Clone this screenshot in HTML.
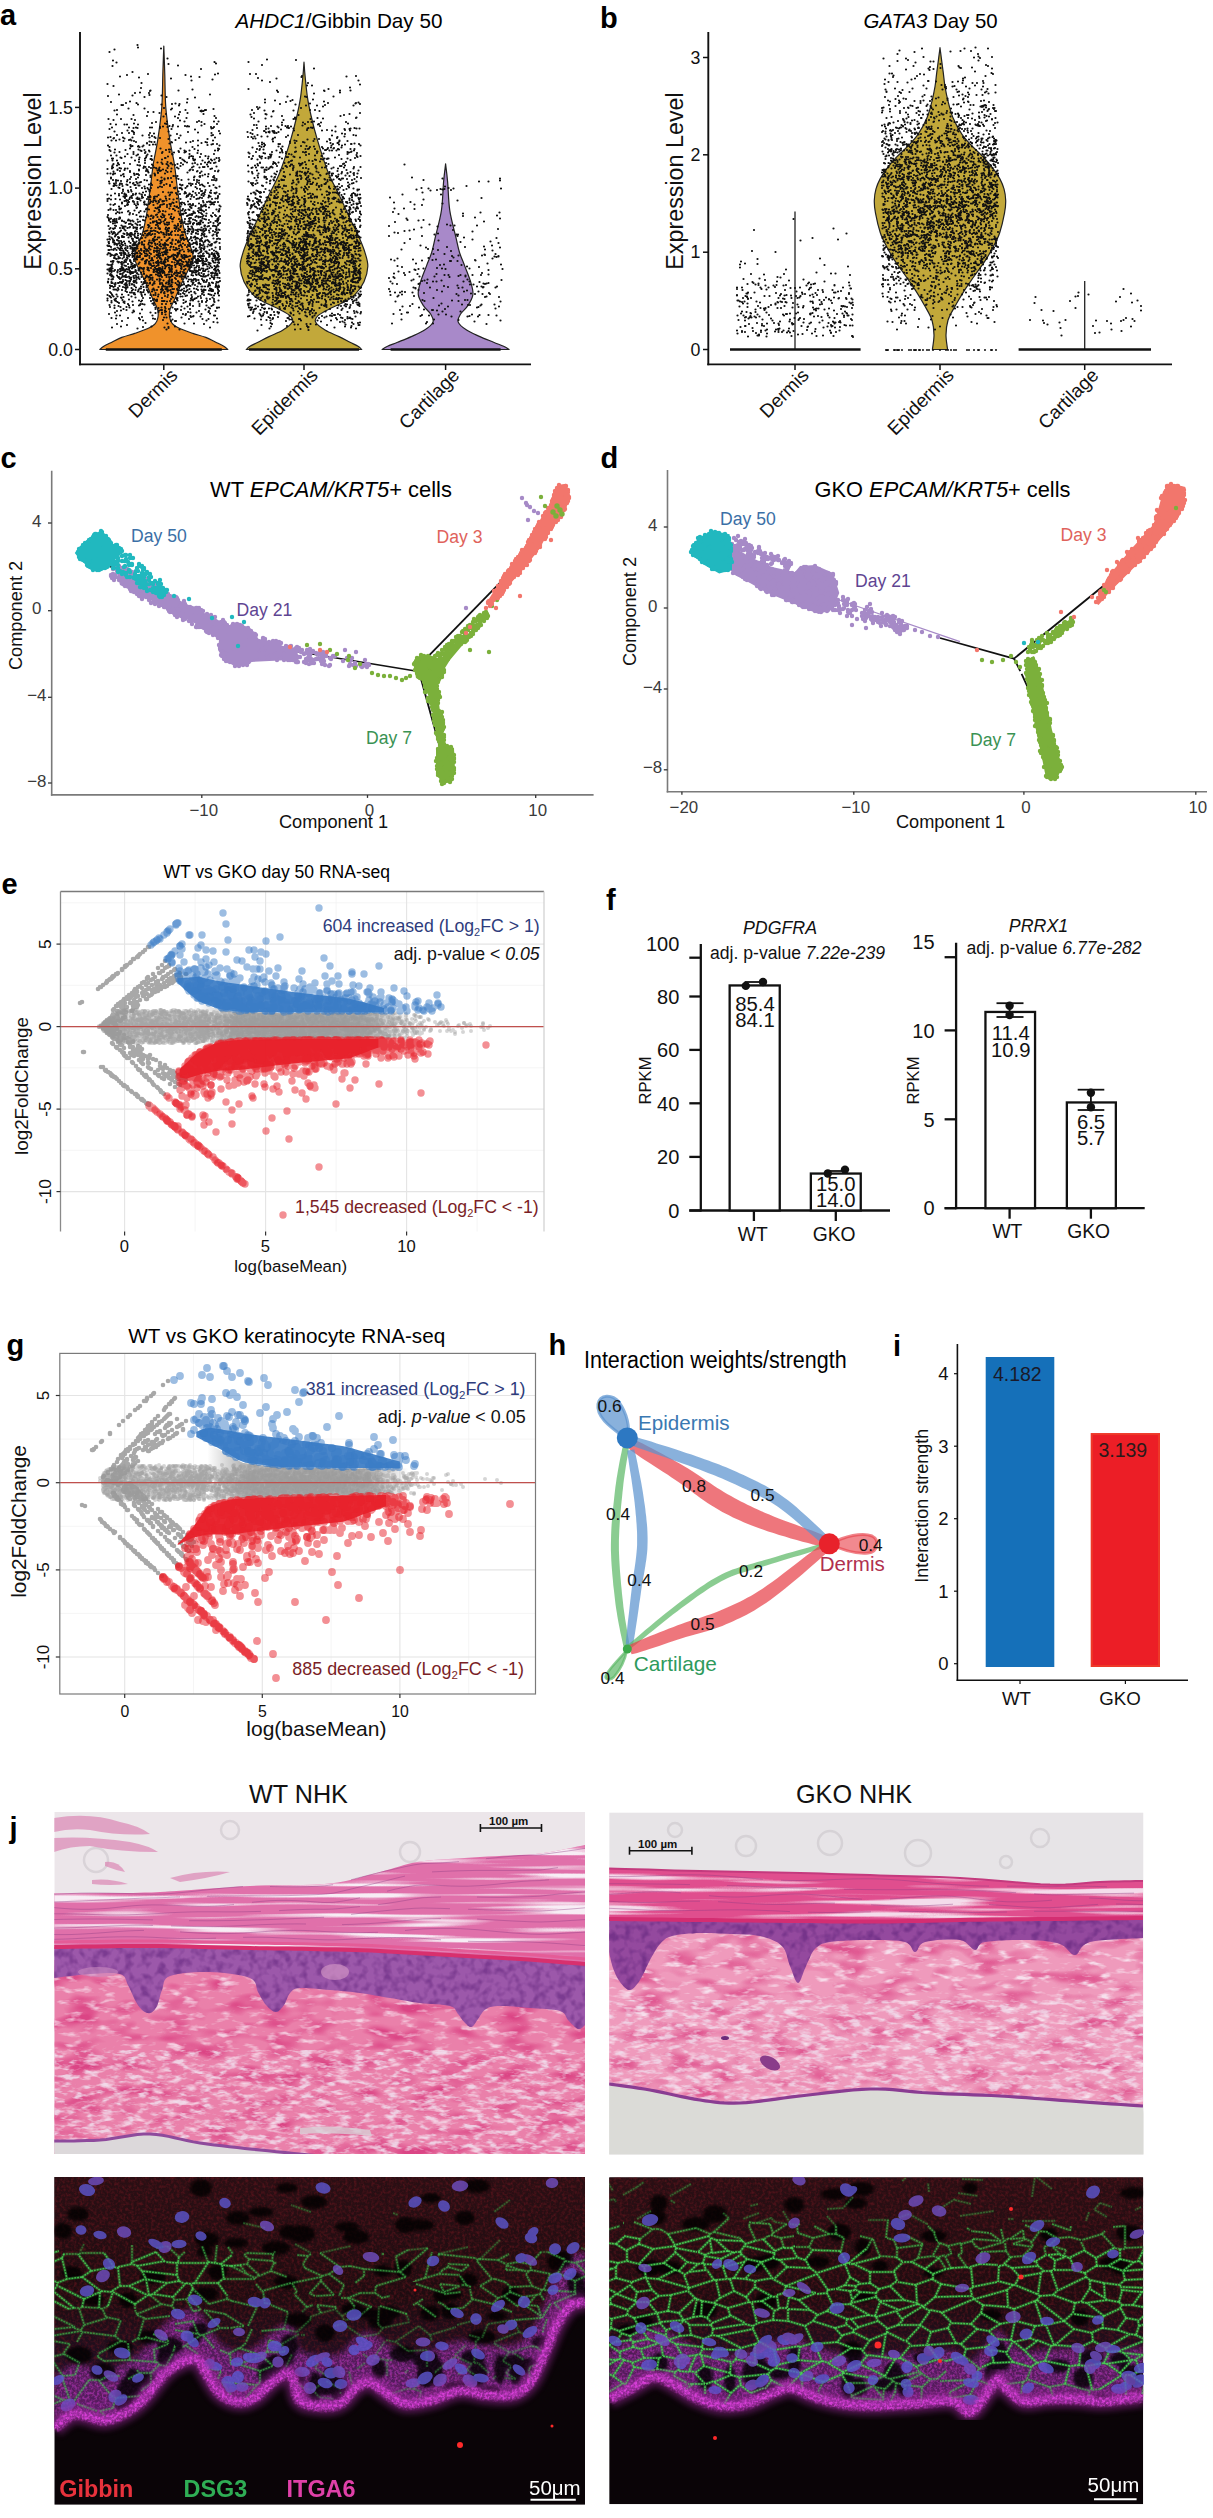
<!DOCTYPE html><html><head><meta charset="utf-8"><style>html,body{margin:0;padding:0;background:#fff;}svg{display:block;} text{font-family:"Liberation Sans", sans-serif;}</style></head><body><svg width="1213" height="2518" viewBox="0 0 1213 2518"><rect width="1213" height="2518" fill="#fff"/><g id="pa">
<text x="0.0" y="25.2" font-size="29" font-weight="bold">a</text>
<text x="235.5" y="28" font-size="20.7"><tspan font-style="italic">AHDC1</tspan>/Gibbin Day 50</text>
<line x1="80.0" y1="32.0" x2="80.0" y2="365.3" stroke="#111" stroke-width="1.9" />
<line x1="79.0" y1="364.4" x2="531.0" y2="364.4" stroke="#111" stroke-width="1.9" />
<line x1="75.0" y1="349.5" x2="80.0" y2="349.5" stroke="#111" stroke-width="1.5" />
<text x="73.0" y="355.8" font-size="17.8" text-anchor="end" fill="#111">0.0</text>
<line x1="75.0" y1="268.8" x2="80.0" y2="268.8" stroke="#111" stroke-width="1.5" />
<text x="73.0" y="275.1" font-size="17.8" text-anchor="end" fill="#111">0.5</text>
<line x1="75.0" y1="188.1" x2="80.0" y2="188.1" stroke="#111" stroke-width="1.5" />
<text x="73.0" y="194.4" font-size="17.8" text-anchor="end" fill="#111">1.0</text>
<line x1="75.0" y1="107.4" x2="80.0" y2="107.4" stroke="#111" stroke-width="1.5" />
<text x="73.0" y="113.7" font-size="17.8" text-anchor="end" fill="#111">1.5</text>
<line x1="163.8" y1="364.4" x2="163.8" y2="370.0" stroke="#111" stroke-width="1.5" />
<line x1="304.0" y1="364.4" x2="304.0" y2="370.0" stroke="#111" stroke-width="1.5" />
<line x1="445.6" y1="364.4" x2="445.6" y2="370.0" stroke="#111" stroke-width="1.5" />
<text x="41.0" y="181.0" font-size="23.3" text-anchor="middle" fill="#111" transform="rotate(-90 41.0 181.0)">Expression Level</text>
<text x="178.8" y="376.5" font-size="19" text-anchor="end" fill="#111" transform="rotate(-45 178.8 376.5)">Dermis</text>
<text x="319.0" y="376.5" font-size="19" text-anchor="end" fill="#111" transform="rotate(-45 319.0 376.5)">Epidermis</text>
<text x="460.6" y="376.5" font-size="19" text-anchor="end" fill="#111" transform="rotate(-45 460.6 376.5)">Cartilage</text>
<path d="M227.8 349.5C227.1 349.0 225.8 347.5 223.8 346.3C221.8 345.1 218.8 343.7 215.8 342.2C212.8 340.8 209.6 338.9 205.8 337.4C202.0 335.9 197.1 334.8 192.8 333.4C188.5 331.9 183.2 330.1 179.8 328.5C176.4 326.9 174.0 325.6 172.3 323.7C170.6 321.8 170.0 319.6 169.6 317.2C169.2 314.8 169.2 312.4 170.1 309.1C171.1 305.9 173.2 302.6 175.3 297.9C177.4 293.1 180.6 285.5 182.8 280.7C185.0 276.0 186.9 273.1 188.6 269.3C190.3 265.4 192.9 261.5 193.2 257.7C193.5 253.8 191.6 250.0 190.3 246.2C189.1 242.4 187.0 238.7 185.7 234.9C184.5 231.1 183.7 227.5 182.8 223.6C181.9 219.7 181.1 215.4 180.5 211.5C179.9 207.6 179.5 203.9 179.0 200.0C178.5 196.1 178.1 194.1 177.3 188.1C176.5 182.1 175.6 172.0 174.3 163.9C173.1 155.8 171.2 149.1 169.8 139.7C168.4 130.3 166.6 118.2 165.8 107.4C165.0 96.6 165.1 85.3 164.8 75.1C164.5 64.9 164.0 50.9 163.8 46.1L163.8 46.1C163.6 50.9 163.1 64.9 162.8 75.1C162.5 85.3 162.6 96.6 161.8 107.4C161.0 118.2 159.2 130.3 157.8 139.7C156.4 149.1 154.6 155.8 153.3 163.9C152.1 172.0 151.1 182.1 150.3 188.1C149.5 194.1 149.1 196.1 148.6 200.0C148.1 203.9 147.7 207.6 147.1 211.5C146.5 215.4 145.7 219.7 144.8 223.6C143.9 227.5 143.2 231.1 141.9 234.9C140.7 238.7 138.6 242.4 137.3 246.2C136.1 250.0 134.1 253.8 134.4 257.7C134.7 261.5 137.3 265.4 139.0 269.3C140.7 273.1 142.6 276.0 144.8 280.7C147.0 285.5 150.2 293.1 152.3 297.9C154.4 302.6 156.6 305.9 157.5 309.1C158.4 312.4 158.4 314.8 158.0 317.2C157.6 319.6 157.0 321.8 155.3 323.7C153.6 325.6 151.2 326.9 147.8 328.5C144.4 330.1 139.1 331.9 134.8 333.4C130.5 334.8 125.6 335.9 121.8 337.4C118.0 338.9 114.8 340.8 111.8 342.2C108.8 343.7 105.8 345.1 103.8 346.3C101.8 347.5 100.5 349.0 99.8 349.5Z" fill="#F0922B" stroke="#222" stroke-width="1.2" stroke-linejoin="round"/>
<path d="M361.7 349.5C361.1 349.0 359.9 347.5 358.0 346.3C356.1 345.1 353.2 343.9 350.0 342.2C346.8 340.6 343.2 338.6 339.0 336.6C334.8 334.6 328.9 332.6 325.0 330.1C321.1 327.7 316.8 324.5 315.6 322.1C314.4 319.6 315.5 317.9 318.0 315.6C320.5 313.3 325.9 310.8 330.6 308.3C335.3 305.9 341.9 303.4 346.0 301.1C350.1 298.8 352.0 297.9 355.0 294.6C358.0 291.4 361.9 286.4 364.0 281.7C366.1 277.0 367.6 271.2 367.8 266.4C368.0 261.5 366.4 257.4 365.0 252.7C363.6 248.0 361.7 243.5 359.4 238.1C357.1 232.8 354.3 227.4 351.0 220.4C347.7 213.4 343.5 204.2 339.7 196.2C335.9 188.1 331.7 181.4 328.0 172.0C324.3 162.5 320.1 149.1 317.3 139.7C314.5 130.3 312.6 122.5 311.0 115.5C309.4 108.5 308.5 104.4 307.5 97.7C306.5 91.0 305.6 81.0 305.0 75.1C304.4 69.2 304.2 64.4 304.0 62.2L304.0 62.2C303.8 64.4 303.6 69.2 303.0 75.1C302.4 81.0 301.5 91.0 300.5 97.7C299.5 104.4 298.6 108.5 297.0 115.5C295.4 122.5 293.5 130.3 290.7 139.7C287.9 149.1 283.7 162.5 280.0 172.0C276.3 181.4 272.1 188.1 268.3 196.2C264.5 204.2 260.3 213.4 257.0 220.4C253.7 227.4 250.9 232.8 248.6 238.1C246.3 243.5 244.4 248.0 243.0 252.7C241.6 257.4 240.0 261.5 240.2 266.4C240.4 271.2 241.9 277.0 244.0 281.7C246.1 286.4 250.0 291.4 253.0 294.6C256.0 297.9 257.9 298.8 262.0 301.1C266.1 303.4 272.7 305.9 277.4 308.3C282.1 310.8 287.5 313.3 290.0 315.6C292.5 317.9 293.6 319.6 292.4 322.1C291.2 324.5 286.9 327.7 283.0 330.1C279.1 332.6 273.2 334.6 269.0 336.6C264.8 338.6 261.2 340.6 258.0 342.2C254.8 343.9 251.9 345.1 250.0 346.3C248.1 347.5 246.9 349.0 246.3 349.5Z" fill="#C2A83A" stroke="#222" stroke-width="1.2" stroke-linejoin="round"/>
<path d="M509.1 349.5C508.2 349.0 506.2 347.5 503.6 346.3C501.0 345.1 497.6 343.9 493.6 342.2C489.7 340.6 484.4 338.6 479.9 336.6C475.4 334.6 470.2 332.6 466.6 330.1C463.0 327.7 459.2 324.8 458.2 322.1C457.2 319.4 459.0 316.7 460.6 314.0C462.2 311.3 465.6 309.2 467.6 305.9C469.7 302.7 472.4 298.7 472.9 294.6C473.4 290.6 472.0 286.6 470.6 281.7C469.2 276.9 466.4 270.4 464.6 265.6C462.8 260.7 461.0 257.2 459.6 252.7C458.2 248.1 457.7 245.1 456.1 238.1C454.5 231.1 451.2 220.1 449.8 210.7C448.4 201.3 448.3 189.4 447.6 181.6C446.9 173.8 445.9 166.8 445.6 163.9L445.6 163.9C445.3 166.8 444.3 173.8 443.6 181.6C442.9 189.4 442.8 201.3 441.4 210.7C440.0 220.1 436.7 231.1 435.1 238.1C433.5 245.1 433.0 248.1 431.6 252.7C430.2 257.2 428.4 260.7 426.6 265.6C424.8 270.4 422.0 276.9 420.6 281.7C419.2 286.6 417.8 290.6 418.3 294.6C418.8 298.7 421.6 302.7 423.6 305.9C425.7 309.2 429.0 311.3 430.6 314.0C432.2 316.7 434.0 319.4 433.0 322.1C432.0 324.8 428.2 327.7 424.6 330.1C421.0 332.6 415.8 334.6 411.3 336.6C406.8 338.6 401.6 340.6 397.6 342.2C393.7 343.9 390.2 345.1 387.6 346.3C385.0 347.5 383.0 349.0 382.1 349.5Z" fill="#A889C9" stroke="#222" stroke-width="1.2" stroke-linejoin="round"/>
<path transform="scale(0.5)" d="M275 90h0m1 5h0m-57 9h0m10-5h0m93-2h0m13 20h0m199 2h0m-308 2h0m7 4h0m104 3h0m19 3h0m73-7h0m3 3h0m65-3h0m27 6h0m68-10h0m-367 12h0m177 6h0m226-1h0m-388 16h0m14-3h0m11-6h0m13 11h0m18-7h0m75 2h0m11 3h0m17 1h0m31-5h0m6-2h0m64 1h0m12 0h0m91 6h0m1-2h0m89 1h0m19-1h0m-429 14h0m59-9h0m41 4h0m42-2h0m91-3h0m8 5h0m16 3h0m13-7h0m63 9h0m101-5h0m-502 7h0m12 4h0m55 4h0m103 3h0m112-1h0m117-7h0m10 0h0m33 7h0m43-3h0m20-6h0m-482 20h0m27 2h0m5-5h0m10-1h0m18 1h0m1 4h0m1-8h0m1-1h0m22 10h0m34-10h0m63 8h0m134-8h0m2 3h0m72 3h0m20-6h0m1 1h0m31 3h0m0-4h0m21 0h0m-485 11h0m44 11h0m29-9h0m44 0h0m42 4h0m15-3h0m140 4h0m20 2h0m25-8h0m6 9h0m4-2h0m25-7h0m3 1h0m13 5h0m22 4h0m19-10h0m-445 11h0m21 6h0m3 0h0m6-4h0m21 0h0m3 3h0m47 0h0m21-1h0m7-1h0m7 4h0m1-3h0m15-3h0m24 10h0m116-1h0m5 1h0m11-10h0m30 3h0m12-4h0m19 5h0m21 2h0m8-4h0m14 4h0m12 2h0m4-3h0m6-4h0m51 5h0m4-4h0m1-1h0m5-1h0m3 3h0m-491 13h0m5-1h0m23-3h0m32 0h0m7 7h0m11 0h0m12 2h0m9-10h0m14 3h0m2-2h0m16 7h0m11-4h0m4 6h0m26-4h0m2-1h0m0 2h0m1-1h0m3 0h0m3-2h0m2 0h0m15-2h0m77 2h0m4 6h0m8-8h0m13 3h0m17 2h0m1-1h0m40-1h0m15-5h0m18 4h0m10 0h0m9 2h0m81 4h0m-503 12h0m17-9h0m8 9h0m21 0h0m4-8h0m27 2h0m33 1h0m5-5h0m18 5h0m6 3h0m2-7h0m15 7h0m34-8h0m22 4h0m3 4h0m69-7h0m2 5h0m5 3h0m23 0h0m0-9h0m2 1h0m10 4h0m21-1h0m23 6h0m3-3h0m1 3h0m6-8h0m24 8h0m14-2h0m11 1h0m35-5h0m7-2h0m11-2h0m13 8h0m1-1h0m-492 13h0m6-8h0m5 9h0m17 0h0m5 0h0m14-2h0m2-7h0m6 9h0m28-3h0m8-2h0m18 3h0m3 1h0m1-5h0m12 7h0m14-9h0m9 2h0m25 1h0m4-2h0m5 9h0m0-7h0m6 4h0m19-5h0m6 5h0m3-5h0m71 7h0m5 0h0m4-7h0m47 7h0m0-5h0m3-5h0m38 11h0m1-6h0m4 3h0m6-4h0m7 0h0m5-1h0m8 6h0m2-1h0m4-3h0m50-1h0m4 3h0m-477 11h0m5-3h0m5 8h0m26-2h0m3-6h0m6 7h0m2 1h0m1-7h0m5-1h0m3 1h0m25-1h0m4 0h0m16-1h0m0 2h0m6-3h0m9 1h0m2 9h0m2-11h0m4 6h0m2-5h0m11 0h0m14-1h0m4 1h0m1-1h0m3 1h0m12 6h0m32-5h0m1 3h0m3-1h0m2-2h0m10 8h0m67-2h0m9-4h0m14 6h0m1 0h0m3-4h0m0-5h0m5 4h0m2 6h0m3-11h0m3 10h0m3 0h0m7-9h0m2 2h0m5 4h0m9-7h0m3 3h0m2-3h0m1 4h0m1 0h0m4-3h0m5 4h0m1 4h0m26-1h0m1-3h0m2-1h0m5-1h0m3 1h0m1-1h0m14-3h0m4 9h0m10-1h0m10 1h0m7-8h0m0 10h0m18-5h0m1 2h0m9-2h0m1 3h0m1-4h0m8-1h0m4 1h0m6 0h0m-503 18h0m5-1h0m13-4h0m10-4h0m2 9h0m12-9h0m7 9h0m3-7h0m0-3h0m17 6h0m13-1h0m1 5h0m1-9h0m4 6h0m4-5h0m1 7h0m32-3h0m13-3h0m7 3h0m15-7h0m20 1h0m27 6h0m0-5h0m3 4h0m4 5h0m10-8h0m55-3h0m1 10h0m5-8h0m2 8h0m2-6h0m4 5h0m6-3h0m8 3h0m9-8h0m3 8h0m2-9h0m2 1h0m8 0h0m2-1h0m0 2h0m1 9h0m3-9h0m4-2h0m15 10h0m4-3h0m20-1h0m68 1h0m11 3h0m9-7h0m5 6h0m1-5h0m17 2h0m5 1h0m-489 10h0m4-4h0m1-1h0m4 5h0m7-2h0m8 3h0m2-5h0m9 3h0m3-1h0m2 2h0m5 1h0m4 2h0m22 3h0m0-1h0m5-3h0m4 1h0m6 0h0m2-8h0m9 0h0m17 2h0m2 9h0m4-3h0m1 1h0m7-5h0m7-4h0m14 9h0m9-1h0m5-2h0m10-1h0m7 5h0m8-2h0m3 1h0m1-7h0m11 3h0m80-4h0m5 0h0m6 9h0m7-1h0m4 2h0m17-8h0m1 4h0m0-6h0m34 9h0m0-3h0m9-2h0m1 5h0m3-4h0m13 2h0m3 1h0m6-6h0m12 3h0m2-4h0m9 0h0m16 5h0m5-5h0m1 2h0m1 6h0m13-10h0m1 10h0m2-1h0m2-3h0m0-1h0m16 1h0m14 5h0m-493 4h0m3 3h0m11 5h0m30-2h0m1-6h0m0-1h0m1 3h0m3-1h0m11 1h0m1 6h0m0-7h0m2 2h0m6-1h0m2-2h0m12-1h0m7-1h0m5 0h0m10 8h0m17 2h0m2 0h0m21-2h0m24-3h0m4 4h0m7-7h0m19-1h0m8-1h0m3-1h0m8 0h0m2 9h0m1 1h0m1 0h0m1-7h0m66 4h0m9 3h0m5-6h0m1 6h0m3-4h0m1-5h0m3 10h0m1-6h0m2-3h0m27 3h0m0-5h0m3 0h0m2 9h0m3-4h0m26 2h0m11-3h0m9 6h0m2-6h0m3 6h0m2-1h0m2-3h0m8-1h0m2 5h0m14-4h0m2 3h0m9 1h0m1-2h0m6-1h0m1-4h0m3-3h0m1 9h0m1-1h0m8 2h0m2-9h0m0 10h0m5-4h0m1-4h0m6-2h0m11 9h0m1-10h0m1 0h0m6 10h0m9-10h0m3 3h0m-502 9h0m2 2h0m1 9h0m7-6h0m4 6h0m6-7h0m12-4h0m4 8h0m12 0h0m0-4h0m6 7h0m3-2h0m5-8h0m2 1h0m6-2h0m1 6h0m1-2h0m4 5h0m3-8h0m1 2h0m25 3h0m1-2h0m7-4h0m7 4h0m5 4h0m1 1h0m3-4h0m9-3h0m1 2h0m11-3h0m0 4h0m2-1h0m1-1h0m7 5h0m0-7h0m16 5h0m1-5h0m6 7h0m26 0h0m2-7h0m6 0h0m61 4h0m2 2h0m13-3h0m7-4h0m8 6h0m3 1h0m10 2h0m3 0h0m1-5h0m9-3h0m7 4h0m4-5h0m0 2h0m1 3h0m7-1h0m0 3h0m6 1h0m5 1h0m7-5h0m2-1h0m14 1h0m4 1h0m2-1h0m0 6h0m6-2h0m12 3h0m4-5h0m0-3h0m1 0h0m12 4h0m3-7h0m2 0h0m7 1h0m5 0h0m9 0h0m5 9h0m17-6h0m0 4h0m3-3h0m4-1h0m1-1h0m5-2h0m5 9h0m1-4h0m-499 15h0m9-4h0m1 4h0m1-4h0m8 4h0m7-6h0m2 1h0m7-3h0m13 2h0m7 6h0m8-2h0m1-4h0m11 2h0m0 4h0m2-6h0m1-3h0m8 6h0m1 0h0m1-6h0m1 8h0m0-1h0m20 0h0m6-3h0m1 0h0m5-3h0m24 3h0m1 0h0m4 3h0m3 2h0m2 2h0m8-7h0m1-3h0m4-1h0m3 1h0m0 4h0m1 3h0m2 1h0m1-2h0m10-5h0m5 7h0m6-9h0m5 5h0m1-4h0m1 10h0m4-4h0m2 2h0m5-2h0m4-3h0m5 6h0m0-6h0m1 4h0m59-6h0m5 4h0m1-1h0m2-5h0m9 7h0m4-7h0m1 2h0m3 3h0m1-4h0m7 3h0m6-2h0m0 3h0m4-4h0m0 2h0m1-3h0m17 2h0m5 3h0m9-3h0m3 0h0m6 8h0m2-1h0m3-8h0m2 1h0m11 1h0m18 6h0m7 1h0m5-3h0m2 1h0m8 3h0m2-5h0m1-6h0m3 7h0m3-2h0m5 1h0m1-1h0m2 0h0m13-2h0m13 3h0m12-1h0m6 3h0m9-4h0m4-3h0m1 1h0m6-2h0m-497 22h0m1-3h0m1 4h0m1-7h0m7 3h0m2-5h0m0 1h0m2 2h0m10-3h0m12 2h0m15 2h0m3-6h0m1 7h0m1 0h0m8 2h0m2-7h0m1 8h0m7 0h0m6-5h0m2 2h0m2 4h0m7-10h0m4 10h0m4-10h0m2 3h0m8 0h0m2 1h0m0-5h0m2 8h0m4-5h0m1-1h0m3 3h0m5 1h0m4 5h0m1-7h0m6 4h0m1-6h0m4 3h0m8-4h0m10 10h0m1-8h0m2 6h0m3-7h0m5 3h0m4 6h0m3-7h0m4 6h0m3 0h0m1-9h0m4 4h0m2-4h0m0 8h0m5-7h0m7 0h0m3-1h0m2 8h0m63-2h0m9 4h0m5-4h0m2 4h0m3-7h0m1 3h0m4-5h0m0-1h0m3 10h0m3 0h0m7 0h0m8-1h0m2-1h0m2 2h0m1-7h0m1-4h0m2 2h0m1 0h0m2 2h0m2 4h0m3-7h0m12 1h0m2 6h0m1 0h0m2 2h0m3-9h0m1-1h0m2 8h0m2-3h0m2 0h0m3 6h0m0-3h0m11-5h0m2 4h0m1-3h0m2 1h0m2-3h0m5-2h0m2 5h0m14-1h0m5 6h0m1-2h0m12 3h0m6 0h0m2-9h0m1 6h0m4-4h0m10 7h0m13-3h0m3 0h0m3-4h0m2-1h0m0 8h0m2-4h0m2-7h0m16 10h0m13 0h0m88-5h0m-594 18h0m0-9h0m6 9h0m3-10h0m3 6h0m0 4h0m3 0h0m5-7h0m0-1h0m4-3h0m1 6h0m2-5h0m7 3h0m1-3h0m5 0h0m5 5h0m0 2h0m8 3h0m10-8h0m0 2h0m9-5h0m5 6h0m1-4h0m2 2h0m1 3h0m1 2h0m5-9h0m7 11h0m3-11h0m1 1h0m2 4h0m1 5h0m0-1h0m2-7h0m0 2h0m2 2h0m2-1h0m4-2h0m4 8h0m2-6h0m3-5h0m0 8h0m7-1h0m1-6h0m14 0h0m18 8h0m4-4h0m1-1h0m1-1h0m5 1h0m8 3h0m1-1h0m5 4h0m3-3h0m18-5h0m3-1h0m6 5h0m6 1h0m1-2h0m60 2h0m6-7h0m1 8h0m1 3h0m9-6h0m3 6h0m12-3h0m0-4h0m1-1h0m3 1h0m4-2h0m2-2h0m10 11h0m5-4h0m7-2h0m5-4h0m2 7h0m18-7h0m0 3h0m7 5h0m0 2h0m1-1h0m1-3h0m5 0h0m4 1h0m2-8h0m3 11h0m1-2h0m2 2h0m0-11h0m3 9h0m1-2h0m1-5h0m3 9h0m1 0h0m12-10h0m0 6h0m4 2h0m17 2h0m5-3h0m0 2h0m4-9h0m1 10h0m2 0h0m9-5h0m1-5h0m7 10h0m1-3h0m9-4h0m2 7h0m0-1h0m6-2h0m6 3h0m0-10h0m1 9h0m7 1h0m2-6h0m-495 14h0m0 2h0m4-8h0m16 2h0m4-2h0m1-1h0m1 5h0m12 5h0m2-4h0m7-4h0m3 8h0m1-10h0m3 7h0m0-7h0m2 2h0m14 0h0m9 4h0m0-3h0m9-2h0m0 2h0m13 4h0m6 3h0m0-1h0m0 2h0m7-3h0m0 1h0m6-1h0m5-4h0m4 0h0m2 4h0m2-4h0m2 6h0m20 1h0m11-4h0m1-2h0m10 0h0m1-1h0m0 2h0m5-3h0m5-2h0m6 4h0m1-5h0m9 6h0m2-2h0m1 4h0m4 2h0m76-2h0m6-5h0m1 4h0m13-2h0m0 2h0m3-1h0m1 4h0m1 0h0m9-5h0m4 6h0m2-4h0m1-1h0m2-5h0m11 10h0m4-7h0m3 2h0m0-1h0m10-4h0m12 2h0m2 8h0m0-11h0m1 4h0m1 6h0m4-7h0m2 1h0m0 6h0m1-2h0m8-6h0m1 8h0m2-3h0m2 0h0m1-3h0m2 7h0m6-10h0m2 7h0m4 2h0m6-2h0m3-6h0m1 1h0m8 7h0m1 1h0m3-11h0m6 7h0m4-4h0m1 0h0m0-3h0m3 11h0m5-7h0m2 3h0m2-2h0m1-4h0m1 9h0m1 0h0m5-1h0m2 0h0m5-6h0m3 7h0m5-6h0m9-2h0m1 8h0m5-4h0m8 2h0m102-1h0m61 2h0m115 0h0m-782 6h0m1 4h0m7-7h0m2 7h0m0 4h0m2-1h0m2-4h0m0-6h0m0 2h0m1 9h0m3-10h0m3 9h0m1-3h0m2 0h0m0-5h0m2 6h0m9 1h0m1-6h0m1 7h0m0-10h0m5 5h0m6 2h0m1-1h0m2 4h0m2 0h0m2-6h0m2 3h0m2 4h0m2 0h0m0-6h0m3-1h0m7-4h0m5 1h0m4 8h0m4-2h0m2 3h0m11-10h0m6 3h0m0 4h0m0-5h0m2 3h0m1-4h0m4 9h0m5-2h0m7 2h0m4-6h0m16 5h0m3 2h0m0-11h0m2 10h0m13-3h0m3 0h0m1 4h0m3-3h0m3-8h0m4 8h0m2-8h0m0 4h0m4 2h0m0-5h0m2 9h0m4-1h0m2 2h0m10-5h0m8-6h0m3 10h0m1-10h0m4 1h0m1-1h0m64 3h0m5 3h0m2 3h0m2-3h0m0 5h0m5-3h0m2-7h0m2 5h0m9 5h0m9-6h0m7 2h0m0-5h0m1-1h0m7 0h0m10 8h0m0-7h0m5-2h0m2 0h0m3 11h0m0-11h0m16 7h0m2-6h0m1 4h0m6 4h0m4-6h0m0 2h0m17 4h0m1-3h0m0-5h0m1 2h0m4 0h0m1 5h0m3 0h0m2-3h0m7 5h0m1-3h0m9 4h0m0-1h0m6-2h0m2 0h0m1-2h0m3-3h0m0-3h0m5 0h0m3 1h0m15 7h0m3-8h0m15 5h0m3 4h0m5-2h0m0-7h0m3 6h0m6-3h0m134-3h0m111 3h0m19 0h0m23-2h0m-777 17h0m4-6h0m1 0h0m9 3h0m2 1h0m6-4h0m1 10h0m0-3h0m10 2h0m5-7h0m1 6h0m1 3h0m9-7h0m12 0h0m5-3h0m1 4h0m2 6h0m3-7h0m2 3h0m2 4h0m0-3h0m1 1h0m2-5h0m14-1h0m4-2h0m4 1h0m16-2h0m8 4h0m2 1h0m1-2h0m6 8h0m2-7h0m2 0h0m2 1h0m1 2h0m7-3h0m3-3h0m1-1h0m11 11h0m5-9h0m3 3h0m6 1h0m2 4h0m2 0h0m5-9h0m2 7h0m8-8h0m3 9h0m9-6h0m2 1h0m6-3h0m74 8h0m2 1h0m11-10h0m5 6h0m8 3h0m10 1h0m2-8h0m0 2h0m2 4h0m2-6h0m1-1h0m1 2h0m3-1h0m5 3h0m3 6h0m0-11h0m4 0h0m4 10h0m7-1h0m1-7h0m1 3h0m2 1h0m5-1h0m1 3h0m0-3h0m0 4h0m0 2h0m10-8h0m5 5h0m0-2h0m2-5h0m0 10h0m2-7h0m3 3h0m3-5h0m16 5h0m4-7h0m0 2h0m0-1h0m3 6h0m2-7h0m10 11h0m1 0h0m4-10h0m0 2h0m2 2h0m8 1h0m1-5h0m2 1h0m4 5h0m0-6h0m1 5h0m1 1h0m3-4h0m4-3h0m3 8h0m6-2h0m3-6h0m2 3h0m0-1h0m9 3h0m8 2h0m0 2h0m3-2h0m115 0h0m10-3h0m14 1h0m4 4h0m13-1h0m7-2h0m4 1h0m1 0h0m3-1h0m1-5h0m7 3h0m5 4h0m5-3h0m26-5h0m69 5h0m-787 12h0m7 2h0m8-4h0m8 1h0m0 3h0m6-5h0m3 7h0m2-6h0m0 2h0m1 4h0m0 2h0m1-3h0m1-3h0m1 3h0m4-8h0m3 11h0m3-3h0m0 1h0m3-5h0m0 2h0m5-1h0m1-2h0m3 8h0m4-8h0m4 2h0m1 4h0m0-3h0m2-5h0m0 10h0m4-5h0m6 4h0m3 0h0m1-2h0m1 2h0m7 0h0m2-1h0m4 0h0m3-3h0m9-6h0m5 9h0m6-8h0m2 6h0m1-2h0m2-4h0m2 0h0m8 1h0m2 3h0m6-1h0m9-1h0m1-3h0m2 2h0m1 8h0m1-3h0m2 1h0m1-2h0m2-3h0m1 1h0m3 5h0m1-3h0m4 4h0m3-8h0m2 4h0m5-4h0m2 9h0m3-5h0m2-3h0m2 5h0m1-6h0m1 3h0m1-5h0m7 11h0m1-3h0m0-1h0m2-6h0m1 8h0m1-7h0m7 0h0m2 1h0m2-2h0m3 7h0m0 2h0m3-6h0m57 5h0m6-6h0m5-2h0m2 0h0m2 2h0m0 2h0m7-5h0m2 9h0m0-7h0m1-2h0m1 1h0m0 9h0m6-10h0m5 11h0m3-1h0m6-4h0m1-5h0m6-1h0m0 8h0m2 3h0m2-6h0m3 5h0m0-9h0m10 7h0m5-7h0m0-1h0m0 8h0m3-1h0m1-2h0m1 5h0m4 1h0m5-1h0m2-2h0m0-5h0m2 7h0m3-8h0m2 7h0m10 2h0m5-3h0m1-8h0m6 4h0m4-1h0m1 8h0m1-3h0m3-4h0m1 1h0m3 6h0m1-2h0m4 0h0m0 2h0m10-6h0m5 6h0m5-5h0m4-1h0m0-4h0m2 1h0m6-1h0m2 10h0m2-10h0m4 0h0m0 1h0m3 2h0m0 1h0m1-2h0m1-2h0m4 5h0m2 4h0m1 0h0m3-6h0m13 3h0m2 4h0m0-7h0m0 4h0m3-6h0m3 2h0m1 3h0m3 0h0m1-2h0m5 0h0m60 6h0m25-6h0m40-4h0m37 4h0m-667 13h0m0-4h0m3-1h0m4 2h0m9-1h0m9 1h0m4 6h0m0 2h0m5-5h0m1-6h0m2 5h0m1 1h0m0-2h0m2 6h0m1-5h0m2 3h0m1-6h0m5-2h0m2 6h0m0 1h0m1 0h0m1 1h0m5-7h0m2 1h0m0 6h0m0 3h0m3-9h0m1-1h0m2 4h0m3-5h0m4 9h0m1 1h0m0-3h0m5-5h0m6 8h0m0-7h0m1 4h0m1 0h0m4 1h0m1-3h0m1-4h0m1 0h0m2 4h0m1 2h0m3 4h0m2-5h0m1 2h0m2-5h0m1 0h0m4 4h0m0-1h0m1 1h0m2-1h0m4-5h0m1 4h0m6-3h0m6 7h0m2 1h0m0-7h0m6 5h0m1-7h0m7 1h0m0 8h0m3-1h0m4 1h0m8-3h0m5-5h0m12 0h0m3-1h0m2 0h0m0 10h0m6-11h0m2 6h0m1 3h0m7-1h0m4-1h0m2 1h0m1-1h0m2 2h0m1-7h0m0 8h0m3-1h0m3-1h0m1-7h0m4 0h0m1 7h0m58 2h0m1-8h0m2 1h0m1 0h0m1 2h0m7 1h0m3 5h0m2-11h0m3 8h0m0-6h0m2 9h0m0-8h0m2 2h0m0 2h0m2-1h0m0-2h0m3 5h0m8-2h0m4-2h0m4-4h0m1 3h0m6 4h0m2-8h0m2 9h0m1 2h0m0-11h0m3 10h0m0-10h0m6 10h0m2-7h0m2 1h0m1-4h0m2 7h0m4-3h0m1 0h0m2 3h0m0-3h0m2 5h0m0-7h0m2 5h0m0-5h0m5 4h0m2 1h0m0 4h0m1-8h0m1 8h0m1-1h0m7-3h0m0 4h0m1-11h0m1 9h0m1-5h0m1 0h0m9-2h0m1 8h0m0-3h0m0-3h0m1 5h0m0-7h0m1 4h0m6-6h0m5 7h0m2-7h0m5 8h0m7 2h0m6 1h0m4-5h0m4 3h0m1-1h0m5-8h0m1 3h0m0 4h0m1-6h0m5 9h0m2-9h0m2 1h0m1 0h0m3-2h0m3 7h0m3-4h0m1 4h0m0 1h0m1-1h0m1 0h0m0 2h0m4-6h0m0 6h0m1-2h0m2-6h0m1 0h0m4 7h0m1 1h0m1-1h0m1 2h0m4-6h0m0-3h0m1 8h0m4-5h0m3 3h0m6 4h0m3 0h0m1-11h0m1 3h0m1 4h0m1 3h0m0-9h0m1-1h0m67 9h0m33-1h0m26-5h0m38 8h0m30-6h0m48-5h0m-742 21h0m0 2h0m0-10h0m6 1h0m3-2h0m8 5h0m1 4h0m0 2h0m2-1h0m1-1h0m8-5h0m4-2h0m1 0h0m1-1h0m13-1h0m3 3h0m1 5h0m1-1h0m2-6h0m13 0h0m3 10h0m1-2h0m0-8h0m1 9h0m0-8h0m1 8h0m3 1h0m0-11h0m9 2h0m4 6h0m3 1h0m2-2h0m2 4h0m1-5h0m1-2h0m0 2h0m1-4h0m4-1h0m3-1h0m6 2h0m0 4h0m5 3h0m0-9h0m2 4h0m1-4h0m4 10h0m1 0h0m2-6h0m4 2h0m1-1h0m3 3h0m4-3h0m2-4h0m3 9h0m4-9h0m7 0h0m0 10h0m3-6h0m0-5h0m1 7h0m2 1h0m0-5h0m1 0h0m2-3h0m0 2h0m5 2h0m6 5h0m1-1h0m4-6h0m0 4h0m0 4h0m3-5h0m2-2h0m1 0h0m3-2h0m0 3h0m1 1h0m6 2h0m3-6h0m3-1h0m4 1h0m5 10h0m6-1h0m0-7h0m2 2h0m54-5h0m0 2h0m6 7h0m1-5h0m1-2h0m0 4h0m2-3h0m3-2h0m2 4h0m2 1h0m3 3h0m3-7h0m2 7h0m0 1h0m4-3h0m2 4h0m1-8h0m1 1h0m3 5h0m3-6h0m6 0h0m0 2h0m1-4h0m10 9h0m1-7h0m6 5h0m0-2h0m1 1h0m3 0h0m5-3h0m7 3h0m4-6h0m3 10h0m1-10h0m1 2h0m2 7h0m1-8h0m3 4h0m2 5h0m0-5h0m6-6h0m3 6h0m3-3h0m5-2h0m1 4h0m1 0h0m0 6h0m5 0h0m2-3h0m1 0h0m8 1h0m0-9h0m3 2h0m2 8h0m2-1h0m5 1h0m3-3h0m2-7h0m1 0h0m0 1h0m1 5h0m1 4h0m1-5h0m1 2h0m2 2h0m2-5h0m0 6h0m4-5h0m3-5h0m13 7h0m10 4h0m6-1h0m1-4h0m3-2h0m1 0h0m6 7h0m0-5h0m1 1h0m1 3h0m2-8h0m4 5h0m0-7h0m4 10h0m2-2h0m1-2h0m0-5h0m1-1h0m0 7h0m1 2h0m6-5h0m67 5h0m19 0h0m21 1h0m0-9h0m15 1h0m-628 20h0m1-10h0m10 0h0m5 7h0m0-7h0m3 4h0m4 1h0m0 1h0m5-1h0m12-2h0m1-1h0m2 7h0m1-3h0m6 2h0m3-7h0m4 9h0m5-5h0m3-3h0m8 1h0m6 7h0m8 1h0m6-9h0m3 8h0m2-1h0m3-4h0m1-5h0m2 3h0m5 5h0m1 2h0m0-8h0m3 9h0m2-8h0m7 6h0m5-1h0m7-7h0m7 2h0m2 4h0m1 3h0m0-1h0m1 1h0m3-2h0m0-7h0m2 8h0m1-2h0m2-5h0m2-2h0m0 6h0m1 0h0m4 5h0m3-2h0m0-9h0m1 10h0m3-2h0m1 2h0m2-3h0m1-4h0m2 2h0m1 1h0m6-4h0m2 3h0m2-5h0m2 6h0m1-5h0m1 7h0m1-7h0m2 10h0m1-8h0m4-3h0m1 7h0m9 4h0m4-5h0m4 4h0m7-7h0m1-2h0m0 2h0m58 3h0m1 3h0m1-5h0m7 1h0m2-1h0m7 6h0m3 0h0m6-7h0m2 1h0m2 5h0m2-2h0m0 2h0m1-4h0m3 4h0m2-9h0m1 1h0m1 6h0m7 2h0m0-3h0m2-5h0m1 4h0m0 2h0m0-5h0m2 1h0m7 7h0m3-5h0m9 4h0m2-8h0m4 9h0m8-3h0m2 2h0m2-6h0m4-1h0m6-1h0m1 7h0m1 2h0m0-9h0m1-1h0m0 4h0m4 2h0m0-1h0m1-5h0m2 8h0m0-7h0m2 9h0m1-10h0m2 11h0m0-8h0m1 2h0m3 4h0m4-9h0m0 11h0m1-3h0m3-3h0m1-5h0m2 8h0m7-6h0m0 2h0m1 4h0m3 0h0m2-8h0m2 2h0m1 1h0m4 5h0m1-3h0m1 3h0m2-7h0m0 2h0m1 0h0m2 5h0m2-5h0m0 8h0m3-8h0m1 8h0m1-4h0m5-2h0m1-4h0m1-1h0m0 7h0m2 2h0m12-1h0m2-5h0m0-3h0m1 4h0m8 0h0m5 4h0m0-7h0m1 6h0m1-1h0m0-4h0m1 6h0m4-3h0m2-1h0m6-2h0m8 4h0m0-3h0m2 6h0m64-5h0m11 4h0m129-1h0m35-2h0m33 6h0m5-6h0m-784 9h0m2 2h0m1 3h0m0 2h0m1-2h0m3-2h0m4 3h0m0 3h0m1-3h0m2-2h0m0 2h0m1 3h0m3-1h0m0-4h0m5 0h0m1-3h0m1 2h0m0-2h0m4 7h0m0-1h0m4 2h0m8-2h0m1-2h0m3 2h0m1 1h0m4-1h0m2 2h0m8-4h0m5-6h0m0 10h0m2-10h0m4 7h0m1-7h0m2 8h0m3-6h0m5-2h0m4 5h0m1-6h0m4 11h0m0-7h0m1-3h0m0 1h0m2 9h0m4-1h0m2-8h0m3 5h0m3 1h0m1-7h0m2 2h0m3 8h0m1-9h0m2 6h0m1-2h0m10-2h0m1-3h0m2 5h0m1 5h0m1-5h0m2-3h0m10 3h0m2 5h0m3-3h0m6 3h0m1-5h0m4-6h0m3 11h0m1-6h0m1 1h0m0 4h0m1-6h0m2 0h0m4 3h0m4 1h0m1-6h0m2 8h0m0-10h0m4 1h0m0 2h0m4 6h0m0-7h0m1 9h0m1-2h0m2-8h0m0 4h0m4 1h0m3 1h0m0-7h0m6 8h0m6-7h0m7 9h0m1-10h0m2 9h0m1-3h0m1 3h0m1-3h0m0-3h0m3-3h0m58 3h0m1 1h0m1 5h0m5-2h0m3 1h0m3 1h0m5-8h0m1 6h0m1 1h0m1-7h0m1 9h0m3-5h0m3 0h0m2 6h0m1-1h0m0-7h0m0 2h0m0 2h0m0-5h0m2 8h0m3-3h0m2-5h0m1 1h0m1 3h0m6 5h0m3-2h0m2-2h0m0-3h0m2-4h0m1 0h0m5 7h0m0-5h0m2 6h0m2 3h0m6-7h0m4-3h0m2 8h0m4-8h0m1 10h0m0-1h0m3-8h0m0 1h0m1 8h0m1-5h0m3-5h0m2 1h0m2 7h0m1 2h0m1-5h0m1 1h0m0 4h0m0-9h0m4 5h0m3 3h0m1-5h0m2-5h0m2 6h0m2-1h0m1-2h0m1 8h0m6-1h0m1-9h0m1 2h0m2 1h0m2 2h0m3 5h0m2-1h0m2-5h0m0 5h0m2-5h0m0-3h0m1 0h0m0 6h0m6 3h0m0-7h0m1 3h0m9 2h0m1-6h0m0 2h0m3 4h0m1-9h0m1 4h0m7-2h0m1 0h0m1 8h0m5 1h0m3-6h0m3 4h0m1-2h0m3 3h0m3-7h0m4 0h0m0-3h0m1 5h0m1-4h0m1 3h0m1 1h0m3-2h0m3 7h0m4-1h0m0-4h0m0-5h0m2 6h0m0 5h0m2 0h0m0-4h0m9 0h0m1 3h0m5-4h0m2-4h0m1 6h0m0 2h0m93-5h0m2 3h0m22 1h0m10-1h0m79-8h0m24 3h0m18 8h0m32-6h0m-783 15h0m4-8h0m5 3h0m4 4h0m0-5h0m2 6h0m2-7h0m9 6h0m3 2h0m3 0h0m2 0h0m0-7h0m1-1h0m6 3h0m1 7h0m1-1h0m1-7h0m2 2h0m1 1h0m1 0h0m2 4h0m4 1h0m0-8h0m3 2h0m0 6h0m1-5h0m1-6h0m4 6h0m2 5h0m3-1h0m11-4h0m1 5h0m0-5h0m1 2h0m1 0h0m2-6h0m5-1h0m6 5h0m2-5h0m1 3h0m1 4h0m2-6h0m2 1h0m2-3h0m7 3h0m1 2h0m2 6h0m2-10h0m0 4h0m1 1h0m3-5h0m0 3h0m11 3h0m1 0h0m3 2h0m0 2h0m3-7h0m0 3h0m5 3h0m1-2h0m0-5h0m1-3h0m5 2h0m1-2h0m3 4h0m4 5h0m0-5h0m4-1h0m1-3h0m2 9h0m1 1h0m2-7h0m0 2h0m2-3h0m6 1h0m0 2h0m2-1h0m1-2h0m2-1h0m0 4h0m1-4h0m1 3h0m0-4h0m2 11h0m3-10h0m3 6h0m0 2h0m1-2h0m5 2h0m2-7h0m1 6h0m3-8h0m5 8h0m1-1h0m0-5h0m3 6h0m3 1h0m2-9h0m1 6h0m1-2h0m3-2h0m55-2h0m1 2h0m1 0h0m2 9h0m0-5h0m1 3h0m1-6h0m1 7h0m3-5h0m2 6h0m4-2h0m5 1h0m11-4h0m1 3h0m2-8h0m0 9h0m1-1h0m3-5h0m1 2h0m5 5h0m1-4h0m0-4h0m1 3h0m5-4h0m3-2h0m4 0h0m0 2h0m0 6h0m5-2h0m5 1h0m2 1h0m3-4h0m6 0h0m1 6h0m6-1h0m0 2h0m1-1h0m7-1h0m3-5h0m3 1h0m0 4h0m1-3h0m3-4h0m0-2h0m2 9h0m1-1h0m4-8h0m2 5h0m3 1h0m0 4h0m0-3h0m1-2h0m3 2h0m1-4h0m1-2h0m1 6h0m1 4h0m1 0h0m0-7h0m0-3h0m0 4h0m0-5h0m1 0h0m1 0h0m0 9h0m2-9h0m0 2h0m0 2h0m3-1h0m2 5h0m2-5h0m4 8h0m1-1h0m1-10h0m1 8h0m1 1h0m3 1h0m4 1h0m2-5h0m0 2h0m0-7h0m1 9h0m6 0h0m2-5h0m1-3h0m5 0h0m3 9h0m3-5h0m1 1h0m3-7h0m2 9h0m1-5h0m1 3h0m1-1h0m5 2h0m3-7h0m3 6h0m1 4h0m1-11h0m7 7h0m1-1h0m5-1h0m4 0h0m1 4h0m0 2h0m0-1h0m10 0h0m1-3h0m57 1h0m12-8h0m53 11h0m16-6h0m16 4h0m19-4h0m7 2h0m8 0h0m45 0h0m-736 14h0m1 2h0m0-9h0m2-2h0m2 7h0m0 1h0m3-7h0m0 10h0m1-9h0m1 6h0m2 2h0m0-10h0m7 9h0m3-2h0m0-7h0m2 5h0m3-5h0m2 11h0m0-11h0m2 3h0m2 2h0m3 5h0m1-10h0m6 10h0m2 0h0m4-10h0m3 7h0m0 4h0m1-5h0m2-4h0m1 5h0m0-5h0m2 9h0m5-10h0m7 6h0m2 4h0m2-5h0m3-1h0m3 6h0m0-1h0m2 0h0m1-4h0m1-5h0m1-1h0m1 6h0m4-1h0m3 1h0m0-6h0m4 8h0m2-8h0m1 10h0m1-8h0m0-1h0m1 1h0m0-1h0m2 7h0m1 1h0m4 1h0m4-8h0m2 2h0m0 4h0m0 2h0m2-5h0m1-4h0m1 5h0m1-6h0m0 1h0m4 8h0m2-2h0m5-7h0m1 6h0m2-5h0m0 1h0m4 4h0m1-4h0m0-1h0m3 3h0m4 4h0m4 0h0m2-5h0m0 5h0m5 3h0m0-5h0m2 0h0m0-5h0m0 2h0m1 4h0m1-5h0m2 1h0m2 8h0m1-4h0m1-6h0m1 7h0m0-6h0m1 1h0m0 2h0m5 5h0m0-6h0m0 7h0m3-5h0m1-3h0m0 4h0m4-4h0m1 1h0m1 0h0m1 1h0m1 6h0m1-7h0m0 1h0m2 3h0m0-6h0m2 4h0m2-5h0m1 1h0m0 2h0m6 1h0m1 4h0m2-8h0m5 5h0m4 2h0m2-5h0m1 2h0m0-5h0m1 10h0m1 0h0m1-1h0m1-6h0m2 1h0m56 7h0m1-5h0m0 2h0m4 3h0m0-11h0m1 7h0m2-6h0m2 4h0m0 2h0m1 1h0m1 0h0m1 2h0m0-9h0m3 4h0m2 4h0m5-9h0m2 8h0m2-6h0m3 2h0m0-3h0m5 9h0m0-4h0m3 0h0m5 0h0m0-5h0m1 0h0m0 2h0m1 7h0m1-8h0m2 7h0m1-5h0m4 4h0m4-6h0m0 8h0m5 1h0m2-9h0m0 8h0m2 0h0m2-7h0m1 2h0m0 2h0m0-5h0m3 5h0m2-3h0m2 6h0m3 1h0m5-11h0m1 3h0m3-2h0m4 7h0m1 3h0m1-8h0m6 7h0m1-9h0m1 6h0m0-5h0m1 6h0m2-5h0m7-3h0m0 2h0m3 0h0m1-2h0m1 8h0m3 2h0m2-9h0m1 3h0m8 1h0m2-4h0m7 4h0m4 2h0m0-2h0m1 4h0m6 0h0m1-5h0m3 2h0m0-5h0m1 5h0m0 2h0m1-4h0m0 4h0m1-6h0m0-1h0m4 1h0m0 4h0m0-5h0m2 3h0m0-3h0m4 10h0m2-4h0m2 3h0m1 0h0m0-7h0m2 3h0m2-2h0m1-4h0m3 3h0m1 5h0m7 3h0m1-11h0m1 8h0m0-7h0m3 1h0m0 3h0m4-2h0m1 4h0m2-3h0m2 6h0m1-6h0m4-3h0m1 4h0m6 1h0m2-5h0m2 4h0m0 4h0m1 0h0m2-2h0m1 0h0m71 2h0m7 1h0m13-4h0m10-1h0m9-2h0m48 8h0m30-7h0m39 3h0m51-5h0m-781 21h0m4-1h0m0-5h0m1 6h0m3-4h0m2 2h0m0-9h0m5 5h0m1-2h0m0-1h0m1 0h0m3-2h0m1 6h0m1 2h0m1-1h0m0 1h0m6-4h0m0 2h0m1 0h0m1-1h0m2 1h0m1-6h0m5 2h0m2-2h0m1 7h0m2-7h0m0 3h0m3 2h0m0-3h0m2 7h0m1 2h0m0-10h0m1 9h0m3-8h0m0 1h0m1 3h0m3 2h0m1-1h0m2 1h0m0-5h0m5 6h0m0-9h0m3 8h0m2-6h0m1 1h0m4 4h0m2-4h0m2-3h0m0 3h0m3-2h0m4 1h0m3-2h0m1 10h0m3-3h0m1-2h0m0-5h0m4 11h0m2-4h0m2 0h0m1 0h0m8-6h0m2 5h0m0-5h0m4 1h0m3 9h0m1-11h0m1 2h0m1 6h0m2-8h0m2 2h0m2 9h0m6-9h0m5 0h0m5 4h0m0 2h0m0-5h0m3-1h0m0 8h0m1-9h0m1 6h0m0-5h0m2 8h0m4 0h0m2-2h0m5 3h0m3-5h0m0 2h0m1-8h0m4 7h0m3-2h0m1 2h0m0 4h0m3-3h0m2 1h0m0-9h0m4 11h0m2-1h0m1-7h0m1 5h0m1-8h0m3 2h0m1-2h0m0 5h0m4 0h0m12-2h0m2 6h0m0-8h0m6 0h0m1 3h0m0 6h0m3-1h0m3 1h0m55-3h0m0 1h0m1-4h0m1 6h0m2-10h0m3 10h0m0-10h0m1 0h0m0 1h0m3 2h0m2 0h0m1 1h0m3 6h0m1-5h0m1 0h0m1-1h0m1 5h0m3-4h0m1 3h0m5-5h0m1-2h0m4 5h0m1-2h0m1 3h0m0 2h0m1-6h0m3 0h0m4 4h0m4-5h0m1 4h0m0 2h0m4-7h0m1-1h0m2 5h0m5 1h0m0-3h0m3 1h0m1 7h0m1-3h0m1 0h0m1-3h0m0-4h0m3 8h0m0-8h0m0-1h0m1 2h0m1 1h0m1-2h0m5 8h0m2-5h0m1-1h0m6 3h0m6 4h0m1 0h0m1-9h0m6 8h0m2 0h0m2 2h0m3-6h0m2 4h0m1 1h0m0-9h0m1 3h0m2 7h0m1-8h0m0-3h0m1 5h0m1 5h0m1-8h0m0 3h0m1 0h0m0-3h0m1 2h0m0 2h0m1-4h0m0 3h0m3 1h0m1-4h0m3 3h0m0 2h0m2 0h0m0-6h0m2 2h0m1 7h0m1 1h0m1-3h0m9-7h0m2 0h0m5 5h0m5 1h0m1-2h0m2 3h0m2 3h0m2-7h0m0 5h0m1-1h0m1-3h0m1-2h0m0 1h0m2 4h0m6 2h0m0-1h0m1-1h0m1-7h0m2 7h0m10-7h0m1 7h0m5-7h0m1 3h0m4 2h0m0 2h0m3-4h0m1 3h0m2-1h0m0-4h0m2 7h0m2-6h0m0 6h0m1-6h0m1 5h0m0-2h0m4-3h0m1 4h0m1-4h0m0-3h0m3 6h0m1-1h0m3 2h0m57-3h0m42 6h0m24-6h0m25-3h0m44 0h0m2 3h0m1-3h0m12 6h0m17 4h0m48-3h0m-778 15h0m2-7h0m1 3h0m0-3h0m8-4h0m0 4h0m1 1h0m1-4h0m1 4h0m0 4h0m1-2h0m3 1h0m1-8h0m0 10h0m2-9h0m1 6h0m1 0h0m0-5h0m1 4h0m1 5h0m2-9h0m1 6h0m1-3h0m2 5h0m2-7h0m2 4h0m1 4h0m7-8h0m3 3h0m4 4h0m1-8h0m1 6h0m0 2h0m1 1h0m0-7h0m1 1h0m1 3h0m1-2h0m1 4h0m1 0h0m0-7h0m4 5h0m1-8h0m1 6h0m5 3h0m0-5h0m0 2h0m4 4h0m0-1h0m1-7h0m8 7h0m0-1h0m1-3h0m1-4h0m3 4h0m1 2h0m1-1h0m1-5h0m3 0h0m0 2h0m2-3h0m0 7h0m1 3h0m4-2h0m4 3h0m0-7h0m1 5h0m1-1h0m2-8h0m3 9h0m1 2h0m1-2h0m1 2h0m1-2h0m0-3h0m2 3h0m1 0h0m0-7h0m0-1h0m1 0h0m2 9h0m5-4h0m2-1h0m1 3h0m1-7h0m6 7h0m1-8h0m4 3h0m0 2h0m1-4h0m3 3h0m1 5h0m1-9h0m0 11h0m4-4h0m2-7h0m2 10h0m6-8h0m0 8h0m3-4h0m2 3h0m3-8h0m1 7h0m2-2h0m1 0h0m4-1h0m0 2h0m1-4h0m1 6h0m0-3h0m6 1h0m0 2h0m0-7h0m2 8h0m1-9h0m1 1h0m1 9h0m2-6h0m0 4h0m3-6h0m1-2h0m4-1h0m1 1h0m1 8h0m0-7h0m2 2h0m1 7h0m2-2h0m1 2h0m1-3h0m5-3h0m2 0h0m1-1h0m1-1h0m6 3h0m55-6h0m2 10h0m0-4h0m1-4h0m2 9h0m2-2h0m1-1h0m1 0h0m1 1h0m3 2h0m0-1h0m6-4h0m1-4h0m0 4h0m3-3h0m2 8h0m0-7h0m0 2h0m2-2h0m1-3h0m0 2h0m2 6h0m4 2h0m1 0h0m1 0h0m1-6h0m1 3h0m1 1h0m1-5h0m0 2h0m5-1h0m0-5h0m1 1h0m0 2h0m0 2h0m4-3h0m1 9h0m3-4h0m1 1h0m1-1h0m1-7h0m3 10h0m0-3h0m0-7h0m2 5h0m1-5h0m2 2h0m2 9h0m5-2h0m1-1h0m1-2h0m2 3h0m3-8h0m2 1h0m2 0h0m1 1h0m2 2h0m3 2h0m1 1h0m1 3h0m1-9h0m1 7h0m0-1h0m0-3h0m1 0h0m3 5h0m1-1h0m1-3h0m5 3h0m0 2h0m1-6h0m1 1h0m2-3h0m2 1h0m1-1h0m0 2h0m2-4h0m2 4h0m0 4h0m1-6h0m2 6h0m0-5h0m0 2h0m0-3h0m0 2h0m2 2h0m3 1h0m2-1h0m0 2h0m0 2h0m1-8h0m5 7h0m2 0h0m1-3h0m1-5h0m0 3h0m1-4h0m1 0h0m1 5h0m0-3h0m5 0h0m2 6h0m0-5h0m1 3h0m0-7h0m2 9h0m4-2h0m1 2h0m3-4h0m0-3h0m2 8h0m2-6h0m3 0h0m2-1h0m0-3h0m1 7h0m1 4h0m0-1h0m1-5h0m0-5h0m3 7h0m0-7h0m2 6h0m1 1h0m2 0h0m0-7h0m2 4h0m2 0h0m1 2h0m0 4h0m1 0h0m3-3h0m0-7h0m3 8h0m0-3h0m0 4h0m1-5h0m1 1h0m2 5h0m1-7h0m1 3h0m0-1h0m1 1h0m2 2h0m0 2h0m1 0h0m1-4h0m1-6h0m1 6h0m4 4h0m3 0h0m2-1h0m5-6h0m3 1h0m0 2h0m0 1h0m2-4h0m0-3h0m1 2h0m2 4h0m1 4h0m0-5h0m0 2h0m2 0h0m89-1h0m32 5h0m36-10h0m44 3h0m60-1h0m3 8h0m13-5h0m-781 6h0m1 8h0m2-8h0m0 8h0m3-6h0m1 5h0m4 1h0m1-2h0m2-1h0m3 3h0m2-5h0m3 2h0m2 3h0m0-1h0m2 2h0m0-5h0m0-1h0m1-2h0m1 4h0m2 4h0m1 2h0m0-1h0m3-5h0m1-1h0m1 4h0m3-4h0m0 6h0m0-9h0m5-1h0m1 1h0m0 4h0m3-2h0m1 0h0m0 4h0m0 4h0m1-1h0m1-4h0m0 4h0m1-4h0m0 4h0m1-6h0m1 0h0m0 4h0m3-3h0m0-3h0m2 3h0m0-5h0m3 10h0m4-4h0m0 2h0m1 1h0m5 1h0m1-6h0m0 6h0m0-8h0m2 4h0m2 4h0m1-3h0m3 3h0m1-6h0m0 1h0m1-4h0m1-1h0m1 7h0m3-6h0m4 8h0m1-5h0m3 6h0m1-5h0m1-3h0m1 7h0m1 0h0m0-5h0m3 6h0m1-4h0m2-5h0m3 4h0m2 0h0m1-1h0m2-4h0m1 10h0m1-6h0m0 7h0m0-3h0m0 2h0m1 0h0m2-2h0m5 0h0m1-5h0m1-2h0m5 6h0m0-5h0m3 6h0m2-4h0m1 1h0m1 2h0m4-2h0m0-5h0m1 10h0m2-1h0m3-7h0m1 5h0m3 4h0m6-9h0m2 5h0m1 4h0m1-11h0m1 9h0m1-9h0m3 8h0m0 3h0m4-9h0m0 9h0m1-2h0m3-2h0m1-2h0m0 4h0m0 2h0m3-2h0m4-6h0m1-3h0m1 7h0m1 1h0m1 2h0m0-6h0m4 1h0m1 2h0m1-6h0m0 3h0m2 7h0m2 0h0m2-10h0m4 7h0m5-2h0m4 3h0m3-6h0m1 8h0m8-9h0m0 4h0m58 1h0m0-7h0m1 6h0m1-2h0m0-1h0m3 1h0m1-4h0m0 1h0m3 6h0m0 3h0m5-9h0m3-1h0m1 0h0m1 9h0m0-3h0m1-4h0m1 9h0m0-3h0m0-7h0m0 4h0m7 5h0m1-1h0m1 1h0m4-9h0m2 10h0m0-7h0m0 1h0m1 3h0m0-5h0m1-2h0m2-1h0m0 3h0m7 8h0m7-8h0m0 2h0m0 5h0m3-5h0m2-2h0m4 4h0m3 0h0m3-6h0m0 8h0m0-3h0m1-1h0m3 5h0m0-9h0m1 10h0m1 0h0m2-6h0m2-2h0m1 4h0m0 2h0m7-6h0m3 5h0m1-5h0m0-3h0m1 2h0m1-2h0m1 10h0m1 1h0m1-7h0m0 2h0m1-1h0m1 0h0m1-2h0m1 8h0m2-11h0m1 7h0m1-3h0m1 4h0m2-3h0m1 3h0m0-5h0m1 6h0m0-9h0m0 10h0m1-4h0m1 0h0m0 2h0m2-2h0m1-6h0m1 4h0m0 2h0m1-4h0m2 5h0m7-2h0m2-5h0m1 6h0m0 3h0m3-2h0m2-4h0m2 4h0m0-5h0m1 6h0m0 2h0m0-3h0m1-6h0m2 1h0m0-1h0m4 5h0m1-1h0m1 0h0m0 6h0m2-4h0m4 3h0m0-3h0m1 0h0m0-3h0m1 1h0m1 0h0m2 0h0m1 5h0m1-2h0m1-1h0m0 4h0m2 0h0m2-3h0m1 2h0m1 0h0m3-3h0m0-5h0m2 6h0m1 2h0m3-7h0m1-3h0m2 2h0m2 3h0m2 5h0m2 0h0m5-7h0m0-1h0m0 2h0m1 1h0m1 2h0m0-6h0m1 8h0m1-5h0m2 4h0m0-5h0m3 3h0m2-1h0m0-5h0m0 2h0m1 7h0m0-5h0m2 4h0m2 0h0m6-4h0m0-3h0m1 0h0m1 2h0m0 8h0m1-6h0m1 0h0m1-5h0m3 0h0m1 10h0m0-5h0m2-1h0m1 0h0m1 5h0m82-2h0m49-4h0m4 3h0m10 0h0m10 2h0m18-6h0m8 8h0m28-8h0m38-1h0m2 6h0m15 2h0m15-6h0m-785 14h0m2-3h0m3 1h0m1 1h0m0 4h0m2-2h0m1 0h0m4 1h0m1 4h0m1-4h0m1-2h0m1 0h0m1-1h0m0 1h0m1 0h0m3 4h0m3-7h0m2 4h0m1-4h0m0 4h0m4-4h0m1 4h0m0 4h0m0-9h0m2 1h0m1 2h0m3 7h0m0-4h0m1 0h0m2-5h0m1 7h0m0-3h0m2 0h0m4-3h0m1 7h0m0-7h0m0 4h0m3 1h0m1-2h0m0-3h0m2 0h0m2 7h0m0-1h0m1-8h0m1 7h0m0-5h0m1 7h0m1 0h0m2 0h0m1-8h0m0 8h0m0-3h0m3-3h0m5-4h0m2 8h0m0-5h0m1 5h0m2 0h0m0-5h0m2 3h0m4-4h0m0 6h0m3-4h0m6-4h0m1 9h0m4-3h0m1-6h0m0 5h0m2 3h0m1-4h0m0 4h0m1 0h0m0 2h0m0-8h0m2 1h0m1 4h0m3-6h0m2 4h0m0 2h0m2-7h0m2 1h0m0 3h0m1-2h0m2 3h0m0-5h0m2 1h0m1 8h0m3 1h0m1 0h0m2-1h0m2-2h0m3 3h0m0-5h0m1 1h0m2 0h0m2 1h0m2 3h0m1-1h0m0-7h0m1 3h0m0 1h0m2-4h0m1-2h0m0 3h0m4 6h0m0-3h0m1 2h0m3 3h0m1-5h0m1 0h0m0 4h0m2 0h0m1-3h0m2 3h0m2-1h0m4-1h0m3-8h0m3 0h0m0 2h0m1 8h0m3-2h0m0 1h0m6-1h0m1-5h0m2 6h0m1 1h0m0-9h0m0 7h0m1-1h0m1 1h0m0-8h0m2 8h0m1 0h0m1-4h0m1-1h0m1 5h0m6-6h0m3 1h0m1 7h0m1-3h0m0 2h0m0-3h0m4-2h0m1-2h0m3 3h0m0 1h0m0 2h0m1-4h0m1-1h0m1 4h0m0 2h0m1 1h0m3-7h0m1-2h0m1 10h0m0-5h0m1-2h0m1 5h0m0-1h0m57 0h0m1 3h0m1-1h0m0-7h0m1 4h0m4 4h0m3-11h0m1 8h0m1-6h0m3 3h0m2-3h0m0 2h0m0-3h0m1 3h0m0 4h0m2-7h0m1 4h0m1 1h0m1 3h0m1-1h0m1-8h0m1 7h0m1-5h0m1 4h0m3 1h0m4 4h0m1-2h0m4-7h0m0 8h0m1 1h0m0-8h0m1 7h0m5-10h0m1 1h0m2 3h0m2 3h0m0-5h0m1 0h0m1 3h0m0-3h0m0 4h0m3 2h0m1 2h0m0-9h0m0 10h0m1-2h0m2-9h0m2 1h0m2-1h0m2 6h0m2-3h0m0 2h0m0 1h0m3 0h0m4-2h0m1-1h0m1 6h0m0-7h0m1 5h0m1 3h0m1-10h0m1 1h0m2 0h0m1 5h0m0 1h0m5-4h0m0 1h0m1 7h0m1 0h0m0-2h0m2 1h0m1-1h0m1-9h0m1 0h0m5 0h0m1 2h0m2 4h0m2-5h0m1 7h0m2 0h0m0 2h0m1-2h0m1-3h0m0 4h0m1 2h0m1-3h0m0-7h0m0 4h0m0 4h0m1-7h0m0 4h0m2 1h0m2-5h0m1 4h0m0-6h0m4 11h0m2 0h0m3-6h0m1-1h0m0 4h0m1 0h0m2 1h0m4-3h0m1 3h0m1-8h0m0 8h0m1-5h0m1-3h0m3 6h0m1-6h0m3 10h0m3-5h0m2-6h0m1 2h0m1 6h0m0-7h0m1 8h0m9-4h0m2 2h0m0-5h0m4 9h0m0-11h0m1 3h0m2 5h0m3 2h0m0-8h0m1 1h0m0 2h0m1-1h0m1 0h0m1 3h0m2-5h0m1 9h0m1-6h0m6 3h0m2-6h0m0 4h0m5-4h0m1 4h0m2 1h0m0-5h0m1 5h0m0 4h0m0-9h0m0 6h0m1-8h0m1 1h0m4 4h0m1 4h0m1-3h0m1 3h0m1 2h0m0-3h0m4-4h0m2 1h0m5 0h0m2 3h0m1-1h0m146-3h0m22 0h0m15 4h0m3 3h0m10-4h0m47 0h0m5-2h0m1 1h0m19 3h0m2-5h0m2 6h0m4-2h0m0 1h0m-775 10h0m2 0h0m2-1h0m0 2h0m1-2h0m1-6h0m1 0h0m2 1h0m2 1h0m2 5h0m2 2h0m0-8h0m0-1h0m1 8h0m2-8h0m2 9h0m2-1h0m1-7h0m3 8h0m1-3h0m2-3h0m1 5h0m1-4h0m2-3h0m5 3h0m0 2h0m1 0h0m1 3h0m3 2h0m3-5h0m0-3h0m1-2h0m1 0h0m2 2h0m1-3h0m1 3h0m5 6h0m4-6h0m2 0h0m1-2h0m4 6h0m0 4h0m1-5h0m0 5h0m1-3h0m0-3h0m1 0h0m1-1h0m4 6h0m0-3h0m1-7h0m2 11h0m1-6h0m2-5h0m0 2h0m2 3h0m1 5h0m5-1h0m1-1h0m0 2h0m1-2h0m0-8h0m2 5h0m0 4h0m1-1h0m1 1h0m2-8h0m1-1h0m1 10h0m0-3h0m1-4h0m1 8h0m3-4h0m0 2h0m2 0h0m1-5h0m0 4h0m0-5h0m1 5h0m0-5h0m0-3h0m4 3h0m1 3h0m1-6h0m7 8h0m3-6h0m1-1h0m0-1h0m1 9h0m1-7h0m1 0h0m0 2h0m3 7h0m0-5h0m1 3h0m1-2h0m0 2h0m0 2h0m0-5h0m3-3h0m0 2h0m1 6h0m2-7h0m2 3h0m1-7h0m2 8h0m2-6h0m3 5h0m2 2h0m3-2h0m0 1h0m1-5h0m1 2h0m2 5h0m1-2h0m1-6h0m1-1h0m1 5h0m0-1h0m0 2h0m1 3h0m0-9h0m4 7h0m0-8h0m2 4h0m0 4h0m1 2h0m1-5h0m0 6h0m1-8h0m0 4h0m1 3h0m0-9h0m1 5h0m1-2h0m0 2h0m3 0h0m1-6h0m2 4h0m1 4h0m0-5h0m0 8h0m1-6h0m0 4h0m0-1h0m0-7h0m4 6h0m2-6h0m0 1h0m1 4h0m1-2h0m3 5h0m2 1h0m2 1h0m4-10h0m0 4h0m1 2h0m0-1h0m2 3h0m1-9h0m2 9h0m0-5h0m2-3h0m1 2h0m2 6h0m0-6h0m1 2h0m1 5h0m0-1h0m2-7h0m54 5h0m0-6h0m1 6h0m0 4h0m1-5h0m2 1h0m0-7h0m0 1h0m4 8h0m1 1h0m3-8h0m3 8h0m2-1h0m2-5h0m5-1h0m0-1h0m1 7h0m2 2h0m1-2h0m0-1h0m1-6h0m0 2h0m0 7h0m1-3h0m0 2h0m1 1h0m2-3h0m0-7h0m1 8h0m0-7h0m5 3h0m2-5h0m0 1h0m1 10h0m0-1h0m0-3h0m1 0h0m0 2h0m2-2h0m0-1h0m4-3h0m4 0h0m1 3h0m0-2h0m1-3h0m0 6h0m4-1h0m0 1h0m2-5h0m1-2h0m3 7h0m3-2h0m1 1h0m0-5h0m4 6h0m2 1h0m0-1h0m1-4h0m0 4h0m1-1h0m2 4h0m0-3h0m3-1h0m2 4h0m0-9h0m0-1h0m1 3h0m3 4h0m1-3h0m0-3h0m4 0h0m2 6h0m1-4h0m0 6h0m3-7h0m1 5h0m1-1h0m3 5h0m4-10h0m3 7h0m1-7h0m1 10h0m1-5h0m0-3h0m1 4h0m3-1h0m1-4h0m1 1h0m1-2h0m0 3h0m1-3h0m1 0h0m1 0h0m2 0h0m2 4h0m3 3h0m0 1h0m2-5h0m3 4h0m0 1h0m1-7h0m2 8h0m0-8h0m6 2h0m1-1h0m3 0h0m3 4h0m1-1h0m1 0h0m2 3h0m1-6h0m1 3h0m4 0h0m3-2h0m1 1h0m1-4h0m1 6h0m1 2h0m0-5h0m1 0h0m2-4h0m1 8h0m1 0h0m1 3h0m1-6h0m0 6h0m0-5h0m1-3h0m0-2h0m2 7h0m0 2h0m1-10h0m1 3h0m1 5h0m2 1h0m0 2h0m2-11h0m5 0h0m5 9h0m1 1h0m3-4h0m3 1h0m2-1h0m2 3h0m1-4h0m1 5h0m1-1h0m0-7h0m1 1h0m2 4h0m0 3h0m1-4h0m1 4h0m1 1h0m1-5h0m0-5h0m2 6h0m3-6h0m1 0h0m2 4h0m2 0h0m61-2h0m7 2h0m6-4h0m31 2h0m6 8h0m12-6h0m13-5h0m8 4h0m7-1h0m28 3h0m2 0h0m13 0h0m35-2h0m1 1h0m24 6h0m10-10h0m-770 12h0m0 10h0m3-9h0m1 7h0m3 2h0m0-9h0m0 6h0m1-2h0m1-2h0m1 5h0m0-9h0m15 10h0m1 1h0m2-5h0m0-6h0m0 9h0m1-5h0m1 5h0m0-9h0m1 8h0m1 1h0m2-6h0m3 1h0m1 6h0m2 1h0m1-11h0m1 6h0m1 4h0m2-3h0m2-2h0m1-4h0m1 8h0m2-5h0m0 2h0m1-2h0m1 3h0m1-5h0m1 0h0m0 4h0m1-3h0m6 7h0m0-10h0m2 10h0m1-3h0m3 1h0m1 1h0m3 2h0m1-3h0m7 3h0m0-4h0m2 1h0m2-7h0m3 7h0m0-6h0m2 2h0m2 0h0m1 7h0m1-8h0m0 8h0m2-4h0m2 3h0m1 1h0m0-7h0m1 6h0m1 0h0m1-8h0m1 1h0m0-3h0m0 2h0m1 6h0m2 0h0m1 2h0m1 0h0m3-1h0m0-3h0m3-6h0m1 0h0m1 3h0m0 6h0m1-5h0m0 2h0m2-2h0m2-2h0m3 5h0m0-5h0m1 8h0m1-7h0m2 7h0m1 0h0m0-3h0m0-3h0m1 0h0m0 6h0m6-8h0m1 0h0m0 4h0m3-6h0m5 2h0m1 0h0m2 7h0m0-5h0m1 4h0m0 2h0m0-4h0m1-6h0m1 1h0m3 4h0m1-1h0m2 6h0m1-7h0m1-1h0m1-2h0m1 3h0m1 2h0m0-5h0m2 2h0m1 3h0m0 6h0m1-9h0m0 6h0m3-7h0m0 5h0m1-4h0m4 1h0m1 5h0m3-1h0m2-3h0m4 3h0m0 4h0m0-7h0m5 5h0m3 0h0m0-6h0m1-1h0m0 8h0m0-10h0m2 0h0m2 0h0m1 11h0m1-10h0m2 4h0m0 5h0m3-9h0m1 7h0m2-4h0m3 3h0m4 4h0m1-7h0m1 5h0m1 0h0m1-3h0m1 0h0m1-2h0m1-2h0m1 9h0m1-6h0m61-3h0m2 2h0m1-3h0m1 5h0m2 0h0m4 0h0m1 3h0m1-3h0m1 3h0m1-3h0m1 4h0m3-2h0m0-1h0m1 4h0m3-3h0m0-5h0m1 7h0m0-3h0m2-2h0m0 4h0m1-8h0m1 10h0m1-11h0m2 9h0m0-6h0m0-1h0m1 0h0m2 3h0m1 3h0m1-5h0m1 3h0m1 0h0m1-5h0m0-1h0m2 2h0m0 4h0m1 4h0m1 1h0m5-10h0m5 4h0m1 4h0m1-3h0m0-3h0m2 5h0m0 1h0m1-3h0m1-6h0m1 1h0m6 7h0m3-2h0m1 0h0m0-1h0m1 3h0m1 0h0m0-1h0m1 1h0m2-8h0m4 1h0m0 1h0m1 8h0m6-5h0m1 3h0m0-8h0m1 6h0m0 2h0m0-3h0m1 5h0m1-7h0m0 7h0m1-7h0m0 6h0m1-8h0m1 9h0m2-9h0m0-1h0m2 6h0m0-1h0m1-4h0m3 1h0m2 9h0m1-9h0m0 6h0m0 1h0m1 1h0m1 0h0m1-9h0m1 0h0m0 4h0m1 3h0m0-7h0m2 8h0m0 1h0m1-5h0m1 4h0m1 1h0m0-1h0m3-5h0m2-3h0m2 0h0m1 1h0m1 5h0m1 4h0m1-11h0m1 10h0m3-2h0m3 1h0m6-3h0m0-1h0m4 0h0m2 2h0m2 1h0m0-3h0m1 1h0m1 0h0m1-6h0m1 9h0m1-1h0m2-7h0m2 4h0m7 2h0m0 2h0m0-8h0m2 5h0m2 0h0m2-1h0m3-2h0m1 8h0m1-2h0m4 0h0m1-2h0m1-2h0m0 2h0m1-5h0m3 6h0m1 1h0m3-4h0m4-1h0m2 3h0m3 1h0m0-7h0m5 9h0m1-8h0m7 3h0m1-5h0m1 9h0m1-4h0m2 6h0m0-8h0m1 5h0m1 1h0m5-5h0m2-3h0m1 8h0m74-5h0m9 2h0m25 5h0m8-1h0m10-1h0m27-1h0m6-6h0m4 7h0m4-8h0m3 9h0m32-8h0m11 3h0m5 4h0m19-3h0m44-5h0m3 9h0m-790 9h0m3-7h0m1 3h0m1 7h0m0-9h0m1 7h0m2-4h0m0 5h0m1-7h0m4 0h0m2-2h0m4 11h0m1-8h0m0 2h0m1-5h0m4 8h0m0-5h0m1 5h0m2-7h0m2 9h0m0-3h0m1-7h0m1 5h0m2-2h0m1-3h0m1 2h0m1 8h0m3-6h0m4-3h0m0 4h0m1 1h0m0-4h0m1 6h0m0-1h0m2-3h0m1 2h0m2 0h0m0-2h0m4 0h0m1 7h0m0-11h0m0 2h0m1 0h0m2 4h0m0 1h0m3-6h0m0 8h0m5-4h0m1 4h0m4-6h0m1 4h0m0 1h0m5 3h0m3-11h0m2 1h0m3 9h0m2 0h0m4-6h0m1-3h0m0 3h0m4-1h0m0 6h0m2-6h0m0 1h0m1-4h0m1 8h0m0 3h0m0-11h0m1 5h0m0 2h0m1-7h0m2 2h0m0 4h0m1 3h0m1-6h0m0 8h0m2-11h0m0 4h0m1 2h0m1-5h0m2 2h0m1 3h0m1 4h0m3 0h0m3-1h0m2 0h0m0-5h0m1-1h0m1-3h0m1 3h0m1-3h0m1 9h0m0-8h0m1 3h0m4 4h0m2-3h0m2 6h0m0-5h0m1-5h0m0 4h0m1 0h0m1 5h0m1-4h0m1 0h0m3 0h0m1-3h0m2 7h0m3-6h0m1 3h0m1-7h0m1 5h0m2 3h0m9-6h0m1 0h0m2 8h0m1-8h0m0 4h0m2-1h0m0 6h0m1-8h0m2-3h0m1 5h0m1 0h0m1-4h0m0 8h0m1 1h0m0-8h0m0 2h0m3-2h0m1 6h0m1-2h0m1 4h0m1-10h0m3 6h0m3-4h0m1 7h0m0 2h0m0-9h0m1 6h0m2-6h0m6 9h0m1-2h0m0-6h0m5 3h0m1 5h0m1-4h0m1-2h0m1 1h0m3 5h0m1-4h0m0-7h0m1 4h0m0 2h0m2-4h0m0 8h0m0-9h0m1 6h0m1 3h0m3-8h0m1 4h0m60 0h0m1 1h0m1-5h0m2 5h0m2-6h0m0 8h0m1-5h0m3 4h0m0-3h0m3-1h0m0-3h0m1 1h0m3 0h0m2 1h0m4 3h0m0-5h0m1 0h0m1 2h0m1 7h0m2-10h0m1 1h0m1 1h0m4 0h0m0 2h0m1-2h0m9 0h0m1-2h0m1 10h0m1-10h0m1 0h0m1 10h0m1-10h0m2 3h0m1-1h0m3 1h0m1 6h0m1 1h0m0-3h0m1-3h0m1-2h0m1 0h0m0 6h0m2-1h0m1 4h0m4-2h0m0-9h0m1 3h0m4-1h0m1 7h0m1-1h0m0 1h0m1-8h0m1-1h0m4 3h0m1 2h0m0 2h0m0-6h0m1 10h0m4-4h0m1-3h0m0-3h0m1 0h0m0 7h0m1 0h0m1-5h0m2-2h0m1 7h0m2 0h0m8 1h0m2-8h0m0-1h0m3 11h0m1-5h0m1-6h0m1 6h0m3-3h0m0 6h0m6-5h0m1 7h0m0-9h0m0-1h0m5 9h0m0-10h0m1 8h0m0 1h0m1-3h0m1 3h0m0-7h0m2 1h0m1 8h0m4-9h0m1 8h0m0-6h0m4-2h0m1 3h0m0 2h0m1-5h0m0 8h0m1-8h0m4 9h0m1-6h0m3 3h0m0 2h0m1-7h0m2-1h0m3-1h0m1 10h0m1-11h0m0 2h0m3 3h0m0 2h0m0 2h0m2 1h0m0-10h0m2 5h0m4 4h0m4-4h0m0 2h0m1-4h0m1 8h0m2-9h0m1 6h0m1 0h0m3 3h0m0-11h0m2 1h0m1 4h0m0 1h0m5 3h0m1-4h0m5-3h0m0 2h0m1 2h0m0 4h0m0-7h0m5 1h0m3 5h0m1-4h0m0-3h0m0 2h0m1 3h0m1 0h0m0-7h0m0 6h0m1-4h0m1 8h0m1-1h0m0 1h0m0-9h0m2 4h0m2-2h0m1-2h0m0 6h0m0-7h0m2 10h0m0-7h0m1 3h0m67 1h0m9-4h0m11 3h0m2 4h0m9-6h0m12-4h0m4 8h0m38 0h0m16 2h0m8 0h0m24 0h0m10 1h0m14-1h0m17 0h0m2-4h0m13 3h0m0-9h0m-761 23h0m1-5h0m6-5h0m0 6h0m1 0h0m1-7h0m1 6h0m0-5h0m1 1h0m9 0h0m2 2h0m0-2h0m2 4h0m1-1h0m2-2h0m2-2h0m1 10h0m0-3h0m2-7h0m1 0h0m1-1h0m1 8h0m0-6h0m3 8h0m0-8h0m4 8h0m0-9h0m1 3h0m1 7h0m1-3h0m1-2h0m0-3h0m0 4h0m5-7h0m0 2h0m0 9h0m1-2h0m0-5h0m1 7h0m0-7h0m1 7h0m1-1h0m1-10h0m1 3h0m0 4h0m4-5h0m0 2h0m2 2h0m4-4h0m5 4h0m2-1h0m1 5h0m1-8h0m2-2h0m3 3h0m0-1h0m2 6h0m0-7h0m2 3h0m0 2h0m4 2h0m0-5h0m0 1h0m4 7h0m5-4h0m4-7h0m1 10h0m0-9h0m0 5h0m2 1h0m3-5h0m3 7h0m6-7h0m4 8h0m1 1h0m0-9h0m1 4h0m0 2h0m2-6h0m2 8h0m1-3h0m0-7h0m0 8h0m1-8h0m5 4h0m2 2h0m2-6h0m2 11h0m0-1h0m3-9h0m1 0h0m3 1h0m1 4h0m2-5h0m3 0h0m2-1h0m0 2h0m2 3h0m3 6h0m0-10h0m2 6h0m4 0h0m1 1h0m0 3h0m1-3h0m2 0h0m1 0h0m1-2h0m3 0h0m1 4h0m1-2h0m4 0h0m5-8h0m2 6h0m1-5h0m1 8h0m2-8h0m0 8h0m3-8h0m1-1h0m1 11h0m1-3h0m6-3h0m4-3h0m3 1h0m1 3h0m1-3h0m6 0h0m4 1h0m1 6h0m56-10h0m1 3h0m1 1h0m0 7h0m4-7h0m3-4h0m1 8h0m3-2h0m1-6h0m2 8h0m1 3h0m1-11h0m1 7h0m1-6h0m2 2h0m1-1h0m1 4h0m1-5h0m2 5h0m0-2h0m1-4h0m2 7h0m3-3h0m3 0h0m2 1h0m2 1h0m1 2h0m3-5h0m0 2h0m0-3h0m7-1h0m0 8h0m4 1h0m2-1h0m0-7h0m3 8h0m0-3h0m3-4h0m1 8h0m2-10h0m4 3h0m5 0h0m4 4h0m1-5h0m3-1h0m0 2h0m1 3h0m0 2h0m2-9h0m0 4h0m2 0h0m0 3h0m1-6h0m1 10h0m1-8h0m1 8h0m3 0h0m4-10h0m2 0h0m1 7h0m1-3h0m0 2h0m1 2h0m3 0h0m1-9h0m2 5h0m1-3h0m2-1h0m0 10h0m1-4h0m1-4h0m0-1h0m1 6h0m2 3h0m1-9h0m1 5h0m0 2h0m2 2h0m0-11h0m0 6h0m0 1h0m3-4h0m1-2h0m3 5h0m0 4h0m2-5h0m1-3h0m0 3h0m0-5h0m3 8h0m0 2h0m2-1h0m1-3h0m1 2h0m4-3h0m1-2h0m4 6h0m1 0h0m1 0h0m1-4h0m1 5h0m2-5h0m1-4h0m0 4h0m0-1h0m1 6h0m3-2h0m1-3h0m0 4h0m2-8h0m2 9h0m0-6h0m1-2h0m5-1h0m1 6h0m1-5h0m1-1h0m2 8h0m0-3h0m0-5h0m2 3h0m0-3h0m0 2h0m3-1h0m0 2h0m2-4h0m1 8h0m0-7h0m2-1h0m2 6h0m0 1h0m1-7h0m2 11h0m0-9h0m5 3h0m1-3h0m3 0h0m1 8h0m3-9h0m3 9h0m1-1h0m0-1h0m1 0h0m1-2h0m0 4h0m1-10h0m1 4h0m0 2h0m0-3h0m3 2h0m3-1h0m3 6h0m0-7h0m1 1h0m1 5h0m0-1h0m2-1h0m0-5h0m1 3h0m57-1h0m3 7h0m6-9h0m2 2h0m34 5h0m4-2h0m12-6h0m5 9h0m5-1h0m6-2h0m11 4h0m3-10h0m4 10h0m10-2h0m16-7h0m18-2h0m10 11h0m4-10h0m4 6h0m4 4h0m64-3h0m-787 5h0m0-1h0m4 7h0m1 1h0m2-8h0m0 2h0m1 6h0m1-6h0m2 8h0m2-6h0m1 4h0m1-6h0m0 2h0m5-2h0m1 0h0m2 6h0m1-8h0m1 1h0m2-1h0m1 2h0m2 8h0m3-5h0m1 6h0m1 0h0m0-8h0m1 2h0m0 2h0m1-5h0m1 4h0m1 5h0m0-1h0m4-10h0m0 6h0m0-3h0m5 2h0m0-1h0m4 2h0m0-5h0m1 7h0m3 3h0m1-9h0m0-1h0m9 8h0m1-9h0m2 5h0m2 5h0m0-7h0m1-3h0m2 2h0m3 6h0m0 3h0m1-9h0m2 5h0m3-4h0m1-2h0m0 2h0m5 3h0m2-3h0m1-1h0m1 1h0m8 7h0m3-8h0m0 2h0m4 6h0m0-8h0m1 3h0m1 2h0m1 1h0m1 1h0m3 0h0m1-6h0m1-2h0m2 9h0m2-5h0m0-3h0m2 1h0m0 6h0m2-2h0m1 1h0m0-1h0m1-2h0m0 4h0m0-9h0m1 9h0m1-8h0m6 1h0m3 3h0m2 1h0m1 5h0m0-1h0m1-4h0m1-5h0m0 2h0m0 4h0m2 1h0m3-2h0m3-6h0m1 5h0m0-1h0m4 4h0m1 1h0m0 2h0m2-4h0m1 0h0m1-1h0m1 1h0m3 1h0m4-3h0m1-3h0m0-1h0m0 2h0m1-2h0m3 5h0m5 3h0m2-6h0m0-1h0m1-1h0m3 3h0m2 5h0m2 0h0m3-9h0m2 9h0m2-9h0m4 9h0m1-3h0m1-4h0m1 2h0m1 3h0m4-6h0m2 1h0m5 8h0m1-6h0m0 3h0m1-7h0m2 9h0m1-8h0m1 6h0m0-7h0m1 9h0m0 1h0m56-10h0m1 3h0m5 3h0m2 3h0m1-6h0m1 2h0m6 3h0m4 3h0m0-7h0m6 7h0m6-5h0m1 4h0m2 0h0m0-3h0m2-2h0m1 6h0m2-5h0m3 1h0m1-1h0m7-5h0m0 1h0m1 0h0m2 6h0m1-5h0m1 1h0m2 7h0m1-9h0m2 3h0m2-3h0m2-1h0m0 10h0m1-5h0m6-3h0m2 6h0m2-5h0m1 6h0m2-4h0m3-3h0m1 0h0m0 4h0m2-2h0m1 5h0m1-1h0m3-6h0m0 6h0m7-2h0m0 1h0m1 0h0m0 2h0m1-7h0m1 2h0m0-5h0m0 8h0m0-7h0m1 9h0m2-9h0m1 8h0m1-6h0m0 4h0m0 1h0m4-5h0m5 4h0m0-7h0m1 2h0m0-1h0m1 7h0m3-5h0m0-1h0m0 8h0m3-7h0m1-3h0m2 1h0m1 3h0m1 1h0m0 2h0m1-4h0m1 1h0m0 6h0m0-7h0m1 2h0m2-4h0m1 8h0m4 1h0m1-7h0m2 1h0m1-1h0m0-3h0m1 1h0m2 6h0m0 3h0m2-1h0m1-2h0m3-3h0m0-3h0m1 4h0m1 2h0m1 2h0m1-6h0m3 0h0m1-1h0m2 8h0m1-5h0m3 3h0m5 3h0m1-10h0m0 2h0m2-3h0m2 3h0m2 4h0m0-5h0m0-1h0m0 2h0m1 5h0m0-7h0m2 4h0m1 2h0m3-4h0m1 4h0m1-6h0m1 3h0m0 4h0m0 3h0m1 0h0m1-7h0m4-4h0m1 11h0m0-7h0m6-2h0m2 4h0m0 4h0m1 0h0m6 1h0m0-5h0m0 4h0m2-2h0m1-8h0m3 8h0m0-8h0m3 1h0m0-1h0m0 9h0m3-8h0m2 0h0m1 8h0m2 2h0m3 0h0m63-8h0m9 1h0m33 7h0m10-7h0m2-1h0m15-1h0m6 9h0m28-3h0m8 2h0m19-3h0m10 4h0m15-6h0m7 0h0m7 4h0m5-9h0m4 9h0m3 2h0m1-1h0m0-7h0m3 1h0m3-1h0m4-1h0m14 9h0m3-2h0m-774 3h0m0 8h0m2 2h0m5-7h0m2 0h0m3 0h0m3 2h0m1-5h0m1 3h0m7 1h0m7 2h0m1-4h0m2 6h0m6 1h0m3 0h0m0-9h0m1 5h0m2-2h0m1 7h0m2 0h0m2-6h0m5 3h0m1-3h0m2-3h0m2 7h0m0 1h0m1-8h0m1 8h0m4-1h0m1-4h0m6 0h0m2 3h0m1 2h0m7-2h0m1-4h0m2-1h0m0-1h0m2 3h0m0 1h0m2 5h0m3-6h0m8-1h0m0 6h0m1-2h0m1-6h0m2 3h0m2 6h0m1 1h0m0-3h0m2-6h0m2-2h0m0 3h0m1-1h0m1 5h0m0-5h0m0 4h0m2-1h0m4-1h0m1 4h0m1 3h0m2-9h0m1 7h0m2-7h0m6 0h0m1 2h0m1 7h0m1-2h0m1-4h0m4 0h0m1-1h0m1-1h0m2 7h0m2-4h0m0-5h0m4 6h0m2-2h0m1-1h0m3 5h0m1-7h0m3 5h0m6-6h0m1 8h0m0-1h0m2 3h0m2-9h0m3 2h0m7-1h0m1 4h0m1-2h0m2 4h0m1-6h0m0 2h0m3-1h0m7 1h0m2-4h0m1 4h0m2-3h0m0 4h0m3-2h0m0 2h0m4 5h0m5-11h0m1 9h0m0 2h0m0-8h0m1 3h0m1 0h0m60 2h0m0-3h0m9 5h0m3-4h0m1-1h0m4-4h0m2-1h0m2 1h0m0 6h0m0-3h0m1 6h0m3-6h0m2 2h0m1 1h0m4 2h0m1 1h0m1-2h0m2 2h0m0 1h0m1-9h0m1 7h0m1 0h0m1-6h0m7 7h0m4-8h0m3 0h0m1 1h0m0 2h0m0 4h0m0-9h0m4 10h0m3-3h0m0-5h0m0 4h0m2-2h0m1 2h0m0 5h0m2-1h0m3 0h0m1-1h0m1-9h0m1 8h0m4-7h0m1 1h0m3-2h0m4 8h0m0-6h0m1 2h0m1 0h0m1 5h0m1-5h0m2 1h0m2-4h0m1-1h0m0 10h0m1-1h0m0-8h0m4 0h0m2 4h0m0-1h0m2 2h0m0 4h0m1 0h0m0-8h0m6 4h0m2 3h0m5-2h0m2-1h0m1 2h0m2-5h0m1-2h0m4 4h0m2 1h0m1-4h0m1-2h0m3 3h0m1 2h0m1 1h0m4 5h0m2-1h0m6 0h0m1-7h0m1-2h0m1 9h0m3-7h0m5 8h0m0-7h0m2-3h0m0 8h0m1-1h0m1 1h0m1-2h0m1-2h0m4-2h0m1 5h0m1 0h0m3-3h0m1-4h0m1 3h0m3 1h0m1-4h0m0 5h0m2-4h0m4 7h0m2 1h0m1-3h0m1-3h0m0 6h0m1-9h0m4 9h0m2-6h0m0 6h0m1-6h0m0-4h0m4 6h0m0-1h0m0 4h0m1-7h0m1 8h0m0 1h0m1 0h0m2-4h0m1-3h0m1 2h0m3-4h0m0-1h0m7 10h0m4-4h0m0-7h0m57 2h0m2 5h0m10 2h0m10 0h0m4-2h0m6 1h0m15 1h0m6-8h0m0-1h0m6 4h0m11 6h0m26-6h0m10 3h0m33-7h0m11 7h0m6-2h0m8 6h0m15-4h0m21 3h0m-763 11h0m0-7h0m4 2h0m1 1h0m2 2h0m2-6h0m1 2h0m2 2h0m2 6h0m2-1h0m1-1h0m1-8h0m2 4h0m7 2h0m1 1h0m1-7h0m3 5h0m10-4h0m1 9h0m5-6h0m5-5h0m2 1h0m1 6h0m12-6h0m1 3h0m2 4h0m4-7h0m10 7h0m1-6h0m6 0h0m1 8h0m3-8h0m3 9h0m2-6h0m1-4h0m7 7h0m6-4h0m5 2h0m1-4h0m6 8h0m2-5h0m2 2h0m6 1h0m2 3h0m1-3h0m2-8h0m4 0h0m0 5h0m4 0h0m4-5h0m2 4h0m3-1h0m8 6h0m1 2h0m0-9h0m0 8h0m1-4h0m2 5h0m3-1h0m1-1h0m3-1h0m3-3h0m5-1h0m1 4h0m2-8h0m4 2h0m5 7h0m4-9h0m3 10h0m0-9h0m3 1h0m2 5h0m3-4h0m0 7h0m10-7h0m57 0h0m1 8h0m1-10h0m1 10h0m7-11h0m6 6h0m2-4h0m1 1h0m3-2h0m0 6h0m5 1h0m3-3h0m9 1h0m1-1h0m0 4h0m2 0h0m2-2h0m7-4h0m0 8h0m0-5h0m5 1h0m1-7h0m2 8h0m0 2h0m1-7h0m1 5h0m1-7h0m1 2h0m0-1h0m2 1h0m2 3h0m1-3h0m2 1h0m1 2h0m1-2h0m3-3h0m2 4h0m0 2h0m0 1h0m3-3h0m0-1h0m2-1h0m1 4h0m2 3h0m1 0h0m1-9h0m1 9h0m0-9h0m5 0h0m3 9h0m0-9h0m1 4h0m5 0h0m0-4h0m5 8h0m1-7h0m4 1h0m2 0h0m5 1h0m8 2h0m3-4h0m3 9h0m6-11h0m0 3h0m1 5h0m0-3h0m0-3h0m1 3h0m2-5h0m1 8h0m5 1h0m0-4h0m1-2h0m5 8h0m1-11h0m0 4h0m0-3h0m4 0h0m1-1h0m1 6h0m3 5h0m1 0h0m1-10h0m1 6h0m4-2h0m0 5h0m4 0h0m2-2h0m1 2h0m0-9h0m2 10h0m1-9h0m1 6h0m2 1h0m3-9h0m1 9h0m1-8h0m5 0h0m1 10h0m6-2h0m4-9h0m1 5h0m2 6h0m3-5h0m0-1h0m0 2h0m4-4h0m2 7h0m4-3h0m2-3h0m0-2h0m1 2h0m2-3h0m59 1h0m14 3h0m2-2h0m7-2h0m24 3h0m39 4h0m46-8h0m4 3h0m33-3h0m15 0h0m5 6h0m3-1h0m7-5h0m18 6h0m-783 7h0m4 9h0m4-5h0m0-3h0m6 9h0m1-10h0m2 1h0m3 2h0m3 2h0m7-6h0m2 4h0m2 2h0m0-3h0m7 5h0m2 3h0m7-8h0m1 7h0m12 1h0m0-10h0m2 9h0m1-2h0m1-5h0m2-2h0m1 7h0m4 1h0m13-7h0m3 5h0m1-7h0m2 10h0m0-4h0m3-5h0m1-1h0m1 2h0m1-2h0m0 2h0m10 0h0m0 6h0m3-6h0m2 0h0m3 6h0m2-5h0m6-1h0m2 5h0m7-3h0m2 0h0m1 3h0m3-6h0m12-1h0m0 6h0m4-2h0m1-1h0m8 7h0m0-3h0m0 1h0m1-7h0m5 0h0m11 2h0m2 5h0m5-6h0m0 2h0m8 0h0m1 7h0m1-10h0m12 9h0m1-1h0m1-7h0m1 2h0m8-3h0m58 0h0m1 7h0m1 3h0m1-10h0m1 6h0m1-7h0m1 0h0m10 11h0m2-10h0m8-1h0m1 8h0m2 2h0m2 0h0m3-1h0m1-9h0m1 2h0m13 9h0m1-6h0m2 4h0m3-7h0m2 6h0m1-7h0m1 6h0m1-2h0m1 0h0m2-3h0m2 2h0m1-2h0m4 6h0m1 3h0m7-8h0m1 3h0m6-3h0m0 5h0m1 0h0m2-8h0m2 3h0m0 8h0m7-5h0m3 0h0m2-4h0m2 2h0m2 5h0m3-2h0m1 0h0m0 4h0m9-11h0m3 5h0m1 4h0m1-2h0m1-3h0m2-4h0m2 1h0m1 7h0m1-4h0m7 0h0m4 0h0m6 5h0m0 1h0m5 1h0m3-3h0m1 3h0m0-9h0m0 2h0m1 6h0m9-1h0m4-4h0m2 1h0m8-2h0m1 7h0m5-9h0m1 1h0m5-1h0m0 1h0m1 8h0m1-9h0m1 0h0m0 6h0m3-6h0m0 7h0m7 1h0m5-7h0m0 3h0m3-5h0m4 4h0m0-5h0m2 9h0m1 1h0m1-5h0m2 3h0m72-5h0m34 5h0m20-8h0m4 2h0m29 9h0m5-4h0m21-6h0m13 1h0m7 7h0m6-9h0m5 0h0m1 10h0m4 0h0m21 1h0m2-2h0m26 0h0m12-6h0m-781 11h0m9 2h0m5 6h0m3-10h0m4 2h0m1 7h0m5-3h0m6-4h0m0 6h0m6-5h0m8 6h0m1 2h0m16-4h0m27-1h0m0-3h0m6 1h0m1 5h0m4-1h0m1-5h0m1 5h0m6 1h0m0-7h0m1 3h0m1 6h0m6-5h0m7-3h0m5 3h0m2 3h0m1-2h0m2-1h0m7 2h0m1-7h0m6 4h0m6-4h0m5 5h0m6-6h0m12 10h0m1-10h0m12 7h0m6-4h0m1 7h0m2-5h0m3-5h0m8 10h0m3-6h0m0-1h0m4 0h0m60 0h0m3 5h0m0-5h0m2 4h0m1-4h0m3 8h0m1-4h0m2-1h0m2-1h0m4-4h0m5 7h0m3-5h0m4 2h0m1 1h0m1-1h0m8 0h0m5 0h0m1 2h0m15-5h0m1 4h0m8-1h0m2-1h0m0 2h0m2-6h0m6 0h0m5 3h0m3 2h0m1 4h0m4-8h0m4-1h0m1 11h0m2-7h0m2 2h0m1 0h0m3 3h0m2-7h0m1 4h0m5 1h0m4-3h0m0 3h0m4 3h0m2 0h0m2-4h0m0 1h0m1-7h0m3 9h0m11-5h0m10-4h0m2 11h0m2-9h0m7 4h0m15-2h0m7-4h0m1 8h0m2-3h0m7-4h0m7 3h0m1-2h0m8 8h0m5 1h0m6-11h0m81 8h0m5-7h0m15-1h0m18 3h0m10 4h0m16 1h0m2 0h0m8 1h0m11 2h0m5-5h0m6-5h0m25 10h0m33-8h0m3-1h0m34 3h0m7-4h0m-780 15h0m12-3h0m3 6h0m7 0h0m25-6h0m15 2h0m4 7h0m17-9h0m4 6h0m6-5h0m6-2h0m7 4h0m0-3h0m4 10h0m2-11h0m1 5h0m2 6h0m8-2h0m1-7h0m21 9h0m3-7h0m5 2h0m1-2h0m4-4h0m5 8h0m0-7h0m1 9h0m4-1h0m1-1h0m6-7h0m8 8h0m2-5h0m14-4h0m3 3h0m8 4h0m2 0h0m66 2h0m3-1h0m7-6h0m13 1h0m2 3h0m2 3h0m3-2h0m1-3h0m2-4h0m5 0h0m0 2h0m3 8h0m4-4h0m1 0h0m6-6h0m1 6h0m6-6h0m1 10h0m1-7h0m1-2h0m21 7h0m2-7h0m1 2h0m5 3h0m12-3h0m11-3h0m1 1h0m0 6h0m3 2h0m5-8h0m1 4h0m5 4h0m0 2h0m0-9h0m4 5h0m2-4h0m1-1h0m12 6h0m5 3h0m4-2h0m7-2h0m1 0h0m3 1h0m0-5h0m4 3h0m2 0h0m6-2h0m4 2h0m2 5h0m13-1h0m0-10h0m5 11h0m9-9h0m2 7h0m4-8h0m6 2h0m1-3h0m65 4h0m16 0h0m11-3h0m2 0h0m25 7h0m3-2h0m14 1h0m19-2h0m15 0h0m11 4h0m32 0h0m4-1h0m5-3h0m12 4h0m3-3h0m18 0h0m16 1h0m-770 5h0m9 1h0m12 5h0m12-6h0m22 0h0m2 3h0m6 2h0m5 5h0m15-9h0m4 1h0m16 2h0m9 7h0m7-5h0m3-3h0m5 3h0m2 0h0m17 5h0m9-9h0m10 9h0m17-9h0m8 3h0m4-3h0m10 6h0m7-7h0m1 8h0m74-8h0m13 2h0m11 1h0m7-4h0m1 10h0m0-5h0m4-3h0m1-2h0m0 1h0m26 5h0m3-6h0m2 0h0m2 3h0m4 0h0m4 5h0m11-6h0m2 0h0m2 3h0m33 0h0m3-5h0m4 7h0m20-2h0m10-5h0m2 3h0m6 5h0m5-1h0m0-7h0m4 9h0m1-5h0m5-3h0m4-1h0m3 1h0m2 8h0m1-7h0m11 8h0m4-1h0m64 2h0m19-8h0m49 8h0m2-3h0m12 3h0m2-8h0m49 1h0m32 3h0m52-2h0m-777 14h0m10-7h0m8 5h0m12-3h0m21 7h0m11-3h0m17-1h0m26 2h0m4 4h0m4-5h0m0 2h0m13-3h0m9 6h0m49-11h0m12 7h0m103-5h0m16 7h0m3-4h0m2-5h0m30 4h0m15-3h0m1 10h0m6-10h0m5 9h0m12-10h0m1 4h0m2 3h0m1-1h0m4-6h0m11 1h0m22 1h0m15 5h0m21-2h0m1-4h0m11 6h0m1-3h0m4-4h0m5 9h0m5-7h0m2 0h0m254-2h0m-458 13h0m102-1h0" stroke="#111" stroke-width="4.4" stroke-linecap="round"/>
<line x1="105.8" y1="349.5" x2="221.8" y2="349.5" stroke="#111" stroke-width="2.4" />
<line x1="249.0" y1="349.5" x2="359.0" y2="349.5" stroke="#111" stroke-width="2.4" />
<line x1="390.6" y1="349.5" x2="500.6" y2="349.5" stroke="#111" stroke-width="2.4" />
</g>
<g id="pb">
<text x="600.0" y="27.8" font-size="29" font-weight="bold">b</text>
<text x="863.5" y="27.6" font-size="20.4"><tspan font-style="italic">GATA3</tspan> Day 50</text>
<line x1="708.3" y1="32.0" x2="708.3" y2="365.3" stroke="#111" stroke-width="1.9" />
<line x1="707.3" y1="364.4" x2="1172.0" y2="364.4" stroke="#111" stroke-width="1.9" />
<line x1="703.0" y1="349.5" x2="708.3" y2="349.5" stroke="#111" stroke-width="1.5" />
<text x="700.5" y="355.8" font-size="17.8" text-anchor="end" fill="#111">0</text>
<line x1="703.0" y1="252.2" x2="708.3" y2="252.2" stroke="#111" stroke-width="1.5" />
<text x="700.5" y="258.4" font-size="17.8" text-anchor="end" fill="#111">1</text>
<line x1="703.0" y1="154.8" x2="708.3" y2="154.8" stroke="#111" stroke-width="1.5" />
<text x="700.5" y="161.1" font-size="17.8" text-anchor="end" fill="#111">2</text>
<line x1="703.0" y1="57.5" x2="708.3" y2="57.5" stroke="#111" stroke-width="1.5" />
<text x="700.5" y="63.8" font-size="17.8" text-anchor="end" fill="#111">3</text>
<line x1="795.0" y1="364.4" x2="795.0" y2="370.0" stroke="#111" stroke-width="1.5" />
<line x1="940.0" y1="364.4" x2="940.0" y2="370.0" stroke="#111" stroke-width="1.5" />
<line x1="1084.7" y1="364.4" x2="1084.7" y2="370.0" stroke="#111" stroke-width="1.5" />
<text x="683.0" y="181.0" font-size="23.3" text-anchor="middle" fill="#111" transform="rotate(-90 683.0 181.0)">Expression Level</text>
<text x="810.0" y="376.5" font-size="19" text-anchor="end" fill="#111" transform="rotate(-45 810.0 376.5)">Dermis</text>
<text x="955.0" y="376.5" font-size="19" text-anchor="end" fill="#111" transform="rotate(-45 955.0 376.5)">Epidermis</text>
<text x="1099.7" y="376.5" font-size="19" text-anchor="end" fill="#111" transform="rotate(-45 1099.7 376.5)">Cartilage</text>
<path d="M947.6 349.5C947.3 347.1 945.9 339.8 946.0 334.9C946.1 330.0 946.5 325.2 948.0 320.3C949.5 315.4 952.6 310.6 955.3 305.7C958.0 300.8 960.9 296.0 964.0 291.1C967.1 286.2 970.6 281.4 974.0 276.5C977.4 271.6 981.2 266.8 984.4 261.9C987.6 257.0 990.5 252.2 993.0 247.3C995.5 242.4 997.8 238.4 999.7 232.7C1001.6 227.0 1003.5 218.6 1004.5 213.2C1005.5 207.9 1005.8 204.6 1005.7 200.6C1005.6 196.5 1005.0 192.4 1004.0 188.9C1003.0 185.3 1001.8 182.5 1000.0 179.1C998.2 175.7 995.7 172.0 993.0 168.4C990.3 164.9 987.5 161.5 984.0 157.7C980.5 154.0 975.7 149.9 972.0 146.0C968.3 142.1 965.2 139.1 962.0 134.4C958.8 129.7 955.4 123.5 953.0 117.8C950.6 112.1 949.1 105.5 947.8 100.3C946.5 95.1 945.8 91.4 945.0 86.7C944.2 81.9 943.8 76.6 943.2 72.1C942.6 67.5 942.0 63.5 941.5 59.4C941.0 55.3 940.2 49.7 940.0 47.7L940.0 47.7C939.8 49.7 939.0 55.3 938.5 59.4C938.0 63.5 937.4 67.5 936.8 72.1C936.2 76.6 935.8 81.9 935.0 86.7C934.2 91.4 933.5 95.1 932.2 100.3C930.9 105.5 929.4 112.1 927.0 117.8C924.6 123.5 921.2 129.7 918.0 134.4C914.8 139.1 911.7 142.1 908.0 146.0C904.3 149.9 899.5 154.0 896.0 157.7C892.5 161.5 889.7 164.9 887.0 168.4C884.3 172.0 881.8 175.7 880.0 179.1C878.2 182.5 877.0 185.3 876.0 188.9C875.0 192.4 874.4 196.5 874.3 200.6C874.2 204.6 874.5 207.9 875.5 213.2C876.5 218.6 878.4 227.0 880.3 232.7C882.2 238.4 884.5 242.4 887.0 247.3C889.5 252.2 892.4 257.0 895.6 261.9C898.8 266.8 902.6 271.6 906.0 276.5C909.4 281.4 912.9 286.2 916.0 291.1C919.1 296.0 922.0 300.8 924.7 305.7C927.4 310.6 930.5 315.4 932.0 320.3C933.5 325.2 933.9 330.0 934.0 334.9C934.1 339.8 932.7 347.1 932.4 349.5Z" fill="#C2A83A" stroke="#222" stroke-width="1.2" stroke-linejoin="round"/>
<line x1="795.0" y1="211.5" x2="795.0" y2="349.5" stroke="#222" stroke-width="1.3" />
<line x1="1084.7" y1="281.0" x2="1084.7" y2="349.5" stroke="#222" stroke-width="1.3" />
<path transform="scale(0.5)" d="M1951 95h0m-152 6h0m30 3h0m15-7h0m57 6h0m20-1h0m8-5h0m13 5h0m34-5h0m-209 20h0m28-9h0m17 9h0m35-3h0m101 1h0m8-7h0m1 5h0m3 3h0m24-2h0m-189 8h0m21-2h0m15 5h0m30-2h0m6 0h0m14 5h0m76-7h0m15 9h0m-193 2h0m33 7h0m15-7h0m30 5h0m2 3h0m1-6h0m7 4h0m14-2h0m36-4h0m2 3h0m3 1h0m22-1h0m6 8h0m26-11h0m8 5h0m-205 10h0m5 0h0m2 7h0m1-3h0m47 1h0m6-4h0m8 1h0m82 6h0m41-3h0m12-6h0m3 2h0m-216 11h0m7 5h0m18 0h0m20 1h0m8-6h0m7-2h0m26 5h0m1 0h0m15 1h0m33 1h0m11-1h0m9 3h0m1-9h0m0 4h0m19 5h0m9 0h0m12-4h0m1 4h0m-198 2h0m2 11h0m19-2h0m35 0h0m22-6h0m6 6h0m30-7h0m2 9h0m5-5h0m0-4h0m2 7h0m0-3h0m13-1h0m4-1h0m4 7h0m19-6h0m7 4h0m11-6h0m13 8h0m3-6h0m9 5h0m16-8h0m-218 14h0m0-1h0m26 1h0m3 2h0m3-6h0m14 4h0m30 6h0m66-6h0m3 7h0m0-8h0m7 6h0m11-4h0m2 4h0m15 1h0m12 0h0m5-5h0m3-2h0m4 4h0m14-2h0m-221 9h0m6 7h0m4 2h0m11-5h0m5-6h0m2 9h0m9-4h0m5 1h0m17 4h0m12 0h0m4-9h0m2 8h0m13 1h0m3-9h0m1 6h0m8-2h0m5-2h0m18 5h0m0-3h0m12-3h0m19 5h0m1-2h0m4-5h0m5 2h0m0 9h0m26-1h0m6-1h0m-201 14h0m11-5h0m13 2h0m7-6h0m2-2h0m16 11h0m5-4h0m4 1h0m11 3h0m5-9h0m12 6h0m2-3h0m6 3h0m1 2h0m10-3h0m12-2h0m2-5h0m4 3h0m17 2h0m7 0h0m3-1h0m5 5h0m6-8h0m9-1h0m4 6h0m6 0h0m14 3h0m3-1h0m0 2h0m3-1h0m0-1h0m0-1h0m3-1h0m2 1h0m0 4h0m6-11h0m9 6h0m-223 15h0m0-9h0m1 5h0m15-3h0m0 5h0m20 3h0m0-4h0m8-6h0m4 9h0m5-9h0m16 10h0m0-10h0m4 6h0m3 1h0m15-2h0m7 6h0m1-2h0m0-9h0m3 3h0m11 5h0m6 3h0m10-1h0m1-4h0m7 3h0m1-8h0m2 8h0m0 1h0m12 1h0m23-8h0m6 8h0m13-2h0m6-1h0m4-5h0m7 3h0m2-3h0m1-1h0m8-2h0m2 2h0m1-2h0m1 6h0m2 0h0m-219 14h0m10-2h0m23 4h0m1 1h0m6-2h0m3-8h0m1 5h0m21-4h0m4 6h0m1 0h0m3-7h0m9 0h0m7 5h0m2-6h0m4 7h0m1 2h0m4-4h0m6-3h0m6-1h0m2 0h0m1 9h0m13-5h0m10-5h0m6 6h0m0-5h0m1 2h0m4 5h0m7-4h0m5-2h0m2 6h0m1-6h0m7 7h0m14-4h0m1 3h0m10-1h0m0-5h0m4 2h0m5 1h0m3-5h0m3 11h0m0-1h0m7-2h0m-227 15h0m5-2h0m7 1h0m1-3h0m2-1h0m1 1h0m7-2h0m9-3h0m7 8h0m4-10h0m2 3h0m0 1h0m1 5h0m5-4h0m6 1h0m0 2h0m3-7h0m5-1h0m6 9h0m0-6h0m3 4h0m9 3h0m5-4h0m0-4h0m0-1h0m6-1h0m9 4h0m1-1h0m10-2h0m17 7h0m5-8h0m2 11h0m1-9h0m6 2h0m5 0h0m5 5h0m0 2h0m3-1h0m2-2h0m1-8h0m2 6h0m1-3h0m0 6h0m4-4h0m8 3h0m10-8h0m1 9h0m1 1h0m3 1h0m1-3h0m2-4h0m0 7h0m5-6h0m3 4h0m6-7h0m2-1h0m13 9h0m3-4h0m5-1h0m-229 17h0m4-9h0m1 10h0m1-6h0m8 4h0m1-1h0m2 2h0m3-2h0m6-5h0m2 1h0m2 6h0m2-5h0m1-1h0m2-1h0m1 0h0m4-3h0m0 1h0m5 3h0m2 2h0m5 3h0m1-2h0m0 2h0m3 1h0m7-5h0m1 2h0m6-3h0m1-1h0m1 1h0m13 7h0m2-9h0m2 4h0m1-2h0m2-2h0m2 4h0m3 0h0m0-5h0m0 4h0m3 5h0m10-6h0m16 6h0m1-6h0m1-4h0m2 0h0m0 11h0m1-6h0m4 6h0m1-5h0m1 0h0m6 2h0m6 1h0m1-8h0m1 5h0m0 5h0m3-7h0m4 2h0m4 4h0m2-4h0m5-1h0m0 4h0m7 1h0m3-5h0m13-5h0m2 0h0m8 0h0m5 9h0m7 1h0m10-6h0m-226 8h0m7 3h0m2 6h0m8-6h0m1 4h0m0 2h0m3-3h0m5-4h0m9 1h0m5 8h0m9-11h0m10 9h0m1-7h0m0 9h0m5-9h0m1 2h0m3-3h0m2 2h0m2 2h0m4 6h0m1-7h0m8 7h0m3-11h0m3 8h0m2-1h0m1 0h0m2-2h0m0-1h0m3 7h0m1-7h0m4-4h0m10 9h0m5-2h0m5-4h0m4 0h0m1 4h0m2-7h0m1 0h0m9 4h0m1-3h0m3 10h0m0-6h0m2 0h0m14 5h0m2 1h0m4-3h0m4-7h0m8 3h0m3 4h0m7 2h0m3-1h0m0-7h0m10 3h0m11-1h0m1 7h0m6-1h0m1-1h0m-222 11h0m2-2h0m2 4h0m1-9h0m2 2h0m6 2h0m0-1h0m6-4h0m0 3h0m1 1h0m10 2h0m0-4h0m3-1h0m4 7h0m4 2h0m2-1h0m2-1h0m14-2h0m4 3h0m2-1h0m3 3h0m1-3h0m1 1h0m1-1h0m1-2h0m1-5h0m5 5h0m8 2h0m2-3h0m5 3h0m2-1h0m3-5h0m8 3h0m1 4h0m2-1h0m1-1h0m2-7h0m2 0h0m0 4h0m3 6h0m0-4h0m0 1h0m1-1h0m2 1h0m9-6h0m1-1h0m3 5h0m0-4h0m2 3h0m0 5h0m2-6h0m2 6h0m4-3h0m3 0h0m1 1h0m3 4h0m1-9h0m2 4h0m0 1h0m11-6h0m2 10h0m1-6h0m7-2h0m3 5h0m2-8h0m1 11h0m0-1h0m8-1h0m0-8h0m2 5h0m1 0h0m2-3h0m5 5h0m1-4h0m0 5h0m0-8h0m2 0h0m2 8h0m6-5h0m2 2h0m1-5h0m12 5h0m0 5h0m0-10h0m3 3h0m0 4h0m1-4h0m1 1h0m-229 11h0m1-2h0m6 5h0m2-7h0m2 1h0m1 9h0m2-7h0m1-1h0m4 8h0m0 1h0m8-10h0m1 10h0m2-1h0m1-7h0m3 8h0m4-2h0m4-7h0m3-1h0m4-1h0m1 1h0m0 3h0m1-1h0m2-2h0m1 3h0m2 2h0m2 2h0m1-3h0m2-3h0m5 8h0m5-7h0m0 3h0m11-3h0m7-1h0m2 8h0m2 1h0m1 0h0m1-8h0m1 6h0m2 2h0m11-2h0m1-2h0m5 1h0m4-4h0m2-4h0m2 1h0m1 2h0m1 2h0m7-4h0m4 3h0m5-2h0m2 1h0m3 7h0m0-9h0m4 4h0m1 2h0m2 3h0m0-7h0m2 4h0m5 0h0m0-6h0m0 2h0m1 2h0m3-3h0m2 6h0m3-3h0m3-3h0m1 5h0m0-7h0m1 5h0m6 0h0m11-2h0m4 6h0m2-7h0m5 6h0m2-3h0m2 1h0m1 0h0m1 0h0m4-3h0m2 5h0m1-8h0m3 8h0m0 2h0m4-9h0m1 0h0m1 8h0m1-9h0m1 8h0m2-8h0m3 10h0m-230 5h0m2 5h0m6 3h0m3-6h0m2-3h0m0 9h0m2-11h0m2 2h0m0 1h0m3 5h0m2-6h0m0 3h0m0 6h0m1-6h0m3-1h0m1-4h0m3 5h0m4-2h0m3-3h0m1 8h0m5-7h0m6-1h0m3 4h0m2-3h0m2 4h0m1-4h0m1 0h0m1 4h0m1 3h0m6 0h0m2-7h0m0 2h0m1 0h0m1-1h0m5 2h0m2-1h0m3 6h0m8-2h0m4 4h0m1-5h0m3-4h0m2 0h0m0 4h0m7 2h0m5-1h0m1-1h0m1 5h0m4-9h0m1 3h0m7 0h0m2-1h0m4 0h0m8-2h0m2 1h0m2 3h0m0 4h0m1 0h0m2-8h0m1 9h0m5 0h0m2-8h0m1 8h0m4-2h0m5 0h0m1-4h0m10 5h0m1-9h0m1 6h0m3 2h0m3-5h0m2 2h0m3-6h0m4 8h0m0 2h0m0-1h0m9-6h0m0 5h0m3 2h0m3-2h0m2-1h0m0-6h0m2 10h0m0-10h0m1 10h0m4-2h0m1-1h0m0-4h0m2-3h0m1 9h0m0 1h0m3-3h0m1 2h0m2-2h0m2 1h0m0-3h0m2-2h0m-223 14h0m0-5h0m2-1h0m9 9h0m0-5h0m1 6h0m3-5h0m1 3h0m1 0h0m2 1h0m3-2h0m2 3h0m4-3h0m3-6h0m1 2h0m2-1h0m4 9h0m1-4h0m1 2h0m1-7h0m1 4h0m3-4h0m1 5h0m2 4h0m1 0h0m1-6h0m4 0h0m2-2h0m4 7h0m2-7h0m1 5h0m2-5h0m1 5h0m0-4h0m4 5h0m1 0h0m4 1h0m3-3h0m0 3h0m6-5h0m0 3h0m0-7h0m5 6h0m2-5h0m6 6h0m5-4h0m2 6h0m1-6h0m3 5h0m0-6h0m7 8h0m3-9h0m4 6h0m1 2h0m2 0h0m1-10h0m0 3h0m1 3h0m1 2h0m1 2h0m1-6h0m1 5h0m3-1h0m4-1h0m3 0h0m3-4h0m0-1h0m2-2h0m1 2h0m2-2h0m1 9h0m1-4h0m1-2h0m2 4h0m0-5h0m1 2h0m2 7h0m1-1h0m4-5h0m4 3h0m0-7h0m4 10h0m2-7h0m0 7h0m2-10h0m3 4h0m9 0h0m0 6h0m1-2h0m4-5h0m3 4h0m2 2h0m0-3h0m1-5h0m1 2h0m2-1h0m1 7h0m9-1h0m2-2h0m1 2h0m1 1h0m1-3h0m1-3h0m0-1h0m1 8h0m1-8h0m4 4h0m1 2h0m-226 5h0m2 1h0m6 8h0m1-3h0m0 2h0m0-8h0m3 1h0m6-3h0m1 7h0m3 4h0m0-9h0m2 6h0m1-3h0m2-5h0m0 5h0m1 4h0m3-4h0m1 4h0m1-3h0m2 3h0m0-1h0m1-2h0m6-6h0m1 3h0m1-2h0m1 4h0m2 6h0m2-3h0m1 2h0m0-10h0m1 3h0m1 6h0m2-8h0m2 2h0m4 1h0m1-1h0m2 1h0m1 4h0m1-5h0m9 4h0m1-5h0m3 8h0m1-3h0m1 0h0m1-6h0m1 6h0m2 2h0m1-8h0m0 9h0m0-10h0m1 6h0m2-4h0m2 8h0m2 1h0m2-4h0m0-3h0m1 5h0m1 2h0m0-7h0m1 3h0m4-5h0m0 5h0m4-1h0m8 3h0m5-9h0m1 10h0m3-5h0m3-5h0m2 6h0m1 4h0m2-7h0m2 3h0m2 5h0m8-2h0m5-2h0m2 1h0m0-1h0m1-2h0m2 6h0m0-10h0m5 0h0m1 9h0m0-1h0m2 2h0m3-10h0m1 2h0m2-1h0m2 6h0m8 3h0m2-5h0m0 1h0m1-7h0m1 4h0m2 7h0m1-6h0m3 4h0m1 1h0m0 1h0m3-3h0m3-8h0m6 1h0m0 6h0m2-7h0m0 3h0m2 7h0m1-5h0m3 4h0m0 2h0m0-9h0m1 2h0m0 7h0m1-3h0m2 2h0m2-4h0m1 1h0m5-3h0m1 2h0m2 0h0m1 4h0m1-10h0m4 2h0m-232 19h0m1-5h0m3 1h0m0 2h0m0-4h0m3 5h0m1-5h0m3 8h0m8-1h0m0-9h0m7-1h0m3 7h0m1 3h0m3-7h0m2 7h0m0-2h0m1-8h0m1 7h0m1-1h0m2-3h0m4 1h0m1-4h0m7 11h0m1-9h0m2 7h0m3 1h0m3-4h0m1-1h0m7-1h0m1-3h0m0 5h0m1-5h0m1 7h0m1-6h0m2 9h0m4-7h0m1 7h0m5-7h0m0 5h0m2-8h0m1 4h0m2-2h0m0 6h0m3-2h0m3-2h0m4 6h0m2-6h0m3-2h0m0 7h0m3-10h0m2 1h0m1 2h0m6 4h0m1-3h0m3 4h0m1-6h0m1 0h0m2-2h0m0 4h0m3 3h0m0 2h0m4-5h0m3 7h0m0-5h0m1-1h0m1-4h0m0-1h0m5 2h0m1 7h0m0-8h0m3 9h0m0 1h0m4-10h0m1 2h0m2 5h0m3-3h0m2 3h0m1-3h0m2-1h0m1-4h0m3 10h0m0-7h0m0-1h0m1 5h0m2-7h0m0 7h0m5-6h0m2 7h0m2-8h0m3 8h0m1-2h0m0-1h0m1 5h0m4-4h0m1 5h0m1-1h0m0 1h0m2-7h0m9 7h0m2 0h0m2-1h0m1-8h0m1 3h0m9 1h0m0 3h0m0 1h0m0-8h0m1 4h0m4 4h0m2-10h0m1 5h0m7 2h0m2-2h0m1 6h0m-231 6h0m2 0h0m1-5h0m2 2h0m1 3h0m4 3h0m2-3h0m0 3h0m1-4h0m3-3h0m2 6h0m3-2h0m6 2h0m0-1h0m0-3h0m3 7h0m3-1h0m0-6h0m1 1h0m1 0h0m1 7h0m1-1h0m1-1h0m2 0h0m0 1h0m0-10h0m0 7h0m2 4h0m1-9h0m0 4h0m6-1h0m1 4h0m1-4h0m2-5h0m0 5h0m0 3h0m4-3h0m4 3h0m2-6h0m4 2h0m3 5h0m0-6h0m0 5h0m1 3h0m4-10h0m1 9h0m3-2h0m2-1h0m2 2h0m1 2h0m0-1h0m3-6h0m1 2h0m1-5h0m2 7h0m3 3h0m1-2h0m2 0h0m3-5h0m0 6h0m3-1h0m0 2h0m0-3h0m3 2h0m2 1h0m1-7h0m1 7h0m1-2h0m3-4h0m0-1h0m2 1h0m1-4h0m0 5h0m1-3h0m1-3h0m4 5h0m2-2h0m0 7h0m6 0h0m1-5h0m0-1h0m4-4h0m0 2h0m0 4h0m1-5h0m0 1h0m1 1h0m3 4h0m2 2h0m0-6h0m8-1h0m2 3h0m10-1h0m1 6h0m1-1h0m6 2h0m1-3h0m1 0h0m2-5h0m4 7h0m0-8h0m5 1h0m1 8h0m0-10h0m4 1h0m9 5h0m1-4h0m1 8h0m3-11h0m1 3h0m1 5h0m2-3h0m5-1h0m0-3h0m2 1h0m2 5h0m0-6h0m1 0h0m1 0h0m6 4h0m1-3h0m3-2h0m1 1h0m2 2h0m-232 14h0m0 6h0m2-7h0m1 7h0m0-10h0m5 4h0m1 2h0m1 2h0m2-9h0m1 7h0m4-4h0m1 2h0m0 5h0m2-1h0m1-4h0m2-4h0m2 1h0m2 2h0m4-3h0m5 10h0m4-5h0m0 3h0m2 1h0m1-7h0m1 2h0m3 3h0m6-8h0m6 0h0m2 5h0m1 2h0m1-6h0m2 5h0m0-5h0m1 7h0m0 3h0m1-9h0m1 3h0m9-4h0m4 9h0m2-3h0m1 3h0m2-2h0m2-3h0m5 2h0m1 2h0m2 2h0m0-3h0m0 2h0m2-5h0m1 5h0m1-10h0m1 10h0m0-1h0m5 1h0m1-6h0m1-3h0m0 3h0m4-2h0m3 9h0m3-1h0m0-1h0m2 1h0m0-1h0m4 1h0m1-1h0m0-6h0m6 7h0m1-5h0m1-2h0m4 1h0m4-1h0m2 8h0m2-9h0m6 2h0m1-2h0m1-2h0m2 8h0m1-7h0m3 10h0m0-10h0m1 3h0m0 6h0m1-1h0m3-7h0m3 3h0m0-1h0m2 6h0m3-1h0m2-7h0m1-1h0m0 6h0m0-1h0m2-3h0m2-1h0m2 8h0m2-6h0m1-2h0m1 5h0m4-4h0m1-1h0m9 4h0m1-3h0m0 7h0m3 1h0m3-2h0m4-9h0m1 0h0m4 5h0m1 3h0m2 0h0m1-2h0m2 4h0m1 0h0m0-9h0m1 9h0m1-8h0m3 2h0m0 5h0m3-8h0m1 8h0m-231 7h0m5 5h0m2 2h0m3-10h0m1 3h0m1 1h0m0 6h0m2-1h0m0-9h0m3 7h0m7-8h0m2 9h0m1-8h0m1 2h0m2 7h0m2-8h0m2 8h0m1-9h0m2 5h0m1-3h0m2 8h0m1-7h0m2 3h0m1 4h0m0-11h0m1 0h0m2 5h0m2-1h0m0 1h0m1-3h0m1 1h0m7 7h0m0-6h0m5 5h0m0-9h0m0 10h0m1 1h0m2-5h0m1-2h0m4 7h0m3-9h0m1 7h0m2 0h0m1-4h0m2 2h0m1 1h0m1-1h0m1-2h0m0-3h0m1 3h0m1-3h0m1-1h0m1 4h0m4-2h0m1 2h0m1 0h0m3-5h0m2 8h0m1-1h0m3 4h0m1-4h0m8-6h0m2 4h0m2-5h0m4 10h0m0-7h0m9 0h0m2 7h0m3-2h0m6-3h0m2-2h0m1 3h0m2-3h0m2 5h0m4-7h0m3 7h0m1 2h0m0-8h0m1 6h0m0-6h0m1 9h0m5-6h0m0-5h0m9 1h0m1 8h0m3-8h0m2 6h0m1-5h0m0 6h0m1-3h0m2 4h0m0 2h0m2-1h0m2-7h0m2 1h0m2 3h0m0 1h0m5-7h0m0 6h0m5 3h0m2 1h0m1-6h0m1-5h0m1 0h0m0 4h0m1 6h0m1-4h0m2 1h0m6-6h0m2 2h0m0 5h0m3-8h0m1 2h0m1 9h0m0-10h0m1 3h0m2 2h0m4-6h0m2 1h0m1 2h0m0 5h0m0 3h0m-229 10h0m0-6h0m3 7h0m2-10h0m2 3h0m5-3h0m5 3h0m1 1h0m4 3h0m0 3h0m1 0h0m5-8h0m0 2h0m1 2h0m2-4h0m5 8h0m2-2h0m1-2h0m1 5h0m0-7h0m1 6h0m3-4h0m1-4h0m5 1h0m1-3h0m1 2h0m2 6h0m1-2h0m6-5h0m0 7h0m4-6h0m1 1h0m2 8h0m1-7h0m7 1h0m6 1h0m7 3h0m1-2h0m1 4h0m0-11h0m1 10h0m0-10h0m1 3h0m2 1h0m1-3h0m2 9h0m2-7h0m4 6h0m0-6h0m6 3h0m3-3h0m4 5h0m2-6h0m1 4h0m1 2h0m2-3h0m3-3h0m2 6h0m1-2h0m1 2h0m1 0h0m5 1h0m1-9h0m0 11h0m5-10h0m2 3h0m0 5h0m1-7h0m0-1h0m0 8h0m4-7h0m4-2h0m1 10h0m2-5h0m3 5h0m2-9h0m4 1h0m2 0h0m0-1h0m2 9h0m0-9h0m3 8h0m9 1h0m0-9h0m1 6h0m3-2h0m3 1h0m3 2h0m0 3h0m0-7h0m1 1h0m0 2h0m3 2h0m1-8h0m3-1h0m4 9h0m0 1h0m1-6h0m1 6h0m2 1h0m1-1h0m2-6h0m1 1h0m1 1h0m1 5h0m3-8h0m7 3h0m1 0h0m1-2h0m1-1h0m1 3h0m0 4h0m2-3h0m1 4h0m1-6h0m-226 14h0m0-5h0m5 4h0m2-6h0m6 0h0m2 9h0m0-8h0m5 10h0m1-5h0m1-5h0m4 5h0m3 2h0m3-3h0m2-3h0m2-1h0m2 10h0m3-5h0m1-6h0m0 4h0m2 3h0m0 2h0m2-7h0m1 1h0m2 7h0m1 0h0m3-7h0m1 1h0m3 0h0m2 2h0m0 3h0m3-8h0m3 2h0m1 1h0m0-1h0m0-1h0m1 5h0m0 2h0m1-3h0m2 3h0m1-6h0m2 6h0m0-3h0m3-3h0m0 5h0m1-6h0m4 7h0m1-2h0m1 2h0m4-8h0m1 7h0m1-6h0m0 2h0m4-3h0m1-1h0m5 10h0m0-7h0m1 4h0m0 2h0m3 1h0m0-4h0m2 2h0m2-6h0m2 6h0m1 0h0m0 2h0m1-7h0m1 2h0m5 1h0m6-2h0m0 2h0m0 3h0m1 2h0m0-10h0m0 6h0m0 2h0m1-3h0m1-3h0m5 0h0m2 5h0m0-6h0m3 7h0m1 1h0m2-4h0m2 3h0m1-7h0m1 8h0m6-2h0m2 2h0m1-8h0m1 8h0m0-9h0m1 8h0m0-5h0m0 3h0m1-5h0m1 0h0m2 4h0m3 2h0m2-1h0m3-7h0m1 8h0m2-6h0m3 9h0m0-10h0m2-1h0m1 11h0m2-3h0m0-8h0m1 9h0m2-4h0m1 0h0m1 2h0m0 2h0m0 2h0m0-11h0m1 0h0m0 5h0m6 4h0m2-9h0m2 3h0m7 4h0m2 0h0m1 2h0m1-5h0m1-4h0m1 11h0m0-5h0m0 2h0m3-6h0m1 6h0m0 3h0m0-10h0m1 9h0m0-3h0m1-1h0m0 3h0m1-1h0m3-5h0m2 0h0m1 8h0m1-10h0m3 8h0m1 0h0m-229 14h0m2-11h0m0 2h0m2-1h0m1 9h0m3 0h0m5 1h0m6-4h0m3-2h0m1 6h0m3-8h0m2 4h0m0 2h0m4-4h0m1-4h0m0 2h0m0 1h0m4 6h0m4-4h0m1 4h0m1 0h0m2-6h0m2-2h0m0 4h0m1-3h0m1-2h0m1 4h0m12-2h0m1 4h0m2-5h0m2 5h0m5-2h0m2 5h0m2-2h0m4 0h0m1 1h0m3-4h0m0 6h0m0-10h0m3 3h0m2 1h0m0-1h0m1 2h0m1-2h0m1 5h0m3-3h0m0 5h0m0-8h0m1 4h0m2-1h0m4-2h0m1 7h0m2-3h0m1-5h0m0 4h0m3 0h0m2-3h0m2 0h0m1 1h0m4-2h0m0 3h0m0-4h0m3 6h0m1-3h0m2-2h0m3 3h0m5 5h0m1-11h0m1 2h0m1-2h0m1 5h0m0 6h0m1-9h0m1 9h0m1-4h0m1-7h0m2 0h0m1 7h0m4-2h0m0 1h0m3 1h0m1 4h0m1-4h0m1-6h0m0 2h0m2 6h0m1-6h0m3 3h0m1-5h0m2 10h0m0-7h0m0 3h0m3-5h0m0 2h0m0 1h0m3-3h0m4 2h0m8 7h0m5-9h0m4 3h0m1-4h0m1 9h0m3 0h0m7-9h0m0 3h0m1-4h0m1 4h0m3 6h0m0-9h0m1 2h0m1 5h0m0-4h0m3 7h0m0-6h0m2 3h0m0-2h0m2-2h0m3 5h0m1-2h0m0-2h0m3 1h0m1-3h0m2 8h0m1-9h0m0 2h0m3 0h0m1 1h0m1-1h0m-230 8h0m1 6h0m4-6h0m0 4h0m2 2h0m2-1h0m1 3h0m1-4h0m4 0h0m0 3h0m1 1h0m3-7h0m1 1h0m1 5h0m1-1h0m0-3h0m3 0h0m1 0h0m2 0h0m1 0h0m2 3h0m2-1h0m1-5h0m5 8h0m0-5h0m3 3h0m0 4h0m0-5h0m3-1h0m2-2h0m1 4h0m3-2h0m0 6h0m1-3h0m6-5h0m1 6h0m5 2h0m6-10h0m1 4h0m2-4h0m0 1h0m1 5h0m0-1h0m1-4h0m1 10h0m0-8h0m1 2h0m1 4h0m2-5h0m1-3h0m1 3h0m0 5h0m1-2h0m2-3h0m1 6h0m2-8h0m6 5h0m0 2h0m3-7h0m1 4h0m2-2h0m3 7h0m8-8h0m1 4h0m1-2h0m2 6h0m4-4h0m0 4h0m2-4h0m0 4h0m0-6h0m1-5h0m3 8h0m6 1h0m3-8h0m3 9h0m2-3h0m6 3h0m1 1h0m2-9h0m3 5h0m0 1h0m2-3h0m0 5h0m1 1h0m1-3h0m0 3h0m1-9h0m0 3h0m5-2h0m2 1h0m1 0h0m2-4h0m2 2h0m0 5h0m3 1h0m1 2h0m3-5h0m0-1h0m3 5h0m1-6h0m1 0h0m0 6h0m5-9h0m3 3h0m4-3h0m1 5h0m2-4h0m1 3h0m1 0h0m0 5h0m1 1h0m0-1h0m1-6h0m2 5h0m0-7h0m3 4h0m3 3h0m2-2h0m4-5h0m1 3h0m1 5h0m0-6h0m2 0h0m0 7h0m1 1h0m1-3h0m3-2h0m4-3h0m1 3h0m-406 12h0m180-4h0m1 0h0m4 7h0m2-2h0m1-3h0m1 5h0m1 1h0m0-7h0m1-3h0m0 4h0m0 2h0m4 4h0m2-2h0m3-3h0m2-1h0m0-2h0m1-1h0m3 5h0m1 1h0m0 4h0m1-6h0m1-2h0m6-3h0m1 2h0m2 1h0m0 3h0m0-6h0m5 7h0m3-3h0m1 3h0m1-7h0m0 11h0m3-10h0m1 2h0m1-1h0m1 8h0m2-1h0m0-4h0m3 0h0m0-1h0m3 5h0m0-5h0m1-3h0m1 0h0m1 2h0m2-2h0m5 0h0m0 6h0m1-3h0m3-4h0m2 4h0m10 1h0m0 5h0m2-4h0m5 4h0m1-7h0m2 1h0m0 2h0m2-5h0m3 0h0m3 9h0m2 1h0m3-3h0m0 2h0m1-3h0m5 1h0m7-1h0m0 3h0m0-10h0m1 3h0m1 6h0m0-7h0m2 9h0m1-10h0m1 6h0m1-3h0m3-1h0m0 8h0m0-11h0m1 3h0m0 4h0m1 3h0m2 0h0m1-8h0m6-2h0m1 1h0m0 3h0m1 7h0m2-3h0m0-8h0m2 3h0m1 1h0m1 4h0m1-2h0m1-2h0m2 3h0m7 2h0m2-1h0m1-6h0m0 4h0m1-1h0m0-4h0m0-1h0m2 10h0m0-9h0m1 7h0m3 2h0m3 0h0m2-10h0m6 10h0m2-9h0m2 6h0m1-4h0m1 2h0m4 4h0m0-3h0m1 1h0m0 1h0m0 2h0m2-3h0m3-1h0m0 5h0m1-11h0m0 1h0m1 3h0m4 1h0m0 3h0m2-4h0m4-3h0m4 9h0m1-10h0m1 4h0m1 1h0m4-5h0m3 6h0m-229 8h0m1 5h0m3-5h0m0 9h0m3-1h0m6-9h0m1 9h0m0-7h0m0 3h0m8 2h0m7-4h0m0-2h0m1 6h0m0-8h0m0 9h0m0-8h0m0 6h0m1-7h0m0 2h0m5 5h0m3-3h0m1 7h0m0-3h0m2-1h0m5-5h0m1 0h0m1 0h0m2-1h0m0-1h0m1 5h0m3 3h0m2 1h0m1-1h0m1-2h0m5-4h0m0 3h0m4 2h0m3-5h0m2 0h0m1 2h0m2 7h0m3-8h0m3 2h0m2 6h0m2 0h0m3-5h0m0-4h0m1 2h0m1 7h0m1-11h0m1 5h0m0 6h0m2-11h0m0 2h0m1 0h0m0 5h0m0 2h0m1-2h0m1 1h0m2-7h0m0 6h0m1 4h0m0-10h0m1 0h0m1 2h0m0 6h0m5-3h0m4 5h0m0-10h0m1 6h0m2 2h0m1-9h0m1 5h0m2-1h0m2-1h0m0 8h0m2-5h0m4 4h0m1-9h0m0 3h0m2-2h0m1 4h0m3-2h0m1 7h0m3-7h0m3-3h0m0 2h0m4 4h0m4 1h0m3-6h0m3 5h0m2 3h0m2-2h0m1 0h0m2-3h0m3 2h0m1 4h0m5-10h0m2 1h0m4 7h0m2 2h0m1-5h0m0 2h0m1-8h0m0 4h0m4 1h0m0 2h0m1-5h0m1-1h0m5 8h0m4-7h0m1 3h0m10 0h0m0 2h0m0 2h0m5-7h0m1-2h0m1 7h0m13 3h0m0-4h0m3-5h0m-487 15h0m159-3h0m26 10h0m72-10h0m8 3h0m0 3h0m2 0h0m0 4h0m2-9h0m3 7h0m5-2h0m2-2h0m6 0h0m0-3h0m4-2h0m3 3h0m1-3h0m2 3h0m0 4h0m1 0h0m0-6h0m1 1h0m4 5h0m0-1h0m4 0h0m4 4h0m0-10h0m1 6h0m3 0h0m4 1h0m1 2h0m1-6h0m0-3h0m6 5h0m4 1h0m7 0h0m0 2h0m4 0h0m1-7h0m7 1h0m3 6h0m2-7h0m1 9h0m1-4h0m1 1h0m3-7h0m0 3h0m2 5h0m3-3h0m0 3h0m2-2h0m0 5h0m4-11h0m2 11h0m5-9h0m2 9h0m2-8h0m4 6h0m2-7h0m1 1h0m3-1h0m3 6h0m3-7h0m0 4h0m0 4h0m2 0h0m1 2h0m5-5h0m7 4h0m2-10h0m1 8h0m0-1h0m0-5h0m7 4h0m1 3h0m2-2h0m6-1h0m0 2h0m1-4h0m0 6h0m7 0h0m1-1h0m0-5h0m5 5h0m0-9h0m1 11h0m0-11h0m3 5h0m1 0h0m0 2h0m4-6h0m1 9h0m0-10h0m5 6h0m1-5h0m0-1h0m1 4h0m1 7h0m7-11h0m3 10h0m1-9h0m1 5h0m1-6h0m1 1h0m11 7h0m-371 12h0m51 3h0m89-3h0m1-2h0m3-4h0m1 4h0m2 5h0m4-9h0m3 6h0m0-5h0m1 8h0m2-10h0m1 9h0m2-5h0m5-5h0m2 3h0m1 2h0m0 4h0m2 1h0m1-6h0m3-3h0m4 6h0m0 1h0m1 0h0m0 2h0m1-3h0m2-4h0m4 1h0m1-4h0m2 6h0m1-4h0m1 1h0m2 1h0m0 1h0m3-4h0m1 3h0m2-2h0m1-1h0m1-1h0m2 1h0m1 10h0m0-10h0m1 0h0m1 1h0m1 0h0m2 0h0m0 2h0m3 1h0m3 4h0m3-6h0m0 4h0m1-4h0m4 4h0m0-5h0m1 2h0m1-2h0m0 1h0m1 6h0m0 2h0m0-8h0m1 5h0m1-6h0m1-1h0m0 5h0m1-6h0m2 1h0m0 9h0m1-8h0m2 6h0m0 1h0m1-6h0m1 8h0m10-7h0m0 1h0m2-1h0m0 1h0m0-5h0m5 3h0m3-2h0m3 5h0m5 0h0m2-1h0m1-3h0m0 5h0m0 2h0m0-8h0m0 2h0m1 4h0m1-2h0m1 1h0m4-4h0m1 4h0m1-4h0m2 8h0m2-4h0m1 0h0m0 4h0m1-5h0m3 3h0m6 1h0m0-9h0m2 4h0m1 2h0m0 2h0m1 3h0m2-4h0m2-7h0m4 4h0m3-3h0m6 8h0m2 0h0m1 2h0m3-11h0m2 6h0m5-6h0m3 6h0m1-1h0m2 5h0m1-4h0m3 1h0m1-1h0m0 2h0m0-1h0m0-5h0m1-1h0m0 2h0m2 4h0m1-2h0m2 5h0m3 0h0m5-9h0m3 10h0m0-8h0m4-3h0m1 11h0m4-1h0m1-5h0m1 3h0m1 3h0m3-2h0m-393 4h0m166 10h0m0-8h0m2 0h0m6 2h0m1 1h0m6 5h0m3-6h0m1 4h0m2-7h0m2 2h0m1 3h0m1-7h0m1 5h0m0 2h0m0-1h0m3-1h0m2 6h0m1-7h0m1 7h0m3-10h0m0 4h0m5 6h0m1-1h0m2 1h0m3-3h0m2 1h0m1-7h0m2 2h0m1-2h0m3 3h0m0-3h0m3 3h0m2 4h0m4-3h0m1-1h0m6 2h0m4-3h0m2 3h0m1-5h0m1 0h0m1 4h0m1 2h0m1 2h0m2-5h0m4 0h0m0-5h0m2 10h0m0-9h0m3 8h0m6 2h0m5-11h0m2 1h0m3 7h0m8 1h0m0-4h0m2 6h0m1-6h0m8 3h0m1-5h0m2 7h0m2 1h0m0-7h0m1 2h0m6-2h0m3-3h0m0 1h0m6-1h0m4 0h0m3 7h0m3-8h0m3 6h0m0-3h0m1 4h0m1-5h0m0 3h0m2 2h0m1 3h0m2-7h0m0 1h0m1 7h0m2-10h0m1-1h0m0 9h0m1-6h0m1 2h0m7 3h0m0 1h0m1-2h0m3-7h0m1 8h0m3-5h0m2 0h0m0 4h0m1 1h0m3 1h0m5-3h0m1-3h0m5 1h0m0-1h0m2 7h0m0-5h0m2 3h0m1-1h0m0 2h0m4 2h0m0-4h0m8-2h0m0 2h0m0 3h0m0-8h0m1-1h0m-489 21h0m263-4h0m0 2h0m2-3h0m0-1h0m3-2h0m5 5h0m4 0h0m4 1h0m2 1h0m2-1h0m0-5h0m3 8h0m5-4h0m0-6h0m1 5h0m3-1h0m1-5h0m0 3h0m1 4h0m1-2h0m1 6h0m6-4h0m0 2h0m0-5h0m2 1h0m2 1h0m2-6h0m1 10h0m1-6h0m2 6h0m2-9h0m4 9h0m3-2h0m0 2h0m1-7h0m7 2h0m0 1h0m1-3h0m1 4h0m2 2h0m1-8h0m2 4h0m0 5h0m1-2h0m1-7h0m2 9h0m1-9h0m0 4h0m2-3h0m6 8h0m5 0h0m0-7h0m1 6h0m1-6h0m2 2h0m3-5h0m0 3h0m1-2h0m0 2h0m7-3h0m9 10h0m1-8h0m3 1h0m4 7h0m2 1h0m0-9h0m2 1h0m1 2h0m0-1h0m1 7h0m7-9h0m2 2h0m1 5h0m0 2h0m0-10h0m1 4h0m0 3h0m0 1h0m4 1h0m1-4h0m3-6h0m4 3h0m0 2h0m2 5h0m3-1h0m1-4h0m3-5h0m0 3h0m1 8h0m1-10h0m0 3h0m2 7h0m5-11h0m2 10h0m2-8h0m1 9h0m9-8h0m4 7h0m7 1h0m4 0h0m1-1h0m6-6h0m4 5h0m1 0h0m1-5h0m1 1h0m2 1h0m1-3h0m4 7h0m0-10h0m2 1h0m2 1h0m-445 10h0m213 8h0m1 1h0m0-1h0m1 1h0m3-8h0m3 4h0m3 5h0m1-3h0m0 4h0m1-3h0m3 1h0m2-3h0m1 5h0m2-8h0m1 4h0m10-6h0m1 8h0m2-9h0m4 10h0m0-8h0m0 1h0m1 5h0m2-6h0m0 4h0m5-4h0m4 0h0m1 6h0m0-6h0m0 1h0m6-1h0m2 0h0m1 3h0m3 6h0m5-10h0m0 5h0m2-1h0m15 1h0m3-2h0m4 2h0m1-1h0m1 3h0m1-3h0m0 3h0m2 2h0m3-8h0m1 7h0m0-7h0m4 1h0m1-3h0m11 10h0m8-7h0m0 5h0m2-5h0m0 5h0m1-8h0m0 10h0m5-6h0m0 7h0m0-8h0m1-3h0m6 8h0m4 0h0m4 3h0m1-1h0m5-1h0m1-1h0m0-1h0m4-6h0m5 4h0m4 4h0m2-1h0m0 1h0m4 2h0m0-9h0m1 0h0m1-2h0m0 1h0m0 3h0m1-2h0m2 3h0m3-1h0m0-1h0m1 3h0m2 2h0m3-6h0m3 4h0m1 1h0m2-2h0m2-1h0m2 5h0m0-6h0m4 0h0m1 8h0m3-5h0m0 2h0m11-7h0m2 8h0m0 2h0m1 0h0m3-3h0m1-5h0m5 6h0m-512 10h0m8 4h0m25-9h0m125-1h0m137 1h0m1 2h0m0-4h0m1 0h0m6 3h0m6 8h0m2-10h0m3 9h0m7-6h0m3 3h0m0-4h0m3 7h0m6-10h0m6 6h0m4 3h0m1-9h0m0 7h0m5 3h0m2-10h0m5 8h0m2 0h0m0-1h0m3-3h0m2 2h0m3 3h0m2-9h0m1 4h0m0-3h0m0-1h0m1 4h0m7 0h0m1 7h0m2-6h0m2 0h0m1 4h0m2 2h0m2 0h0m8-1h0m7-7h0m3 4h0m3-6h0m0 5h0m3 0h0m2-3h0m3 1h0m3-2h0m2 2h0m0 7h0m13-2h0m1 2h0m2 0h0m0-8h0m5 2h0m2-5h0m0 11h0m0-6h0m1 5h0m0 1h0m1-7h0m2 6h0m7-4h0m2-3h0m3 8h0m6-1h0m3 0h0m0-3h0m2 4h0m2-9h0m6 3h0m1 3h0m0 2h0m1-3h0m0-6h0m0 4h0m2 3h0m0-6h0m8 0h0m1-2h0m7 9h0m3 0h0m3-2h0m9-7h0m-516 13h0m0 6h0m35-7h0m57 11h0m77-9h0m47 3h0m70-1h0m1 2h0m2 1h0m0 2h0m4-3h0m2 4h0m0-5h0m3-5h0m1 1h0m5 4h0m2 1h0m6 0h0m1 3h0m1-9h0m3 8h0m5 0h0m0-5h0m2 7h0m2-5h0m2 0h0m1-1h0m1 1h0m4-3h0m10 3h0m2-1h0m3 6h0m0 1h0m1-6h0m9-5h0m7 8h0m2-5h0m3-1h0m0 7h0m3-9h0m0 5h0m4 4h0m2-9h0m8 7h0m1-2h0m6-1h0m6 3h0m6-7h0m6 8h0m2-8h0m0 10h0m1-9h0m6-1h0m4 9h0m3-3h0m7-4h0m0 3h0m5 6h0m3-6h0m5 1h0m2-4h0m3 7h0m2-6h0m1-1h0m0 4h0m6 2h0m4-1h0m2-1h0m1 3h0m1 2h0m4-9h0m2 0h0m1-1h0m2 8h0m6-8h0m4 7h0m9-5h0m2-1h0m3 8h0m0-3h0m2 3h0m3-9h0m3 5h0m-490 14h0m26 1h0m40-1h0m65-3h0m29 2h0m9 0h0m29 3h0m66 0h0m11-10h0m7 9h0m5-5h0m7 2h0m3-2h0m9 1h0m5-5h0m0 6h0m1 0h0m6-6h0m4 8h0m5 3h0m3-10h0m3 0h0m2 2h0m10 8h0m13-10h0m13-1h0m0 5h0m3 0h0m5-4h0m0 6h0m3-2h0m5-1h0m1-2h0m6 0h0m2 2h0m5 3h0m8 4h0m7-6h0m0-1h0m0-4h0m4 0h0m3 5h0m10 0h0m1-4h0m6 10h0m2-8h0m1 6h0m0 1h0m3-8h0m2 6h0m7 3h0m1-4h0m3-6h0m0 9h0m7-9h0m1-1h0m2 9h0m10-8h0m0 10h0m1 0h0m3-2h0m1 1h0m8-9h0m-507 17h0m32-1h0m11 3h0m24 3h0m1-9h0m6 1h0m17 6h0m29-2h0m42 4h0m117-6h0m1 3h0m4 0h0m5 0h0m6-6h0m4 0h0m1 4h0m1 2h0m4-3h0m3-4h0m2 1h0m1 7h0m3-4h0m10 2h0m1 1h0m3-3h0m6 2h0m4 3h0m0-6h0m3 7h0m8-11h0m2 6h0m3 2h0m1 2h0m6 0h0m2-1h0m1-1h0m5-3h0m5-5h0m6 4h0m5 0h0m0-4h0m1 6h0m2-5h0m3 7h0m13-3h0m1 0h0m4-3h0m3 4h0m15 4h0m6-2h0m3 1h0m0-9h0m5 1h0m10 3h0m18 7h0m1-7h0m5 1h0m17 4h0m5 2h0m2-2h0m9-8h0m-521 22h0m10 0h0m11-7h0m10-4h0m2 2h0m4 3h0m6-2h0m0 3h0m4 5h0m10-4h0m6 4h0m10-4h0m3 3h0m3-4h0m14 1h0m5-1h0m28 5h0m13-4h0m3-4h0m2-2h0m4 4h0m0 6h0m5-7h0m3-1h0m39 4h0m0-1h0m17 5h0m12-10h0m1 6h0m65-2h0m2-1h0m0 5h0m10-4h0m1 0h0m11 1h0m5-3h0m8 1h0m6-3h0m4 7h0m4-4h0m2-1h0m5 2h0m1 2h0m0-3h0m1 1h0m4 3h0m3-7h0m4 3h0m0 2h0m1-3h0m1-1h0m1 4h0m24 1h0m1 1h0m1-8h0m0 9h0m4-9h0m3 8h0m0 1h0m6-4h0m1 0h0m9-5h0m7 9h0m20-2h0m1-4h0m4 5h0m4-4h0m0 4h0m9-5h0m4 1h0m1 0h0m2 3h0m5 0h0m2-1h0m1 2h0m2 2h0m2-5h0m1 4h0m3-1h0m2-2h0m5-6h0m7 2h0m1-1h0m10 10h0m0-1h0m4 1h0m-510 3h0m11 2h0m8 7h0m2 0h0m1-2h0m13 0h0m14-7h0m10 1h0m19 7h0m18-6h0m11-4h0m9 0h0m3 7h0m11 2h0m14-6h0m2-3h0m11 10h0m5-6h0m9 0h0m1 4h0m19-4h0m3 5h0m3 0h0m5-2h0m6-1h0m16 4h0m3-9h0m1 0h0m63 10h0m12-3h0m3-8h0m0 3h0m12 6h0m17-4h0m15-3h0m2-1h0m11 0h0m12 3h0m10 3h0m3-2h0m6 4h0m2-9h0m10 2h0m9 7h0m3 1h0m1-5h0m2-3h0m7 6h0m1-8h0m1 2h0m0-2h0m11 2h0m13 2h0m4 5h0m9-7h0m6 4h0m3-1h0m3-5h0m1 2h0m1 0h0m4 1h0m1 4h0m20-4h0m177 6h0m90-7h0m15 9h0m-788 4h0m0-1h0m12 6h0m5-4h0m3 2h0m0-1h0m2 5h0m0-1h0m6-1h0m27-4h0m10 0h0m18 4h0m3-5h0m2-3h0m4 9h0m3 1h0m0-7h0m4-1h0m9 1h0m1 5h0m9-4h0m3 4h0m4-1h0m2-3h0m4-4h0m5 0h0m10 3h0m5-2h0m2 5h0m7-4h0m18 5h0m6 4h0m0-1h0m10-3h0m9 2h0m1-1h0m14 0h0m1 2h0m5-10h0m5 9h0m2 2h0m61-6h0m9 1h0m6 3h0m2 1h0m9-3h0m3 0h0m15 3h0m1-6h0m5 4h0m5-6h0m21 3h0m0 1h0m1-4h0m2 5h0m10 2h0m0-9h0m5 8h0m2-4h0m5 0h0m2 1h0m7-4h0m6 6h0m1 1h0m0 2h0m1-10h0m0 11h0m0-2h0m1 2h0m13-10h0m4 3h0m8 4h0m5-7h0m9 0h0m3 10h0m11-6h0m4 5h0m17-4h0m10 1h0m3 0h0m2 4h0m4-5h0m93 0h0m80-1h0m5-1h0m21-3h0m63 5h0m-765 7h0m2 0h0m3 2h0m4 1h0m2 3h0m3-4h0m6 4h0m18-4h0m7 2h0m22 5h0m9-2h0m0 1h0m0-2h0m4-3h0m1 1h0m5-2h0m3 1h0m7 0h0m2 1h0m13 1h0m9 3h0m26-6h0m4 0h0m1 3h0m13-6h0m1 9h0m3-5h0m1 4h0m4-8h0m14 1h0m2 5h0m35-1h0m3 2h0m3-2h0m1 5h0m72-7h0m3 2h0m9-2h0m10-2h0m7 7h0m2 3h0m11-3h0m4 2h0m5-10h0m22 0h0m1 10h0m1-1h0m1-9h0m12 7h0m1-7h0m2 4h0m8 0h0m2-2h0m19 5h0m7-3h0m2 7h0m2-11h0m37 10h0m2-4h0m1-1h0m12-5h0m27 2h0m5 8h0m76-4h0m71-4h0m92 1h0m32 2h0m11-4h0m-796 12h0m5 10h0m11-9h0m16 5h0m5-7h0m5 4h0m7 1h0m1 3h0m2-3h0m0-1h0m6-2h0m18 2h0m7 0h0m7-4h0m16 3h0m12-1h0m9 1h0m1-3h0m19 3h0m2 4h0m3-1h0m1 3h0m1-4h0m4 0h0m12 2h0m9-2h0m10 4h0m14-3h0m1-6h0m2 1h0m2-1h0m3 11h0m0-10h0m4 1h0m10 2h0m78 3h0m1 3h0m10-3h0m22 0h0m14 1h0m1-5h0m37 1h0m17 4h0m10-1h0m11-6h0m5 4h0m5-3h0m10 0h0m15-2h0m1 2h0m2 1h0m21 3h0m22 2h0m1-6h0m7-1h0m89 7h0m24 2h0m44-6h0m131 5h0m0-9h0m-807 19h0m7-4h0m5 4h0m3 4h0m2-1h0m1-10h0m6 11h0m2-3h0m0-6h0m1 1h0m1 8h0m6-2h0m2-9h0m1 11h0m3-6h0m4 4h0m14-8h0m5 5h0m28-1h0m2 2h0m4-3h0m2 0h0m6-1h0m12 0h0m4-2h0m24 3h0m1 1h0m0-2h0m4-1h0m3 7h0m8-1h0m7 2h0m12-7h0m1 4h0m3 4h0m15-7h0m11-1h0m3 4h0m0 3h0m5-8h0m1 1h0m1 4h0m2 0h0m8-2h0m93 6h0m5-4h0m1-4h0m6 4h0m55 1h0m36-3h0m5 6h0m27-9h0m2 7h0m16-5h0m7-4h0m4 3h0m11 4h0m-496 9h0m13 1h0m7-4h0m17 9h0m11-7h0m9 8h0m8-10h0m3 4h0m3 5h0m9 1h0m3-4h0m19 0h0m1-4h0m4 8h0m0-1h0m5-10h0m8 4h0m1-2h0m2-2h0m7 9h0m1-7h0m11 9h0m3-2h0m17 0h0m6-4h0m12 5h0m9-3h0m1 1h0m2 3h0m0-11h0m2 9h0m7-1h0m2-2h0m1 3h0m21-7h0m2 2h0m71 3h0m10 1h0m17 2h0m1-4h0m6 0h0m3 5h0m26-9h0m24 1h0m23-3h0m58 8h0m11 3h0m21-11h0m2 0h0m12 8h0m71-4h0m26 1h0m2 5h0m31-1h0m12-5h0m61 1h0m22 1h0m8 5h0m20-5h0m5-2h0m5-4h0m13 2h0m4 4h0m-788 12h0m9-2h0m1 0h0m7-4h0m7 8h0m19-8h0m0 3h0m4 1h0m6 7h0m18 0h0m4-1h0m2-8h0m1 7h0m19 0h0m7-8h0m2-1h0m16 4h0m12 2h0m1-1h0m15 5h0m16-3h0m8-2h0m7-3h0m1 3h0m2-1h0m5 3h0m10-1h0m9-4h0m3 1h0m8 0h0m5 0h0m89 8h0m42-5h0m21 1h0m13 4h0m10-6h0m32-2h0m183-2h0m26 7h0m65-4h0m37 7h0m39-6h0m-788 8h0m1 6h0m9-3h0m0-2h0m6 2h0m16-2h0m6 4h0m3 5h0m3-2h0m0 2h0m4-10h0m0 3h0m9-3h0m3 6h0m16-4h0m7-3h0m0 4h0m7 0h0m3-3h0m7 4h0m3-3h0m3 3h0m7-3h0m9 7h0m9-1h0m9-8h0m10 7h0m6-4h0m16 8h0m14-10h0m2 5h0m0-1h0m10-1h0m7-3h0m444 10h0m67-5h0m9-1h0m44-3h0m-747 11h0m37 0h0m50-1h0m50 0h0m34 0h0m37 0h0m1 0h0m1 2h0" stroke="#111" stroke-width="4.4" stroke-linecap="round"/>
<line x1="730.0" y1="349.5" x2="860.6" y2="349.5" stroke="#111" stroke-width="2.6" />
<line x1="1018.6" y1="349.5" x2="1151.0" y2="349.5" stroke="#111" stroke-width="2.6" />
<path d="M886 350h0m1 0h0m1 0h0m6 0h0m1 0h0m2 0h0m1 0h0m1 0h0m3 0h0m7 0h0m2 0h0m3 0h0m1 0h0m1 0h0m3 0h0m1 0h0m3 0h0m4 0h0m2 0h0m4 0h0m7 0h0m6 0h0m2 0h0m3 0h0m3 0h0m2 0h0m11 0h0m2 0h0m5 0h0m4 0h0m1 0h0m6 0h0m6 0h0m1 0h0m4 0h0" stroke="#111" stroke-width="2" stroke-linecap="round"/>
</g>
<g id="pc">
<text x="0.4" y="467.6" font-size="29" font-weight="bold">c</text>
<line x1="51.7" y1="470.7" x2="51.7" y2="795.7" stroke="#7a7a7a" stroke-width="1.6" />
<line x1="50.9" y1="794.9" x2="593.6" y2="794.9" stroke="#7a7a7a" stroke-width="1.6" />
<line x1="48.0" y1="523.0" x2="51.7" y2="523.0" stroke="#333" stroke-width="1.3" />
<text x="36.8" y="526.5" font-size="16.9" text-anchor="middle" fill="#3a3a3a">4</text>
<line x1="48.0" y1="610.7" x2="51.7" y2="610.7" stroke="#333" stroke-width="1.3" />
<text x="36.8" y="614.2" font-size="16.9" text-anchor="middle" fill="#3a3a3a">0</text>
<line x1="48.0" y1="697.3" x2="51.7" y2="697.3" stroke="#333" stroke-width="1.3" />
<text x="36.8" y="700.8" font-size="16.9" text-anchor="middle" fill="#3a3a3a">−4</text>
<line x1="48.0" y1="783.0" x2="51.7" y2="783.0" stroke="#333" stroke-width="1.3" />
<text x="36.8" y="786.5" font-size="16.9" text-anchor="middle" fill="#3a3a3a">−8</text>
<line x1="201.8" y1="794.9" x2="201.8" y2="797.9" stroke="#333" stroke-width="1.3" />
<text x="203.8" y="815.9" font-size="16.9" text-anchor="middle" fill="#3a3a3a">−10</text>
<line x1="367.5" y1="794.9" x2="367.5" y2="797.9" stroke="#333" stroke-width="1.3" />
<text x="369.5" y="815.9" font-size="16.9" text-anchor="middle" fill="#3a3a3a">0</text>
<line x1="535.7" y1="794.9" x2="535.7" y2="797.9" stroke="#333" stroke-width="1.3" />
<text x="537.7" y="815.9" font-size="16.9" text-anchor="middle" fill="#3a3a3a">10</text>
<text x="333.5" y="828.0" font-size="18.2" text-anchor="middle" fill="#111">Component 1</text>
<text x="22.0" y="615.5" font-size="18.2" text-anchor="middle" fill="#111" transform="rotate(-90 22.0 615.5)">Component 2</text>
<text x="210" y="497" font-size="21.9">WT <tspan font-style="italic">EPCAM/KRT5</tspan>+ cells</text>
<path d="M100.0 560.0L149.0 590.8L225.0 632.8L258.0 645.0L300.0 652.0L414.0 670.8" fill="none" stroke="#111" stroke-width="1.6" />
<path d="M414.0 670.8L505.7 576.8" fill="none" stroke="#111" stroke-width="1.8" />
<path d="M421.0 679.0L443.0 758.5" fill="none" stroke="#111" stroke-width="1.8" />
<path d="M115.0 566.0L175.0 598.0L222.0 622.0L256.0 638.0L290.0 648.0L300.0 656.0L290.0 660.0L250.0 662.0L200.0 626.0L150.0 600.0L120.0 585.0Z" fill="#A68AC7"/>
<path d="M219.0 640.0L224.0 628.0L236.0 623.0L248.0 627.0L256.0 636.0L258.0 652.0L250.0 664.0L236.0 667.0L224.0 660.0L218.0 650.0Z" fill="#A68AC7"/>
<path d="M113 569h0m1-1h0m0-1h0m1 1h0m0-1h0m2-1h0m1 1h0m1-1h0m3 2h0m2 1h0m3 0h0m-16 6h0m2-1h0m0 1h0m2 0h0m2-4h0m1-1h0m2 2h0m1-2h0m1 3h0m1 0h0m1 0h0m2 0h0m0 2h0m0-5h0m2 2h0m2-1h0m1 2h0m1-1h0m2 1h0m1 2h0m-24 1h0m1 2h0m1 0h0m1 2h0m2-3h0m3 3h0m1-2h0m1 0h0m0-1h0m2 4h0m1 0h0m0-1h0m3-2h0m1 3h0m0-5h0m4 3h0m2-2h0m2 0h0m1 1h0m3 0h0m2 3h0m1-3h0m0 2h0m1-2h0m2 2h0m0-1h0m1 2h0m-22 1h0m0 4h0m1-2h0m1-2h0m3 3h0m0-1h0m1-1h0m1 0h0m0 2h0m3-1h0m1 2h0m3-3h0m1 4h0m1 0h0m0-5h0m1 3h0m5 0h0m0 1h0m4-1h0m1 0h0m1 2h0m1-3h0m0 1h0m1 0h0m0 1h0m1-1h0m2 1h0m0 1h0m-28 2h0m1 2h0m1 0h0m0-3h0m1 2h0m0-2h0m1 4h0m0-3h0m2 1h0m2 0h0m1-2h0m4 2h0m2 3h0m1-1h0m2 1h0m1-5h0m1 3h0m0-2h0m0 4h0m1-5h0m1 4h0m6-3h0m3-1h0m2 5h0m-26 1h0m2 2h0m2-1h0m1 0h0m0 4h0m0-1h0m1-2h0m3 1h0m1-1h0m1 0h0m0 1h0m1 0h0m1 1h0m2-2h0m1-2h0m1 4h0m2 1h0m1-3h0m1 0h0m1 0h0m2-1h0m1-1h0m1 1h0m1 0h0m0 3h0m1-4h0m2 2h0m0 2h0m1-4h0m0 3h0m2-1h0m0 3h0m1-1h0m3 0h0m0 1h0m2-1h0m0-1h0m1 1h0m-28 2h0m2 3h0m3-1h0m1 2h0m1-1h0m0-1h0m4 0h0m0 3h0m1-1h0m0-2h0m1 2h0m1 0h0m0 1h0m2-3h0m0 3h0m2 0h0m1-3h0m2 3h0m0-5h0m1 3h0m1-1h0m1-2h0m1 2h0m0 3h0m1-1h0m1 1h0m1-2h0m1-3h0m5 5h0m1-4h0m0 3h0m1 0h0m-26 2h0m5 0h0m0 1h0m1 0h0m2-1h0m1 3h0m1-2h0m0 4h0m1-1h0m3-1h0m1 2h0m5-1h0m4 1h0m1-5h0m1 4h0m3 1h0m2-4h0m0 3h0m2 1h0m0-3h0m2 1h0m0 2h0m2-3h0m0 1h0m1-1h0m2 1h0m0-1h0m0 3h0m2 0h0m0-1h0m2 1h0m-33 1h0m3 0h0m1 1h0m0-1h0m1 3h0m0-2h0m2 4h0m2-3h0m2 0h0m0 2h0m1 0h0m0-2h0m4 1h0m1 2h0m0-5h0m1 2h0m1-1h0m2 0h0m0-1h0m0 3h0m1 2h0m1 0h0m3-4h0m0 3h0m1 0h0m1 1h0m2-2h0m0-3h0m1 1h0m0-1h0m0 2h0m6 0h0m1 3h0m3-2h0m1 2h0m3 0h0m-32 3h0m0-1h0m0-1h0m2 1h0m4 2h0m2-2h0m0 1h0m1-1h0m1 1h0m2-2h0m2 1h0m0-1h0m0 3h0m3-2h0m1-1h0m1 4h0m2-1h0m1 2h0m1-1h0m1-4h0m1 0h0m1 2h0m1 2h0m1-4h0m1 4h0m0-3h0m0-1h0m1 5h0m1-5h0m1 3h0m1 1h0m1 1h0m4-1h0m2 0h0m0-2h0m1 2h0m1 1h0m-33 1h0m4 3h0m1 0h0m0-2h0m2 2h0m1-1h0m2 1h0m1-2h0m1 3h0m1-3h0m0 3h0m1 1h0m1-1h0m1 0h0m1-2h0m0-1h0m0 4h0m1-4h0m0 4h0m4-1h0m2 1h0m0-5h0m1 4h0m3-4h0m1 4h0m0-1h0m2 2h0m2-1h0m1 0h0m1 0h0m0-3h0m1 3h0m1-1h0m1 1h0m1 1h0m0-1h0m0-1h0m1 1h0m0-2h0m1 3h0m0-5h0m1 3h0m1 0h0m0-2h0m2 1h0m0 3h0m0-5h0m1 4h0m0-1h0m1-2h0m0 4h0m0-1h0m1 0h0m0-3h0m1 4h0m0-2h0m1-1h0m6 2h0m-42 3h0m1 1h0m2 1h0m1-2h0m1 0h0m2 4h0m2-4h0m0 2h0m1-1h0m0-1h0m1 0h0m0 3h0m2-1h0m1-1h0m1 0h0m0-1h0m1 3h0m0-4h0m1 2h0m1 1h0m0-2h0m2-1h0m2 2h0m1 0h0m0 3h0m0-1h0m2 0h0m3-2h0m0-1h0m0 2h0m1-2h0m0 4h0m0-5h0m1 1h0m1 0h0m0 4h0m2-4h0m2 3h0m1-3h0m0 4h0m0-1h0m1 1h0m1-5h0m0 3h0m0-1h0m2 1h0m0 2h0m0-5h0m1 1h0m0 4h0m0-2h0m1-2h0m0-1h0m1 4h0m0-3h0m0-1h0m1 2h0m0-1h0m0 4h0m1-4h0m0 4h0m1-2h0m2 1h0m1 0h0m1 1h0m-38 3h0m1-1h0m0-1h0m1 0h0m0 2h0m0-1h0m1-1h0m1 1h0m0-1h0m2 2h0m0-1h0m0-1h0m0 4h0m0-1h0m1 0h0m0-3h0m1 4h0m0-1h0m0-1h0m1-2h0m1 5h0m0-5h0m0 4h0m0-2h0m1-1h0m2 3h0m0-2h0m0-1h0m0 4h0m1-3h0m0-1h0m0 3h0m1 0h0m1-1h0m0-2h0m1 1h0m0-1h0m1 1h0m0 2h0m1-1h0m0-2h0m1-1h0m0 3h0m1-3h0m0 4h0m0-1h0m0-1h0m1-2h0m1 4h0m1-4h0m0 3h0m1 2h0m1-2h0m0 1h0m1 1h0m0-5h0m0 4h0m1-4h0m0 4h0m3-4h0m0 4h0m1-4h0m0 3h0m2-1h0m0-2h0m0 4h0m1 1h0m0-3h0m0-1h0m1 4h0m0-1h0m1-1h0m1 1h0m0-1h0m7 0h0m0-1h0m2 3h0m0-2h0m8 2h0m3 0h0m-57 4h0m2 2h0m0-2h0m0-2h0m1-1h0m1 3h0m0 2h0m0-5h0m1 3h0m1-3h0m0 4h0m1 0h0m1-1h0m2-3h0m1 1h0m0 2h0m1 0h0m0-3h0m1 5h0m4-1h0m1 0h0m1-3h0m0 4h0m0-5h0m0 2h0m1-1h0m0 4h0m0-1h0m1 0h0m0-2h0m1-2h0m2 4h0m1 1h0m1-2h0m0 2h0m3-3h0m1 3h0m1-5h0m1 5h0m0-5h0m0 4h0m1-2h0m2-1h0m0 4h0m0-5h0m0 3h0m2 1h0m1 0h0m1-2h0m0 3h0m0-1h0m2-4h0m0 3h0m2 0h0m1-1h0m4 0h0m1 3h0m1-5h0m1 1h0m1 3h0m1 1h0m1-1h0m0-1h0m1 0h0m1 1h0m2-3h0m0 3h0m1-1h0m1 2h0m0-5h0m1 2h0m1-1h0m5 3h0m1 1h0m1 0h0m1 0h0m2-1h0m6 1h0m-77 1h0m6 1h0m1-1h0m1 2h0m0-1h0m1 0h0m2 3h0m3 1h0m0-5h0m2 5h0m0-5h0m1 3h0m1 2h0m0-2h0m0-2h0m1 1h0m3 2h0m0-1h0m1 2h0m1-5h0m0 2h0m1 0h0m0 3h0m1-4h0m1 1h0m2-1h0m1 4h0m0-1h0m1 0h0m0-1h0m0-1h0m0 3h0m0-5h0m1 2h0m1 0h0m0-1h0m0 3h0m1-4h0m0 1h0m1 2h0m0-1h0m1-2h0m1 1h0m5 1h0m1-2h0m4 5h0m1-5h0m1 2h0m0 1h0m2 1h0m1-1h0m2-1h0m1-2h0m3 2h0m0-1h0m0 4h0m0-5h0m2 5h0m1-5h0m1 1h0m3-1h0m1 2h0m0-1h0m2 3h0m1 1h0m2-3h0m0-1h0m1 2h0m1 0h0m0-1h0m2-1h0m0 4h0m1-4h0m0-1h0m0 4h0m0-1h0m1 0h0m2-2h0m0-1h0m2 4h0m1-2h0m4 3h0m1-3h0m0 3h0m0-2h0m3-2h0m0 2h0m1 0h0m1 1h0m0-1h0m1 1h0m0-1h0m3 2h0m4 0h0m3 0h0m0-1h0m1 1h0m1 0h0m-104 2h0m1 1h0m1-1h0m0 1h0m1 0h0m0 3h0m0-5h0m1 5h0m4-4h0m0 2h0m1 2h0m1 0h0m0-3h0m1 0h0m0-1h0m0-1h0m0 3h0m1 2h0m1-1h0m0-2h0m1 2h0m1-4h0m2 1h0m0 3h0m1 0h0m2-1h0m0-1h0m1-2h0m0 4h0m0-1h0m2-2h0m0 4h0m0-1h0m2 0h0m0-1h0m1-3h0m0 3h0m0-1h0m1 2h0m1-3h0m1 2h0m1-2h0m1 1h0m0 2h0m1-3h0m0-1h0m1 0h0m1 1h0m1 2h0m1-3h0m1 1h0m3 0h0m0 3h0m1-4h0m1 0h0m0 4h0m1 0h0m8-2h0m1 2h0m3-1h0m0-1h0m4-2h0m4 0h0m1 3h0m0 2h0m1-4h0m1 4h0m1 0h0m1-3h0m1-1h0m0 4h0m0-1h0m1 0h0m0-1h0m1-2h0m3 2h0m2 0h0m3 0h0m4-3h0m2 5h0m1 0h0m1-1h0m1-1h0m0-1h0m0 2h0m1 0h0m0-3h0m1 4h0m5 0h0m1 0h0m1-5h0m0 4h0m1 1h0m1-5h0m0 4h0m1-4h0m1 1h0m1 3h0m0-1h0m0-1h0m3-2h0m0 2h0m4 2h0m1 1h0m2-3h0m2 0h0m12 2h0m5 0h0m-126 2h0m0 1h0m2 0h0m0-1h0m2 2h0m0-1h0m3 0h0m1-1h0m1 1h0m2 3h0m1 0h0m1-1h0m1-1h0m1 0h0m2 3h0m0-2h0m1 1h0m1-2h0m1-1h0m1 4h0m0-5h0m0 4h0m3-4h0m1 0h0m26 0h0m7 0h0m4 0h0m2 0h0m3 0h0m3 2h0m0-1h0m1 1h0m0-1h0m1 1h0m6 0h0m1 0h0m1 1h0m3-3h0m0 4h0m2-1h0m1 0h0m1-3h0m1 3h0m7-2h0m1-1h0m0 4h0m1-1h0m1 1h0m0-3h0m1 4h0m5 0h0m13-4h0m6-1h0m1 4h0m1-4h0m2 5h0m2-2h0m7 2h0m3-5h0m1 4h0m2 0h0m1 1h0m-134 1h0m4 0h0m90 0h0m20 0h0m7 0h0m5 0h0m1 1h0m1-1h0m4 1h0" stroke="#A68AC7" stroke-width="4.4" stroke-linecap="round"/>
<path d="M74.8 552.9L79.8 546.3L93.0 534.7L101.2 530.6L107.8 538.0L114.4 546.3L122.7 549.6L109.5 567.7L93.0 571.0L79.8 559.5Z" fill="#21B8BF"/>
<path d="M101 531h0m0 1h0m1 0h0m-11 7h0m2-2h0m1 0h0m0-2h0m1-1h0m0 1h0m1 4h0m0-5h0m0 4h0m2-3h0m0 2h0m1-1h0m1 0h0m0-1h0m0 4h0m0-5h0m1 1h0m0 2h0m1 2h0m0-1h0m1-3h0m1 3h0m1-1h0m1-1h0m1 3h0m1 0h0m-25 6h0m2-1h0m0-1h0m1 2h0m0-2h0m1 0h0m1-1h0m1 3h0m0-5h0m0 4h0m3-4h0m0 4h0m1 1h0m0-5h0m0 3h0m0-1h0m1 3h0m0-5h0m0 3h0m1 0h0m0 1h0m1-4h0m0 2h0m1 0h0m0 2h0m1-4h0m0 1h0m1 3h0m0-1h0m0-2h0m1 0h0m0 4h0m0-1h0m3-2h0m1 2h0m0-2h0m1-1h0m0-1h0m1 0h0m1 0h0m1 1h0m0 3h0m1-4h0m1 3h0m0-1h0m1 3h0m0-2h0m5 2h0m1 0h0m-38 4h0m0 2h0m1-2h0m0 2h0m1 0h0m1-1h0m0-1h0m1-1h0m2 1h0m0-1h0m0 3h0m0-5h0m2 2h0m0-2h0m0 3h0m1-1h0m0-1h0m2 3h0m1-4h0m0 2h0m1 0h0m1 1h0m0 2h0m1-5h0m1 1h0m0 4h0m0-3h0m1 1h0m0-2h0m0-1h0m1 1h0m0 4h0m1-3h0m1 1h0m0-2h0m0 4h0m1-3h0m1 0h0m2 3h0m1-1h0m0-2h0m0-1h0m1 1h0m1 2h0m1-1h0m0-3h0m1 1h0m0 2h0m1 0h0m0-2h0m0-1h0m1 2h0m1-2h0m0 4h0m1-1h0m0 2h0m2 0h0m0-5h0m0 3h0m0-1h0m1 1h0m0-1h0m0-1h0m2 2h0m0-1h0m0 3h0m0-1h0m1-1h0m0-1h0m0 2h0m1 1h0m0-3h0m2 1h0m1 2h0m-44 1h0m1 2h0m0 3h0m1-3h0m0 2h0m1 1h0m0-5h0m0 2h0m1-1h0m2 3h0m1-3h0m0-1h0m1 3h0m1-3h0m1 1h0m0 4h0m1-5h0m0 2h0m1 3h0m0-5h0m1 3h0m0-3h0m1 3h0m1-2h0m0-1h0m1 5h0m0-1h0m1-4h0m0 2h0m1-2h0m0 3h0m3-1h0m0 2h0m1 1h0m0-5h0m1 4h0m1-2h0m0-2h0m2 5h0m1-3h0m1 0h0m1 0h0m0 3h0m0-2h0m1 2h0m0-1h0m0-2h0m1 0h0m0-2h0m1 5h0m0-5h0m1 3h0m1-1h0m0-1h0m0 4h0m1-1h0m0-1h0m0 2h0m0-5h0m1 0h0m0 3h0m0-1h0m1-1h0m0-1h0m0 4h0m0-1h0m1-3h0m0 3h0m0-1h0m1 0h0m1 0h0m0-2h0m2 0h0m1 0h0m1 4h0m3-1h0m1 0h0m4 0h0m-50 4h0m1 0h0m0-1h0m2 2h0m0-1h0m0-1h0m2 3h0m1 0h0m1 1h0m0-2h0m1 0h0m2-2h0m4 2h0m0 3h0m0-5h0m0 3h0m1-2h0m1 3h0m0-1h0m0-1h0m1 0h0m0 2h0m1-1h0m0 2h0m1-5h0m0 2h0m2 3h0m0-2h0m1-2h0m0-1h0m0 3h0m1-3h0m0 4h0m1 1h0m0-5h0m0 4h0m1-1h0m0 2h0m1-5h0m1 5h0m1 0h0m1-4h0m0 3h0m1-3h0m0 2h0m1-1h0m0 3h0m0-5h0m0 4h0m1-3h0m0 4h0m0-2h0m1-2h0m0-1h0m2 4h0m1 1h0m0-1h0m2-3h0m0-1h0m0 3h0m4 0h0m3 0h0m1-2h0m2 3h0m2-4h0m3 0h0m-46 7h0m1 1h0m2 1h0m2 0h0m0-2h0m0 3h0m1 0h0m0-3h0m0 4h0m1-5h0m0 3h0m1-1h0m0-1h0m0-1h0m0 4h0m1 0h0m1 0h0m1-3h0m0 4h0m1-1h0m0-3h0m1 0h0m0 4h0m1-4h0m0 4h0m1-1h0m0-3h0m1 3h0m1-2h0m1 0h0m0-2h0m0 4h0m0-1h0m1-1h0m0 1h0m1-3h0m0 3h0m6-2h0m0 3h0m1 0h0m2-4h0m2 4h0m0-3h0m6 2h0m1-1h0m4-1h0m2-1h0m1 0h0m0 1h0m5 3h0m2-2h0m0-2h0m1 2h0m2 1h0m0-1h0m2 3h0m0-1h0m-51 2h0m4 0h0m2 0h0m19 2h0m0-2h0m2 1h0m2 3h0m1-2h0m3 1h0m0 2h0m3-5h0m1 2h0m5 2h0m1-3h0m2 0h0m4 2h0m1 2h0m0-5h0m2 5h0m0-1h0m2-1h0m0-1h0m3 2h0m-23 3h0m3 0h0m4 1h0m0-1h0m2 2h0m1-3h0m1 3h0m1 2h0m0-5h0m0 2h0m1-2h0m2 0h0m0 3h0m2-2h0m1 4h0m4-1h0m0-3h0m2 0h0m4 4h0m5-1h0m-23 3h0m1-1h0m2 5h0m0-4h0m1 4h0m1-4h0m0 3h0m0-2h0m3 0h0m1 0h0m3 0h0m2-1h0m2 0h0m0 1h0m5 0h0m0-1h0m1 3h0m1-2h0m0 2h0m1-2h0m-17 4h0m2 0h0m1 3h0m3-1h0m3 2h0m0-3h0m0-1h0m2 1h0m0-1h0m0 3h0m1 1h0m0-3h0m0 4h0m1-4h0m0 4h0m0-5h0m0 4h0m1 0h0m1 0h0m1-4h0m0 4h0m1-1h0m0-2h0m1 2h0m1-3h0m2 2h0m1 2h0m0-2h0m1 0h0m-8 6h0m1 1h0m1-2h0m1 2h0m0-1h0m1-2h0m1 1h0m10 1h0m15 3h0m43 18h0m-20 1h0m32 4h0m-6 24h0" stroke="#21B8BF" stroke-width="4.4" stroke-linecap="round"/>
<path d="M413.0 662.0L420.0 655.0L432.0 656.0L442.0 662.0L445.0 672.0L440.0 682.0L428.0 684.0L416.0 678.0Z" fill="#7BB03B"/>
<path d="M436.0 748.0L446.0 744.0L454.0 748.0L455.0 770.0L452.0 782.0L442.0 784.0L436.0 772.0Z" fill="#7BB03B"/>
<path d="M424.0 672.0L438.0 662.0L470.0 632.0L487.0 614.0L482.0 622.0L450.0 660.0L440.0 676.0Z" fill="#7BB03B"/>
<path d="M424.0 676.0L436.0 676.0L440.0 712.0L443.0 740.0L438.0 740.0L430.0 700.0Z" fill="#7BB03B"/>
<path d="M505 585h0m-8 15h0m-5 6h0m-14 11h0m1-1h0m1 1h0m0-2h0m3 1h0m1-3h0m1 3h0m0-1h0m0-1h0m1 3h0m0-5h0m1 3h0m0-1h0m1 2h0m-15 6h0m1-2h0m0-1h0m2 2h0m2-1h0m0-2h0m1 2h0m0-2h0m1 5h0m0-1h0m0-2h0m2 0h0m2 1h0m0-3h0m3 0h0m-22 11h0m1 0h0m2-3h0m0 3h0m2-1h0m0-3h0m2 3h0m0-1h0m1-2h0m0 4h0m0-1h0m1 1h0m1-3h0m2-1h0m1 3h0m0-2h0m1 0h0m2-1h0m-19 7h0m1 0h0m0-1h0m2 3h0m0-1h0m0 2h0m2-5h0m1 0h0m3 3h0m1 1h0m1 0h0m0-2h0m1-2h0m2 0h0m-24 11h0m2 0h0m2-4h0m1 1h0m0 3h0m0-1h0m1-4h0m0 1h0m2-1h0m0 3h0m2 1h0m1-3h0m2 0h0m0-1h0m1 5h0m0-2h0m1 0h0m0-3h0m0 4h0m2-4h0m0 1h0m2-1h0m-26 11h0m2 0h0m0-2h0m2-1h0m1 1h0m0-1h0m2 0h0m0 3h0m0-1h0m1 0h0m0-1h0m0 2h0m1 0h0m1-1h0m2-3h0m0-1h0m1 3h0m0-1h0m3 0h0m0-2h0m2 0h0m2 0h0m-27 11h0m4-3h0m0 3h0m1 0h0m3 0h0m0-3h0m1 1h0m0-1h0m1 3h0m1-5h0m1 1h0m2 2h0m1-2h0m1-1h0m-117 6h0m80 4h0m4-1h0m0-2h0m1 4h0m2-3h0m1 2h0m1 0h0m2-2h0m0 3h0m0-2h0m1 0h0m2 2h0m0-1h0m4-2h0m2-1h0m3 3h0m0-1h0m1-2h0m1 4h0m0-5h0m1 0h0m0 5h0m2-4h0m0 2h0m1 1h0m1-1h0m1 2h0m1-3h0m0-1h0m1 1h0m0-2h0m-102 6h0m12 4h0m54 0h0m1 0h0m0-1h0m1-2h0m1 4h0m2 0h0m3-1h0m1-2h0m1 0h0m0 2h0m2 1h0m1-2h0m0-1h0m0-1h0m1 0h0m0 2h0m0-1h0m1 3h0m0-2h0m1 0h0m0-2h0m1 4h0m2-2h0m2-1h0m0-1h0m0 4h0m0-5h0m1 5h0m0-5h0m0 4h0m1-3h0m0-1h0m0 3h0m1 0h0m0 2h0m0-5h0m1 3h0m1-1h0m0 3h0m1-4h0m0 3h0m1 1h0m0-3h0m2-2h0m-89 8h0m60 2h0m1-2h0m0-2h0m0 3h0m1 0h0m0-3h0m1 3h0m0-1h0m1 2h0m1 0h0m1-2h0m2 2h0m1-2h0m0-2h0m1 2h0m0-1h0m1 3h0m3-4h0m1 0h0m1 0h0m1 1h0m0 1h0m1 1h0m1 1h0m0-2h0m1 0h0m0-2h0m0 4h0m1-1h0m1-3h0m0 4h0m0-2h0m1 0h0m0 3h0m0-1h0m1-3h0m1 1h0m1-1h0m0 3h0m0-1h0m2-3h0m0 3h0m1 1h0m-72 3h0m6 2h0m6 1h0m6 0h0m20 0h0m7-3h0m1-1h0m1 5h0m0-2h0m0-1h0m0-1h0m1 0h0m0 4h0m0-5h0m0 4h0m1-4h0m0 4h0m0-1h0m0 2h0m1-2h0m1 2h0m0-5h0m1 4h0m0-1h0m1-1h0m0 2h0m1-3h0m1 4h0m1-1h0m1-4h0m2 3h0m1-3h0m1 1h0m0 4h0m0-1h0m1 0h0m1 1h0m0-5h0m0 3h0m1-2h0m0 2h0m1 0h0m0-2h0m1-1h0m2 1h0m1 3h0m0-1h0m1 0h0m0-2h0m0 4h0m0-5h0m2 0h0m-48 6h0m6 2h0m4-2h0m14 0h0m4 4h0m0-1h0m1-2h0m0 1h0m3 2h0m0-1h0m1-1h0m0 2h0m0-1h0m1-3h0m0 4h0m0-1h0m1-2h0m0 3h0m0-1h0m1 2h0m2-5h0m0 4h0m0-1h0m1 1h0m0-3h0m0 4h0m1-4h0m0 3h0m0-1h0m1 1h0m1 0h0m-13 5h0m0-2h0m0-1h0m1 4h0m1-4h0m1 5h0m1-4h0m1 2h0m1 1h0m0-2h0m2 3h0m0-5h0m1 0h0m0 4h0m0-1h0m3 2h0m0-3h0m-12 6h0m1 0h0m4 0h0m0 2h0m1-2h0m0 2h0m2-1h0m0-1h0m1 0h0m1-1h0m1 4h0m1-2h0m0 2h0m2-3h0m0 3h0m-11 6h0m0-1h0m0-2h0m1 3h0m0-1h0m1 1h0m1-5h0m1 3h0m1-3h0m1 5h0m0-5h0m1 0h0m2 2h0m0 2h0m1 0h0m0-3h0m2 0h0m-9 6h0m1 1h0m0 3h0m2 0h0m1-4h0m1 3h0m0-4h0m2 1h0m-5 7h0m2 1h0m1-1h0m0 2h0m0-1h0m2 2h0m0-2h0m1 0h0m3 1h0m-9 3h0m1 3h0m1-4h0m1 1h0m1 0h0m0 3h0m1 0h0m1 1h0m2-4h0m0 2h0m1 0h0m-8 4h0m1 0h0m0 4h0m0-1h0m1-4h0m0 5h0m1-3h0m0 3h0m0-1h0m1-3h0m2 1h0m1 2h0m0 1h0m1-4h0m0 4h0m0-2h0m1 0h0m0-1h0m0-2h0m0 4h0m-6 5h0m1 0h0m0-1h0m1-1h0m0 4h0m1-3h0m1 0h0m0 2h0m1 1h0m0-5h0m0 4h0m0-1h0m1-3h0m0 3h0m1-2h0m-8 6h0m1 1h0m1 3h0m0-2h0m1-2h0m0-1h0m1 1h0m2 3h0m1-1h0m1 2h0m0-2h0m-6 4h0m1 2h0m1 2h0m1-5h0m0 2h0m1-1h0m0 2h0m2-1h0m-6 9h0m2-4h0m0 4h0m0-1h0m3 1h0m0-5h0m1 0h0m2 5h0m1-3h0m1 1h0m1 2h0m0-1h0m1 0h0m0 1h0m1-2h0m-12 4h0m1 4h0m1-4h0m2 2h0m1-3h0m1 4h0m1-1h0m1 0h0m1-2h0m2 2h0m1-3h0m3 5h0m-18 6h0m1-1h0m0-2h0m1 1h0m0-1h0m1 1h0m2-1h0m2 0h0m0-2h0m2 3h0m0-3h0m1 4h0m3-2h0m1-1h0m1 3h0m0-4h0m1 0h0m0 3h0m2 0h0m0-1h0m-17 8h0m1-1h0m1-2h0m1 4h0m1-3h0m4 0h0m0 3h0m0-5h0m0 4h0m1-3h0m1 0h0m0-1h0m0 3h0m1 1h0m0-1h0m1 1h0m1 1h0m1-3h0m1 0h0m0 3h0m2-5h0m-17 7h0m1 4h0m2 0h0m0-3h0m1 0h0m0 2h0m1 1h0m1 0h0m2-5h0m0 1h0m1 4h0m1-4h0m0 4h0m1-5h0m1 0h0m3 1h0m0 4h0m2-3h0m0 3h0m0-5h0m-16 7h0m2 1h0m2 0h0m0-1h0m1 3h0m0-2h0m1 0h0m0-2h0m0 3h0m3-2h0m0 3h0m3-4h0m0 4h0m1 1h0m0-5h0m0 1h0m1 1h0m0 3h0m-11 2h0m1 1h0m0 2h0m2-1h0m6-3h0m0 2h0" stroke="#7BB03B" stroke-width="4.4" stroke-linecap="round"/>
<path d="M486.0 603.5L504.7 573.9L519.6 554.0L532.4 534.3L541.3 517.5L551.2 502.6L553.2 491.8L559.0 484.8L566.0 483.8L570.0 494.7L566.0 509.6L557.0 521.4L549.2 531.3L539.3 549.1L527.5 564.0L514.6 578.8L499.8 596.6L491.9 604.5Z" fill="#F2766C"/>
<path d="M559 485h0m-4 6h0m2-3h0m2 3h0m1 0h0m1-1h0m1-1h0m1-1h0m1-1h0m1 1h0m1-2h0m2 4h0m-14 6h0m0-1h0m2 2h0m0-3h0m1 3h0m1-1h0m0-1h0m0-2h0m1 0h0m2 3h0m2-3h0m0-1h0m1 0h0m1 2h0m0-2h0m1 4h0m0-1h0m1-2h0m1-1h0m1 5h0m-17 5h0m0-1h0m1-2h0m1 2h0m1-1h0m2 1h0m2-1h0m2 0h0m0-2h0m1 2h0m2 0h0m0-1h0m0 3h0m1-2h0m1 0h0m0 3h0m1 0h0m0-5h0m1 3h0m1-3h0m-21 10h0m1 0h0m0 1h0m2-4h0m3 4h0m2-3h0m0 3h0m3-4h0m2 0h0m0-1h0m1 3h0m0-1h0m1 3h0m0-3h0m1 0h0m0-1h0m0 2h0m1 2h0m-20 4h0m1-1h0m1 1h0m1 1h0m1-4h0m1 0h0m0 3h0m0-2h0m1-1h0m2 4h0m1-1h0m1-3h0m1 0h0m2 0h0m2 1h0m2 0h0m0 3h0m2-4h0m-21 6h0m3 4h0m2-2h0m0 3h0m1-4h0m1 0h0m2 4h0m0-1h0m1-3h0m2 1h0m2-1h0m1 1h0m0-2h0m0 4h0m1-4h0m0 1h0m2 0h0m-24 10h0m1-2h0m1-2h0m0-1h0m3 3h0m0-1h0m1-2h0m0 3h0m0-2h0m1 0h0m1 0h0m2 1h0m0 1h0m1-2h0m0-1h0m0 4h0m1 1h0m0-5h0m0 1h0m1 4h0m0-1h0m0-1h0m2 2h0m1-2h0m1-3h0m1 0h0m1 0h0m-22 10h0m1-3h0m1 4h0m1-2h0m1 1h0m0 1h0m0-5h0m1 1h0m0-1h0m0 3h0m1 2h0m1-1h0m1-1h0m2-3h0m1 4h0m2-4h0m0 4h0m0-1h0m1 2h0m0-1h0m1-3h0m2 0h0m-20 9h0m1-3h0m1 2h0m1-1h0m0-1h0m1-1h0m2 5h0m0-1h0m0-2h0m2 2h0m1 0h0m0-3h0m1 1h0m0-1h0m1 2h0m0-1h0m1 0h0m0 2h0m1 0h0m1 1h0m0-1h0m1-3h0m0-1h0m0 3h0m-18 5h0m1-2h0m1 1h0m0 4h0m3-5h0m3 0h0m0 3h0m1 1h0m1 0h0m2 1h0m0-1h0m1-4h0m10 0h0m-29 10h0m2 1h0m0-1h0m2-2h0m1-2h0m0 1h0m0 4h0m1-2h0m1-2h0m1 4h0m0-1h0m2-2h0m0-1h0m0-1h0m1 0h0m0 4h0m2-3h0m1 4h0m1-3h0m3-1h0m-22 10h0m2-2h0m1-2h0m0 4h0m1-1h0m0-4h0m1 4h0m0-3h0m1 4h0m1-1h0m0-2h0m0 3h0m0-5h0m1 1h0m0 3h0m0-2h0m2 2h0m1-3h0m0-1h0m1 5h0m0-5h0m1 0h0m0 3h0m1-3h0m1 0h0m2 1h0m-20 8h0m1-2h0m1 1h0m0 3h0m0-1h0m1 1h0m1 0h0m1-2h0m0-2h0m0 3h0m3-2h0m0-2h0m2 1h0m0-1h0m1 4h0m0-3h0m1 0h0m0-1h0m0 3h0m1-1h0m0-1h0m0 2h0m1-3h0m0 3h0m1-1h0m-19 8h0m1-2h0m0-2h0m1 5h0m1-4h0m0 4h0m0-2h0m1 2h0m1-3h0m0-1h0m2 2h0m0-1h0m1 3h0m0-2h0m1 1h0m0-1h0m1 0h0m1 0h0m1 1h0m2-3h0m0-1h0m2 1h0m-22 9h0m1 0h0m1 0h0m1-3h0m0 3h0m1-4h0m0 4h0m1-2h0m2 2h0m0-2h0m1 0h0m0-1h0m0-1h0m1 1h0m4 1h0m0 3h0m0-5h0m0 4h0m2-4h0m0 3h0m0-2h0m-19 10h0m2-3h0m0 3h0m1-1h0m0-3h0m0 4h0m0-5h0m1 0h0m1 0h0m1 0h0m0 4h0m2 0h0m0-3h0m0-1h0m1 2h0m2 0h0m2-1h0m-16 9h0m2 0h0m1-4h0m2 5h0m0-1h0m1-3h0m0 4h0m2-5h0m1 2h0m0 3h0m0-5h0m1 2h0m1 0h0m1-1h0m-16 8h0m1 0h0m2-1h0m1 2h0m0-2h0m1 0h0m1 0h0m1 3h0m0-3h0m1 3h0m0-1h0m1 0h0m0-2h0m1 0h0m-11 9h0m0-1h0m4-2h0m0-2h0m1 4h0m1-3h0m1 1h0m2-2h0m18 2h0m-32 7h0m0-1h0m1-1h0m0 2h0m0-1h0m2 1h0m1-3h0m0 4h0m1-4h0m-7 8h0m4-2h0m6 2h0" stroke="#F2766C" stroke-width="4.4" stroke-linecap="round"/>
<path d="M557 506h0m-4 6h0m7-2h0m2 4h0m-6 2h0" stroke="#7BB03B" stroke-width="5.4" stroke-linecap="round"/>
<path d="M522 498h0m4 5h0m1 2h0m3 2h0m4 4h0m4 2h0m-10 7h0" stroke="#A68AC7" stroke-width="4.4" stroke-linecap="round"/>
<path d="M541 497h0m4 9h0m-238 139h0m13-1h0m10 6h0m140 0h0m19 2h0m-140 4h0" stroke="#7BB03B" stroke-width="4.4" stroke-linecap="round"/>
<path d="M466 608h0m-121 42h0m11 2h0" stroke="#A68AC7" stroke-width="4.4" stroke-linecap="round"/>
<path d="M470 627h0m-4 6h0m-176 14h0m30 3h0m7 2h0" stroke="#F2766C" stroke-width="4.4" stroke-linecap="round"/>
<text x="131.0" y="541.5" font-size="17.6" fill="#3B6FA6">Day 50</text>
<text x="236.6" y="615.7" font-size="17.6" fill="#5F4592">Day 21</text>
<text x="436.6" y="542.5" font-size="17.6" fill="#E0625B">Day 3</text>
<text x="366.0" y="744.0" font-size="17.6" fill="#3A9253">Day 7</text>
</g>
<g id="pd">
<text x="600.5" y="467.8" font-size="29" font-weight="bold">d</text>
<line x1="667.5" y1="470.0" x2="667.5" y2="792.6" stroke="#7a7a7a" stroke-width="1.6" />
<line x1="666.7" y1="791.8" x2="1207.0" y2="791.8" stroke="#7a7a7a" stroke-width="1.6" />
<line x1="663.8" y1="527.0" x2="667.5" y2="527.0" stroke="#333" stroke-width="1.3" />
<text x="652.6" y="530.5" font-size="16.9" text-anchor="middle" fill="#3a3a3a">4</text>
<line x1="663.8" y1="608.0" x2="667.5" y2="608.0" stroke="#333" stroke-width="1.3" />
<text x="652.6" y="611.5" font-size="16.9" text-anchor="middle" fill="#3a3a3a">0</text>
<line x1="663.8" y1="689.0" x2="667.5" y2="689.0" stroke="#333" stroke-width="1.3" />
<text x="652.6" y="692.5" font-size="16.9" text-anchor="middle" fill="#3a3a3a">−4</text>
<line x1="663.8" y1="769.8" x2="667.5" y2="769.8" stroke="#333" stroke-width="1.3" />
<text x="652.6" y="773.3" font-size="16.9" text-anchor="middle" fill="#3a3a3a">−8</text>
<line x1="681.9" y1="791.8" x2="681.9" y2="794.8" stroke="#333" stroke-width="1.3" />
<text x="683.9" y="812.8" font-size="16.9" text-anchor="middle" fill="#3a3a3a">−20</text>
<line x1="853.8" y1="791.8" x2="853.8" y2="794.8" stroke="#333" stroke-width="1.3" />
<text x="855.8" y="812.8" font-size="16.9" text-anchor="middle" fill="#3a3a3a">−10</text>
<line x1="1023.9" y1="791.8" x2="1023.9" y2="794.8" stroke="#333" stroke-width="1.3" />
<text x="1025.9" y="812.8" font-size="16.9" text-anchor="middle" fill="#3a3a3a">0</text>
<line x1="1195.8" y1="791.8" x2="1195.8" y2="794.8" stroke="#333" stroke-width="1.3" />
<text x="1197.8" y="812.8" font-size="16.9" text-anchor="middle" fill="#3a3a3a">10</text>
<text x="950.5" y="828.0" font-size="18.2" text-anchor="middle" fill="#111">Component 1</text>
<text x="636.0" y="611.5" font-size="18.2" text-anchor="middle" fill="#111" transform="rotate(-90 636.0 611.5)">Component 2</text>
<text x="814.6" y="496.6" font-size="21.8">GKO <tspan font-style="italic">EPCAM/KRT5</tspan>+ cells</text>
<path d="M940.0 638.0L1014.0 658.6" fill="none" stroke="#111" stroke-width="1.8" />
<path d="M1014.0 658.6L1111.5 579.3L1123.3 567.5" fill="none" stroke="#111" stroke-width="1.8" />
<path d="M1014.0 658.6L1021.5 673.6L1034.3 701.5L1045.0 738.0L1047.2 748.7" fill="none" stroke="#111" stroke-width="1.8" stroke-dasharray="14 3"/>
<path d="M732.0 546.0L750.0 557.0L772.0 567.0L795.0 572.0L800.0 566.0L815.0 565.0L833.0 573.0L839.3 593.0L832.0 610.0L818.5 613.9L800.0 606.0L780.0 598.0L767.7 593.1L750.0 583.0L732.0 573.5Z" fill="#A68AC7"/>
<path d="M734 538h0m4-2h0m7 3h0m-14 5h0m1 0h0m4-4h0m2 5h0m1-1h0m0-2h0m0 3h0m2-4h0m1 1h0m1 0h0m0 2h0m3 1h0m0-2h0m3 2h0m-15 3h0m0-2h0m1 3h0m1-3h0m0 3h0m1-3h0m1 2h0m1 1h0m0-2h0m0-1h0m1 1h0m2 3h0m1 0h0m1 0h0m1-1h0m1 0h0m1-1h0m1 3h0m1-4h0m1 2h0m1-3h0m0 4h0m0-1h0m1-1h0m6 3h0m1-3h0m0-1h0m1 4h0m-28 6h0m4-5h0m0 3h0m2 0h0m7 2h0m3-3h0m0 3h0m1-4h0m1 1h0m0-1h0m0-1h0m1 4h0m0-2h0m3 1h0m0 2h0m1-5h0m3 1h0m3 0h0m0 1h0m3 0h0m0 1h0m1-2h0m2 4h0m4-3h0m1 2h0m3 1h0m2 0h0m1-1h0m-45 7h0m0-1h0m4 1h0m0-4h0m1 3h0m1 0h0m1-3h0m0 4h0m0-5h0m1 3h0m0-3h0m1 5h0m3-2h0m1-1h0m1 2h0m5-2h0m7 3h0m3-5h0m0 3h0m2 1h0m1-3h0m3 0h0m2-1h0m2 5h0m0-4h0m2 1h0m1-2h0m2 0h0m1 2h0m1 0h0m3 3h0m1-1h0m1-2h0m1 2h0m0-3h0m4 4h0m0-2h0m2 2h0m-59 6h0m1 0h0m2-4h0m1 1h0m3 1h0m1-3h0m0 2h0m0 3h0m7-3h0m1 2h0m0-1h0m0 2h0m1 0h0m1-4h0m1-1h0m5 0h0m1 1h0m3 2h0m3-1h0m0 3h0m4-4h0m4-1h0m1 5h0m13-3h0m0-2h0m1 2h0m2 2h0m1-2h0m2-2h0m13 3h0m2 1h0m0-1h0m4 2h0m5-3h0m1 3h0m3 0h0m-86 4h0m1-2h0m2-1h0m2 4h0m0-2h0m2-2h0m1 0h0m2 4h0m3-2h0m1-1h0m0 3h0m2-3h0m1 1h0m1-2h0m2 3h0m2 1h0m1-1h0m2 1h0m3-2h0m3-1h0m3 3h0m2-3h0m4 1h0m1 0h0m3 0h0m1 3h0m1-3h0m4 3h0m1-2h0m1 2h0m0-5h0m0 4h0m1 1h0m0-2h0m1-2h0m0 4h0m4 0h0m1-1h0m0-1h0m5 0h0m3-1h0m1 1h0m6 2h0m1-2h0m1-3h0m1 5h0m6 0h0m3-1h0m0-3h0m3 2h0m5 0h0m1 0h0m1 1h0m3 1h0m1-1h0m0 1h0m-90 2h0m2 2h0m2 1h0m0-2h0m2 1h0m1 1h0m1-4h0m0 3h0m2-3h0m0 4h0m2-2h0m4-1h0m0 4h0m0-5h0m1 5h0m2 0h0m1-1h0m0-3h0m1-1h0m1 1h0m0 4h0m2-5h0m3 2h0m4 3h0m4-5h0m2 3h0m1 0h0m3-1h0m1 1h0m1 2h0m1-5h0m2 3h0m3 0h0m1 1h0m0-1h0m4 0h0m1 0h0m1-3h0m0 3h0m0-1h0m1-2h0m2 1h0m0 4h0m0-2h0m1 2h0m2 0h0m2-5h0m2 2h0m1-2h0m6 0h0m1 0h0m2 0h0m1 0h0m1 1h0m1 1h0m0 2h0m2-1h0m5-2h0m0 4h0m0-5h0m0 4h0m1-1h0m0-2h0m0-1h0m1 1h0m0-1h0m3 4h0m-77 6h0m1-2h0m2-2h0m2 1h0m1 2h0m1 0h0m4-2h0m1 1h0m2-1h0m1 0h0m2 0h0m0 2h0m5-1h0m6-1h0m1 3h0m0-2h0m0-1h0m1-1h0m1 5h0m1-4h0m4-1h0m1 0h0m0 3h0m1 0h0m6-1h0m1 0h0m1 3h0m0-5h0m2 5h0m0-5h0m0 4h0m3 0h0m1-2h0m0 3h0m0-1h0m1-1h0m3-3h0m1 2h0m4-2h0m2 2h0m0 3h0m2-3h0m0 2h0m4-1h0m0-1h0m0-1h0m1 1h0m1-1h0m4-1h0m1 2h0m1 1h0m1-1h0m1 0h0m0-1h0m0-1h0m-76 6h0m1 1h0m4 0h0m1 2h0m1 1h0m2-2h0m2-2h0m4 1h0m0 4h0m0-1h0m1 1h0m7-5h0m3 0h0m1 1h0m1 0h0m0 3h0m1 1h0m4-2h0m1 0h0m1-3h0m1 4h0m2-2h0m2-2h0m1 4h0m1 0h0m1 1h0m0-4h0m4-1h0m2 4h0m1 1h0m4-5h0m0 4h0m0-1h0m1 0h0m1-1h0m0-1h0m6 2h0m1-3h0m4 1h0m2 0h0m2 4h0m1-4h0m2 2h0m1 1h0m1 0h0m-64 3h0m2 0h0m14 4h0m3-3h0m2-2h0m0 1h0m2-1h0m2 2h0m0-2h0m0 4h0m1-2h0m2 1h0m3-1h0m0 3h0m1-1h0m0-3h0m1 3h0m0-1h0m1-1h0m1 1h0m2-1h0m3 3h0m1-1h0m1-2h0m1-1h0m2-1h0m4 3h0m2 0h0m1 1h0m2 1h0m1-3h0m0-1h0m1 3h0m1-4h0m2 5h0m2-2h0m0 2h0m1 0h0m0-5h0m0 3h0m1-2h0m0 1h0m8 1h0m5 2h0m-62 1h0m1 0h0m2 0h0m3 2h0m1 0h0m1-1h0m1 1h0m1-2h0m2 3h0m1 2h0m2-5h0m3 5h0m4 0h0m0-1h0m1-4h0m0 4h0m1-3h0m0-1h0m4 0h0m2 2h0m3 0h0m2-1h0m3-1h0m1 5h0m1-4h0m1 2h0m3 1h0m1-1h0m1 1h0m1-4h0m1 3h0m1 2h0m2-5h0m1 0h0m0 3h0m5-3h0m1 0h0m0 4h0m2-3h0m1 1h0m0 3h0m5 0h0m0-1h0m1 0h0m1-1h0m1 1h0m15 0h0m-68 2h0m1 0h0m0 1h0m2 0h0m0-1h0m4 1h0m0 2h0m3 0h0m1-1h0m0-2h0m2 5h0m0-2h0m2-1h0m0 2h0m3-2h0m3 0h0m3 2h0m1 1h0m1-1h0m1-2h0m2-1h0m1 0h0m1 3h0m2 0h0m3 0h0m1-3h0m0-1h0m1 3h0m3 0h0m1-1h0m4 2h0m4 0h0m2-1h0m1-2h0m1 3h0m9 0h0m2-3h0m2 4h0m2-2h0m-50 3h0m19 1h0m7 3h0m1-4h0m2 1h0m2 3h0m10-3h0m0 3h0m2-3h0m1 2h0m2-1h0m2 2h0m1-4h0m2 0h0m0 4h0m3 1h0m3 0h0m4-4h0m0 4h0m4-1h0m1-1h0m1 2h0m0-1h0m2 1h0m1 0h0m2-1h0m2 1h0m-38 2h0m6 0h0m2 2h0m1-3h0m5 1h0m0-1h0m1 2h0m0-2h0m1 5h0m2-4h0m1 1h0m2 2h0m1-2h0m1 3h0m3-3h0m0 2h0m2-2h0m0 3h0m1-4h0m2 1h0m1-1h0m1 3h0m1-1h0m1 0h0m1-1h0m1 2h0m5-2h0m0 2h0m3-1h0m-50 4h0m14 3h0m15-2h0m5-1h0m0-1h0m4 2h0m3-2h0m0 3h0m1 1h0m1 0h0m1-3h0m1 4h0m1-1h0m0-1h0m2 1h0m0-2h0m1-2h0m1 2h0m3 0h0m1 1h0m1-1h0m0 2h0m-12 2h0m2 2h0m2 0h0m1 0h0m0-1h0m0 3h0m3-4h0m1 0h0m11 0h0m7 2h0m8 4h0m8 1h0" stroke="#A68AC7" stroke-width="4.4" stroke-linecap="round"/>
<path d="M832.4 597.7L960.0 641.6" fill="none" stroke="#A68AC7" stroke-width="1.2" />
<path d="M690.4 549.2L698.5 537.7L712.3 530.8L729.6 534.2L732.0 552.0L732.0 570.0L719.2 573.5L703.0 564.2L691.5 553.9Z" fill="#21B8BF"/>
<path d="M711 531h0m4 1h0m2 1h0m2 0h0m-21 5h0m1 0h0m1-1h0m1 2h0m4-4h0m2 2h0m0-1h0m1 1h0m1 0h0m0-3h0m0 2h0m1 2h0m1-3h0m0 1h0m1 2h0m0-1h0m1-1h0m1 0h0m1 0h0m1-2h0m0 4h0m0-1h0m2-3h0m1 3h0m1-2h0m0 4h0m1-4h0m1 1h0m1-1h0m0 2h0m1-1h0m1-2h0m0 1h0m1 3h0m1 0h0m1 0h0m1 0h0m0 1h0m-35 6h0m2-2h0m2 2h0m1 0h0m0-5h0m0 2h0m1-2h0m0 2h0m0-1h0m1 4h0m3-1h0m0 1h0m1-5h0m0 1h0m1 0h0m0 2h0m1 0h0m1-2h0m0 2h0m0-3h0m1 0h0m1 2h0m1 0h0m0-2h0m1 3h0m1-3h0m1 3h0m0-3h0m1 1h0m0-1h0m2 4h0m0-3h0m3 3h0m3 0h0m2-1h0m0-1h0m2 1h0m1-1h0m0 3h0m1-5h0m0 4h0m1 0h0m1 1h0m-39 5h0m1-4h0m2 3h0m3-2h0m1 0h0m0-1h0m1 5h0m0-5h0m1 2h0m2 0h0m1-2h0m0 1h0m2 3h0m1 1h0m0-1h0m1 0h0m1-2h0m3-1h0m0 4h0m2-3h0m0 2h0m1 1h0m0-5h0m0 2h0m0-1h0m1 4h0m2 0h0m0-3h0m1 0h0m0 1h0m1 0h0m0-3h0m0 2h0m1-2h0m0 1h0m1 3h0m2-2h0m1 3h0m2-5h0m0 2h0m3 3h0m1-3h0m0 2h0m0 1h0m-40 1h0m2 3h0m1-1h0m1 0h0m1 2h0m0-3h0m1 3h0m0-3h0m1 0h0m0 4h0m1-3h0m1 2h0m0-4h0m1 0h0m1 1h0m1 2h0m1 0h0m0-1h0m1-2h0m0 1h0m0 4h0m1-2h0m1 0h0m1-1h0m1 3h0m1-3h0m1-2h0m1 1h0m0 2h0m2 2h0m0-5h0m1 3h0m0 2h0m0-3h0m1-1h0m1 1h0m1 0h0m0 3h0m1-3h0m1 1h0m1 2h0m0-1h0m1 1h0m0-4h0m1 0h0m2 2h0m1 0h0m0 2h0m1-5h0m1 0h0m1 1h0m1-1h0m-30 7h0m2 3h0m1-2h0m1-2h0m1 0h0m3 4h0m1-4h0m1 4h0m1-3h0m1 0h0m0 1h0m1-2h0m0 4h0m0-3h0m2 1h0m0 2h0m0-1h0m1 2h0m0-1h0m1-2h0m0 3h0m1-1h0m1-2h0m0 2h0m1 0h0m2-4h0m2 5h0m3-4h0m0 2h0m2 0h0m2-2h0m0 1h0m0 2h0m1 0h0m-23 3h0m3 4h0m1-2h0m0-3h0m0 2h0m1 3h0m2-2h0m2 0h0m1-3h0m2 3h0m0-2h0m1 0h0m1 4h0m0-5h0m1 5h0m1-3h0m2 0h0m1 3h0m1-3h0m-4 4h0m3 0h0" stroke="#21B8BF" stroke-width="4.4" stroke-linecap="round"/>
<path d="M1026.0 660.0L1034.0 656.0L1040.0 672.0L1046.0 700.0L1052.0 730.0L1058.0 752.0L1062.0 768.0L1056.0 780.0L1046.0 778.0L1042.0 758.0L1036.0 730.0L1030.0 700.0L1026.0 680.0Z" fill="#7BB03B"/>
<path d="M1064 623h0m1 0h0m0-1h0m1 1h0m2 0h0m2-1h0m1-1h0m0-2h0m0-1h0m1 2h0m1 2h0m-16 6h0m1 1h0m1 0h0m0-1h0m1-2h0m0 3h0m2-1h0m0-2h0m3-1h0m0 3h0m1-2h0m0 2h0m1 1h0m0-1h0m3-2h0m1-2h0m1 1h0m-25 8h0m3 2h0m3-2h0m0-1h0m1 1h0m1 0h0m1-3h0m0 2h0m1-1h0m0 1h0m1-1h0m0 3h0m1-3h0m1 4h0m0-5h0m0 4h0m0-1h0m0-1h0m1 1h0m1 0h0m0-1h0m1-2h0m-31 10h0m5 0h0m2-2h0m1 0h0m0 3h0m2-5h0m1 4h0m2 1h0m3-2h0m0-2h0m0-1h0m1 5h0m1-5h0m1 3h0m2-1h0m1 1h0m1-2h0m3-1h0m-29 11h0m2-2h0m1-3h0m0 4h0m1 1h0m1-2h0m1 0h0m1 1h0m1-1h0m2 0h0m0-2h0m4 3h0m2-4h0m1 1h0m2 0h0m3-1h0m-23 10h0m2-3h0m2 3h0m2 0h0m1-1h0m1 0h0m2-3h0m3 0h0m-30 8h0m17 3h0m5 0h0m-51 1h0m10 2h0m11-2h0m13 2h0m10-1h0m0 4h0m1-2h0m0 2h0m0-1h0m2 0h0m0-1h0m1 0h0m2 2h0m0-1h0m1-1h0m1 0h0m1-1h0m1 3h0m-16 2h0m7 2h0m1 0h0m0-1h0m3 2h0m0 1h0m0-5h0m1 0h0m1 5h0m2-1h0m1-3h0m2 3h0m0-1h0m1 0h0m-13 4h0m1 2h0m1-2h0m1 2h0m0-3h0m1 4h0m0-2h0m1 2h0m1 1h0m0-2h0m1 2h0m0-2h0m1-1h0m0-2h0m1 2h0m1 3h0m1-3h0m0-1h0m0-1h0m1 3h0m2-1h0m-13 5h0m2 0h0m1 4h0m0-5h0m2 4h0m0-1h0m1 1h0m0-2h0m1-1h0m1 2h0m1-2h0m2 1h0m0 3h0m2-3h0m0 3h0m2-3h0m-14 8h0m1 1h0m0-5h0m1 2h0m0-1h0m0 2h0m1 0h0m1-3h0m1 3h0m0 1h0m1-3h0m1 0h0m0 4h0m2 0h0m2 0h0m0-5h0m0 4h0m0-2h0m1-1h0m1 0h0m0 2h0m1-1h0m0-1h0m-13 6h0m0 4h0m1-1h0m1 0h0m1-3h0m1 4h0m1-2h0m0-2h0m1 4h0m0-5h0m2 3h0m0-1h0m1 3h0m1-2h0m2-1h0m2 1h0m-12 4h0m1 3h0m0-1h0m0 2h0m1-1h0m2-4h0m1 4h0m0-1h0m4-1h0m0 3h0m1-2h0m3-2h0m0 4h0m1-1h0m-14 2h0m1 2h0m0-1h0m1 1h0m0 2h0m1-3h0m0 3h0m1-1h0m0-3h0m1 0h0m0 3h0m1-3h0m2 1h0m4 0h0m0 4h0m2-1h0m2-3h0m-14 8h0m1 0h0m1-2h0m0-1h0m1 5h0m1-2h0m1-1h0m1-1h0m2 0h0m1-1h0m0 3h0m0-1h0m1 2h0m2-2h0m0-2h0m1 5h0m0-5h0m1 5h0m-12 4h0m2 2h0m1-5h0m0 3h0m2-2h0m3 2h0m0-2h0m1 1h0m1 0h0m1 2h0m0-2h0m1 2h0m3 1h0m-15 1h0m1 5h0m1 0h0m1-4h0m0 4h0m1-2h0m2 0h0m1 2h0m0-1h0m1-3h0m1 2h0m1 2h0m0-1h0m0-2h0m1-1h0m4-1h0m0 3h0m-15 3h0m1 0h0m2 0h0m1 4h0m0-1h0m1-2h0m0 4h0m0-3h0m1 0h0m0 1h0m1-3h0m1 5h0m1-2h0m3-3h0m-9 6h0m1 0h0m0 3h0m3-1h0m2 2h0m0-1h0m2-1h0m1 2h0m1-2h0m0-1h0m0 4h0m1-2h0m3 2h0m1-1h0m0-1h0m-14 5h0m1-1h0m0-1h0m0 4h0m2-2h0m2 3h0m0-2h0m0-1h0m1-1h0m0 2h0m1 1h0m0-4h0m1 5h0m1-1h0m1-1h0m1 2h0m1-4h0m3 2h0m0-1h0m-13 5h0m1-1h0m0 3h0m2 1h0m1-4h0m0 4h0m0-1h0m5 2h0m0-4h0m1 1h0m0 2h0m1-3h0m0-1h0m2 5h0m0-5h0m1 3h0m0 2h0m1-2h0m1 1h0m-17 3h0m1 2h0m2 0h0m2 0h0m1-3h0m0 3h0m2-3h0m0 3h0m1-1h0m0 1h0m2 1h0m1-1h0m0 1h0m1-3h0m1 1h0m4 0h0m0 3h0m-15 2h0m1 1h0m1 2h0m1-2h0m0 3h0m1-5h0m2 3h0m2-2h0m1 1h0m2 1h0m0-3h0m1 2h0m1 0h0m0-2h0m1 1h0m0-1h0m0 4h0m0-1h0m1 2h0m0-1h0m2 1h0m-16 6h0m2-4h0m0-1h0m1 5h0m0-4h0m1 3h0m1 1h0m2-5h0m1 3h0m1-2h0m0-1h0m1 5h0m0-2h0m1-3h0m0 2h0m1 1h0m1 1h0m0-3h0m2 3h0m2-1h0m1 2h0m-15 4h0m1 0h0m1-1h0m0-1h0m1 1h0m0 3h0m1-1h0m1-2h0m0 3h0m1-4h0m1 4h0m1-1h0m1-1h0m1-1h0m0-1h0m0 4h0m0-5h0m1 0h0m1 0h0m1 3h0m0-3h0m1 1h0m-15 7h0m1 1h0m2 0h0m1-3h0m0 4h0m1 1h0m0-5h0m0 1h0m1-1h0m2 2h0m1 3h0m0-2h0m1-3h0m1 3h0" stroke="#7BB03B" stroke-width="4.4" stroke-linecap="round"/>
<path d="M1024 643h0m14-1h0" stroke="#21B8BF" stroke-width="4.4" stroke-linecap="round"/>
<path d="M1092 597h0m4 5h0m-35 10h0m13 5h0m-97 33h0" stroke="#F2766C" stroke-width="4.4" stroke-linecap="round"/>
<path d="M1095.4 602.9L1107.2 577.2L1133.0 547.0L1154.4 523.6L1163.0 491.4L1169.4 482.9L1185.4 487.1L1184.4 506.4L1171.5 525.7L1152.2 549.3L1128.6 572.9L1109.3 592.2L1098.6 605.0Z" fill="#F2766C"/>
<path d="M1171 484h0m-5 7h0m1-4h0m0-1h0m1 2h0m0-2h0m2 3h0m1 0h0m0-1h0m0 3h0m1-3h0m2-2h0m0 4h0m1 0h0m1 1h0m1-5h0m1 0h0m1 2h0m1 0h0m1 2h0m1-1h0m2 1h0m-22 6h0m1 0h0m1 0h0m0 1h0m2-2h0m0-3h0m1 4h0m1 1h0m2-1h0m0-1h0m1-1h0m0-2h0m1 0h0m1 1h0m0 3h0m1-4h0m1 3h0m1-2h0m2-1h0m0 3h0m0-1h0m1-1h0m0-1h0m1 3h0m2-1h0m1 0h0m0 3h0m1-4h0m0 2h0m-23 3h0m1 0h0m1 2h0m0-1h0m1 4h0m0-5h0m1 1h0m1 4h0m1 0h0m2-3h0m2 3h0m1 0h0m0-5h0m1 0h0m2 2h0m1 2h0m1-2h0m0-2h0m0 4h0m1-4h0m0 1h0m1 4h0m0-4h0m1 3h0m1-4h0m0 3h0m2-3h0m1 5h0m1-3h0m-23 9h0m3 0h0m0-5h0m1 5h0m1-3h0m0-1h0m2 1h0m1 1h0m0-3h0m1 3h0m0-2h0m1-1h0m0 2h0m1 1h0m0-2h0m2 0h0m0 4h0m3-2h0m1-1h0m1 0h0m2-1h0m0 4h0m0-3h0m1 0h0m-26 4h0m1 1h0m2 1h0m1 2h0m2 1h0m0-1h0m1-1h0m0-1h0m1 3h0m2-1h0m2-1h0m1-1h0m2 3h0m0-2h0m1 2h0m0-2h0m1 0h0m4 1h0m1-1h0m-23 6h0m0-2h0m1-1h0m1 2h0m4 2h0m0-2h0m1 3h0m1-5h0m2 2h0m0-1h0m0 4h0m3-2h0m0-1h0m1 3h0m1-4h0m0 4h0m3 0h0m1-4h0m1 1h0m1-2h0m-23 9h0m2-1h0m0-1h0m0 4h0m0-2h0m2-1h0m1 1h0m0-2h0m3-1h0m1 3h0m1-1h0m0 3h0m0-2h0m2 0h0m2 0h0m2 0h0m1-2h0m-25 10h0m1 0h0m1-2h0m2-1h0m3-1h0m1 1h0m1 3h0m3-2h0m1-3h0m1 4h0m1-4h0m3 1h0m0 2h0m1-1h0m1-2h0m1 1h0m-29 9h0m5 0h0m3-2h0m1-1h0m2 1h0m0-1h0m0 3h0m3 0h0m1 1h0m0-2h0m1 0h0m1 2h0m2 0h0m1-2h0m2-1h0m1-1h0m3-1h0m-25 7h0m0 3h0m1-4h0m1 1h0m0-1h0m2 0h0m0 5h0m1-2h0m1-2h0m0-1h0m1 1h0m2 2h0m0-2h0m0-1h0m1 3h0m0-1h0m2 0h0m0-1h0m2 1h0m2-1h0m1 1h0m-24 7h0m5-2h0m0 3h0m2-1h0m2-1h0m0-1h0m1 4h0m3-5h0m1 3h0m1 0h0m0-1h0m1 3h0m2-3h0m1 0h0m0 1h0m1-2h0m2-1h0m-27 6h0m1 2h0m1 0h0m1 0h0m0-2h0m2 0h0m0 4h0m0-2h0m1-2h0m4 0h0m0 4h0m1-1h0m0-3h0m0 4h0m3-1h0m0 1h0m1-3h0m2 4h0m3-4h0m-30 9h0m4 1h0m1-1h0m0-1h0m1-1h0m3 0h0m2-1h0m0 4h0m1-1h0m0-1h0m3 2h0m0-2h0m1-1h0m0 3h0m0-1h0m2-1h0m2-1h0m1-1h0m0 3h0m0-1h0m2 0h0m0-2h0m1-1h0m-22 7h0m2 1h0m0 2h0m1-3h0m1 4h0m1-1h0m0-3h0m1 4h0m0-1h0m1 0h0m4-3h0m1 1h0m1 0h0m1-1h0m2 0h0m-28 5h0m4 5h0m1-3h0m1-1h0m2 3h0m1 1h0m1-2h0m1-2h0m2 0h0m1 1h0m0-2h0m0 3h0m1 1h0m0-2h0m0 3h0m3-2h0m1-1h0m2 0h0m1-2h0m-21 11h0m3-2h0m0 2h0m1-2h0m0-3h0m1 5h0m1-3h0m0-1h0m2-1h0m2 4h0m2 0h0m1-1h0m-17 6h0m2 2h0m2-2h0m1-3h0m1 1h0m1 1h0m2 2h0m0-4h0m3 0h0m-16 10h0m1-1h0m3 1h0m0-2h0m2-1h0m2 2h0m1 1h0m0-3h0m4-1h0m-15 10h0m2-4h0m1 1h0m1 4h0m2-5h0m0 3h0m-5 3h0" stroke="#F2766C" stroke-width="4.4" stroke-linecap="round"/>
<path d="M1176 508h0m-72 82h0m2 2h0" stroke="#7BB03B" stroke-width="4.4" stroke-linecap="round"/>
<text x="720.0" y="525.0" font-size="17.6" fill="#3B6FA6">Day 50</text>
<text x="855.0" y="586.5" font-size="17.6" fill="#5F4592">Day 21</text>
<text x="1060.6" y="541.0" font-size="17.6" fill="#E0625B">Day 3</text>
<text x="970.0" y="745.6" font-size="17.6" fill="#3A9253">Day 7</text>
</g>
<g id="pe">
<text x="1.5" y="894.2" font-size="29" font-weight="bold">e</text>
<text x="163.4" y="878.4" font-size="17.55">WT vs GKO day 50 RNA-seq</text>
<clipPath id="clipe"><rect x="60.5" y="891.5" width="483.5" height="340.0"/></clipPath>
<line x1="195.1" y1="891.5" x2="195.1" y2="1231.5" stroke="#f3f3f3" stroke-width="0.8" />
<line x1="336.1" y1="891.5" x2="336.1" y2="1231.5" stroke="#f3f3f3" stroke-width="0.8" />
<line x1="477.1" y1="891.5" x2="477.1" y2="1231.5" stroke="#f3f3f3" stroke-width="0.8" />
<line x1="60.5" y1="902.8" x2="544.0" y2="902.8" stroke="#f3f3f3" stroke-width="0.8" />
<line x1="60.5" y1="985.3" x2="544.0" y2="985.3" stroke="#f3f3f3" stroke-width="0.8" />
<line x1="60.5" y1="1067.8" x2="544.0" y2="1067.8" stroke="#f3f3f3" stroke-width="0.8" />
<line x1="60.5" y1="1150.3" x2="544.0" y2="1150.3" stroke="#f3f3f3" stroke-width="0.8" />
<line x1="124.6" y1="891.5" x2="124.6" y2="1231.5" stroke="#e4e4e4" stroke-width="1.1" />
<line x1="265.6" y1="891.5" x2="265.6" y2="1231.5" stroke="#e4e4e4" stroke-width="1.1" />
<line x1="406.6" y1="891.5" x2="406.6" y2="1231.5" stroke="#e4e4e4" stroke-width="1.1" />
<line x1="60.5" y1="944.1" x2="544.0" y2="944.1" stroke="#e4e4e4" stroke-width="1.1" />
<line x1="60.5" y1="1026.6" x2="544.0" y2="1026.6" stroke="#e4e4e4" stroke-width="1.1" />
<line x1="60.5" y1="1109.1" x2="544.0" y2="1109.1" stroke="#e4e4e4" stroke-width="1.1" />
<line x1="60.5" y1="1191.6" x2="544.0" y2="1191.6" stroke="#e4e4e4" stroke-width="1.1" />
<g clip-path="url(#clipe)">
<linearGradient id="gge" gradientUnits="userSpaceOnUse" x1="197.9" y1="0" x2="412.2" y2="0"><stop offset="0" stop-color="#acacac" stop-opacity="0"/><stop offset="0.18" stop-color="#acacac" stop-opacity="0.9"/><stop offset="0.8" stop-color="#acacac" stop-opacity="1"/><stop offset="1" stop-color="#acacac" stop-opacity="0"/></linearGradient>
<path d="M197.9 1001.8L203.4 1004.0L208.9 1006.1L214.4 1008.2L219.9 1009.7L225.4 1010.5L230.9 1011.3L236.4 1012.0L241.9 1012.3L247.4 1012.3L252.9 1012.4L258.4 1012.5L263.9 1012.6L269.4 1012.6L274.9 1012.7L280.4 1012.8L285.8 1012.9L291.3 1013.0L296.8 1013.0L302.3 1013.0L307.8 1013.0L313.3 1013.0L318.8 1013.0L324.3 1013.0L329.8 1013.0L335.3 1013.0L340.8 1013.0L346.3 1013.0L351.8 1013.0L357.3 1013.0L362.8 1013.0L368.3 1013.0L373.8 1013.0L379.3 1013.0L384.8 1012.9L390.3 1012.8L395.8 1012.7L401.2 1012.7L406.7 1012.6L412.2 1012.5L412.2 1039.1L406.7 1039.0L401.2 1038.9L395.8 1038.8L390.3 1038.8L384.8 1038.7L379.3 1038.6L373.8 1038.6L368.3 1038.6L362.8 1038.6L357.3 1038.6L351.8 1038.6L346.3 1038.6L340.8 1038.6L335.3 1038.6L329.8 1038.6L324.3 1038.6L318.8 1038.6L313.3 1038.6L307.8 1038.6L302.3 1038.6L296.8 1038.6L291.3 1038.6L285.8 1038.7L280.4 1038.8L274.9 1038.9L269.4 1039.0L263.9 1039.0L258.4 1039.1L252.9 1039.2L247.4 1039.3L241.9 1039.3L236.4 1039.5L230.9 1040.2L225.4 1040.9L219.9 1041.6L214.4 1043.3L208.9 1045.9L203.4 1048.4L197.9 1051.0Z" fill="url(#gge)" fill-opacity="1.0"/>
<path d="M116 1013h0m3-2h0m2 0h0m1 2h0m0-1h0m2-1h0m4 0h0m2 0h0m2-1h0m2 1h0m4 0h0m4 1h0m0-1h0m1 2h0m7-1h0m1 0h0m3-1h0m0 2h0m2 0h0m4-1h0m1 0h0m0-2h0m1 2h0m2-1h0m2 1h0m1 0h0m5-1h0m2 1h0m5 0h0m0-1h0m1 1h0m1 1h0m2 0h0m5-1h0m4 1h0m2-2h0m2 1h0m4-1h0m3 0h0m0 1h0m1 1h0m3-2h0m22 0h0m6 2h0m3 0h0m1 0h0m1 0h0m9 0h0m12 0h0m40 0h0m34 0h0m8 0h0m23 0h0m-256 6h0m4-1h0m4-4h0m5 4h0m2 0h0m2-2h0m2 1h0m2 2h0m3-4h0m0 3h0m3 1h0m1-5h0m3 5h0m1-2h0m0-2h0m2-1h0m1 1h0m0 2h0m3-2h0m3 1h0m2-2h0m1 0h0m2 2h0m1 3h0m1 0h0m1-3h0m0 3h0m1-5h0m1 2h0m2 2h0m0-3h0m0 4h0m1-1h0m3-3h0m0 3h0m1 1h0m2-3h0m1 3h0m2-3h0m1 2h0m1 1h0m1-4h0m2-1h0m1 3h0m1 1h0m1-4h0m3 5h0m0-5h0m0 3h0m1 1h0m5 1h0m1-3h0m2 1h0m0-1h0m1 2h0m1-2h0m0 2h0m2-3h0m0 2h0m1-2h0m1 3h0m1-2h0m1 3h0m2-3h0m0 2h0m2-2h0m0-2h0m0 3h0m1-2h0m3 4h0m2-5h0m1 2h0m2 2h0m1 0h0m2-3h0m0 3h0m2-1h0m1-2h0m5 3h0m1 1h0m2 0h0m4-2h0m4 2h0m2-2h0m1-2h0m2 4h0m0-5h0m2 2h0m1 0h0m0-1h0m1 1h0m1 2h0m3-2h0m1 2h0m0-1h0m3 0h0m1-2h0m0 2h0m4-3h0m0 4h0m1-2h0m1-1h0m0 1h0m2 3h0m0-1h0m1-1h0m4-3h0m4 1h0m3 1h0m0 3h0m0-2h0m2 2h0m2-3h0m1 0h0m1 3h0m0-1h0m2-2h0m0-1h0m0-1h0m8 4h0m0-2h0m1-1h0m6 2h0m1-3h0m1 1h0m3-1h0m1 4h0m0-2h0m1 1h0m1-1h0m2 3h0m1-1h0m1-3h0m1 2h0m0 2h0m4-1h0m0-2h0m1 3h0m1 0h0m4-4h0m1 2h0m1 2h0m1-1h0m1 1h0m1 0h0m2-1h0m4 0h0m2-4h0m1 3h0m0-1h0m0 2h0m1-4h0m3 1h0m2 1h0m3 3h0m1 0h0m1-1h0m5-2h0m3 1h0m3 2h0m2 0h0m3-3h0m6 3h0m2 0h0m3 0h0m5-3h0m16-2h0m3 4h0m3 1h0m13 0h0m7-2h0m-316 8h0m1-2h0m2-2h0m1 3h0m0-1h0m0-2h0m1 2h0m1 1h0m0-3h0m1 1h0m1-2h0m2 1h0m0-1h0m1 3h0m0 2h0m1 0h0m1-4h0m1 0h0m1 4h0m1-4h0m1 4h0m2-2h0m1-3h0m1 2h0m2-2h0m0 4h0m3 0h0m1-3h0m3 3h0m2-4h0m0 3h0m1 1h0m1 0h0m1 1h0m0-5h0m2 5h0m0-5h0m1 4h0m1-3h0m1-1h0m0 4h0m2 1h0m1-1h0m1 1h0m0-5h0m1 4h0m0-3h0m1 3h0m1 1h0m1 0h0m0-4h0m2 2h0m1 2h0m0-5h0m3 2h0m1 2h0m1-1h0m1-2h0m1 3h0m1 0h0m4 0h0m3 1h0m4-1h0m1 0h0m1-4h0m1 2h0m1 0h0m0 3h0m1 0h0m0-1h0m1-2h0m1 1h0m1 2h0m0-1h0m1 0h0m2 0h0m0-1h0m0-1h0m2 3h0m0-5h0m0 4h0m0-1h0m2 0h0m0-1h0m1 3h0m0-3h0m1 2h0m1-3h0m0-1h0m0 4h0m1-4h0m0 3h0m1-1h0m1 0h0m1 3h0m0-2h0m1-3h0m1 4h0m1 1h0m0-1h0m0-2h0m1-2h0m0 4h0m1 1h0m0-5h0m1 2h0m1-2h0m1 5h0m0-3h0m1-2h0m1 3h0m2-1h0m1 3h0m0-2h0m0-1h0m1-2h0m3 3h0m1-2h0m1 1h0m1-1h0m0-1h0m0 3h0m3 1h0m1 1h0m6-4h0m0-1h0m0 4h0m2 1h0m2-3h0m3-2h0m1 1h0m0 4h0m1-1h0m1 1h0m1-5h0m0 2h0m3-1h0m1 2h0m1 1h0m4-2h0m1-1h0m1 4h0m3-3h0m0 3h0m0-1h0m1 1h0m1-3h0m0-1h0m1 4h0m2-2h0m1-1h0m0-2h0m1 1h0m0 4h0m1-3h0m0-1h0m0 3h0m1 1h0m1-5h0m0 3h0m1 2h0m1-3h0m2 1h0m1-2h0m1 4h0m2-1h0m1-3h0m0-1h0m0 4h0m1-1h0m1 2h0m0-3h0m1 3h0m1-1h0m0 1h0m1-4h0m0 3h0m0-2h0m1 0h0m0 1h0m1 2h0m2-2h0m0-2h0m4 3h0m2 0h0m0-1h0m3 1h0m0-1h0m0-1h0m0-1h0m1 3h0m1-4h0m1 1h0m0 4h0m1 0h0m1-3h0m0-2h0m1 0h0m0 1h0m1 0h0m0 3h0m1 1h0m2-1h0m2 1h0m4-4h0m1 3h0m3 1h0m1 0h0m1-2h0m1 2h0m3-4h0m0 3h0m0-1h0m6-1h0m3 0h0m3 3h0m1 0h0m1-4h0m3-1h0m1 2h0m1 3h0m0-2h0m2-1h0m2 0h0m1 2h0m1-1h0m1 0h0m0 2h0m2 0h0m2-5h0m1 3h0m1 1h0m0-1h0m1-3h0m2 1h0m0-1h0m4 2h0m0-1h0m1 2h0m3 1h0m2 0h0m2-2h0m3 0h0m0-2h0m5 4h0m0-2h0m6-1h0m2 3h0m0-2h0m1 3h0m1-5h0m0 4h0m1-1h0m3 0h0m0 1h0m6 1h0m0-1h0m1-4h0m12 3h0m1-1h0m3 3h0m8-2h0m3-2h0m6 2h0m19-1h0m5-2h0m2 4h0m22 0h0m-371 3h0m3-1h0m0 2h0m1-1h0m0-1h0m0 4h0m0-1h0m1-2h0m0 4h0m0-5h0m0 3h0m1 1h0m0-3h0m1 0h0m0 2h0m1 0h0m0-1h0m0-1h0m0 4h0m0-1h0m1 1h0m0-5h0m1 3h0m1 0h0m1 2h0m0-4h0m1 1h0m0-2h0m1 0h0m0 4h0m0-1h0m0-2h0m1 0h0m1 1h0m0-2h0m0 4h0m1-1h0m0-2h0m2 0h0m0-1h0m1 0h0m0 2h0m0-1h0m1 0h0m0-1h0m2 1h0m0 4h0m0-5h0m1 5h0m1-1h0m0-3h0m1 1h0m0 2h0m1-1h0m1-2h0m0 4h0m1-5h0m0 4h0m1-3h0m3 1h0m1 0h0m3-2h0m0 4h0m0-1h0m2-3h0m1 3h0m1-2h0m1 2h0m1-1h0m0-1h0m1 0h0m1 4h0m1-3h0m0-2h0m1 0h0m0 1h0m1 0h0m1 3h0m0-3h0m0 4h0m1-4h0m1-1h0m2 1h0m0 1h0m3-2h0m1 1h0m1 2h0m0-2h0m1 0h0m1 4h0m1-4h0m1 1h0m0 2h0m3-3h0m1 0h0m0 4h0m0-5h0m1 5h0m2-1h0m0 1h0m1-1h0m0-2h0m1-1h0m1-1h0m0 3h0m2 0h0m0-1h0m0 3h0m1 0h0m0-3h0m1-1h0m1 3h0m0 1h0m1-4h0m0-1h0m0 4h0m1-1h0m1-3h0m0 4h0m0-2h0m2 1h0m0 2h0m2-4h0m0 4h0m0-5h0m0 4h0m1-1h0m1-2h0m0 3h0m1-1h0m1 0h0m0-1h0m1-1h0m0 4h0m0-2h0m2 2h0m0-1h0m1-1h0m1-3h0m1 1h0m0 2h0m0-1h0m1 1h0m2 2h0m1-2h0m0-1h0m1 3h0m1-2h0m0-1h0m1 3h0m1-3h0m0 3h0m0-5h0m1 5h0m0-2h0m1 2h0m2-4h0m0-1h0m1 5h0m1-1h0m1-3h0m1 0h0m0 1h0m1-1h0m1-1h0m1 1h0m0 2h0m1-1h0m0-2h0m1 2h0m1-2h0m4 2h0m0-2h0m1 2h0m1 0h0m3 3h0m1-5h0m1 4h0m1 0h0m3-2h0m2 1h0m2 2h0m1-2h0m1-3h0m0 4h0m0-1h0m0-1h0m1 0h0m1 2h0m3 0h0m1-1h0m1 0h0m0 1h0m1-1h0m1-3h0m3 5h0m0-1h0m1-1h0m2-1h0m0-1h0m0 4h0m5-2h0m2-3h0m0 4h0m1-2h0m0 3h0m0-2h0m2-2h0m1 1h0m1-1h0m1-1h0m0 2h0m1 1h0m0-1h0m0-2h0m1 3h0m1 2h0m0-2h0m1 0h0m0-1h0m0-2h0m2 0h0m0 4h0m1-4h0m1 1h0m1 2h0m0-1h0m0-1h0m0-1h0m1 4h0m1-3h0m0-1h0m1 3h0m0-3h0m2 1h0m2 1h0m1 0h0m1 1h0m0-3h0m1 4h0m0-1h0m1-3h0m1 5h0m1-1h0m0-1h0m1-1h0m0-1h0m0 4h0m1-5h0m1 0h0m1 1h0m1 0h0m0-1h0m1 2h0m1-1h0m1 3h0m2-3h0m0-1h0m0 2h0m4 3h0m1-1h0m0-3h0m1 4h0m0-1h0m2-3h0m2 4h0m1-5h0m1 0h0m1 0h0m1 0h0m0 1h0m1 1h0m0 3h0m1-2h0m0 2h0m2-3h0m1 3h0m1-2h0m1-1h0m0-2h0m1 4h0m0-1h0m1-2h0m0 4h0m1-3h0m1 3h0m0-3h0m1 1h0m0 2h0m0-5h0m1 1h0m1 3h0m1-2h0m0-2h0m0 4h0m1 1h0m1-5h0m1 3h0m2-3h0m1 1h0m0 3h0m1-4h0m0 2h0m0-1h0m3-1h0m0 2h0m1 3h0m4-4h0m1 1h0m1 1h0m0-1h0m2-1h0m0-1h0m0 3h0m2 1h0m2 1h0m0-2h0m3 1h0m0-1h0m1-2h0m0-1h0m0 4h0m2 1h0m2-5h0m1 2h0m1 3h0m1-2h0m3-2h0m1 3h0m2 0h0m0-1h0m3-1h0m1-1h0m2 0h0m0 3h0m2 0h0m1-3h0m1 2h0m0-2h0m2 2h0m3-3h0m0 5h0m1-5h0m4 2h0m1-2h0m2 0h0m2 1h0m4-1h0m4 5h0m22-3h0m2-2h0m2 4h0m42-4h0m22 2h0m-379 5h0m0 1h0m4 0h0m1-1h0m1 1h0m2 3h0m0-1h0m0-2h0m3 0h0m3-2h0m1 2h0m0 3h0m2-3h0m2-2h0m0 4h0m3 1h0m1-4h0m1 4h0m0-2h0m1 2h0m1-5h0m1 0h0m0 4h0m1 1h0m1-3h0m2 0h0m2 3h0m1-3h0m1-1h0m1 4h0m2 0h0m0-4h0m2 1h0m2-1h0m2 1h0m1 1h0m0 2h0m2-5h0m3 5h0m1-4h0m0-1h0m2 1h0m0 3h0m1-2h0m3 2h0m3-4h0m1 2h0m1 3h0m1-3h0m1 0h0m5-2h0m1 5h0m0-1h0m2 1h0m3-5h0m1 0h0m2 2h0m1-2h0m2 3h0m0-1h0m0-1h0m1 4h0m0-1h0m1-1h0m0-2h0m0 3h0m2-4h0m3 0h0m1 2h0m0 2h0m1 1h0m0-5h0m1 0h0m0 4h0m0-1h0m1-1h0m2 0h0m0 3h0m0-5h0m1 0h0m0 2h0m0-1h0m1 4h0m0-5h0m0 3h0m1-3h0m2 0h0m1 3h0m2 0h0m2-1h0m3 2h0m3-3h0m3 1h0m2-1h0m1-1h0m1 2h0m1-2h0m1 4h0m1-2h0m2 1h0m0-2h0m3-1h0m1 1h0m0 3h0m2-1h0m2-1h0m1 0h0m1 0h0m1-1h0m1 2h0m2 0h0m1 0h0m3-2h0m0-1h0m1 0h0m1 0h0m3 0h0m1 0h0m1 1h0m1 1h0m0 3h0m0-1h0m4 0h0m0-1h0m1-2h0m0-1h0m1 4h0m1-1h0m1-3h0m1 0h0m1 0h0m0 1h0m5 3h0m0-2h0m1-2h0m0 4h0m1-2h0m0 3h0m1-4h0m1 0h0m2 2h0m2 1h0m0-3h0m0-1h0m2 0h0m1 0h0m1 2h0m1-1h0m0-1h0m1 2h0m0 3h0m2-4h0m1-1h0m2 2h0m0-2h0m1 0h0m1 0h0m0 3h0m1-2h0m2 1h0m0-1h0m0-1h0m1 2h0m1 0h0m2 3h0m2-3h0m1 2h0m1-2h0m1 1h0m4-3h0m1 4h0m0-3h0m0-1h0m1 5h0m4 0h0m1 0h0m5-4h0m0-1h0m1 4h0m1 0h0m1-1h0m1 0h0m1-1h0m0 3h0m1-1h0m2-3h0m3 3h0m1-1h0m1-1h0m3 1h0m0 1h0m2-3h0m1 1h0m7 0h0m0-1h0m1 2h0m3-1h0m0-1h0m1-1h0m1 1h0m3 4h0m2-1h0m1 0h0m1-3h0m2-1h0m2 0h0m0 4h0m6-3h0m0-1h0m12 0h0m2 2h0m2 0h0m3 2h0m10-1h0m64-3h0m-350 6h0m4 2h0m2 1h0m3-1h0m1 1h0m2-1h0m3-2h0m3 0h0m1 1h0m2 1h0m0-1h0m1-1h0m2 1h0m1 0h0m1 2h0m0 2h0m0-5h0m3 2h0m1 0h0m1 2h0m2-4h0m4 4h0m1-3h0m0 2h0m4 2h0m1-2h0m1 0h0m2-2h0m0 4h0m1-5h0m1 4h0m0-1h0m0-1h0m2-2h0m5 1h0m0-1h0m0 3h0m1-1h0m1-2h0m8 1h0m2 0h0m0-1h0m2 2h0m1 0h0m1 3h0m1-4h0m1-1h0m2 3h0m3 0h0m1 0h0m3-2h0m2 4h0m3-5h0m0 4h0m0-1h0m4 0h0m1-1h0m13-2h0m3 1h0m1 2h0m10-2h0m17 0h0m2-1h0m16 1h0m3 0h0m6 0h0m3 0h0m10-1h0m1 1h0m5 0h0m4-1h0m2 1h0m24-1h0m13 1h0m12-1h0" stroke="#9a9a9a" stroke-width="4" stroke-linecap="round" stroke-opacity="0.42"/>
<path d="M124 1010h0m2 3h0m5-2h0m1 0h0m1 0h0m3-1h0m9 1h0m4 2h0m3-1h0m3 1h0m1 0h0m1-1h0m3 1h0m0-3h0m3 3h0m0-2h0m1 1h0m0-1h0m3 1h0m3 1h0m3-3h0m2 0h0m2 2h0m1-1h0m2 1h0m6-1h0m5-1h0m3 2h0m7 0h0m2 1h0m1-1h0m2 0h0m0 1h0m28 0h0m19 0h0m32 0h0m52 0h0m2 0h0m-230 6h0m1 0h0m0-1h0m1 0h0m1 0h0m1 1h0m4-5h0m1 5h0m1 0h0m1 0h0m0-3h0m0-1h0m3 0h0m0 4h0m1-3h0m7 0h0m1 1h0m1 1h0m0-1h0m0-1h0m1-2h0m1 4h0m1 1h0m1-5h0m0 3h0m1 2h0m1-3h0m1-1h0m0 3h0m0-1h0m1 1h0m0 1h0m2-5h0m2 5h0m0-2h0m0-1h0m1 0h0m1 2h0m1-3h0m1 4h0m0-5h0m2 1h0m0 4h0m1-3h0m2 2h0m5 0h0m1 1h0m1-5h0m1 0h0m3 2h0m0 1h0m3-3h0m2 2h0m10 3h0m0-3h0m1 0h0m1-1h0m1 4h0m0-5h0m2 4h0m1-3h0m0 4h0m0-1h0m0-1h0m1 2h0m1-3h0m1 2h0m1 0h0m2-3h0m1-1h0m3 2h0m0 3h0m1-1h0m1 1h0m1 0h0m2-3h0m0-2h0m3 0h0m2 1h0m0 3h0m1-1h0m0 2h0m0-1h0m2-1h0m0 2h0m7-2h0m0-1h0m1 1h0m3 1h0m2-1h0m2-1h0m1 3h0m3-1h0m1-3h0m1 1h0m3 3h0m1-1h0m0 1h0m3-1h0m1 0h0m2-1h0m5-2h0m2-1h0m4 4h0m5-1h0m0 1h0m1 1h0m1-3h0m5 1h0m2 1h0m0-1h0m1 2h0m2-1h0m2-2h0m1 3h0m2-4h0m2 0h0m2 2h0m0 2h0m1 0h0m1 0h0m2-3h0m1 2h0m4-4h0m3 5h0m0-4h0m4 2h0m1 0h0m0-2h0m1 3h0m1 0h0m4-1h0m1 1h0m0-1h0m1 2h0m5-3h0m0-1h0m1 0h0m3 3h0m1-4h0m2 5h0m0-1h0m1-2h0m2-2h0m0 4h0m2-3h0m3 2h0m1 1h0m1 1h0m4-3h0m4 3h0m0-5h0m2 5h0m2 0h0m4 0h0m1-3h0m1-1h0m3 4h0m1-3h0m3 2h0m3 0h0m3 0h0m0-3h0m1 3h0m5 0h0m14-4h0m1 5h0m12-2h0m5 1h0m6 0h0m17-2h0m5 1h0m-318 8h0m0-1h0m1 0h0m3-3h0m1 2h0m2 0h0m2 0h0m0-1h0m0 2h0m2-1h0m0 2h0m2-1h0m0-1h0m1 0h0m1 1h0m0-3h0m1 0h0m0 1h0m3 3h0m0-2h0m1 1h0m3-4h0m0 4h0m1 1h0m2 0h0m1-4h0m1 2h0m0-1h0m0-1h0m0 3h0m2-4h0m1 0h0m3 3h0m1-2h0m1-1h0m0 4h0m2-2h0m1 3h0m1 0h0m0-5h0m0 4h0m0-3h0m1-1h0m2 4h0m0-1h0m2 1h0m1-1h0m3 0h0m0-3h0m2 0h0m0 4h0m1-1h0m1-3h0m0 2h0m0 3h0m1 0h0m1-2h0m1-2h0m0 3h0m2-4h0m1 5h0m0-5h0m1 2h0m3 0h0m0-1h0m1-1h0m0 3h0m1-3h0m1 1h0m1 1h0m4 3h0m1-2h0m1-2h0m1 1h0m1 3h0m1-2h0m2 2h0m0-1h0m0-3h0m2 1h0m1 3h0m3-2h0m1 2h0m0-5h0m2 2h0m0 3h0m0-1h0m2 0h0m0-1h0m1-1h0m1 2h0m0 1h0m2 0h0m1-2h0m1 1h0m1-1h0m0-3h0m1 0h0m2 2h0m1 3h0m1-3h0m0 3h0m1-2h0m1 2h0m0-1h0m0-1h0m1-1h0m0 2h0m1 0h0m1-1h0m5 2h0m1-3h0m0 3h0m0-5h0m1 4h0m4-1h0m1 0h0m2-3h0m1 5h0m3-1h0m0-3h0m4-1h0m0 4h0m0-1h0m1-1h0m2 3h0m1-5h0m1 3h0m2-1h0m1 0h0m0 3h0m1-1h0m1 0h0m0-1h0m1 2h0m0-1h0m2-3h0m1 0h0m0-1h0m2 5h0m1-4h0m2-1h0m1 3h0m0-2h0m1 3h0m1 1h0m0-5h0m2 2h0m0 1h0m1 0h0m4 2h0m2-3h0m1 2h0m2-2h0m0 3h0m1-2h0m4-1h0m0 3h0m1-2h0m1 1h0m3 1h0m2-3h0m0 3h0m1-5h0m1 3h0m0-2h0m0 4h0m1-5h0m1 2h0m1 3h0m0-1h0m2 0h0m1-3h0m2 3h0m0-3h0m0-1h0m1 2h0m3 3h0m1 0h0m1 0h0m0-3h0m1 0h0m0 2h0m1-3h0m2 3h0m0-3h0m0 4h0m1-1h0m1-1h0m1 0h0m0-2h0m1 0h0m0 2h0m1-1h0m1 2h0m1 1h0m4-5h0m3 0h0m1 1h0m0-1h0m1 5h0m2-2h0m2-3h0m1 2h0m3 3h0m0-5h0m3 1h0m0-1h0m1 2h0m3-2h0m2 4h0m0 1h0m1 0h0m0-1h0m2-2h0m3 1h0m2-3h0m2 1h0m2 3h0m1-4h0m0 4h0m1-1h0m0 1h0m4-3h0m0 4h0m0-3h0m4 2h0m3 1h0m4-2h0m1 2h0m6-5h0m0 5h0m4-5h0m1 2h0m1 3h0m1-1h0m1 1h0m2-4h0m0 4h0m1-1h0m4-4h0m2 3h0m1-2h0m5 1h0m4 2h0m2-4h0m1 3h0m2-2h0m2 0h0m1 2h0m6-3h0m3 3h0m2 2h0m6 0h0m11-5h0m8 5h0m6 0h0m0-2h0m16 2h0m5-2h0m-365 4h0m3-1h0m0 1h0m1 0h0m0 2h0m1-1h0m0-2h0m1 0h0m0 3h0m0-2h0m0 4h0m1-3h0m0 3h0m0-5h0m1 3h0m0-3h0m1 0h0m0 3h0m1-1h0m0-1h0m0 3h0m1 0h0m0-3h0m2 4h0m0-2h0m2 2h0m0-5h0m1 2h0m0-2h0m0 4h0m2-3h0m0 3h0m1-1h0m0-2h0m3 2h0m0-2h0m2-1h0m0 3h0m1 1h0m0-3h0m0 4h0m0-5h0m1 4h0m3-3h0m2 3h0m0-2h0m1-1h0m1-1h0m0 2h0m1 0h0m0-1h0m1 0h0m1 3h0m1-3h0m0-1h0m0 4h0m1-3h0m1 4h0m1-3h0m2-1h0m1 0h0m0-1h0m1 1h0m0 4h0m1-3h0m0-1h0m0 4h0m1-3h0m1-1h0m2-1h0m1 4h0m0-3h0m1 2h0m2-3h0m1 2h0m0-1h0m0 3h0m1-2h0m0-2h0m1 4h0m4 1h0m0-5h0m1 0h0m0 2h0m1 2h0m1 0h0m0-2h0m0-1h0m0-1h0m1 1h0m0-1h0m0 3h0m1-3h0m2 2h0m0 1h0m1-2h0m0-1h0m1 0h0m0 3h0m1-3h0m0 3h0m1-2h0m0 4h0m0-5h0m1 1h0m0-1h0m1 2h0m1 1h0m1-2h0m0-1h0m0 2h0m1-1h0m1 2h0m1 2h0m0-5h0m0 4h0m1-2h0m0-2h0m1 0h0m0 3h0m1 0h0m1-2h0m1-1h0m1 1h0m0-1h0m1 1h0m0 4h0m1 0h0m0-5h0m1 5h0m1-4h0m1 0h0m0 2h0m0-1h0m1 0h0m0-1h0m0-1h0m1 1h0m0 3h0m0-2h0m1 0h0m0-2h0m1 2h0m0-1h0m5 1h0m1 1h0m2 0h0m0-2h0m1 1h0m0 3h0m0-5h0m2 4h0m0-1h0m1-2h0m0 3h0m0-1h0m1 1h0m0-2h0m0-1h0m0 4h0m0-5h0m1 4h0m0-2h0m0-1h0m1 0h0m0 2h0m1 2h0m0-5h0m2 4h0m1-3h0m2 3h0m3-2h0m2 2h0m0-2h0m4-2h0m4 5h0m1 0h0m0-5h0m1 1h0m1 1h0m1-1h0m2 1h0m0-1h0m1 2h0m0-2h0m0 4h0m0-5h0m3 5h0m1-5h0m1 2h0m0-1h0m0-1h0m1 2h0m1-1h0m4 0h0m1-1h0m1 1h0m0 4h0m0-5h0m1 5h0m0-2h0m1 1h0m1-2h0m0-2h0m2 2h0m1 0h0m2 0h0m2 3h0m2 0h0m0-3h0m1-1h0m1 2h0m2 0h0m1 1h0m1 0h0m0-2h0m2 1h0m1-3h0m0 3h0m2 2h0m4-3h0m1-2h0m0 4h0m1-3h0m0-1h0m0 4h0m0-2h0m1 0h0m2 1h0m1-2h0m0 3h0m1 0h0m2 1h0m1 0h0m0-5h0m0 1h0m1 0h0m1 3h0m1 1h0m2-4h0m1 1h0m0-1h0m0 2h0m1-1h0m1-1h0m0 2h0m2 1h0m1 1h0m0-2h0m1-1h0m0-1h0m0 4h0m1-2h0m1 2h0m1-2h0m0-2h0m0 4h0m0-5h0m1 5h0m0-1h0m0-3h0m1 0h0m0 3h0m1-2h0m0-1h0m0-1h0m1 4h0m0-2h0m1-1h0m1 4h0m0-3h0m1 3h0m0-5h0m2 5h0m1-3h0m1-1h0m1 2h0m1-1h0m0 3h0m0-1h0m1-3h0m1 4h0m1-4h0m2 0h0m0 4h0m0-1h0m1-3h0m1 3h0m1 0h0m1-4h0m1 5h0m2-5h0m1 5h0m0-5h0m0 3h0m3 2h0m1-3h0m1 1h0m1-3h0m2 0h0m0 1h0m1 4h0m1 0h0m0-4h0m3-1h0m0 4h0m0-2h0m2-1h0m0-1h0m1 2h0m1 0h0m1-2h0m0 2h0m1 1h0m0-1h0m2 3h0m1-4h0m1 0h0m0 3h0m1 1h0m0-1h0m1 0h0m2 0h0m1-2h0m1 0h0m0-1h0m1 3h0m0-1h0m1-2h0m3 2h0m0-1h0m2-2h0m2 1h0m2-1h0m0 4h0m3-1h0m0-2h0m1 4h0m6-3h0m0 3h0m1-2h0m4-2h0m14 4h0m1 0h0m1-4h0m0 3h0m2-1h0m8 1h0m1-1h0m0-1h0m6 0h0m1-1h0m1 3h0m1-2h0m2 3h0m13 0h0m1-2h0m9 2h0m7 0h0m4 0h0m2-1h0m18 1h0m12-4h0m-376 5h0m3 0h0m2 0h0m0 4h0m1-2h0m1 1h0m1 1h0m1-3h0m2 0h0m0 2h0m1 0h0m0-1h0m0 3h0m2-4h0m3 1h0m0-2h0m1 2h0m2-2h0m1 2h0m2 2h0m0-1h0m1 1h0m1-3h0m1 4h0m0-4h0m1-1h0m1 4h0m1-4h0m0 4h0m2-1h0m0-2h0m0-1h0m1 4h0m3 0h0m0-1h0m2 2h0m0-2h0m1 1h0m0-1h0m0-1h0m2-2h0m0 2h0m1 0h0m0-1h0m1 1h0m0-1h0m3 1h0m1 0h0m1-1h0m0-1h0m2 1h0m0-1h0m0 4h0m2 1h0m0-3h0m1 0h0m2-2h0m0 3h0m3 2h0m3-2h0m0-2h0m2 0h0m1 4h0m1-1h0m0-2h0m1 3h0m0-5h0m0 1h0m2-1h0m2 1h0m0-1h0m0 4h0m1 1h0m1-1h0m1-3h0m1 4h0m2-2h0m1 1h0m1-1h0m1-1h0m5 0h0m0 3h0m1 0h0m0-1h0m0-2h0m2 3h0m2-3h0m0 3h0m1-4h0m1 2h0m2 2h0m1-5h0m1 0h0m0 3h0m1-2h0m0 3h0m0-2h0m2-2h0m0 3h0m1 0h0m2-3h0m0 2h0m3 1h0m2-3h0m2 4h0m4-3h0m1 0h0m1-1h0m0 3h0m1-3h0m2 4h0m1 1h0m1-2h0m1-2h0m4 4h0m1-2h0m0-1h0m3 0h0m4 2h0m0-1h0m1-2h0m3-1h0m1 3h0m3 0h0m2-2h0m1 2h0m1-2h0m2 4h0m0-5h0m2 0h0m2 0h0m1 0h0m2 3h0m1-3h0m3 1h0m1 3h0m0-2h0m1 3h0m1-5h0m4 5h0m0-5h0m1 0h0m2 5h0m2-4h0m0-1h0m3 0h0m0 4h0m1-2h0m1 0h0m1-2h0m1 1h0m1 4h0m1-5h0m1 0h0m2 4h0m1-4h0m1 5h0m1-5h0m0 3h0m1 2h0m1-5h0m1 4h0m2-3h0m0 3h0m1-3h0m1 3h0m1-3h0m0 1h0m2-2h0m0 3h0m1-1h0m1 1h0m2 1h0m0-4h0m1 3h0m1-3h0m3 3h0m1-3h0m3 0h0m1 4h0m5-2h0m1-2h0m3 3h0m2 1h0m0-1h0m1-1h0m3-1h0m2 0h0m0-1h0m5 0h0m7 3h0m2 0h0m3 0h0m0 2h0m0-1h0m3 0h0m0-2h0m4 3h0m1-4h0m0-1h0m1 2h0m0-1h0m1-1h0m1 5h0m4-1h0m3 0h0m1-2h0m0 2h0m3-4h0m17 5h0m3-5h0m0 3h0m4 0h0m13 1h0m8-3h0m40-1h0m-337 9h0m1-1h0m0-2h0m0 3h0m1-3h0m1 4h0m1-4h0m3 4h0m0-2h0m0-1h0m1 3h0m2 0h0m4 0h0m2-1h0m1-1h0m5 1h0m2 2h0m3-3h0m2-2h0m1 4h0m0-2h0m2 1h0m0-1h0m4 3h0m2-1h0m0-2h0m2-2h0m2 2h0m5 1h0m4 0h0m0-1h0m1 3h0m0-2h0m3-2h0m0 4h0m0-3h0m2-2h0m1 2h0m4 1h0m3 2h0m3-3h0m2 0h0m0-2h0m1 2h0m2 1h0m2 0h0m2 2h0m1 0h0m1-4h0m0-1h0m0 4h0m0-2h0m1-2h0m0 4h0m3-1h0m2 0h0m1-3h0m4 0h0m4 2h0m1-2h0m1 3h0m3 0h0m5 0h0m2-3h0m3 2h0m3 0h0m2 0h0m19-2h0m11 1h0m1 0h0m5-1h0m2 1h0m37-1h0m11 0h0m1 0h0m23 1h0m3-1h0m22 0h0" stroke="#9a9a9a" stroke-width="4" stroke-linecap="round" stroke-opacity="0.42"/>
<path d="M121 1013h0m5-3h0m3 3h0m2-2h0m3 2h0m1-3h0m2 3h0m2 0h0m6-2h0m0 2h0m2 0h0m6-2h0m3 0h0m5-1h0m1 3h0m2-2h0m8 2h0m4-2h0m3 0h0m1 2h0m1 0h0m3-2h0m0 2h0m2-1h0m0-1h0m2 2h0m1-2h0m1 2h0m2 0h0m3 0h0m1-1h0m7 0h0m3 1h0m16-2h0m18 1h0m7 1h0m19 0h0m21 0h0m31 0h0m7 0h0m48 0h0m22 0h0m-281 4h0m3-3h0m1 1h0m5 2h0m0 2h0m2-4h0m8 3h0m0 1h0m1-5h0m6 1h0m0 4h0m0-5h0m0 3h0m2 2h0m2-5h0m1 1h0m0 4h0m1 0h0m1-3h0m1 3h0m1-1h0m3-4h0m1 0h0m3 4h0m1 1h0m2-1h0m1-1h0m0-1h0m0-1h0m2 2h0m3 2h0m1-5h0m1 5h0m2-5h0m1 1h0m1 0h0m0-1h0m1 0h0m0 5h0m1-5h0m1 0h0m1 4h0m0-1h0m1 0h0m1 1h0m0-1h0m1 0h0m2 1h0m1-1h0m0-1h0m1 2h0m1 0h0m1 1h0m2-2h0m3 2h0m1-5h0m2 1h0m0 2h0m3 0h0m2 1h0m2 0h0m0-1h0m0 2h0m2-2h0m2-1h0m0-2h0m2 4h0m1-3h0m0 4h0m0-5h0m1 2h0m0 3h0m0-1h0m1-2h0m0 3h0m1-1h0m3-4h0m5 4h0m4 1h0m0-2h0m4 0h0m1-1h0m1 2h0m4-2h0m3 2h0m2-1h0m0-2h0m0 4h0m4 0h0m3 0h0m0-1h0m0-2h0m8 3h0m0-3h0m2-2h0m1 0h0m0 4h0m5 1h0m4-3h0m1 1h0m0-1h0m3 2h0m6-1h0m1-2h0m0 3h0m7 0h0m2-1h0m0 1h0m2-2h0m0 2h0m3-2h0m1 0h0m1 0h0m1 1h0m0 1h0m3-1h0m1 2h0m2 0h0m0-1h0m8-4h0m1 3h0m3 2h0m3-3h0m4-2h0m1 1h0m0 2h0m2-1h0m3 2h0m0-2h0m6 2h0m1-1h0m2-1h0m3-2h0m0 4h0m3-3h0m0 2h0m5 2h0m0-2h0m2 0h0m7 2h0m2-2h0m2 1h0m1 0h0m2 1h0m4-1h0m1-3h0m1 3h0m13 0h0m21 0h0m8-2h0m0 3h0m0-5h0m9 1h0m0 4h0m-314 6h0m2-2h0m1 2h0m0-1h0m1 0h0m0-2h0m1 0h0m0-1h0m1 3h0m1 0h0m0-1h0m0-1h0m1 1h0m1 0h0m0-2h0m3 2h0m1 2h0m0-1h0m1-1h0m1-1h0m1 1h0m0-2h0m2 3h0m1-1h0m0-2h0m0 3h0m1-3h0m0 1h0m2 3h0m1-1h0m1-1h0m1-3h0m0 5h0m1 0h0m1-4h0m0 4h0m3-3h0m0-1h0m0-1h0m1 0h0m0 3h0m1-1h0m0-2h0m1 3h0m0 2h0m3-5h0m1 4h0m1-2h0m2-1h0m0-1h0m0 4h0m1 1h0m1-1h0m1-2h0m0 2h0m1 0h0m0-2h0m2 3h0m4-1h0m0-2h0m1 1h0m0-2h0m0 4h0m0-1h0m1-1h0m1 1h0m1-4h0m1 5h0m1-4h0m1 4h0m0-5h0m4 5h0m0-1h0m2-3h0m2 2h0m1 2h0m0-3h0m1 2h0m1-2h0m0 3h0m1 0h0m0-5h0m0 3h0m0-1h0m1 3h0m1-3h0m1 0h0m2 2h0m1 1h0m0-1h0m0-1h0m0-1h0m1 3h0m2 0h0m0-5h0m1 1h0m0 4h0m2-2h0m0 2h0m1-1h0m2-2h0m0 3h0m1-1h0m2-2h0m3 0h0m0-1h0m0 3h0m1-4h0m0 3h0m2 1h0m0-1h0m0-1h0m1 3h0m0-2h0m1 0h0m0-3h0m2 5h0m0-1h0m0-1h0m1 2h0m1 0h0m0-3h0m1 0h0m1 1h0m0-1h0m1-2h0m0 4h0m0-3h0m1-1h0m1 4h0m0-2h0m1 2h0m0-3h0m0 1h0m1 3h0m1-5h0m0 3h0m1-1h0m3-2h0m2 1h0m2-1h0m1 4h0m1-4h0m1 4h0m1-3h0m0 3h0m1 0h0m1 0h0m2 1h0m1-4h0m0 4h0m1-1h0m0-1h0m1 1h0m2-3h0m3 3h0m1-2h0m1 0h0m0-1h0m1-1h0m1 5h0m0-3h0m1 3h0m0-2h0m1 0h0m1 1h0m1-3h0m0-1h0m1 4h0m1 0h0m2 1h0m0-5h0m1 5h0m0-5h0m1 5h0m0-4h0m1 3h0m1 1h0m1-5h0m2 4h0m1-3h0m1 1h0m1 0h0m0 3h0m1-5h0m0 4h0m1 1h0m1-5h0m2 4h0m2-4h0m1 0h0m1 4h0m0-2h0m1 2h0m1-3h0m2 1h0m0 3h0m1-1h0m0-2h0m0 3h0m3 0h0m2-1h0m0-2h0m1-1h0m0 3h0m0-2h0m1-1h0m0 4h0m2 0h0m3-3h0m3 2h0m0-1h0m1-3h0m2 4h0m0-1h0m1 1h0m0 1h0m1-4h0m0 4h0m1-1h0m1-2h0m1 1h0m2 2h0m0-1h0m0-1h0m1-1h0m1 1h0m0-1h0m1-2h0m0 4h0m2-2h0m1 1h0m1 1h0m0-2h0m2 0h0m1-1h0m1 4h0m0-5h0m1 3h0m2-1h0m0-2h0m2 0h0m0 3h0m2 0h0m2 0h0m3-3h0m1 4h0m0-1h0m0-1h0m4-1h0m1 1h0m2-1h0m0 3h0m1-3h0m2 3h0m1 0h0m0-1h0m1-1h0m1 2h0m0-1h0m0-3h0m1 1h0m1 1h0m1-2h0m1 5h0m0-5h0m0 3h0m1-1h0m0 2h0m1-2h0m0-1h0m1 3h0m0-2h0m1 3h0m1-5h0m0 2h0m3-1h0m0 4h0m1-4h0m0 2h0m2 1h0m1-2h0m3 2h0m6-4h0m3 5h0m0-3h0m9-1h0m2 2h0m3 2h0m2-5h0m4 5h0m4-1h0m1 0h0m8 1h0m1-3h0m1-2h0m2 4h0m14-1h0m11 0h0m15-1h0m4 2h0m44 0h0m-380 3h0m0-1h0m0 3h0m0-1h0m1 1h0m1-3h0m0 3h0m1 0h0m1-1h0m0-2h0m0 4h0m1-4h0m0 1h0m1 0h0m0-1h0m1 4h0m0-3h0m0-1h0m1 2h0m1 0h0m0-1h0m0 4h0m0-1h0m1 0h0m1-3h0m1 0h0m0 4h0m0-2h0m1-3h0m0 4h0m0-2h0m1 2h0m1-4h0m0 4h0m1-1h0m0-2h0m2 3h0m1 1h0m0-5h0m1 1h0m0-1h0m2 4h0m1-3h0m0 4h0m1-1h0m0-3h0m0 4h0m1 0h0m1-4h0m0-1h0m1 2h0m1 2h0m1-2h0m1-1h0m0-1h0m1 1h0m0-1h0m0 4h0m2 0h0m1-1h0m0 1h0m1-4h0m0 1h0m1 1h0m1-2h0m1 1h0m0 4h0m0-1h0m1-4h0m4 4h0m1-1h0m1-3h0m1 3h0m0-2h0m1-1h0m1 2h0m1-1h0m0 1h0m2-1h0m1 0h0m0-1h0m0 3h0m1-1h0m0-1h0m0 4h0m1-1h0m0-1h0m0 2h0m1-5h0m2 2h0m2 0h0m0 3h0m0-5h0m1 1h0m0 3h0m1-3h0m0 2h0m1-3h0m1 0h0m0 4h0m1-4h0m1 0h0m1 5h0m1-2h0m1 2h0m0-2h0m1-2h0m0-1h0m0 3h0m2 0h0m2-1h0m0-1h0m1 0h0m1 0h0m0-1h0m1 5h0m0-5h0m1 5h0m0-5h0m3 1h0m1 2h0m2 0h0m0 2h0m0-5h0m0 4h0m3 0h0m2-4h0m1 3h0m0-1h0m1 0h0m1 1h0m1 1h0m0-2h0m0 3h0m1 0h0m1-4h0m0 4h0m2-5h0m0 3h0m0-1h0m3-1h0m1 3h0m1-3h0m0 3h0m1 0h0m0-1h0m1-1h0m2 2h0m0 1h0m1-4h0m1 1h0m1 1h0m2 0h0m1-3h0m3 4h0m0-2h0m1-1h0m2 4h0m5-1h0m2-2h0m0-1h0m0 3h0m4-3h0m1 2h0m1-3h0m1 1h0m0-1h0m1 2h0m0 3h0m2 0h0m0-1h0m0-1h0m0-1h0m2-2h0m3 2h0m1-1h0m0 4h0m2-3h0m1 1h0m0 1h0m1-3h0m0 1h0m1-2h0m3 1h0m0-1h0m1 2h0m0-1h0m1-1h0m1 2h0m2 3h0m3-5h0m2 4h0m0-2h0m2 1h0m1-3h0m0 2h0m2-1h0m2 0h0m3 4h0m0-5h0m1 5h0m0-5h0m0 3h0m1-1h0m0-2h0m1 5h0m1-5h0m2 5h0m0-1h0m1-2h0m0-1h0m0 4h0m0-2h0m3-1h0m0 3h0m1-4h0m1 3h0m0-1h0m1-1h0m0 2h0m1-1h0m2-2h0m1 3h0m1-3h0m1 2h0m0-1h0m0-2h0m3 0h0m4 0h0m1 0h0m3 2h0m1 2h0m1-1h0m1 2h0m2-4h0m2 1h0m0-1h0m2 4h0m0-1h0m1-4h0m1 4h0m0-1h0m0-1h0m1 2h0m0-1h0m0-1h0m1 2h0m1-2h0m1 1h0m1-2h0m1 2h0m2 2h0m2-2h0m1-1h0m0-1h0m1 2h0m0-2h0m2 0h0m0-1h0m1 2h0m1 1h0m0-2h0m0 4h0m0-1h0m1-4h0m0 3h0m1 2h0m1-3h0m1 2h0m1-1h0m3-2h0m2-1h0m3 5h0m4-1h0m1-3h0m2 3h0m0-3h0m1 1h0m0-1h0m1 3h0m0-4h0m1 4h0m1-1h0m4-1h0m1 0h0m0-1h0m0 4h0m2-1h0m3-1h0m1-1h0m1 0h0m1-2h0m2 2h0m1 0h0m1-1h0m1 2h0m2-2h0m2 3h0m3-2h0m2 0h0m0-2h0m0 4h0m15 0h0m1-1h0m8 2h0m1-4h0m1 4h0m2-1h0m2-4h0m3 2h0m2 3h0m3-4h0m7 2h0m7 1h0m18-1h0m0-1h0m22-2h0m10 1h0m-375 5h0m1 1h0m1 0h0m1 0h0m0 2h0m1 0h0m0-1h0m0-2h0m2 1h0m1 4h0m1 0h0m1-1h0m0-1h0m2 2h0m2-4h0m1 0h0m1 0h0m2 0h0m0 4h0m0-2h0m3-3h0m0 3h0m2 0h0m0-1h0m1 0h0m1 0h0m2 3h0m1 0h0m2 0h0m0-5h0m1 0h0m1 2h0m0 2h0m0-1h0m1-2h0m0-1h0m2 1h0m4 1h0m1 3h0m0-5h0m1 1h0m0-1h0m2 1h0m0-1h0m1 2h0m0 3h0m1-1h0m1-2h0m1 0h0m1 2h0m1-2h0m1 3h0m1-2h0m1 1h0m1-4h0m2 5h0m0-5h0m0 4h0m1-1h0m1 0h0m0-1h0m0 3h0m1 0h0m2 0h0m3-3h0m0-2h0m1 0h0m0 1h0m1 4h0m1-2h0m0-1h0m1 2h0m0-3h0m5-1h0m1 0h0m1 2h0m0-1h0m1 3h0m0-1h0m0-2h0m1 0h0m0 3h0m1-4h0m2 2h0m3 0h0m1 2h0m0-3h0m2 1h0m3 1h0m0-2h0m1 2h0m1-1h0m0-2h0m1 0h0m1 2h0m1-1h0m0-1h0m0 4h0m2 0h0m1-4h0m0 3h0m0-1h0m1 0h0m1 0h0m0 1h0m2 2h0m1-4h0m0 3h0m0-1h0m1 0h0m0-1h0m1-2h0m0 4h0m1 0h0m0-3h0m0 4h0m4-4h0m5 3h0m0-3h0m1-1h0m0 3h0m2-2h0m1 3h0m4-4h0m3 5h0m2-3h0m0-2h0m1 0h0m1 5h0m0-1h0m1-2h0m2-2h0m1 4h0m0-1h0m2-1h0m0-1h0m1-1h0m0 4h0m1-2h0m0 2h0m0-1h0m1-1h0m1 3h0m0-1h0m4-4h0m2 2h0m0-2h0m1 2h0m1-1h0m1 1h0m2 3h0m1-3h0m3 2h0m1-3h0m0-1h0m3 3h0m0-1h0m1 0h0m1 2h0m0-3h0m1 0h0m0-1h0m2 0h0m1 5h0m0-1h0m1-1h0m1-2h0m0-1h0m0 3h0m1 0h0m1 0h0m2-2h0m2 0h0m3 3h0m2 0h0m2 0h0m3-2h0m0 3h0m2-1h0m1-3h0m2 3h0m1-3h0m1-1h0m1 4h0m0-2h0m1 0h0m2-2h0m0 3h0m2 1h0m1 1h0m0-5h0m0 4h0m1-4h0m1 3h0m0-2h0m1 0h0m2 2h0m1-1h0m2-1h0m2 3h0m1-3h0m2 3h0m1 1h0m0-5h0m0 3h0m0-1h0m3-1h0m2 0h0m2 2h0m0 2h0m1-4h0m0 2h0m1-2h0m0 3h0m1-1h0m0-2h0m0-1h0m1 2h0m1-1h0m0-1h0m1 5h0m2-4h0m2-1h0m2 2h0m2 1h0m2 0h0m1-1h0m7 2h0m3 0h0m1-2h0m4-2h0m3 4h0m1 1h0m0-5h0m5 1h0m4-1h0m1 1h0m4 0h0m9-1h0m3 4h0m3-2h0m9-1h0m5 2h0m2-2h0m5 0h0m9 0h0m4-1h0m0 2h0m2-1h0m33 1h0m-339 4h0m1 2h0m1 1h0m0-1h0m2 3h0m4-4h0m0-1h0m0 3h0m2-2h0m1 3h0m2 1h0m4-1h0m1-1h0m1 2h0m3-3h0m4 2h0m0-2h0m1 2h0m0-1h0m1-1h0m0-2h0m2 2h0m3-1h0m1 3h0m1-3h0m1 4h0m0-1h0m1 0h0m0-2h0m3 0h0m1 2h0m2-3h0m4 4h0m2-5h0m4 1h0m2 0h0m1 3h0m1-4h0m1 2h0m1 1h0m0-2h0m3 2h0m1-3h0m3 3h0m1 0h0m0-1h0m1 1h0m1-2h0m2-1h0m0 2h0m2-1h0m3-1h0m0 2h0m3-1h0m3-1h0m0 4h0m1-4h0m3 1h0m1 2h0m1-2h0m3 1h0m4-2h0m1 4h0m9-2h0m1 1h0m7-2h0m2-1h0m13 0h0m16 1h0m10-1h0m41 0h0m2 0h0m7 0h0m18 0h0m1 1h0m6-1h0m4 0h0m7 0h0m4 1h0m28-1h0m16 0h0" stroke="#9a9a9a" stroke-width="4" stroke-linecap="round" stroke-opacity="0.42"/>
<path d="M118 1013h0m1 0h0m3 0h0m2-2h0m0 2h0m3-3h0m3 1h0m1 2h0m1-2h0m0 2h0m5-1h0m1 1h0m2-1h0m3-1h0m1 1h0m1 0h0m3-1h0m6 2h0m1 0h0m0-1h0m1-1h0m0 1h0m4 1h0m3 0h0m0-1h0m3 1h0m5-2h0m2 1h0m1 0h0m2-1h0m1 2h0m1-1h0m1 1h0m0-1h0m1 1h0m3 0h0m6-1h0m7 1h0m2-3h0m3 3h0m13-1h0m3 1h0m5-2h0m1 1h0m2-1h0m30 1h0m18 1h0m51 0h0m4 0h0m38 0h0m-255 5h0m3 1h0m2-2h0m1 1h0m0 1h0m1-3h0m0 2h0m1-1h0m1-1h0m0-1h0m1 0h0m0 2h0m1 1h0m2-3h0m1 4h0m0-4h0m1 0h0m0 3h0m5-1h0m2-2h0m1-1h0m0 2h0m5-1h0m0 4h0m0-5h0m3 5h0m1-1h0m2 0h0m3-1h0m1-1h0m0-1h0m0 4h0m0-1h0m3-3h0m1-1h0m1 1h0m1 0h0m1-1h0m0 2h0m2 1h0m3 2h0m1-3h0m0-2h0m0 3h0m1-1h0m2-1h0m1 3h0m0-4h0m2 2h0m1 0h0m1 3h0m4-3h0m1 2h0m1 1h0m1-5h0m1 0h0m0 4h0m1-2h0m1 0h0m3-1h0m0 4h0m1-3h0m0 3h0m0-5h0m0 3h0m1-2h0m2 1h0m0 2h0m1 0h0m0-1h0m1-2h0m0 4h0m1-2h0m6 1h0m0 1h0m1-4h0m0-1h0m0 4h0m1 1h0m1-5h0m0 5h0m1-1h0m2-4h0m1 2h0m2-1h0m0 4h0m1-4h0m0 4h0m1-2h0m0 2h0m1-3h0m0 3h0m0-1h0m1 0h0m0 1h0m1-5h0m2 1h0m1 2h0m2 0h0m4-1h0m6 0h0m0-2h0m7 3h0m3 1h0m1-3h0m0 3h0m4-3h0m2 4h0m1-2h0m2 2h0m1-2h0m2 1h0m1-4h0m5 4h0m5-3h0m2 0h0m0 4h0m1 0h0m2 0h0m1-1h0m4-2h0m1-2h0m1 4h0m1-3h0m1 4h0m2 0h0m1-5h0m2 1h0m1 4h0m0-1h0m1-1h0m1 1h0m1-3h0m6 2h0m1 1h0m3 1h0m0-1h0m3 1h0m1-3h0m1-2h0m1 2h0m1 1h0m3-1h0m0 3h0m0-1h0m2-4h0m3 2h0m0 3h0m3 0h0m3-1h0m2-2h0m1 2h0m2 0h0m1 0h0m1-2h0m1 0h0m4 1h0m1 2h0m2 0h0m3-3h0m8-2h0m4 0h0m2 5h0m1-3h0m6 0h0m1-2h0m0 4h0m1-4h0m0 2h0m2 2h0m3-1h0m2-2h0m0 4h0m2 0h0m1-2h0m3 2h0m3-5h0m2 5h0m5-5h0m5 0h0m0 2h0m3-2h0m5 3h0m2 2h0m8-2h0m14-2h0m6 2h0m8 2h0m-325 5h0m1-1h0m0 2h0m1-1h0m1-1h0m0 2h0m0-1h0m2 0h0m1 0h0m0-1h0m0-1h0m0-2h0m1 1h0m1 3h0m1-1h0m2-2h0m0 4h0m2-4h0m0 4h0m1 0h0m1 0h0m2-5h0m1 5h0m1-4h0m0 2h0m4 0h0m1 2h0m0-2h0m1-2h0m0 3h0m4-1h0m1 0h0m0-1h0m0-2h0m0 4h0m1 0h0m1-1h0m1-2h0m0 3h0m1-4h0m3 1h0m1 1h0m1 3h0m0-1h0m1-1h0m1 0h0m0 1h0m1 1h0m1-4h0m1 4h0m1 0h0m1-2h0m1 0h0m0 2h0m1-5h0m0 4h0m1-1h0m0 1h0m1 0h0m1-2h0m1 3h0m1 0h0m1-5h0m0 3h0m1 1h0m3-2h0m1 2h0m1-1h0m1-1h0m1-1h0m1 3h0m1-1h0m2 2h0m1 0h0m2-2h0m0-1h0m1 0h0m3-2h0m0 4h0m1 0h0m1 1h0m0-5h0m0 1h0m1 0h0m0 4h0m2 0h0m2-5h0m1 5h0m0-2h0m2 1h0m1-3h0m0-1h0m0 2h0m1 2h0m3-4h0m2 2h0m1 1h0m0-2h0m0 4h0m2-1h0m2-4h0m0 4h0m0-2h0m2 3h0m1-3h0m0-1h0m2 3h0m1-2h0m0-2h0m3 5h0m0-5h0m1 0h0m3 2h0m1 0h0m4 0h0m0-1h0m1-1h0m1 5h0m2-4h0m1 1h0m5-1h0m1 0h0m1 0h0m2 1h0m0-1h0m2 4h0m1-2h0m2 2h0m0-5h0m3 0h0m0 2h0m0-1h0m1 1h0m1 1h0m1 0h0m1-2h0m1 3h0m0-3h0m1 3h0m1-1h0m1 1h0m1 0h0m2 1h0m1-3h0m0 3h0m1-1h0m0-2h0m1 2h0m0-1h0m1 1h0m2-4h0m1 4h0m0-1h0m1 2h0m1-5h0m0 3h0m1 2h0m1-3h0m0 3h0m1 0h0m0-1h0m2 1h0m0-5h0m0 3h0m1 1h0m0-1h0m1-1h0m1 0h0m1 0h0m2-1h0m0 4h0m0-5h0m2 0h0m0 4h0m0-1h0m2 2h0m1-3h0m2 0h0m1 3h0m0-5h0m0 3h0m1-1h0m0-2h0m2 2h0m0 3h0m0-1h0m1-3h0m1 4h0m0-5h0m0 4h0m0-2h0m1 2h0m1 1h0m1 0h0m2-3h0m1 1h0m1 2h0m1-2h0m2 0h0m2-1h0m0 1h0m1 1h0m0-3h0m1 2h0m1 1h0m3-1h0m1-1h0m2 3h0m1-2h0m1 2h0m0-1h0m3-2h0m3 2h0m1 1h0m0-3h0m1-1h0m1 2h0m2 2h0m1-4h0m3 4h0m0-2h0m2-1h0m1 0h0m5 1h0m2 2h0m1-2h0m2 0h0m1-2h0m0 4h0m2 0h0m1-5h0m2 5h0m1 0h0m1-2h0m2 0h0m1 0h0m0-2h0m0 4h0m0-1h0m4-4h0m0 4h0m4 0h0m1 1h0m2-4h0m1 4h0m1-2h0m1-3h0m0 3h0m3-3h0m1 5h0m5-4h0m3-1h0m11 0h0m11 3h0m0-1h0m0 3h0m10-4h0m0 3h0m0-2h0m2 2h0m1-2h0m5 2h0m11 1h0m3-4h0m16 2h0m7-1h0m17 1h0m3 2h0m16-2h0m-384 4h0m0-1h0m3 1h0m1 0h0m0 2h0m0-1h0m1 0h0m0 3h0m0-1h0m1-4h0m0 1h0m1 0h0m0 4h0m0-5h0m0 4h0m1 1h0m1-3h0m0-1h0m1 1h0m1-1h0m0 4h0m1 0h0m0-5h0m0 4h0m1-2h0m1 2h0m0-1h0m1 2h0m1-4h0m1-1h0m0 1h0m1 1h0m0-2h0m1 1h0m0 4h0m1-2h0m1-3h0m0 3h0m2-2h0m0-1h0m1 1h0m0 2h0m1-2h0m1 0h0m1 2h0m2-2h0m0-1h0m1 0h0m1 1h0m0 2h0m2 0h0m0-2h0m2 3h0m1-3h0m1 0h0m1 0h0m1 1h0m2-2h0m1 1h0m0-1h0m1 1h0m1 1h0m1 2h0m1 1h0m0-5h0m2 1h0m0 3h0m1 1h0m1-5h0m2 1h0m2 4h0m0-1h0m1-3h0m2 0h0m3 1h0m0-2h0m1 1h0m2 0h0m1 4h0m1-5h0m1 0h0m2 2h0m1 1h0m0 2h0m1-5h0m0 3h0m2-2h0m0 4h0m0-5h0m2 4h0m1-3h0m1 4h0m0-1h0m1-4h0m0 3h0m0-2h0m1 0h0m0 1h0m2 0h0m0-1h0m1 0h0m0-1h0m1 5h0m0-1h0m1-4h0m0 2h0m1-1h0m1 2h0m0-1h0m1 1h0m1 1h0m1-4h0m0 1h0m1 0h0m1 3h0m0-1h0m2 2h0m1-2h0m0 2h0m0-5h0m1 4h0m1-3h0m1 3h0m0-4h0m1 5h0m0-2h0m1-2h0m2 0h0m0 1h0m1 0h0m0 3h0m0-5h0m1 2h0m0-1h0m0 4h0m1-1h0m1-2h0m0-2h0m1 1h0m1 2h0m0-1h0m0-1h0m0-1h0m1 4h0m0-1h0m0 2h0m1-2h0m0-1h0m1 1h0m1 2h0m2-1h0m2-4h0m1 0h0m2 3h0m1 2h0m2-2h0m2 0h0m3-2h0m2 3h0m1-2h0m0-1h0m0 4h0m0-1h0m3-3h0m2 3h0m2-2h0m2-2h0m3 5h0m1-3h0m1 1h0m0-1h0m0-2h0m6 5h0m0-1h0m1-3h0m0 4h0m1-3h0m0-2h0m1 2h0m1 3h0m1 0h0m2-2h0m1 1h0m0-3h0m1 0h0m0 1h0m1 1h0m0 2h0m0-1h0m1-4h0m5 1h0m2 4h0m2-4h0m0-1h0m0 4h0m1-2h0m0 2h0m2-4h0m0 4h0m3-4h0m1 1h0m0 4h0m1-4h0m1 1h0m0 2h0m2-2h0m0 3h0m1 0h0m2 0h0m0-5h0m1 3h0m1 1h0m2 0h0m2-4h0m1 0h0m0 4h0m0-2h0m1 3h0m1-3h0m0 3h0m0-5h0m1 0h0m0 2h0m1 0h0m0 3h0m0-1h0m1 1h0m2-4h0m1 4h0m0-2h0m1-3h0m1 3h0m0-1h0m3 1h0m1 1h0m0-2h0m1 1h0m0 2h0m0-5h0m1 1h0m4 2h0m1 0h0m1 1h0m0-2h0m1 3h0m1-4h0m0 4h0m2 0h0m0-1h0m1-3h0m1 1h0m0-2h0m3 2h0m0 2h0m1 1h0m2-3h0m0-1h0m0 4h0m1-2h0m0-2h0m0 4h0m1-5h0m0 3h0m1 0h0m0-3h0m1 4h0m1-2h0m1 1h0m0 2h0m2-2h0m1-2h0m1 3h0m1-4h0m2 5h0m1-1h0m3-4h0m1 5h0m0-1h0m2 1h0m1-1h0m1-2h0m1-2h0m0 2h0m0-1h0m1 4h0m0-1h0m1-1h0m0-1h0m0 3h0m1 0h0m0-3h0m4 2h0m2 1h0m1-4h0m0 3h0m1 1h0m4 0h0m1-5h0m1 4h0m3-1h0m0-1h0m3-1h0m7 3h0m0 1h0m3-2h0m7 2h0m2-4h0m0 3h0m9 1h0m7 0h0m1-4h0m4 4h0m5-3h0m13-1h0m18-1h0m14 0h0m4 2h0m22 2h0m6-4h0m-382 6h0m2 1h0m0-1h0m1 2h0m0-1h0m2 4h0m1-2h0m4 2h0m0-5h0m0 4h0m0-1h0m1-2h0m10 0h0m0 4h0m1-1h0m0-1h0m0-2h0m1-1h0m0 3h0m1-2h0m4 2h0m0-1h0m3-1h0m2 1h0m1 0h0m3-1h0m0-1h0m2 5h0m1-3h0m0-2h0m1 2h0m1 2h0m3 1h0m0-3h0m1 0h0m0-2h0m0 4h0m1-4h0m3 4h0m1-1h0m1 0h0m1-1h0m1 0h0m0 3h0m1-1h0m1 0h0m2-4h0m0 1h0m1 1h0m0-2h0m1 5h0m1-1h0m0-3h0m1 4h0m1-3h0m0-1h0m1-1h0m1 0h0m1 0h0m0 2h0m0-1h0m1 2h0m1-2h0m3 3h0m1 0h0m1-3h0m1 2h0m4-2h0m0 2h0m1 0h0m0 2h0m1-5h0m0 4h0m1-2h0m0 2h0m0-1h0m1 1h0m1 0h0m0-1h0m1-3h0m1 2h0m0-1h0m0-1h0m2 1h0m0 4h0m0-2h0m3 2h0m0-1h0m1-3h0m2 1h0m1-1h0m1 1h0m0-1h0m1 4h0m1-4h0m1 0h0m2 0h0m0 4h0m0-5h0m2 0h0m3 4h0m1-4h0m2 1h0m6 1h0m0-2h0m0 3h0m2 0h0m1-3h0m2 0h0m4 5h0m1-4h0m1 0h0m2 0h0m1-1h0m1 0h0m1 1h0m0 2h0m3-1h0m0 2h0m3-4h0m3 0h0m0 5h0m3-2h0m5-3h0m1 4h0m0-1h0m0-2h0m3 0h0m3-1h0m1 3h0m0 2h0m0-1h0m2 1h0m1-2h0m3 1h0m0-1h0m0 2h0m1-2h0m1 0h0m1-1h0m0-1h0m1 4h0m1-4h0m1 1h0m1 1h0m4 0h0m1-3h0m2 4h0m0-4h0m1 0h0m1 4h0m1-1h0m3 2h0m0-1h0m0-3h0m4 4h0m0-1h0m1-4h0m1 1h0m2 4h0m1 0h0m1-2h0m2-3h0m2 2h0m1 2h0m0-1h0m1-1h0m5 1h0m4 0h0m2 0h0m0-2h0m2 3h0m0-2h0m1-2h0m0 2h0m1-1h0m1-1h0m2 5h0m1-2h0m0-2h0m0-1h0m1 1h0m0-1h0m0 4h0m3 0h0m1-3h0m2-1h0m2 5h0m1-3h0m0-1h0m3 1h0m0-1h0m4 1h0m3-2h0m0 3h0m0-1h0m1 1h0m1 0h0m4 0h0m1-1h0m2 1h0m2-2h0m1 3h0m3 1h0m2-1h0m1-4h0m2 0h0m4 2h0m3-2h0m5 4h0m2-1h0m2-2h0m0-1h0m2 1h0m6 3h0m1 0h0m6 0h0m10-4h0m7 0h0m1 3h0m4-2h0m0-1h0m-294 9h0m1-2h0m4 3h0m2 0h0m8 1h0m8-3h0m2-1h0m0 2h0m1 2h0m1-2h0m0 2h0m0-5h0m2 3h0m2-2h0m0-1h0m1 4h0m2-3h0m1 3h0m2 1h0m1-4h0m1 3h0m2 0h0m0-3h0m1 4h0m1-3h0m2 2h0m4 1h0m1-3h0m1-2h0m1 0h0m0 4h0m1-2h0m1 1h0m0-3h0m1 3h0m1-3h0m2 1h0m1 2h0m0-3h0m1 1h0m1-1h0m0 4h0m1-1h0m2 0h0m2 2h0m1-5h0m3 2h0m0-1h0m1-1h0m1 0h0m1 4h0m0-1h0m0-1h0m0 3h0m4-5h0m3 3h0m1 0h0m1-2h0m15 1h0m1-1h0m4 1h0m1-2h0m13 1h0m1-1h0m9 0h0m2 0h0m3 1h0m1-1h0m8 0h0m3 1h0m15 0h0m1-1h0m3 0h0m1 1h0m8 0h0m5-1h0m27 0h0m6 0h0" stroke="#9a9a9a" stroke-width="4" stroke-linecap="round" stroke-opacity="0.42"/>
<path d="M148 947h0m1 0h0m-6 5h0m2-2h0m-12 9h0m1 0h0m3-2h0m1 0h0m0-1h0m1-1h0m1-1h0m-13 11h0m3-2h0m1-1h0m31 3h0m3-4h0m4 4h0m-47 5h0m0-1h0m3-2h0m0-1h0m1 0h0m32 2h0m4 3h0m1 0h0m2-3h0m2-1h0m2-1h0m5 4h0m1-1h0m-63 8h0m1 0h0m0-1h0m1 0h0m2-2h0m1 0h0m1-1h0m30 4h0m5-3h0m2 3h0m4-4h0m1 0h0m3 4h0m3-1h0m2-2h0m3-2h0m3 5h0m0-1h0m2-1h0m1 0h0m3-2h0m1 4h0m5-3h0m-80 9h0m1-1h0m0-1h0m2-1h0m1-1h0m1 0h0m1-1h0m30 5h0m2-1h0m3-3h0m0-1h0m1 0h0m0 5h0m3-3h0m2-1h0m3 3h0m0 1h0m2-2h0m0 1h0m4-3h0m1-1h0m1 5h0m3-2h0m1 0h0m1-1h0m0-1h0m1 0h0m1 0h0m0-1h0m1 5h0m1-1h0m1-1h0m3-1h0m2-2h0m-81 11h0m2-2h0m1 0h0m2-2h0m32 4h0m1 0h0m2-2h0m2-1h0m2 2h0m4-3h0m2 4h0m1-1h0m3-3h0m2 4h0m2-5h0m0 4h0m1 0h0m0-1h0m2-1h0m0 3h0m1-4h0m1 4h0m1-2h0m3 0h0m0-1h0m2 0h0m2-2h0m-40 11h0m3-2h0m2-2h0m0 3h0m1 0h0m2-2h0m0-1h0m5 2h0m1-1h0m1 3h0m2-5h0m1 4h0m4 1h0m1-1h0m0-3h0m0-1h0m2 2h0m1 0h0m1-1h0m1 0h0m1-1h0m0 1h0m-35 10h0m1-1h0m0-1h0m2 0h0m1-2h0m2 2h0m1-1h0m2-2h0m2 4h0m2-3h0m2-1h0m2 4h0m3-4h0m1 0h0m2 3h0m1 0h0m2-3h0m-69 7h0m2-1h0m34 4h0m1 0h0m1-2h0m2 0h0m0-1h0m1 4h0m0-5h0m1 4h0m1-4h0m1 3h0m1-2h0m2 4h0m3-4h0m1 0h0m2 3h0m0-1h0m2-2h0m1 4h0m1 0h0m0-5h0m0 4h0m1-1h0m-25 5h0m1-1h0m3 2h0m1 0h0m3 1h0m1-1h0m1-2h0m0 2h0m1 2h0m1-5h0m1 4h0m6-1h0m1-2h0m-24 10h0m1-1h0m2-2h0m0 3h0m1-4h0m0 4h0m0-5h0m2 3h0m2-2h0m0 4h0m1 0h0m0-1h0m5 0h0m2-1h0m-21 7h0m1-2h0m2-2h0m1 4h0m2-2h0m2-1h0m0-1h0m1 3h0m2-1h0m0 3h0m1 0h0m1-5h0m3 1h0m1-1h0m-20 6h0m2 2h0m2-2h0m0 1h0m1 3h0m1-2h0m1 2h0m3-1h0m2 1h0m1 1h0m1-5h0m2 3h0m-10 4h0m0-1h0m2 1h0m0 1h0m1 1h0m2-2h0m0 4h0m0-5h0m1 2h0m1 1h0m3-1h0m1 0h0m1 1h0m1-3h0m0 4h0m4-1h0m-12 8h0m1-5h0m1 1h0m1 0h0m3 3h0m1-3h0m1 1h0m1 0h0m2-2h0m1 0h0m3 0h0m1 4h0m1-3h0m0 4h0m1-3h0m1 1h0m1 0h0m1 0h0m0 1h0m-20 2h0m3 3h0m1 0h0m0 1h0m3-4h0m1 1h0m1 0h0m2 3h0m6-3h0m0-1h0m0 3h0m3 0h0m4 2h0m1-3h0m2 2h0m0-1h0m1 2h0m1 0h0m-59 3h0m1 0h0m36-2h0m2 2h0m1 1h0m1 1h0m0-1h0m0 2h0m6-2h0m1 1h0m0-1h0m1 2h0m1-5h0m0 1h0m1 0h0m1 1h0m1 1h0m1 1h0m1-3h0m0 4h0m1-4h0m1 1h0m1-2h0m0 4h0m2 1h0m7 0h0m-25 1h0m1 0h0m1 2h0m2 0h0m5-2h0m5 4h0m2-3h0m2 2h0m2-3h0m3 3h0m1-1h0m0-2h0m4 3h0m3 1h0m-55 7h0m2 0h0m29-5h0m1 1h0m3 3h0m5-4h0m1 1h0m1 1h0m5-2h0m0 1h0m0 4h0m1-4h0m11 0h0m0 3h0m1 1h0m4-2h0m-60 5h0m1 1h0m0-1h0m2 2h0m2 1h0m28-4h0m1 1h0m1 0h0m2 3h0m7-5h0m2 1h0m4 4h0m0-1h0m3-2h0m3-2h0m1 0h0m1 1h0m0 4h0m0-5h0m4 0h0m2 5h0m1-3h0m0 3h0m3-1h0m0-1h0m2 2h0m-64 2h0m0-1h0m1 1h0m0 1h0m1 0h0m1 1h0m1 0h0m1 1h0m1 1h0m27-4h0m1 0h0m0 1h0m1 1h0m0-2h0m1 2h0m2 2h0m9-4h0m1 1h0m0-1h0m3 3h0m2 1h0m0-5h0m0 4h0m1-4h0m2 2h0m1 0h0m1 2h0m1 0h0m1 1h0m2-4h0m1 1h0m1 1h0m1 0h0m1 2h0m1-4h0m1 2h0m0 2h0m2-2h0m2 1h0m-64 3h0m2 2h0m2 2h0m1 0h0m25-5h0m1 0h0m2 2h0m1 2h0m1 1h0m16-1h0m2-4h0m3 2h0m3 2h0m2 1h0m6-5h0m-62 6h0m1 0h0m2 1h0m1 2h0m3 2h0m26-4h0m1 1h0m2 2h0m1 1h0m14-4h0m-43 5h0m3 2h0m1 0h0m1 2h0m0-1h0m1 2h0m0-1h0m23-4h0m2 1h0m1 1h0m-23 5h0m1 0h0m0 1h0m1 0h0m1 1h0m2 2h0m1 0h0m0 1h0m2 1h0m0-1h0" stroke="#999" stroke-width="4.6" stroke-linecap="round" stroke-opacity="0.85"/>
<path d="M177.6 978.3L184.7 977.7L191.9 977.2L199.0 976.8L206.1 978.4L213.2 979.9L220.3 981.2L227.4 982.4L234.6 983.6L241.7 984.6L248.8 985.7L255.9 986.7L263.0 987.7L270.2 988.7L277.3 989.7L284.4 990.8L291.5 991.8L298.6 992.7L305.7 993.5L312.9 994.3L320.0 995.2L327.1 996.0L334.2 996.8L341.3 997.7L348.4 998.5L355.6 1000.2L362.7 1002.1L369.8 1004.1L376.9 1006.0L384.0 1007.9L384.0 1012.5L376.9 1012.6L369.8 1012.6L362.7 1012.6L355.6 1012.6L348.4 1012.6L341.3 1012.6L334.2 1012.6L327.1 1012.6L320.0 1012.6L312.9 1012.6L305.7 1012.6L298.6 1012.6L291.5 1012.5L284.4 1012.4L277.3 1012.3L270.2 1012.2L263.0 1012.1L255.9 1012.0L248.8 1011.9L241.7 1011.8L234.6 1011.3L227.4 1010.3L220.3 1009.2L213.2 1007.1L206.1 1004.3L199.0 1001.5L191.9 995.9L184.7 989.5L177.6 983.0Z" fill="#3A7CC6" fill-opacity="0.92"/>
<path d="M178 923h0m-2 2h0m0-1h0m-9 8h0m0 1h0m23 2h0m12 0h0m-42 4h0m68 1h0m38 1h0m-112 1h0m28 2h0m-7 7h0m23-3h0m51 2h0m-81 9h0m4-5h0m34 5h0m-22 3h0m25 3h0m-15 4h0m3 1h0m4-2h0m26 1h0m152-3h0m-201 8h0m18 3h0m6-5h0m3 0h0m10 4h0m2-1h0m13 0h0m1-2h0m1 4h0m32 0h0m12-1h0m76-4h0m12 2h0m-184 7h0m19 2h0m21-2h0m1 1h0m11-1h0m4-1h0m1 1h0m3-3h0m22 1h0m-75 8h0m10-2h0m4 0h0m33 4h0m2-2h0m18-1h0m18-1h0m6 3h0m7-2h0m-91 5h0m4-1h0m17 5h0m3 0h0m9 0h0m1-5h0m3 1h0m34 0h0m17 0h0m21 1h0m17 1h0m11 1h0m7 0h0m-136 7h0m0-5h0m3 1h0m3-1h0m1 4h0m4-2h0m9-1h0m1 4h0m2-2h0m0-1h0m1 3h0m1-1h0m3-1h0m1-1h0m3-2h0m5 5h0m3 0h0m9-1h0m1 1h0m8-2h0m14 1h0m1-4h0m5 4h0m3-1h0m3 1h0m1-3h0m3 3h0m4 1h0m3 0h0m1 0h0m4-4h0m17 4h0m10 0h0m9 0h0m0-1h0m7-2h0m4 0h0m1 3h0m5-2h0m14 1h0m0 1h0m24-1h0m14-4h0m-188 9h0m0-3h0m2 5h0m1-4h0m0 4h0m3-4h0m7 2h0m2 0h0m1-3h0m1 1h0m2 2h0m2-1h0m3 3h0m3-1h0m6 1h0m3-3h0m1 2h0m0 1h0m1-1h0m2-3h0m4 4h0m3-1h0m1-1h0m2 0h0m0 2h0m1-1h0m2-1h0m4 0h0m24-2h0m1 3h0m3 1h0m0-3h0m5-2h0m1 1h0m9 4h0m18-2h0m1 2h0m17-1h0m1 1h0m3-4h0m2 3h0m3 0h0m4-3h0m2 2h0m4 0h0m4 1h0m2-4h0m15 0h0m4 2h0m16 1h0m0 2h0m26 0h0m-215 1h0m13 0h0m0 1h0m0 2h0m2 0h0m6-2h0m5 0h0m13 2h0m7-1h0m8-1h0m11 1h0m0-1h0m4-1h0m4 1h0m9 0h0m1 0h0m3-1h0m5 2h0m0 1h0m10-1h0m1 2h0m4-2h0m6-2h0m14 2h0m5 1h0m1 0h0m4-1h0m0 1h0m4-3h0m2 2h0m14 1h0m2-2h0m7 1h0m9 1h0m3-3h0m20 2h0" stroke="#3A7CC6" stroke-width="7.4" stroke-linecap="round" stroke-opacity="0.5"/>
<path d="M319 908h0m-142 15h0m-7 6h0m6-5h0m-7 6h0m-13 11h0m3-3h0m-6 5h0m27 3h0m21-1h0m5 5h0m20 2h0m28-2h0m7 2h0m-92 6h0m2-2h0m0-1h0m25 2h0m59 0h0m11-3h0m-94 9h0m29-1h0m41-1h0m-62 10h0m8 0h0m18-4h0m9 4h0m5-3h0m27-1h0m6 2h0m4 0h0m12 2h0m9-3h0m24 3h0m28-5h0m-145 9h0m7 2h0m1-1h0m23-4h0m14 4h0m24 1h0m-58 5h0m3-2h0m1 1h0m7 2h0m3-3h0m15 2h0m27-1h0m-64 3h0m6 2h0m3-1h0m4-1h0m21 3h0m22 1h0m30 1h0m26 0h0m3-5h0m36 0h0m14 1h0m41 3h0m-203 2h0m3 5h0m1-4h0m3 1h0m6 0h0m5-1h0m3 0h0m1 1h0m15-2h0m5 2h0m8 1h0m15-3h0m6 3h0m10 1h0m9 0h0m17-1h0m29-2h0m12 2h0m7 1h0m5-2h0m17 0h0m13 0h0m23-1h0m-208 5h0m1 2h0m7 1h0m1-2h0m2 3h0m8 0h0m3 0h0m1-4h0m12 0h0m1 1h0m3 4h0m10-1h0m5-2h0m23 1h0m8-1h0m1-1h0m13 4h0m4-3h0m2-2h0m16 4h0m7-2h0m5 1h0m7-2h0m2 2h0m5-2h0m9 3h0m21-3h0m7 1h0m1-1h0m11 2h0m-183 4h0m8 2h0m5-3h0m6 4h0m7 0h0m0 1h0m1-5h0m3 5h0m5-4h0m5-1h0m5 5h0m1 0h0m6-2h0m13 2h0m8-4h0m5 2h0m0 2h0m8-3h0m9 1h0m3 1h0m7 1h0m2-5h0m4 3h0m7-1h0m2 2h0m5-4h0m1 4h0m12-4h0m9 5h0m11 0h0m4-3h0m5 3h0m0-5h0m12 5h0m4-4h0m24-1h0m11 5h0m11-2h0m0-1h0m-212 4h0m1 0h0m3 0h0m4 1h0m2-1h0m1 0h0m4 1h0m3 1h0m2 0h0m7 0h0m2-1h0m11 2h0m4 0h0m2 0h0m11-1h0m0-1h0m1 0h0m0 1h0m3-2h0m3 3h0m9-1h0m1-2h0m8 3h0m3-2h0m13 2h0m4-2h0m14 2h0m2-3h0m5 3h0m11-2h0m3 0h0m1-1h0m1 3h0m5-3h0m1 0h0m4 2h0m4 0h0m7 1h0m1-1h0m5-1h0m1-1h0m26 0h0m11 1h0m3-1h0" stroke="#3A7CC6" stroke-width="7.4" stroke-linecap="round" stroke-opacity="0.5"/>
<path d="M223 913h0m3 11h0m-62 11h0m4-4h0m21 4h0m-32 5h0m123-3h0m-129 8h0m29 1h0m2 3h0m31 2h0m-46 8h0m2-1h0m1-1h0m2-2h0m8 0h0m144 3h0m-152 4h0m42 0h0m23-2h0m23 1h0m-81 7h0m10 2h0m6-1h0m65 0h0m-82 7h0m8-4h0m11 2h0m11 0h0m26 0h0m91 2h0m13 0h0m14-2h0m-173 5h0m22 1h0m1 0h0m3-2h0m53 1h0m7 3h0m6 1h0m13-1h0m15-3h0m16 4h0m17-2h0m-144 8h0m2-3h0m11 1h0m7 2h0m8 0h0m12-2h0m5 2h0m11-2h0m1 1h0m6-1h0m6-2h0m15 3h0m12-1h0m10 1h0m11 1h0m5-2h0m17-3h0m32 2h0m11 2h0m-181 3h0m5 0h0m7 3h0m3-2h0m6-2h0m14 3h0m23 0h0m2-3h0m16 3h0m7-2h0m1 3h0m11-4h0m23 2h0m2 2h0m1-4h0m4 0h0m5 3h0m8-3h0m5 4h0m2 0h0m13-1h0m6-1h0m14 0h0m2 2h0m68 1h0m-239 3h0m1 0h0m6 2h0m1 0h0m4-3h0m5 4h0m22-3h0m1-2h0m1 5h0m10-5h0m9 0h0m0 4h0m1-4h0m2 2h0m7-2h0m9 3h0m0 2h0m6 0h0m15-5h0m17 3h0m4-1h0m1 0h0m12 1h0m9 1h0m16-3h0m18 4h0m14-3h0m29 3h0m-202 1h0m2 1h0m7 4h0m1-4h0m2 2h0m2 0h0m2-3h0m1 3h0m0-1h0m2-1h0m0 2h0m4 1h0m3 1h0m8-3h0m1-1h0m6 2h0m5 1h0m3-1h0m9 2h0m0-5h0m2 3h0m0 1h0m2 1h0m4-1h0m5-3h0m10 1h0m5 3h0m4-2h0m3-1h0m1 1h0m8 1h0m9 0h0m4 1h0m3-3h0m0-1h0m2 2h0m0 2h0m7-4h0m1-1h0m10 2h0m7 1h0m0 2h0m2-1h0m10-3h0m11 2h0m2-2h0m6-1h0m14 5h0m23-4h0m0 3h0m9-3h0m-216 5h0m22 1h0m3 1h0m5-1h0m1 0h0m3 0h0m3-1h0m11 0h0m2 3h0m5-3h0m7 4h0m0-1h0m3 0h0m2-1h0m12-1h0m31 2h0m1-1h0m4 0h0m1 1h0m1-1h0m5-1h0m5 2h0m1-1h0m2-1h0m6 2h0m14-2h0m19 2h0m16 0h0m11-1h0m6 1h0m8 0h0" stroke="#3A7CC6" stroke-width="7.4" stroke-linecap="round" stroke-opacity="0.5"/>
<path d="M179.6 1077.4L186.4 1078.7L193.3 1076.5L200.2 1074.6L207.0 1073.0L213.9 1071.5L220.7 1070.6L227.6 1070.4L234.4 1070.2L241.3 1069.7L248.1 1068.9L255.0 1068.0L261.9 1067.2L268.7 1066.4L275.6 1065.6L282.4 1064.8L289.3 1063.9L296.1 1063.2L303.0 1062.5L309.8 1061.9L316.7 1061.3L323.6 1060.6L330.4 1060.0L337.3 1059.3L344.1 1058.7L351.0 1057.8L357.8 1055.3L364.7 1052.7L371.5 1050.1L378.4 1047.6L378.4 1039.0L371.5 1039.0L364.7 1039.0L357.8 1039.0L351.0 1039.0L344.1 1039.0L337.3 1039.0L330.4 1039.0L323.6 1039.0L316.7 1039.0L309.8 1039.0L303.0 1039.0L296.1 1039.0L289.3 1039.0L282.4 1039.1L275.6 1039.2L268.7 1039.3L261.9 1039.4L255.0 1039.5L248.1 1039.6L241.3 1039.7L234.4 1040.2L227.6 1041.1L220.7 1042.0L213.9 1044.1L207.0 1047.4L200.2 1050.7L193.3 1056.1L186.4 1063.1L179.6 1069.5Z" fill="#E8202A" fill-opacity="0.92"/>
<path d="M228 1043h0m4-1h0m1 1h0m1 0h0m2-1h0m1 0h0m5 1h0m4-1h0m9 1h0m1-2h0m3 2h0m1-1h0m0-1h0m1 1h0m3 1h0m1 0h0m1-1h0m1 1h0m0-1h0m1 1h0m2-1h0m5-1h0m1 2h0m1-2h0m1 0h0m0 2h0m2-1h0m1-1h0m0 2h0m2-1h0m1 0h0m1-1h0m1 0h0m3 0h0m2 0h0m2 1h0m3-1h0m2 0h0m2 0h0m2 2h0m1-1h0m1-2h0m0 3h0m1-2h0m1-1h0m1 3h0m1-2h0m0-1h0m2 2h0m2-2h0m2 2h0m5 0h0m0-1h0m3-1h0m1 3h0m2 0h0m0-1h0m3-1h0m0-1h0m7 3h0m1-3h0m1 3h0m0-2h0m1-1h0m1 1h0m0 2h0m7-1h0m1 0h0m0-1h0m1 1h0m0-1h0m1-1h0m2 3h0m0-2h0m1 2h0m2-2h0m2 0h0m1 2h0m2-3h0m1 1h0m2 0h0m1 2h0m3 0h0m2-1h0m1-1h0m0-1h0m1 0h0m2 3h0m1-3h0m0 3h0m2-3h0m0 2h0m1 0h0m4-1h0m2-1h0m0 3h0m1-1h0m1 0h0m2-1h0m2 0h0m1 0h0m2 2h0m10-3h0m6 3h0m4-1h0m3 1h0m2-1h0m3-2h0m10 2h0m1-1h0m-223 7h0m1 1h0m2-2h0m1 1h0m0-1h0m3 2h0m4-5h0m1 0h0m1 5h0m1-5h0m0 4h0m2-1h0m3 2h0m0-1h0m1-4h0m2 4h0m1 0h0m2 1h0m1 0h0m3-4h0m2 3h0m2-2h0m0 3h0m1-4h0m1 1h0m0-2h0m0 3h0m1 1h0m4-4h0m0 2h0m2 0h0m2 3h0m0-1h0m1-2h0m0-1h0m1 4h0m1-5h0m3 2h0m1-1h0m1 3h0m2-4h0m1 1h0m0-1h0m1 0h0m0 4h0m0-1h0m1-2h0m0 2h0m1-3h0m2 0h0m2 0h0m0 4h0m5-2h0m2-2h0m1 4h0m0-1h0m1 1h0m4 1h0m1-4h0m2 4h0m3-4h0m2 4h0m3-2h0m0 2h0m1-4h0m4 3h0m0-1h0m1-2h0m0-1h0m0 2h0m2 2h0m2-4h0m1 0h0m5 1h0m0-1h0m7 4h0m5 0h0m2 1h0m1-4h0m0 4h0m1-5h0m7 1h0m1-1h0m6 1h0m0-1h0m0 4h0m1-1h0m3-2h0m2 0h0m0 4h0m1-4h0m0 3h0m2 0h0m0-1h0m3-2h0m0 4h0m0-1h0m4-2h0m1 1h0m7 2h0m11-5h0m2 0h0m2 0h0m6 3h0m3-3h0m5 5h0m2-3h0m1 1h0m6 2h0m1-2h0m3-3h0m2 3h0m4-2h0m8 2h0m8-3h0m-232 11h0m1 0h0m3 0h0m5-2h0m1-1h0m0 1h0m3-2h0m1 4h0m0-3h0m3-2h0m2 2h0m0 3h0m1-2h0m1 0h0m1-2h0m1 4h0m2-5h0m0 3h0m0-2h0m7 4h0m5-4h0m2 2h0m3-1h0m2 2h0m2-3h0m3 1h0m2-1h0m1 4h0m1 0h0m0-2h0m4-3h0m5 0h0m3 2h0m3 3h0m2-4h0m1 3h0m4 0h0m1-1h0m0-3h0m2 3h0m13 1h0m2-4h0m0 1h0m4 2h0m1 2h0m2-5h0m4 5h0m0-2h0m4-2h0m1 0h0m1 2h0m1 1h0m1-2h0m1 1h0m18-3h0m0 2h0m1 3h0m0-4h0m2 2h0m8-2h0m1 3h0m2 1h0m3 0h0m6-4h0m0 4h0m0-5h0m7 1h0m3-1h0m5 2h0m4 2h0m53-1h0m7 1h0m-239 7h0m2 0h0m1-3h0m1 1h0m0 2h0m2 0h0m0-5h0m0 3h0m3 0h0m2 0h0m1 0h0m0-2h0m3-1h0m1 4h0m1-4h0m0 3h0m1 2h0m1-5h0m5 0h0m3 5h0m1-5h0m1 4h0m4 1h0m0-5h0m1 3h0m1 0h0m4-1h0m1 3h0m4-4h0m0 2h0m8 1h0m3-3h0m1 1h0m5-2h0m4 1h0m1-1h0m1 5h0m0-5h0m1 1h0m1 0h0m2-1h0m1 0h0m3 2h0m2 2h0m1-3h0m11 3h0m9-3h0m3 1h0m5 1h0m6-1h0m3 1h0m1-1h0m0 3h0m2 0h0m2-3h0m3-1h0m0 3h0m3 0h0m1-4h0m21 3h0m7-1h0m44 0h0m26-2h0m-226 7h0m0 3h0m2-3h0m1 2h0m0-1h0m4 3h0m1-2h0m1 0h0m4-3h0m2 0h0m2 2h0m11 0h0m2 3h0m2-2h0m4-2h0m12 2h0m2-3h0m13 1h0m3 3h0m1-4h0m0 3h0m0-1h0m4 3h0m3-5h0m5 1h0m1 4h0m2-4h0m1 4h0m9-3h0m1 2h0m2-2h0m1-1h0m2 0h0m29 2h0m12 1h0m3 1h0m-146 3h0m1 3h0m1-1h0m1 0h0m2 1h0m1-5h0m5 0h0m1 2h0m2 1h0m9-1h0m1 3h0m8-1h0m1 1h0m4-3h0m2-1h0m8 1h0m11 0h0m0 3h0m15-4h0m5 0h0m4-1h0m13 0h0m7 4h0m23 0h0m6-3h0m-135 7h0m2-1h0m2 4h0m1-3h0m2-2h0m4 4h0m4-2h0m3 2h0m1 1h0m17-4h0m5 1h0m16-2h0m3 1h0m7 1h0m3 1h0m-67 4h0m1 0h0m9 0h0m0 4h0m5-5h0m0 4h0m4-1h0m9 2h0m36-4h0m-44 5h0m62 1h0m85 1h0m-168 8h0m12-2h0m0 2h0m2-1h0m11-1h0m4 2h0m1-4h0m0 1h0m40 3h0m27-4h0m142 1h0m-246 9h0m12-4h0m-10 6h0m3 1h0m156-1h0m-176 10h0m24-4h0m1 0h0m2 5h0m2-1h0m43-4h0m55 1h0m-121 8h0m2 2h0m36-3h0m1-2h0m67 2h0m-101 6h0m4 3h0m0-1h0m3 0h0m26-1h0m28-1h0m-54 6h0m4 2h0m84-1h0m-81 4h0m2 1h0m4 3h0m7 6h0m0 1h0m7 5h0m1 1h0m1 1h0m1 1h0m10 9h0m1 0h0m4 3h0m3 3h0m12 9h0m0 1h0m3 2h0m1 1h0m1 1h0m40 32h0" stroke="#E8202A" stroke-width="7.4" stroke-linecap="round" stroke-opacity="0.5"/>
<path d="M221 1043h0m4 0h0m3 0h0m2 0h0m0-1h0m1 0h0m1 1h0m13-2h0m1 2h0m0-1h0m0-1h0m3 0h0m1 2h0m3-2h0m2 2h0m1-2h0m3 1h0m3-1h0m2 0h0m1 0h0m3 0h0m2 1h0m1-1h0m3 2h0m0-3h0m4 3h0m8-3h0m2 0h0m0 3h0m5 0h0m0-3h0m1 3h0m1 0h0m2-1h0m7-2h0m3 3h0m1-2h0m1-1h0m1 3h0m4 0h0m1-1h0m2-1h0m1-1h0m1 0h0m2 3h0m0-2h0m1 1h0m0-2h0m1 3h0m0-1h0m1 1h0m3-1h0m2-1h0m1 0h0m1 2h0m2 0h0m2-3h0m0 3h0m1 0h0m3-2h0m2 0h0m0-1h0m2 1h0m1 0h0m2 2h0m1-3h0m1 3h0m2 0h0m1-1h0m1-2h0m1 0h0m1 2h0m3-2h0m4 0h0m2 1h0m2 2h0m0-1h0m1-2h0m5 3h0m5 0h0m1-1h0m1 0h0m2 1h0m2-2h0m1 1h0m0-1h0m1 1h0m8 1h0m1-1h0m2-1h0m2 2h0m3-2h0m1 0h0m9 1h0m5 0h0m2 1h0m-211 6h0m5-1h0m5-1h0m0 2h0m2-4h0m1 2h0m1-2h0m1-1h0m1 0h0m1 3h0m1-1h0m1 2h0m0-3h0m2 0h0m1 1h0m3 2h0m0-1h0m1 1h0m1 1h0m1-3h0m0-2h0m2 1h0m2 0h0m1-1h0m1 2h0m0-1h0m2 3h0m1-1h0m0-1h0m2-1h0m0 2h0m1-2h0m2 0h0m0-1h0m3 1h0m1 0h0m1 3h0m1-1h0m0-2h0m1 4h0m1-1h0m2-4h0m4 3h0m1-3h0m0 3h0m1-2h0m1 3h0m1-3h0m0 4h0m0-3h0m3 3h0m0-2h0m4-3h0m1 2h0m5 2h0m1 0h0m1-2h0m2 0h0m1-2h0m1 4h0m0-1h0m2-1h0m1-1h0m0 2h0m3-3h0m1 1h0m1-1h0m1 5h0m1-3h0m4-1h0m0 4h0m1-1h0m1 0h0m0-2h0m0-2h0m1 1h0m0-1h0m1 2h0m2 1h0m1-1h0m0-1h0m3 4h0m4-4h0m1 2h0m1 2h0m2-3h0m3 2h0m2 0h0m2-1h0m4-2h0m1-1h0m1 4h0m0-3h0m0-1h0m2 1h0m3 1h0m1-1h0m1-1h0m0 2h0m1-2h0m1 1h0m1 4h0m0-3h0m2 2h0m2 1h0m0-5h0m2 0h0m2 3h0m1 0h0m0-3h0m3 2h0m1 3h0m1-4h0m0 3h0m1-1h0m2-2h0m0-1h0m0 4h0m2-4h0m0 2h0m1-1h0m5 3h0m1-3h0m2 1h0m1 2h0m2-4h0m0 4h0m3 0h0m1 0h0m2 1h0m6 0h0m0-3h0m3 1h0m3 0h0m7-1h0m0-1h0m3-1h0m2 5h0m0-5h0m9 1h0m4 0h0m2 2h0m4 2h0m2-4h0m-226 10h0m1 0h0m3-3h0m1 3h0m1 0h0m1-3h0m2 0h0m2-2h0m0 3h0m1-3h0m2 1h0m1 2h0m3 1h0m1-3h0m4 0h0m4 2h0m0-1h0m2 0h0m3-1h0m5 4h0m2-3h0m0 1h0m2-2h0m1-1h0m6 3h0m0 1h0m3 0h0m7-3h0m1-1h0m4 5h0m2-3h0m2 3h0m0-5h0m5 2h0m4 3h0m0-1h0m2 1h0m2-4h0m0 4h0m0-1h0m1-1h0m3-2h0m3 4h0m0-3h0m3 2h0m2 0h0m0-1h0m3-1h0m1 0h0m3-2h0m3 3h0m2-1h0m7 1h0m1 1h0m0-2h0m2 0h0m1 1h0m7 0h0m1-3h0m2 4h0m4 0h0m1-4h0m0 2h0m4 0h0m4-1h0m2 1h0m5 0h0m2 1h0m1-1h0m1-1h0m2 4h0m1-5h0m1 5h0m2-4h0m8 3h0m9-4h0m8 4h0m7-3h0m21 0h0m5-1h0m5 3h0m9-1h0m-229 7h0m2 2h0m0-1h0m5 0h0m0-3h0m5 2h0m1 0h0m1-2h0m1 1h0m1 1h0m10 0h0m1-3h0m3 4h0m4 0h0m1-2h0m0-1h0m3-1h0m5 5h0m6-1h0m2-1h0m7-1h0m5 2h0m3 0h0m3-4h0m1 5h0m10-3h0m4 2h0m6-3h0m2 3h0m20-1h0m2 1h0m10-4h0m2 1h0m1 2h0m10-3h0m8 2h0m9 1h0m1 2h0m15-5h0m4 0h0m25 0h0m1 1h0m-207 10h0m11-5h0m2 2h0m1-2h0m0 4h0m2-4h0m0 4h0m0-1h0m4 0h0m1-1h0m1 1h0m6 2h0m4-2h0m12-2h0m0 3h0m39-1h0m18 1h0m0-1h0m24 1h0m7-3h0m1 0h0m2 1h0m13 0h0m7 0h0m1 0h0m7-2h0m1 2h0m-172 7h0m3 2h0m2-3h0m2-2h0m1 5h0m3-4h0m6 3h0m3 0h0m1-1h0m3 0h0m2-2h0m6 1h0m18 0h0m14-1h0m13 0h0m9 0h0m3-1h0m13 4h0m13-4h0m12 3h0m-127 6h0m1 0h0m2-3h0m2 0h0m2 0h0m2 3h0m1-2h0m1 2h0m1-2h0m4 3h0m4 0h0m4 0h0m11-4h0m6 3h0m36-1h0m1-2h0m-75 6h0m0 3h0m1 1h0m0-2h0m20-1h0m3 1h0m28 3h0m1-5h0m3 3h0m17 1h0m9 0h0m28-3h0m-105 5h0m10 2h0m24 1h0m8-3h0m48 0h0m18 4h0m15-4h0m-119 8h0m20 0h0m-42 4h0m7 5h0m77-5h0m53 1h0m-127 6h0m1 4h0m-25 1h0m32 5h0m1-1h0m-25 3h0m2 1h0m2 3h0m25-5h0m-20 9h0m2 1h0m1 1h0m34-5h0m-27 11h0m1 0h0m33-1h0m-30 4h0m3 3h0m1 1h0m2 1h0m0-1h0m1 2h0m0-1h0m5 5h0m1 0h0m3 3h0m2 2h0m9 6h0m4 5h0m5 4h0m10 8h0m0-1h0m4 4h0m1 2h0m0-2h0" stroke="#E8202A" stroke-width="7.4" stroke-linecap="round" stroke-opacity="0.5"/>
<path d="M236 1042h0m1 1h0m1-2h0m2 0h0m6 1h0m0-1h0m1 1h0m1 1h0m0-1h0m6 1h0m1-2h0m4 0h0m1 0h0m4 0h0m3 2h0m1-2h0m2 1h0m1 0h0m0-1h0m2 2h0m0-1h0m1 1h0m0-2h0m2 0h0m0-1h0m1 0h0m2 3h0m0-1h0m0-1h0m5 0h0m1 2h0m2-2h0m2 0h0m1 1h0m2-2h0m1 3h0m0-1h0m1-2h0m1 1h0m0-1h0m1 1h0m3 0h0m1-1h0m3 2h0m4-2h0m0 2h0m2-1h0m0-1h0m1 0h0m0 2h0m3 1h0m1-1h0m5 0h0m1-2h0m1 2h0m0-1h0m1 1h0m1-2h0m0 2h0m3-1h0m1 0h0m3 0h0m1 2h0m1-2h0m3 0h0m0-1h0m1 1h0m1-1h0m1 1h0m5 1h0m5 0h0m1-1h0m3 0h0m4 0h0m1-1h0m0 3h0m1-3h0m2 2h0m1-1h0m2 1h0m3-2h0m1 1h0m1 2h0m2-3h0m1 2h0m0-2h0m3 2h0m0 1h0m4-1h0m1-2h0m2 0h0m1 1h0m6 1h0m5-1h0m8 1h0m9 1h0m0-3h0m12 3h0m-214 6h0m2-1h0m1 1h0m6-3h0m1 2h0m3-4h0m2 3h0m1 0h0m0-3h0m1 3h0m5 2h0m3-5h0m2 1h0m0-1h0m1 0h0m1 1h0m0-1h0m1 4h0m0-2h0m4-1h0m0-1h0m3 1h0m2 0h0m0 4h0m1-4h0m0 3h0m6 0h0m0-2h0m1 1h0m1-2h0m3 4h0m1-1h0m0-2h0m2-1h0m3-1h0m1 1h0m2-1h0m1 4h0m2-3h0m0-1h0m1 2h0m1 0h0m2 1h0m2 0h0m3 2h0m1 0h0m5-2h0m1-2h0m0-1h0m1 2h0m1 0h0m0 2h0m1-1h0m0-3h0m1 1h0m1 0h0m1 0h0m0-1h0m1 2h0m1 1h0m0-3h0m2 5h0m2-5h0m1 2h0m2-1h0m1 1h0m6 2h0m3 0h0m1 0h0m1-1h0m1 0h0m1 0h0m1-2h0m1 2h0m5-3h0m1 3h0m1 2h0m4-4h0m1 0h0m1 0h0m0 3h0m2-4h0m1 1h0m1 4h0m1-2h0m0-2h0m0 4h0m1-5h0m3 3h0m2-3h0m2 3h0m2 0h0m1-1h0m1 3h0m1-3h0m2 0h0m2 0h0m1-2h0m0 3h0m2 2h0m4-5h0m5 3h0m2-3h0m1 0h0m4 1h0m4 0h0m4-1h0m4 0h0m2 5h0m1 0h0m4 0h0m1-1h0m6-1h0m6-2h0m5-1h0m2 3h0m9-3h0m7 0h0m2 1h0m57 0h0m-287 10h0m1-3h0m1 3h0m1-2h0m4-1h0m0-1h0m2 1h0m0-1h0m3-1h0m0 4h0m2-3h0m5 2h0m2 2h0m0-4h0m1 0h0m1 3h0m2-4h0m1 3h0m0-1h0m2 1h0m0 2h0m1 0h0m5-3h0m2 1h0m1 2h0m5-2h0m0-2h0m6-1h0m0 5h0m2-1h0m1-1h0m0-1h0m1 2h0m1 0h0m6-4h0m0 4h0m4-2h0m2-2h0m1 0h0m4 5h0m2-3h0m3 0h0m9 1h0m0-1h0m3-2h0m1 0h0m1 1h0m1 3h0m3-3h0m0 3h0m2 1h0m4-3h0m5 0h0m0-1h0m0-1h0m5 1h0m4-1h0m2 5h0m2-2h0m0-2h0m1-1h0m10 2h0m5-1h0m4-1h0m2 0h0m3 5h0m4-3h0m9-2h0m1 4h0m5-1h0m3 0h0m1-1h0m1 2h0m2 1h0m4-5h0m4 0h0m4 1h0m3 1h0m0-1h0m1 1h0m6 3h0m4 0h0m1-2h0m2 0h0m12 2h0m3-2h0m-221 8h0m6 0h0m0-1h0m2 1h0m0-5h0m2 0h0m1 3h0m0-2h0m3 4h0m3-1h0m0 1h0m1-5h0m1 2h0m2-1h0m2 1h0m3-2h0m1 2h0m3-1h0m1 4h0m4-3h0m11 0h0m4 2h0m4-4h0m3 0h0m1 0h0m8 0h0m4 1h0m0 4h0m1-5h0m3 0h0m2 2h0m11-1h0m2 3h0m2-2h0m7 1h0m1-2h0m1-1h0m1 2h0m1 1h0m7 2h0m6-3h0m4 1h0m8 1h0m2-3h0m1 4h0m9-5h0m2 1h0m4 2h0m3 2h0m13-2h0m30-1h0m8-2h0m10 0h0m16 3h0m-230 8h0m0-1h0m3-1h0m0-3h0m3 0h0m2 5h0m1-2h0m3-1h0m1 2h0m6-2h0m0-2h0m1 1h0m4 3h0m7-2h0m1 1h0m1-1h0m2-2h0m15 4h0m4-2h0m12 3h0m0-5h0m6 4h0m10-2h0m4 3h0m14-2h0m10 1h0m4-4h0m6 1h0m9 3h0m5-2h0m1-1h0m4 0h0m9 4h0m5-5h0m9 2h0m5-2h0m14 2h0m-187 8h0m5-1h0m2-2h0m1 0h0m5-1h0m0 5h0m3-1h0m6-4h0m1 1h0m1-1h0m5 2h0m3-2h0m2 4h0m1 1h0m12-1h0m2 1h0m22-4h0m2 2h0m12-2h0m1 4h0m4-2h0m34 0h0m4 1h0m9-3h0m18 1h0m10 3h0m1 0h0m-146 1h0m8 4h0m6-1h0m27 1h0m34-2h0m1 1h0m18-3h0m6 0h0m5 2h0m38 3h0m-162 4h0m4 1h0m1 1h0m12-3h0m1-2h0m2 4h0m1 0h0m10 1h0m16-5h0m17 2h0m4-2h0m60 3h0m6 2h0m41-5h0m24 4h0m-199 6h0m2-2h0m7 0h0m84 1h0m38-2h0m4 1h0m-148 8h0m24-4h0m13 0h0m1 2h0m0-2h0m97 1h0m-126 10h0m32-5h0m18 4h0m-77 4h0m0-1h0m1 1h0m1 2h0m2 0h0m28-1h0m5-2h0m53-1h0m-82 8h0m46 3h0m-41 1h0m5 4h0m1 1h0m24-4h0m-22 5h0m4 4h0m1 0h0m2 3h0m1 0h0m7 6h0m104 4h0m-95 4h0m1 1h0m0-1h0m1 1h0m4 3h0m8 7h0m1 1h0m6 5h0m6 5h0m98 2h0m-92 3h0m2 2h0m2 1h0m5 4h0m2 1h0m3 3h0m1 1h0m3 2h0" stroke="#E8202A" stroke-width="7.4" stroke-linecap="round" stroke-opacity="0.5"/>
</g>
<line x1="60.5" y1="1026.6" x2="544.0" y2="1026.6" stroke="#C0504D" stroke-width="1.3" />
<line x1="60.5" y1="891.5" x2="544.0" y2="891.5" stroke="#7a7a7a" stroke-width="1.3" />
<line x1="60.5" y1="891.5" x2="60.5" y2="1231.5" stroke="#8a8a8a" stroke-width="1.3" />
<line x1="544.0" y1="891.5" x2="544.0" y2="1231.5" stroke="#cfcfcf" stroke-width="1.2" />
<line x1="124.6" y1="1231.5" x2="124.6" y2="1235.5" stroke="#333" stroke-width="1.2" />
<line x1="265.6" y1="1231.5" x2="265.6" y2="1235.5" stroke="#333" stroke-width="1.2" />
<line x1="406.6" y1="1231.5" x2="406.6" y2="1235.5" stroke="#333" stroke-width="1.2" />
<line x1="56.5" y1="944.1" x2="60.5" y2="944.1" stroke="#333" stroke-width="1.2" />
<line x1="56.5" y1="1026.6" x2="60.5" y2="1026.6" stroke="#333" stroke-width="1.2" />
<line x1="56.5" y1="1109.1" x2="60.5" y2="1109.1" stroke="#333" stroke-width="1.2" />
<line x1="56.5" y1="1191.6" x2="60.5" y2="1191.6" stroke="#333" stroke-width="1.2" />
<text x="51.0" y="944.1" font-size="17.3" text-anchor="middle" fill="#111" transform="rotate(-90 51.0 944.1)">5</text>
<text x="51.0" y="1026.6" font-size="17.3" text-anchor="middle" fill="#111" transform="rotate(-90 51.0 1026.6)">0</text>
<text x="51.0" y="1109.1" font-size="17.3" text-anchor="middle" fill="#111" transform="rotate(-90 51.0 1109.1)">-5</text>
<text x="51.0" y="1191.6" font-size="17.3" text-anchor="middle" fill="#111" transform="rotate(-90 51.0 1191.6)">-10</text>
<text x="124.4" y="1252.2" font-size="16.6" text-anchor="middle" fill="#111">0</text>
<text x="265.4" y="1252.2" font-size="16.6" text-anchor="middle" fill="#111">5</text>
<text x="406.4" y="1252.2" font-size="16.6" text-anchor="middle" fill="#111">10</text>
<text x="290.7" y="1271.5" font-size="16.9" text-anchor="middle" fill="#111">log(baseMean)</text>
<text x="28.0" y="1086.0" font-size="18.8" text-anchor="middle" fill="#111" transform="rotate(-90 28.0 1086.0)">log2FoldChange</text>
<text x="539.7" y="931.6" font-size="17.7" text-anchor="end" fill="#2E3C7C">604 increased (Log<tspan font-size="11" dy="4">2</tspan><tspan dy="-4">FC &gt; 1)</tspan></text>
<text x="539.7" y="959.7" font-size="17.7" text-anchor="end" fill="#111">adj. p-value &lt; <tspan font-style="italic">0.05</tspan></text>
<text x="538.7" y="1212.6" font-size="17.7" text-anchor="end" fill="#7A1E26">1,545 decreased (Log<tspan font-size="11" dy="4">2</tspan><tspan dy="-4">FC &lt; -1)</tspan></text>
</g>
<g id="pg">
<text x="6.5" y="1355.0" font-size="29" font-weight="bold">g</text>
<text x="128.3" y="1342.5" font-size="20.7">WT vs GKO keratinocyte RNA-seq</text>
<clipPath id="clipg"><rect x="59.8" y="1353.4" width="475.7" height="340.5999999999999"/></clipPath>
<line x1="193.5" y1="1353.4" x2="193.5" y2="1694.0" stroke="#f3f3f3" stroke-width="0.8" />
<line x1="331.1" y1="1353.4" x2="331.1" y2="1694.0" stroke="#f3f3f3" stroke-width="0.8" />
<line x1="468.7" y1="1353.4" x2="468.7" y2="1694.0" stroke="#f3f3f3" stroke-width="0.8" />
<line x1="59.8" y1="1439.1" x2="535.5" y2="1439.1" stroke="#f3f3f3" stroke-width="0.8" />
<line x1="59.8" y1="1526.3" x2="535.5" y2="1526.3" stroke="#f3f3f3" stroke-width="0.8" />
<line x1="59.8" y1="1613.4" x2="535.5" y2="1613.4" stroke="#f3f3f3" stroke-width="0.8" />
<line x1="124.7" y1="1353.4" x2="124.7" y2="1694.0" stroke="#e4e4e4" stroke-width="1.1" />
<line x1="262.3" y1="1353.4" x2="262.3" y2="1694.0" stroke="#e4e4e4" stroke-width="1.1" />
<line x1="399.9" y1="1353.4" x2="399.9" y2="1694.0" stroke="#e4e4e4" stroke-width="1.1" />
<line x1="59.8" y1="1395.5" x2="535.5" y2="1395.5" stroke="#e4e4e4" stroke-width="1.1" />
<line x1="59.8" y1="1482.7" x2="535.5" y2="1482.7" stroke="#e4e4e4" stroke-width="1.1" />
<line x1="59.8" y1="1569.9" x2="535.5" y2="1569.9" stroke="#e4e4e4" stroke-width="1.1" />
<line x1="59.8" y1="1657.0" x2="535.5" y2="1657.0" stroke="#e4e4e4" stroke-width="1.1" />
<g clip-path="url(#clipg)">
<linearGradient id="ggg" gradientUnits="userSpaceOnUse" x1="207.3" y1="0" x2="408.2" y2="0"><stop offset="0" stop-color="#acacac" stop-opacity="0"/><stop offset="0.18" stop-color="#acacac" stop-opacity="0.9"/><stop offset="0.8" stop-color="#acacac" stop-opacity="1"/><stop offset="1" stop-color="#acacac" stop-opacity="0"/></linearGradient>
<path d="M207.3 1443.7L212.4 1446.2L217.6 1448.7L222.7 1451.5L227.9 1454.5L233.0 1457.4L238.2 1460.4L243.3 1463.0L248.5 1463.6L253.6 1464.3L258.8 1464.9L263.9 1465.5L269.1 1466.2L274.2 1466.8L279.4 1467.4L284.5 1467.6L289.7 1467.6L294.8 1467.7L300.0 1467.8L305.1 1467.9L310.3 1468.0L315.4 1468.0L320.6 1468.1L325.7 1468.2L330.9 1468.3L336.0 1468.4L341.2 1468.4L346.3 1468.5L351.5 1468.5L356.6 1468.5L361.8 1468.5L366.9 1468.5L372.1 1468.5L377.2 1468.5L382.4 1468.5L387.6 1468.5L392.7 1468.5L397.9 1468.5L403.0 1468.5L408.2 1468.3L408.2 1495.0L403.0 1494.9L397.9 1494.8L392.7 1494.7L387.6 1494.6L382.4 1494.6L377.2 1494.7L372.1 1494.8L366.9 1494.9L361.8 1495.0L356.6 1495.1L351.5 1495.2L346.3 1495.3L341.2 1495.4L336.0 1495.5L330.9 1495.6L325.7 1495.7L320.6 1495.8L315.4 1495.9L310.3 1496.0L305.1 1496.1L300.0 1496.2L294.8 1496.3L289.7 1496.4L284.5 1496.5L279.4 1496.6L274.2 1496.8L269.1 1497.1L263.9 1497.3L258.8 1497.5L253.6 1497.7L248.5 1498.0L243.3 1498.2L238.2 1498.4L233.0 1498.7L227.9 1499.7L222.7 1501.2L217.6 1502.7L212.4 1504.2L207.3 1506.3Z" fill="url(#ggg)" fill-opacity="1.0"/>
<path d="M113 1469h0m2 0h0m9 0h0m3 0h0m3-2h0m1 2h0m11-3h0m0 1h0m4 1h0m5 0h0m1 0h0m1 1h0m2-1h0m1 1h0m6-2h0m2-1h0m4 2h0m1 0h0m1-2h0m4 1h0m3-1h0m5 1h0m1-2h0m0 4h0m1-3h0m5 1h0m8 0h0m1 0h0m2 2h0m6-3h0m4 3h0m4-1h0m8-3h0m12 0h0m0 3h0m15-2h0m4 0h0m14 2h0m1 1h0m2 0h0m1-2h0m3 0h0m9 0h0m8 1h0m26 1h0m9 0h0m39-1h0m-261 7h0m0-2h0m1 0h0m0 2h0m1-1h0m5-3h0m0 4h0m0-1h0m1-3h0m2 1h0m0-1h0m0 3h0m3-1h0m2-3h0m1 2h0m1-2h0m5 5h0m3-1h0m1-3h0m1 4h0m1-5h0m4 3h0m3-1h0m3 0h0m1 2h0m3-1h0m0 1h0m7 0h0m1-4h0m0 4h0m3-4h0m2 2h0m0-2h0m1 3h0m1 2h0m0-5h0m3 4h0m3-1h0m5 0h0m3-2h0m0 1h0m2 1h0m6 1h0m2-1h0m0 2h0m1-1h0m0-1h0m3-2h0m1 3h0m3-1h0m2 0h0m1 0h0m1-1h0m1 3h0m2-3h0m1-1h0m0 3h0m1 0h0m0-2h0m1-1h0m3 4h0m1-5h0m0 3h0m1 1h0m1-1h0m1 0h0m2 2h0m3-2h0m1 2h0m6 0h0m4 0h0m4 0h0m2 0h0m2-3h0m0-1h0m1 0h0m1 3h0m11-2h0m0 3h0m0-2h0m1 2h0m2-1h0m1-1h0m2-1h0m2 0h0m2 0h0m2-1h0m2-1h0m2 1h0m0 4h0m1-4h0m1 4h0m2 0h0m3-4h0m1 3h0m0-1h0m1 2h0m1-2h0m1 0h0m2 1h0m0-1h0m1-2h0m0 3h0m2 1h0m2-3h0m0-1h0m5 2h0m1 2h0m8 0h0m0-3h0m2 2h0m3 0h0m1 0h0m3-4h0m1 2h0m6 1h0m0-2h0m0 4h0m2 0h0m1-3h0m4 1h0m10-3h0m0 4h0m1-4h0m1 4h0m1-2h0m1 3h0m4 0h0m1 0h0m1-4h0m4 4h0m3-4h0m1 3h0m0-2h0m4-2h0m1 5h0m1-1h0m6-3h0m0 1h0m11 2h0m20-3h0m23 2h0m36 1h0m-345 4h0m0 3h0m0-1h0m1-4h0m3 4h0m1 0h0m2-3h0m3 4h0m0-5h0m1 1h0m1 3h0m0-1h0m1-1h0m0-1h0m1 2h0m0 2h0m2-2h0m1-2h0m1 4h0m0-5h0m0 4h0m1-1h0m1 1h0m0-1h0m0-3h0m1 4h0m1 1h0m1-4h0m3 1h0m1 1h0m2 1h0m1-2h0m0-1h0m0 3h0m0-1h0m3 0h0m0 2h0m4-5h0m1 5h0m0-1h0m1-1h0m0-1h0m1 3h0m0-1h0m3 0h0m0-1h0m1 2h0m2-2h0m1 0h0m1-1h0m3 0h0m0-1h0m2 2h0m3 2h0m0-3h0m0-1h0m1-1h0m1 4h0m0 1h0m2-1h0m4 0h0m1-1h0m2-1h0m1-1h0m0-1h0m2 1h0m0 3h0m0-1h0m1 2h0m0-2h0m3 2h0m1-5h0m2 4h0m1-3h0m1-1h0m0 3h0m2-1h0m0 3h0m1-4h0m0 4h0m3-4h0m1 2h0m0-2h0m0 4h0m1 0h0m1-2h0m1-3h0m1 5h0m1 0h0m0-5h0m1 5h0m1-2h0m1-2h0m0 4h0m1 0h0m1-2h0m2-3h0m1 3h0m0 1h0m1-3h0m1-1h0m1 1h0m1 4h0m0-1h0m4-1h0m2 0h0m1-1h0m1-2h0m2 3h0m0 2h0m1 0h0m3-1h0m3-2h0m0 1h0m1-3h0m1 3h0m1 0h0m0-1h0m2 3h0m2-4h0m0 4h0m1-2h0m2-3h0m0 2h0m5-1h0m0 4h0m0-3h0m1-1h0m2-1h0m1 2h0m1 1h0m2-2h0m3 1h0m1 3h0m2-2h0m2-3h0m1 4h0m0-1h0m1 1h0m0-1h0m3-1h0m2 1h0m2-2h0m4 4h0m4-3h0m0 2h0m1-3h0m0-1h0m0 4h0m0-2h0m2-1h0m1 0h0m0 4h0m0-3h0m4 1h0m2 2h0m0-1h0m1 1h0m2 0h0m2-1h0m1-2h0m1 3h0m1-2h0m0-1h0m1 0h0m0 2h0m1 1h0m0-2h0m2-1h0m0 3h0m1 0h0m1-2h0m0-2h0m1 4h0m1-5h0m1 4h0m1-4h0m3 5h0m0-5h0m1 4h0m1-3h0m1 0h0m1 2h0m1 1h0m0-3h0m1 0h0m1 4h0m4 0h0m0-5h0m0 3h0m1 2h0m0-5h0m1 2h0m0-2h0m1 5h0m0-2h0m1-2h0m0 3h0m1-2h0m2 1h0m1-1h0m1-1h0m0 4h0m1-2h0m0-2h0m1 0h0m3 0h0m0-1h0m1 1h0m2 1h0m1 3h0m1-3h0m1-1h0m0 4h0m2-2h0m4-1h0m1 0h0m0 3h0m2-3h0m1 3h0m0-1h0m0-3h0m1-1h0m1 3h0m1-2h0m1 4h0m0-5h0m3 2h0m2 0h0m2-1h0m3 0h0m0 4h0m0-2h0m3-1h0m1-1h0m5 4h0m1-4h0m1 2h0m2-1h0m8 2h0m0-3h0m0 4h0m3-4h0m13 3h0m2-3h0m0 4h0m1 0h0m21-1h0m10-1h0m3 1h0m1 1h0m66-1h0m-394 2h0m1 1h0m1 0h0m0-1h0m2 3h0m0-2h0m1 1h0m2 0h0m0-1h0m1 2h0m2 1h0m2-3h0m2 4h0m1 0h0m2-4h0m1 0h0m0-1h0m1 0h0m0 2h0m1 1h0m0-3h0m1 5h0m1-5h0m0 2h0m2 3h0m1-4h0m2 0h0m0 4h0m1-3h0m0-1h0m0-1h0m1 1h0m1 1h0m1 0h0m3 1h0m0-1h0m0-1h0m0-1h0m2 1h0m0-1h0m2 4h0m1 0h0m1-1h0m0-1h0m0-2h0m1 0h0m0 2h0m1 1h0m0 2h0m0-1h0m2-4h0m1 2h0m0-1h0m1 4h0m3-5h0m0 3h0m1-1h0m0 3h0m1 0h0m0-4h0m1 0h0m1-1h0m1 5h0m0-5h0m0 1h0m1 1h0m1-1h0m1 2h0m1-1h0m5-2h0m1 1h0m0 4h0m1-2h0m0-2h0m3 2h0m1-1h0m3 1h0m0-1h0m1-1h0m1 0h0m2 4h0m0-5h0m0 4h0m1 1h0m1-3h0m0 3h0m1-4h0m1 3h0m1-4h0m0 2h0m1 3h0m1-4h0m0 3h0m2-3h0m0-1h0m1 4h0m2-3h0m0 3h0m2-1h0m1-1h0m0-1h0m1-1h0m3 4h0m0-1h0m0-1h0m1 0h0m0-2h0m1 0h0m0 2h0m0-1h0m1 1h0m0-1h0m2 4h0m0-5h0m1 4h0m1 1h0m5-5h0m5 3h0m4 1h0m0 1h0m4-5h0m1 1h0m1 3h0m1-2h0m0-1h0m2 1h0m2 0h0m2 2h0m4-4h0m1 2h0m2-2h0m1 5h0m0-1h0m1-2h0m7 0h0m0-1h0m0 4h0m4 0h0m1-4h0m1-1h0m0 4h0m1 0h0m1-3h0m2 2h0m1 0h0m1 1h0m0-2h0m2 1h0m5-2h0m0 3h0m2 0h0m0-3h0m2 2h0m0-1h0m0-1h0m0-1h0m2 1h0m0 3h0m1-2h0m2 1h0m0 2h0m1-1h0m1-1h0m4-2h0m0-1h0m1 4h0m0-2h0m1 3h0m1-1h0m0-2h0m1 3h0m0-2h0m1-2h0m3 4h0m1-3h0m1-1h0m0 2h0m2 0h0m0-1h0m1-2h0m1 3h0m0-2h0m1-1h0m0 3h0m2-3h0m1 2h0m1 1h0m2-1h0m2 2h0m1-2h0m2-1h0m0 3h0m1-4h0m2 1h0m0 3h0m1-3h0m0-1h0m1 3h0m1 0h0m1 0h0m0-1h0m0-1h0m1 1h0m2 3h0m0-1h0m1-2h0m1 1h0m1-1h0m1 0h0m0-2h0m1 2h0m0-1h0m0-1h0m1 2h0m3 3h0m1-4h0m0-1h0m1 3h0m1 0h0m1-1h0m2-1h0m1 4h0m1-3h0m1-1h0m0-1h0m1 1h0m4 1h0m2-2h0m1 3h0m0-1h0m1 2h0m0-1h0m0-1h0m4 0h0m4 2h0m2-3h0m3 1h0m1 1h0m1-2h0m2 1h0m3 1h0m3 0h0m1-3h0m2 2h0m1-2h0m3 4h0m0-1h0m2-1h0m1 2h0m3 0h0m2 1h0m8 0h0m5-1h0m6-1h0m1 2h0m3-2h0m4-1h0m2 1h0m89-2h0m-398 6h0m2 1h0m0 3h0m0-5h0m3 0h0m0 4h0m3 0h0m1-4h0m1 1h0m0-1h0m1 5h0m1-3h0m2-1h0m1 1h0m1 3h0m0-5h0m1 5h0m1-4h0m4 3h0m0-1h0m1 1h0m0-2h0m1 0h0m2 2h0m1-4h0m1 1h0m3 3h0m1-3h0m1 4h0m1-3h0m0 3h0m0-1h0m4-2h0m1 2h0m3 0h0m4-2h0m1 0h0m1 0h0m1 2h0m2-3h0m2 0h0m2 0h0m4 1h0m2 0h0m1 2h0m2-4h0m0 3h0m2 2h0m1-3h0m1 1h0m1-3h0m1 2h0m1 0h0m2 0h0m0 3h0m0-5h0m2 5h0m0-5h0m1 2h0m0-2h0m1 1h0m0-1h0m2 3h0m2-1h0m1 1h0m4-3h0m1 2h0m1 0h0m1 0h0m5-1h0m0 1h0m3 3h0m2-4h0m1 1h0m0-2h0m1 2h0m0-1h0m2 1h0m0-2h0m1 2h0m6-2h0m1 3h0m1-2h0m3 0h0m1 4h0m1-3h0m5 1h0m1-2h0m0-1h0m0 4h0m2-2h0m3 1h0m3 0h0m2-2h0m2 3h0m1 0h0m1 1h0m2-1h0m2-4h0m6 0h0m2 1h0m1 4h0m2-3h0m0 3h0m0-5h0m1 5h0m2-4h0m1 3h0m1-2h0m1 1h0m4-2h0m3 3h0m0-1h0m5-2h0m2-1h0m0 3h0m2-2h0m0 3h0m1-1h0m2 1h0m1-4h0m0 3h0m1 0h0m1 0h0m1 2h0m0-5h0m1 3h0m3-2h0m0-1h0m2 3h0m2-1h0m4-2h0m0 4h0m2-4h0m0 4h0m3-3h0m1 3h0m1-1h0m0-1h0m2 1h0m1-1h0m0-1h0m10 4h0m0-2h0m0-1h0m4-1h0m0 2h0m2-1h0m4 1h0m1-1h0m2-1h0m1-1h0m1 4h0m1-2h0m5-2h0m1 4h0m0-2h0m0-1h0m5 2h0m1-2h0m2 3h0m0-3h0m6 2h0m0-2h0m4 0h0m1-1h0m16 4h0m2-2h0m15 2h0m21 1h0m3 0h0m-306 1h0m4 5h0m1-4h0m0 4h0m1-5h0m1 0h0m0 4h0m2-3h0m3 1h0m1 2h0m1 1h0m2-2h0m2 1h0m3-3h0m4-1h0m1 1h0m1 3h0m6-2h0m2 3h0m1-1h0m3-2h0m2-1h0m4 0h0m1 3h0m1-3h0m4-1h0m0 3h0m2 0h0m1-1h0m1 0h0m1-2h0m3 5h0m1-4h0m0 4h0m1-5h0m1 5h0m3-3h0m2 0h0m5 2h0m0-3h0m1-1h0m0 4h0m0-2h0m1-1h0m2 4h0m0-2h0m2-2h0m2-1h0m1 0h0m0 2h0m1 0h0m0 3h0m0-5h0m1 5h0m0-3h0m2-1h0m4 1h0m2 0h0m2 0h0m7 1h0m3-2h0m2 1h0m6-1h0m2-1h0m0 3h0m3 1h0m15-2h0m4 1h0m6-1h0m12-1h0m1 3h0m5-4h0m1 3h0m0-1h0m9-2h0m2 2h0m1-2h0m7 1h0m4 1h0m0-1h0m12 1h0m0-1h0m1-1h0m1 1h0m2-1h0m0 2h0m3-2h0m8 1h0m2 0h0m7-1h0m2 0h0m10 1h0m-211 5h0m18 0h0m20 0h0m18 0h0m3 0h0m3 0h0" stroke="#9a9a9a" stroke-width="4" stroke-linecap="round" stroke-opacity="0.42"/>
<path d="M113 1469h0m4-1h0m1-1h0m3 1h0m2 1h0m1-1h0m7-1h0m3 0h0m2-2h0m0 2h0m3-1h0m2 0h0m3 0h0m1 1h0m5-1h0m4 2h0m1 0h0m1-2h0m1 1h0m2-2h0m3 3h0m7 1h0m6-3h0m4 0h0m4 1h0m3 2h0m3-2h0m0-1h0m3 1h0m7 2h0m1-1h0m2-2h0m2 2h0m3 1h0m0-2h0m2 2h0m28 0h0m18-4h0m7 4h0m14-2h0m19 2h0m0-2h0m39 1h0m-228 3h0m3 4h0m0-5h0m2 0h0m1 4h0m1-1h0m2-2h0m0 1h0m2-2h0m1 3h0m1 1h0m1-4h0m1 1h0m0-1h0m0 3h0m1 1h0m1-4h0m3 2h0m1 0h0m1-2h0m2 4h0m2-3h0m2 1h0m2 1h0m1-3h0m1 4h0m2 0h0m2-1h0m8-2h0m1 1h0m1 1h0m2 2h0m0-1h0m1 1h0m4-4h0m4 1h0m0 2h0m2 0h0m1 0h0m0-2h0m0-1h0m0 4h0m2-2h0m3-1h0m3 0h0m0 3h0m2-4h0m0-1h0m5 3h0m1 0h0m0 1h0m3-2h0m1 3h0m0-4h0m1 4h0m1-1h0m1-3h0m1-1h0m2 1h0m0-1h0m2 0h0m1 2h0m0 2h0m2 1h0m3 0h0m1-1h0m1 0h0m1-1h0m0 1h0m1-2h0m0-1h0m1 4h0m1-4h0m3 2h0m5-2h0m1 3h0m0-1h0m3-2h0m1 1h0m1 1h0m5-1h0m7 3h0m5-1h0m4 1h0m0-2h0m2 1h0m2 1h0m5-2h0m3-1h0m1 3h0m1-2h0m2 1h0m2-1h0m3 2h0m4-2h0m1 2h0m1-5h0m0 4h0m0-1h0m3 0h0m4-3h0m6 4h0m0-1h0m2 1h0m0-1h0m3 2h0m1-5h0m1 3h0m1-3h0m3 0h0m1 2h0m0 1h0m1-3h0m5 2h0m3 3h0m4-3h0m3 0h0m1 3h0m1-3h0m0-1h0m2 0h0m1 3h0m0-2h0m1-1h0m2 1h0m2 1h0m3 2h0m0-2h0m3 0h0m4 0h0m3-2h0m3 3h0m6-1h0m1 1h0m1 0h0m10 0h0m2-2h0m0 2h0m0-1h0m5-3h0m3 0h0m4 4h0m9 1h0m1-5h0m0 2h0m6 3h0m5 0h0m5 0h0m1 0h0m-291 6h0m1 0h0m2-4h0m3-1h0m1 1h0m0 4h0m1-1h0m2-3h0m3 3h0m1-2h0m2 0h0m1-2h0m1 5h0m0-2h0m2-1h0m1-2h0m0 3h0m1-2h0m1 3h0m0 1h0m0-5h0m2 2h0m1 1h0m1-2h0m1 1h0m0-1h0m1 0h0m1 3h0m2-4h0m3 3h0m7 2h0m1-5h0m1 5h0m1 0h0m1-1h0m1 1h0m1-1h0m5-4h0m1 5h0m0-5h0m4 2h0m1-1h0m0 4h0m1-3h0m0 3h0m3-1h0m1 0h0m3-2h0m1-2h0m2 5h0m1-5h0m1 4h0m2-2h0m0-1h0m1-1h0m0 5h0m2-2h0m0 2h0m0-5h0m1 5h0m0-5h0m2 4h0m0-2h0m0 3h0m1-1h0m2 1h0m1-5h0m1 4h0m1 0h0m1-2h0m1 1h0m1 2h0m0-5h0m1 5h0m2-4h0m0 3h0m1-4h0m1 3h0m1 2h0m1-3h0m1 2h0m0-1h0m1-3h0m2 4h0m0-1h0m2-2h0m0-1h0m2 2h0m2-1h0m1 1h0m0-2h0m2 1h0m4 1h0m1-1h0m0 2h0m3 1h0m1 1h0m1 0h0m0-3h0m6 0h0m1 2h0m2-2h0m0 2h0m1 1h0m0-5h0m2 5h0m1-2h0m1 0h0m4 2h0m1 0h0m0-3h0m2 3h0m1 0h0m1-4h0m2 4h0m1-2h0m1-3h0m2 4h0m1 0h0m1-3h0m0-1h0m1 2h0m1 1h0m0-1h0m1-1h0m1 1h0m6 1h0m1 0h0m0 1h0m1 0h0m0-1h0m1-2h0m1 2h0m1-1h0m1-2h0m1 0h0m2 5h0m3-5h0m6 2h0m1 1h0m2 1h0m0-1h0m0-1h0m3 1h0m1-1h0m1 2h0m1-1h0m2-1h0m0-2h0m1 5h0m0-5h0m0 2h0m1 1h0m0 1h0m1-1h0m1 2h0m1 0h0m4-5h0m0 4h0m2 0h0m1-4h0m0 4h0m1-1h0m1 2h0m2 0h0m2-3h0m0 3h0m0-5h0m1 1h0m1 1h0m3-1h0m1 2h0m2-3h0m1 2h0m2 0h0m0 1h0m1-3h0m1 4h0m0-3h0m1 2h0m0-1h0m0 2h0m1-2h0m1-2h0m0 3h0m1 0h0m2-3h0m2 2h0m2-2h0m2 1h0m0 3h0m2 0h0m0-1h0m1 2h0m1-4h0m0 4h0m1-1h0m2-2h0m3 2h0m1-2h0m0-2h0m2 5h0m1-2h0m1 0h0m3 2h0m2-3h0m2 0h0m0-1h0m7 1h0m1 3h0m0-5h0m1 5h0m1-5h0m0 3h0m3 1h0m8 0h0m0-1h0m2 2h0m1-1h0m0-1h0m5-3h0m2 0h0m3 2h0m3 0h0m4 2h0m6-3h0m3 1h0m4 1h0m23-1h0m-331 5h0m2 2h0m1-2h0m0-1h0m0 3h0m0-1h0m1 1h0m0-2h0m1 0h0m0 2h0m1-1h0m1 1h0m0-1h0m0-1h0m1 4h0m0-1h0m1-3h0m0 3h0m2-2h0m0-1h0m1 0h0m1 1h0m2 0h0m0 3h0m2-4h0m1 0h0m0-1h0m0 4h0m2-3h0m1 0h0m0 4h0m1-5h0m1 1h0m0 4h0m1 0h0m1-4h0m0-1h0m2 0h0m0 3h0m2-2h0m0 4h0m0-5h0m1 5h0m0-5h0m1 1h0m2 0h0m0 3h0m1-3h0m0-1h0m1 1h0m0-1h0m2 4h0m1-3h0m1 1h0m1 0h0m1-2h0m2 2h0m3 2h0m0-3h0m1 1h0m2-2h0m1 0h0m1 5h0m0-5h0m0 4h0m0-3h0m1-1h0m0 3h0m2-3h0m3 4h0m0-1h0m2-2h0m1 0h0m0 3h0m1-3h0m0 3h0m2-1h0m1 0h0m0-1h0m0-2h0m2 1h0m0 3h0m1-3h0m2 1h0m0-1h0m2 4h0m0-5h0m0 3h0m1-1h0m0-2h0m2 2h0m1 0h0m0-2h0m3 3h0m0-2h0m0 4h0m0-5h0m5 1h0m0 3h0m1-4h0m0 1h0m1 2h0m2-3h0m0 2h0m1-1h0m1-1h0m0 3h0m1 2h0m0-5h0m1 2h0m1-1h0m2 3h0m1-4h0m0 4h0m0-1h0m0-1h0m1-2h0m1 1h0m2 4h0m1-1h0m1-3h0m0-1h0m0 4h0m1-4h0m1 3h0m0-1h0m2 1h0m0-1h0m2-2h0m3 5h0m7-3h0m8-1h0m0 4h0m2-3h0m3 0h0m1 0h0m0-1h0m1 0h0m0 3h0m1 0h0m1 1h0m3-3h0m0-1h0m3 2h0m2-2h0m1 4h0m0-1h0m1-2h0m0 3h0m3-3h0m1 2h0m1 0h0m0-1h0m1-1h0m4 0h0m1-2h0m4 5h0m0-1h0m1 0h0m1-1h0m2 1h0m0-2h0m0 3h0m1-4h0m2 3h0m0-2h0m1-1h0m0 2h0m2-1h0m3-1h0m0 4h0m1-2h0m1 0h0m1-1h0m2-1h0m2 4h0m0-5h0m1 3h0m0-1h0m1 1h0m1 2h0m1-4h0m0 2h0m2-3h0m1 3h0m3-2h0m1 1h0m1-1h0m1 4h0m1-1h0m0-3h0m1-1h0m1 1h0m2 4h0m1-2h0m0-3h0m1 5h0m1-3h0m0-1h0m0-1h0m3 4h0m1-3h0m0-1h0m1 1h0m0 2h0m1 2h0m1-5h0m1 4h0m0-1h0m2 0h0m1 2h0m1-2h0m1 2h0m0-2h0m0-1h0m2-2h0m2 0h0m1 0h0m1 4h0m0-1h0m1 0h0m0-2h0m2-1h0m1 4h0m0 1h0m3-1h0m1-2h0m0-1h0m1 2h0m0-1h0m2-1h0m0 3h0m1-3h0m1 0h0m2 1h0m2 0h0m0-1h0m0 4h0m6-2h0m9 0h0m1 1h0m0-2h0m1 0h0m1 0h0m2 2h0m1-2h0m3 1h0m0 1h0m1-2h0m1-2h0m0 2h0m2 0h0m16 0h0m7 1h0m4 1h0m15-4h0m0 4h0m9-1h0m6 2h0m4-1h0m6-2h0m29 3h0m-359 6h0m2-2h0m1-1h0m6 1h0m1 1h0m1-2h0m1-1h0m4 2h0m3-2h0m0-1h0m1 2h0m2 2h0m2-2h0m1 2h0m9 0h0m0-4h0m3 3h0m2-1h0m1 3h0m4-1h0m0-2h0m3-2h0m2 5h0m1-2h0m0 1h0m1-3h0m1 3h0m5-3h0m0 4h0m3-5h0m1 0h0m1 3h0m3 0h0m0-1h0m3 0h0m2 1h0m0 2h0m3-1h0m1-3h0m3 1h0m1-2h0m1 3h0m2-1h0m0-1h0m2 3h0m3 1h0m4-2h0m3-3h0m2 0h0m1 2h0m1 1h0m0 2h0m1-4h0m0 3h0m1-3h0m1-1h0m0 5h0m1-4h0m7 2h0m5 1h0m1-3h0m7 2h0m2-3h0m0 4h0m1-2h0m1 3h0m2 0h0m3-5h0m2 2h0m0-2h0m2 1h0m0 3h0m2-3h0m1 1h0m1-2h0m2 0h0m3 5h0m1-4h0m1 1h0m4 0h0m2-1h0m1 3h0m0-3h0m1 3h0m1 0h0m3 0h0m2-4h0m1 5h0m10-2h0m0 2h0m0-1h0m1 0h0m2 0h0m1 1h0m0-1h0m1-3h0m0 4h0m1-1h0m3 0h0m1-3h0m1 2h0m2-2h0m0-1h0m1 4h0m6-3h0m3 3h0m2-2h0m2-1h0m1 0h0m3-1h0m1 0h0m2 2h0m1-1h0m1 2h0m1-3h0m0 1h0m1 1h0m0-2h0m1 5h0m0-4h0m4 4h0m2 0h0m1-3h0m0-2h0m1 0h0m0 2h0m3 0h0m1 2h0m2-4h0m0 2h0m8-1h0m1 0h0m1 2h0m2-1h0m1-2h0m1 0h0m1 2h0m1 1h0m0-2h0m2 4h0m1-3h0m5 1h0m7-1h0m8-2h0m2 4h0m1 1h0m1-4h0m1 3h0m6 1h0m3-2h0m8 0h0m1 1h0m0-1h0m2 1h0m1-3h0m7-1h0m4 0h0m1 0h0m1 0h0m3 1h0m-301 5h0m1 2h0m2 1h0m4 0h0m0 2h0m1 0h0m1-4h0m0 2h0m2 0h0m0-2h0m1 4h0m1-4h0m1 1h0m6 2h0m8-3h0m3 0h0m1 4h0m1-1h0m1 1h0m0-2h0m1-1h0m1 3h0m0-5h0m2 5h0m2 0h0m1-2h0m1 0h0m3 0h0m1-2h0m1 2h0m5-3h0m1 3h0m3-1h0m1-1h0m1 4h0m1-1h0m2 1h0m0-5h0m1 0h0m1 1h0m2 2h0m0-1h0m1-2h0m0 2h0m2 1h0m3 2h0m2-1h0m0-2h0m3 0h0m1-1h0m3 0h0m2 3h0m0-1h0m1 2h0m0-2h0m3-1h0m0-1h0m0-1h0m1 1h0m4-1h0m1 5h0m1 0h0m0-5h0m3 3h0m1 2h0m1-2h0m0-2h0m2 1h0m2 2h0m8-2h0m0-1h0m1 4h0m1-4h0m5 2h0m0-2h0m6-1h0m2 3h0m0-2h0m14 2h0m2 0h0m3-1h0m7-1h0m0-1h0m7 0h0m2 3h0m1-2h0m20-1h0m11 0h0m2 1h0m5 1h0m2-2h0m1 0h0m8 0h0m2 2h0m27-1h0m3 0h0m14 0h0m2-1h0m-248 6h0m5 0h0m37 0h0m7 0h0m4 0h0m24 0h0" stroke="#9a9a9a" stroke-width="4" stroke-linecap="round" stroke-opacity="0.42"/>
<path d="M114 1469h0m5-2h0m14 0h0m0 2h0m6-2h0m4-1h0m1 3h0m8 0h0m1 0h0m2-2h0m2 2h0m4 0h0m5 0h0m3-2h0m2 2h0m2-3h0m9 0h0m3 0h0m10 0h0m0 3h0m6-2h0m1 0h0m2 2h0m3 0h0m3-1h0m0-2h0m2 2h0m11 1h0m10-3h0m1 3h0m7-3h0m1 2h0m2-1h0m27 2h0m3-2h0m0 2h0m3 0h0m7-1h0m17 1h0m7-1h0m9 0h0m54 0h0m-266 5h0m2 2h0m13 0h0m0-3h0m2 1h0m1-2h0m1 4h0m1-3h0m3 1h0m0-1h0m1 3h0m0-2h0m1 2h0m3-4h0m1 2h0m4 0h0m0 2h0m2-1h0m0-1h0m1-3h0m1 3h0m5-3h0m0 5h0m2 0h0m1-1h0m6-4h0m2 2h0m1 0h0m1 3h0m0-5h0m2 4h0m1-1h0m3 1h0m3-4h0m1 5h0m0-1h0m2-3h0m1 0h0m0 3h0m14-1h0m0-2h0m0 4h0m1-1h0m3-2h0m4-1h0m0 2h0m1 1h0m3 1h0m1-4h0m1-1h0m1 5h0m0-1h0m1-4h0m2 3h0m0-1h0m2 3h0m5-5h0m3 0h0m7 1h0m2 3h0m0-3h0m2 2h0m1-3h0m0 4h0m8 0h0m1-3h0m1-1h0m3 1h0m5 0h0m3 4h0m2-5h0m3 5h0m1-3h0m1-1h0m3 4h0m1-3h0m2 1h0m2-1h0m0-1h0m0 4h0m1-1h0m1-2h0m1-2h0m2 5h0m3 0h0m4-1h0m10 0h0m4-1h0m1-2h0m0-1h0m4 4h0m1-1h0m1 1h0m0-1h0m3-3h0m1 5h0m2-2h0m3-3h0m1 0h0m4 1h0m1 4h0m3-4h0m2 4h0m1-1h0m5-2h0m1 3h0m0-3h0m1 2h0m1-1h0m8 1h0m1-2h0m1 1h0m5 0h0m1-1h0m2 3h0m5-3h0m5 3h0m7-2h0m6 2h0m2-2h0m1 1h0m10 1h0m2-1h0m22-1h0m6 1h0m4 1h0m2-2h0m2 0h0m10 1h0m-327 7h0m3-3h0m1-2h0m0 4h0m1 0h0m1-1h0m1 2h0m3 0h0m2-5h0m1 5h0m2-3h0m2 0h0m0 2h0m2-1h0m5-2h0m2 2h0m7 1h0m1-1h0m1-2h0m0-1h0m4 4h0m1-4h0m2 5h0m4-1h0m1-4h0m0 4h0m2-3h0m0 4h0m6-2h0m1 1h0m1 1h0m1 0h0m0-5h0m1 2h0m0-1h0m1 1h0m1 0h0m0 3h0m1 0h0m0-2h0m1-2h0m0 2h0m1 1h0m1-3h0m0 2h0m1 0h0m2-3h0m1 0h0m2 5h0m0-5h0m1 2h0m0 3h0m2 0h0m0-2h0m1 0h0m2 2h0m2-4h0m0 4h0m1 0h0m1-5h0m0 4h0m0-1h0m1-3h0m3 2h0m1-2h0m2 5h0m2-4h0m0 1h0m1 1h0m0 2h0m0-5h0m1 1h0m3 1h0m1-2h0m2 2h0m1 2h0m0-3h0m1-1h0m0 2h0m5 2h0m0-1h0m1 0h0m0-1h0m1 3h0m1-2h0m1 1h0m0-2h0m1 2h0m2-4h0m6 1h0m2 3h0m1 0h0m2-3h0m3 3h0m1 1h0m2-5h0m1 1h0m0 4h0m2 0h0m0-1h0m6 0h0m6-4h0m1 2h0m1 1h0m0 2h0m2-1h0m1-2h0m1 0h0m1 0h0m0 3h0m1-2h0m2 1h0m0-1h0m0-1h0m0 3h0m2-4h0m4 3h0m2-3h0m1 0h0m1 2h0m0 1h0m1-3h0m0 4h0m4-4h0m0 4h0m1-4h0m1 3h0m1-3h0m1 2h0m2-1h0m1 1h0m0-1h0m2-2h0m2 4h0m1-1h0m1-2h0m1-1h0m3 1h0m2 3h0m1-1h0m3-1h0m0-2h0m1 1h0m1 1h0m0-1h0m0 3h0m2-2h0m1 3h0m2 0h0m1-3h0m1 3h0m0-1h0m1-2h0m1 0h0m0-1h0m1 0h0m1 0h0m0 3h0m4-2h0m0-1h0m3 0h0m0-1h0m1 0h0m1 2h0m0-2h0m4 3h0m1 0h0m2 2h0m4-2h0m1 0h0m1 0h0m2-3h0m3 4h0m1 1h0m4 0h0m1-2h0m3-3h0m6 3h0m1 2h0m0-5h0m1 0h0m2 1h0m3 3h0m2-1h0m1-1h0m3 0h0m4 1h0m4 0h0m0-3h0m2 5h0m0-5h0m4 2h0m2 1h0m7 1h0m4 1h0m8-1h0m5 1h0m5-3h0m1-2h0m1 2h0m1 0h0m1 3h0m14-2h0m30 2h0m-350 2h0m1 1h0m0-1h0m0 4h0m2-1h0m1-2h0m0-1h0m1 4h0m0-1h0m0-2h0m4 1h0m0-2h0m0 4h0m2-5h0m2 2h0m1-1h0m2 2h0m0-2h0m1-1h0m3 1h0m0-1h0m1 1h0m1 0h0m0 1h0m1-1h0m1 0h0m1 1h0m2 0h0m1 1h0m0-1h0m1 1h0m1 0h0m1-2h0m1 1h0m2-1h0m0 4h0m1-2h0m1-1h0m0-1h0m1 1h0m0-1h0m1 0h0m1 1h0m1 3h0m1 0h0m1-4h0m1 2h0m4 0h0m0-2h0m0-1h0m1 0h0m1 3h0m1 2h0m1-5h0m0 2h0m0-1h0m1 0h0m0 3h0m1-3h0m0-1h0m2 2h0m0-1h0m0 2h0m1-2h0m1 3h0m1-3h0m1-1h0m0 3h0m1-2h0m2-1h0m0 2h0m1-1h0m1 0h0m2 4h0m0-5h0m0 3h0m2 2h0m1-3h0m0-2h0m1 3h0m0 2h0m1 0h0m0-1h0m4-2h0m0-2h0m1 1h0m0-1h0m1 3h0m0 1h0m2 0h0m1-3h0m1-1h0m0 3h0m0-1h0m1-2h0m1 0h0m0 3h0m1-1h0m1-1h0m0 4h0m0-1h0m0-1h0m2-3h0m0 3h0m0-2h0m1 1h0m2 3h0m0-5h0m0 4h0m0-2h0m1 0h0m1 0h0m1 0h0m0-1h0m1 4h0m0-5h0m1 4h0m1-2h0m1 2h0m0-1h0m0-1h0m0-1h0m1 2h0m0-1h0m1-2h0m1 4h0m1 1h0m0-5h0m1 3h0m1-3h0m1 1h0m2 4h0m3-1h0m2-1h0m1-1h0m4-2h0m1 2h0m3-1h0m1 3h0m3 1h0m0-5h0m3 0h0m6 5h0m1-1h0m1-3h0m1 0h0m1-1h0m1 4h0m1-2h0m1-1h0m3 2h0m3-2h0m1 3h0m0-1h0m0-1h0m1 0h0m2 0h0m2 3h0m0-1h0m0-1h0m1-2h0m1 1h0m0-2h0m1 0h0m1 0h0m2 2h0m1 2h0m4-4h0m2 2h0m1 3h0m1-3h0m0 2h0m0-1h0m1 1h0m0-1h0m0-2h0m0 4h0m1-4h0m2 3h0m0-1h0m1-1h0m1-1h0m1 3h0m1-3h0m0 4h0m0-5h0m0 2h0m1-2h0m0 2h0m0-1h0m0 4h0m3-3h0m1 3h0m2-2h0m2 2h0m2 0h0m0-1h0m0-2h0m1 1h0m0-2h0m2 4h0m1-2h0m0-3h0m2 0h0m1 1h0m0 4h0m1-3h0m2 1h0m1-3h0m0 3h0m1 0h0m3-2h0m1 3h0m2-3h0m1 0h0m0 2h0m0-1h0m1 0h0m0-2h0m1 0h0m2 2h0m0-1h0m1 1h0m1 2h0m2-4h0m0 4h0m0-2h0m1 3h0m1-3h0m1 1h0m1 0h0m2 2h0m1-2h0m0-1h0m1 3h0m1-3h0m0-1h0m1 0h0m1 3h0m1-2h0m1 3h0m4-1h0m1-4h0m2 4h0m1 0h0m0-2h0m2 0h0m0-2h0m1 5h0m0-1h0m1 0h0m1-3h0m0 4h0m0-5h0m1 0h0m1 2h0m0-1h0m1 2h0m0-3h0m1 1h0m0 4h0m3 0h0m1-3h0m2-1h0m4-1h0m0 2h0m0-1h0m7 2h0m11 2h0m0-1h0m2 1h0m1-3h0m3-2h0m2 5h0m5-3h0m1 3h0m7-5h0m3 1h0m4 0h0m3 0h0m1 2h0m1-2h0m4 2h0m37-3h0m3 2h0m2 1h0m3 0h0m-353 6h0m0-1h0m2-1h0m5 4h0m0-2h0m1-1h0m0-1h0m1 3h0m2 0h0m1-2h0m2 1h0m3-2h0m2 2h0m0-1h0m3 2h0m1-3h0m5 4h0m1-5h0m0 4h0m3 1h0m3 0h0m1-5h0m0 4h0m1-3h0m0 3h0m2-3h0m0 2h0m1-2h0m2 1h0m1 2h0m0-4h0m1 0h0m0 3h0m0-1h0m0 3h0m1 0h0m7 0h0m1-2h0m1 1h0m1 1h0m0-2h0m2 2h0m1-4h0m1-1h0m2 2h0m2 3h0m2-5h0m1 2h0m3 2h0m2 1h0m0-5h0m1 4h0m1-2h0m1-2h0m0 2h0m1-1h0m1-1h0m1 2h0m6 2h0m10 1h0m0-5h0m1 3h0m3-3h0m1 3h0m1 0h0m1 0h0m0-3h0m1 4h0m5-3h0m2 1h0m4-2h0m1 4h0m3-3h0m3 2h0m8-1h0m2-2h0m1 1h0m1 2h0m0-1h0m3 3h0m1-3h0m1 0h0m0 3h0m2-4h0m1 1h0m3 2h0m1-4h0m1 3h0m0-1h0m0 2h0m1 0h0m1-2h0m1 2h0m4-1h0m1-3h0m2 1h0m2 3h0m1-2h0m0-1h0m2 4h0m0-1h0m1 1h0m2-4h0m0-1h0m1 2h0m1 3h0m0-1h0m1-2h0m0-2h0m1 2h0m0-1h0m2 2h0m0-1h0m1 2h0m1 1h0m0-1h0m0-1h0m0-2h0m1 2h0m0-2h0m2-1h0m5 1h0m1 1h0m0-1h0m1 4h0m0-5h0m1 3h0m1 1h0m4-4h0m2 4h0m1-4h0m0 2h0m1 1h0m0 1h0m1-3h0m1 1h0m1 1h0m1-3h0m1 2h0m0-1h0m0-1h0m0 4h0m0-1h0m3-1h0m1-1h0m1 2h0m0-1h0m2 1h0m1 1h0m1-1h0m1 1h0m0-2h0m1 1h0m1-2h0m1 4h0m3-5h0m0 3h0m1-1h0m0-1h0m0 3h0m4 0h0m2 0h0m0-2h0m1 1h0m1-2h0m2 4h0m5-5h0m0 2h0m2-1h0m5 2h0m0-2h0m4-1h0m1 4h0m4-2h0m2 1h0m1-2h0m9 2h0m1-1h0m0 3h0m2-5h0m1 3h0m0-2h0m1 1h0m3 3h0m7-5h0m3 2h0m2-1h0m1 4h0m2-3h0m4 2h0m3-1h0m1 0h0m3 2h0m1-5h0m14 0h0m-300 7h0m3 2h0m8 1h0m3 0h0m0-1h0m3-1h0m4 0h0m1-1h0m2 0h0m1-1h0m5 1h0m0 3h0m6-3h0m1 4h0m2-2h0m2-1h0m5 2h0m2-1h0m0-1h0m0 2h0m3 1h0m1-1h0m0-2h0m2-2h0m2 0h0m2 2h0m2 0h0m1-2h0m1 0h0m0 3h0m4 1h0m1-3h0m0 4h0m0-5h0m3 5h0m1 0h0m1-3h0m3 1h0m3-3h0m0 3h0m3 2h0m2-1h0m0-1h0m2-1h0m0 3h0m0-2h0m2 0h0m2-1h0m2 0h0m0 2h0m0-1h0m1 2h0m2-5h0m3 4h0m8 0h0m4-4h0m0 2h0m11-2h0m4 0h0m3 2h0m3-2h0m9 2h0m2-1h0m2 1h0m2 0h0m2 0h0m6 1h0m1-3h0m8 2h0m1 0h0m5 0h0m6 1h0m5-1h0m6 0h0m4 1h0m3-1h0m3 0h0m7 0h0m7-1h0m37 1h0m5-2h0m21 1h0m35-1h0m-296 6h0m15 0h0m22 0h0m9 0h0m6 0h0m24 0h0" stroke="#9a9a9a" stroke-width="4" stroke-linecap="round" stroke-opacity="0.42"/>
<path d="M109 1469h0m4-2h0m3 0h0m3 2h0m1-2h0m4 0h0m0-1h0m6 1h0m2 2h0m1-1h0m0-1h0m0-1h0m7 2h0m1 0h0m1-1h0m7-1h0m1 2h0m1-2h0m3 2h0m1 1h0m6-1h0m7 0h0m1-2h0m1 3h0m3-3h0m2 3h0m1-3h0m5 1h0m4 2h0m1-3h0m1 1h0m3 0h0m0-2h0m1 2h0m1 0h0m2 1h0m7 0h0m0-2h0m4 0h0m1 3h0m1-2h0m2 1h0m6 0h0m11 1h0m8-1h0m5 1h0m1-2h0m8 2h0m1-1h0m1-1h0m6 0h0m1 0h0m14 0h0m6 2h0m4-2h0m3 2h0m12-1h0m2 0h0m28 0h0m8 1h0m12 0h0m33 0h0m18 0h0m-294 6h0m1 0h0m1 0h0m1 0h0m1-5h0m0 4h0m1-4h0m3 0h0m4 5h0m1-5h0m1 0h0m0 1h0m4 4h0m1-4h0m0 3h0m1-2h0m1 3h0m2-2h0m1-1h0m1-1h0m3 1h0m1 3h0m3 0h0m3-1h0m2 0h0m2-1h0m2-2h0m1 3h0m9 0h0m3-1h0m2 0h0m2 0h0m4 1h0m1-1h0m0-1h0m3 2h0m0-2h0m1 3h0m1-1h0m1-3h0m1 0h0m1 3h0m0-4h0m1 2h0m3-2h0m1 2h0m0 3h0m4-2h0m0-1h0m1 3h0m1-2h0m2-2h0m0-1h0m0 4h0m2-3h0m0 2h0m1-1h0m2 2h0m8-3h0m1 3h0m1 0h0m1-2h0m0 3h0m1-3h0m2 2h0m0-1h0m6-3h0m1 0h0m5 4h0m3 1h0m1-2h0m1-2h0m1 0h0m2 3h0m2-2h0m2 2h0m1-1h0m2-2h0m0 4h0m3-4h0m1 0h0m7 1h0m3 0h0m1 0h0m1 1h0m2 2h0m1-1h0m2 0h0m1-4h0m3 0h0m1 0h0m0 4h0m2-2h0m4-2h0m3 0h0m2 5h0m3 0h0m0-4h0m3 4h0m1 0h0m1-5h0m2 3h0m2-1h0m2 3h0m1-2h0m1 1h0m3-1h0m6 1h0m2-1h0m2 0h0m5 0h0m3-1h0m1 0h0m0-2h0m4 1h0m1 2h0m6 0h0m0-1h0m0 3h0m1-4h0m2-1h0m0 3h0m3-2h0m0 1h0m1 2h0m2 0h0m5-1h0m3 0h0m4-3h0m7 0h0m5 4h0m5-1h0m1-1h0m3 1h0m1 2h0m4-1h0m5 0h0m3 0h0m5-4h0m14 0h0m18 4h0m2 0h0m33 1h0m-346 3h0m3 0h0m0-2h0m2 4h0m1 0h0m1 0h0m1-2h0m1-2h0m2 3h0m1 0h0m0 2h0m3 0h0m3-1h0m1 1h0m2-5h0m0 3h0m0-1h0m4 0h0m1-2h0m5 2h0m2 3h0m1-5h0m2 1h0m1 3h0m0 1h0m1-4h0m1 1h0m2 3h0m0-1h0m1-2h0m3 1h0m2-1h0m0-2h0m1 3h0m2 0h0m1 2h0m1-1h0m2-2h0m1-1h0m1 4h0m1-4h0m2 3h0m4-2h0m1-1h0m1 4h0m0-5h0m0 3h0m1-1h0m1 3h0m1 0h0m1-3h0m0 3h0m2-3h0m3 0h0m0 3h0m2-3h0m2 2h0m3 0h0m2 0h0m1 0h0m0-1h0m1-2h0m0-1h0m1 4h0m0-4h0m2 4h0m0 1h0m2-3h0m1 1h0m0-2h0m1 3h0m1-2h0m1 2h0m0 1h0m2-4h0m1-1h0m1 4h0m1 0h0m0-1h0m1 1h0m1-2h0m0-1h0m0 4h0m0-5h0m2 2h0m2 1h0m0 2h0m2-4h0m2 2h0m1-3h0m2 1h0m8 3h0m1-2h0m2-2h0m3 2h0m1 2h0m1 1h0m1-2h0m0-2h0m2 2h0m1 2h0m2-2h0m1 0h0m7-3h0m1 0h0m4 5h0m1-3h0m2-1h0m0 1h0m1 3h0m2-3h0m0-1h0m2-1h0m0 4h0m0-1h0m2 1h0m1 1h0m1-2h0m0-1h0m1-1h0m0 2h0m1-2h0m3 1h0m0-2h0m1 3h0m1-3h0m2 0h0m0 4h0m4 0h0m3-2h0m0 3h0m1 0h0m2-4h0m1 4h0m0-1h0m0-2h0m2 1h0m0-1h0m1 2h0m0-1h0m1-2h0m1 4h0m3-5h0m0 1h0m3 2h0m1-1h0m2 2h0m2 0h0m0 1h0m1 0h0m0-2h0m0-1h0m2 2h0m1 0h0m1-1h0m1-1h0m1 3h0m0-5h0m4 4h0m0-3h0m1 0h0m0 4h0m1 0h0m1 0h0m0-1h0m0-2h0m1-1h0m9 0h0m0 4h0m1-3h0m5-1h0m1 2h0m1-1h0m0 3h0m2-1h0m1-2h0m3-2h0m1 0h0m0 1h0m2 2h0m0-1h0m4 1h0m1 1h0m2-3h0m0 3h0m1 0h0m0-1h0m1 1h0m0-2h0m1-2h0m1 5h0m0-3h0m2 1h0m1-1h0m5-1h0m1-1h0m2 3h0m2 2h0m2-3h0m0 1h0m5-1h0m2-1h0m5-1h0m0 2h0m4 2h0m10 1h0m5-3h0m11-2h0m2 2h0m0 2h0m1-1h0m5-1h0m1-1h0m3 0h0m5 1h0m11 3h0m1-3h0m52 1h0m-382 4h0m0-1h0m0 4h0m1 1h0m0-1h0m1-1h0m1 0h0m1-2h0m1 0h0m0 3h0m1 1h0m0-5h0m3 1h0m1 3h0m2 1h0m0-5h0m1 0h0m0 4h0m1-3h0m0 4h0m0-2h0m3-1h0m0 1h0m2-3h0m2 0h0m0 1h0m2 3h0m1-3h0m0 4h0m0-3h0m2-1h0m1 0h0m1 2h0m0-2h0m2 0h0m0 4h0m2-3h0m0 3h0m1-4h0m0 4h0m0-5h0m1 3h0m0 2h0m4-2h0m0-1h0m1 0h0m0-1h0m1 0h0m0 4h0m0-5h0m1 0h0m0 3h0m1-2h0m1 3h0m1-2h0m2 3h0m2-1h0m1-4h0m0 1h0m1 1h0m1 3h0m1-5h0m1 5h0m0-5h0m0 4h0m1-1h0m3 1h0m0-3h0m1 0h0m1 1h0m0-1h0m2 0h0m3-1h0m2 2h0m0 3h0m1-5h0m1 0h0m0 1h0m2 3h0m0-2h0m1-1h0m0-1h0m1 2h0m0-2h0m1 3h0m0-2h0m1 0h0m1-1h0m1 1h0m1 1h0m1-2h0m1 5h0m0-5h0m0 4h0m1-3h0m0-1h0m0 4h0m0-1h0m1-1h0m4 0h0m0-2h0m2 4h0m0-1h0m1-1h0m1-2h0m0 3h0m1 1h0m1-3h0m2 1h0m0 1h0m2 0h0m2 1h0m0 1h0m2-4h0m0 4h0m1 0h0m0-5h0m0 3h0m1-2h0m1 2h0m0-2h0m0 4h0m2-4h0m1 2h0m1-1h0m2-1h0m0 4h0m5-3h0m0 3h0m2-2h0m1 1h0m0 1h0m4-3h0m1 2h0m1-4h0m1 1h0m7 3h0m1 0h0m0-1h0m1 1h0m1-2h0m1-1h0m3-1h0m0 4h0m1-1h0m1-2h0m3 0h0m0-1h0m0 4h0m2 1h0m1-5h0m0 4h0m0-1h0m1 0h0m3 1h0m1-3h0m2 2h0m0-2h0m1 4h0m0-1h0m2-2h0m0 3h0m2-5h0m1 1h0m1 1h0m0 2h0m5-2h0m3 0h0m0 2h0m2-3h0m1 1h0m0-1h0m0-1h0m2 1h0m2 3h0m1-4h0m0 3h0m1-3h0m2 2h0m1-1h0m1 0h0m2-1h0m1 1h0m1 2h0m1-2h0m1-1h0m1 1h0m0-1h0m4 0h0m0 4h0m1-2h0m1 0h0m0-2h0m1 3h0m1-3h0m1 2h0m1-2h0m1 4h0m1-3h0m0 4h0m0-2h0m1-3h0m0 3h0m3-3h0m0 4h0m1-3h0m0-1h0m3 0h0m1 4h0m1-4h0m1 1h0m1 1h0m0-2h0m0 3h0m1 0h0m0-2h0m0-1h0m1 5h0m0-3h0m1 0h0m1-2h0m1 3h0m2 1h0m1-1h0m1 0h0m0-1h0m1-1h0m0-1h0m3 2h0m1 0h0m2 3h0m0-2h0m2 0h0m1-3h0m0 3h0m4 1h0m1 1h0m1-2h0m0-2h0m1 4h0m1-2h0m2 2h0m1-2h0m0-3h0m1 0h0m4 5h0m1-5h0m1 1h0m0 1h0m2 0h0m1-2h0m2 0h0m2 3h0m3 1h0m1 1h0m2-1h0m4 0h0m2-2h0m1 0h0m1 3h0m11-5h0m4 5h0m10-2h0m18-1h0m4 3h0m1 0h0m31-3h0m10 0h0m-357 8h0m1-1h0m1 0h0m0-3h0m1 2h0m0 1h0m1-3h0m0 4h0m0-2h0m1-1h0m1 0h0m0 4h0m2-5h0m2 3h0m3-3h0m1 2h0m0 1h0m2-2h0m0 4h0m1 0h0m2-1h0m3 1h0m0-3h0m1 0h0m2 3h0m2-5h0m1 5h0m1-1h0m4 1h0m0-2h0m1 0h0m3 1h0m1-4h0m2 1h0m2 1h0m4 1h0m4 0h0m1-2h0m1 2h0m3 2h0m0-1h0m1-4h0m1 4h0m3-1h0m2 1h0m1-4h0m1 3h0m1-2h0m0-1h0m3 1h0m1 2h0m0-1h0m2 0h0m2-2h0m3 5h0m0-1h0m2-3h0m2 1h0m0-2h0m1 4h0m6-3h0m2 4h0m2-1h0m1 0h0m0-1h0m0-1h0m1-1h0m1 2h0m0 2h0m1-4h0m0 4h0m0-3h0m3-2h0m2 0h0m0 1h0m1 0h0m0-1h0m1 2h0m0-2h0m1 2h0m2-1h0m2 1h0m5 0h0m2 3h0m1-1h0m0-1h0m4 0h0m2-2h0m0-1h0m3 2h0m3-2h0m1 3h0m2-3h0m3 2h0m3-2h0m5 3h0m1-2h0m0 4h0m1-5h0m4 0h0m2 3h0m2-3h0m4 1h0m0 3h0m3-2h0m1 1h0m0-3h0m3 1h0m0-1h0m1 0h0m0 3h0m1-2h0m1-1h0m0 4h0m2-1h0m0 1h0m2-4h0m0 1h0m3 2h0m4 0h0m2 0h0m0-3h0m1 0h0m2 2h0m1 3h0m0-5h0m1 0h0m1 5h0m3-4h0m0-1h0m1 1h0m2 2h0m1 0h0m2-3h0m0 3h0m7-2h0m1 4h0m1-3h0m2-2h0m0 1h0m1 0h0m1 0h0m0-1h0m1 3h0m0-2h0m1 0h0m0-1h0m2 2h0m1-1h0m6 3h0m1-4h0m1 3h0m1 0h0m0-1h0m0-1h0m1 0h0m0-1h0m1 3h0m2-3h0m1 0h0m1 3h0m1-1h0m1 2h0m2-2h0m2 0h0m3-1h0m4 4h0m6 0h0m4-3h0m4 1h0m10 1h0m4 0h0m4-2h0m2 1h0m2-1h0m4-2h0m1 2h0m10-1h0m5 2h0m1 0h0m3-2h0m39 1h0m-335 4h0m2 1h0m0-1h0m1 0h0m0 1h0m1 2h0m0-1h0m1 0h0m3-2h0m1 1h0m0 4h0m2-3h0m1 3h0m0-5h0m1 2h0m0-1h0m1 2h0m0-1h0m9 0h0m1-1h0m4 2h0m1 0h0m1-3h0m1 3h0m3 2h0m6-2h0m1 2h0m1-5h0m4 4h0m4-2h0m1 1h0m2-2h0m1 3h0m2 1h0m2 0h0m3-2h0m1 1h0m4 0h0m1 0h0m0-1h0m2 0h0m8-2h0m0 4h0m1-1h0m4 0h0m1-3h0m0 4h0m1-3h0m4 2h0m0-1h0m2 0h0m1-3h0m1 2h0m5-2h0m11 1h0m1 3h0m1-4h0m4 2h0m3 0h0m19-2h0m7 2h0m1-2h0m0 4h0m8-2h0m5 0h0m1-2h0m4 0h0m4 1h0m1 0h0m1 0h0m1 0h0m1-1h0m7 1h0m7-1h0m8 0h0m20 1h0m1-1h0m2 2h0m31-2h0m8 1h0m8-1h0m-226 6h0m43 0h0m5 0h0m13 0h0" stroke="#9a9a9a" stroke-width="4" stroke-linecap="round" stroke-opacity="0.42"/>
<path d="M163 1385h0m5-4h0m-17 15h0m2-2h0m1-1h0m-10 8h0m2 0h0m1-2h0m0-1h0m24 4h0m1 0h0m0-1h0m2-2h0m1-1h0m-37 10h0m2-2h0m25 2h0m1-1h0m3-3h0m1 0h0m-40 11h0m5-5h0m29 0h0m4 5h0m1-1h0m1 0h0m-47 7h0m5-4h0m27 2h0m3-3h0m4 5h0m2-2h0m1-1h0m1-1h0m1-1h0m10 3h0m9 2h0m-67 4h0m29 2h0m0-1h0m1 0h0m1-1h0m2-3h0m0 2h0m2 3h0m3-2h0m2-2h0m0-1h0m7 4h0m1-1h0m0 1h0m1-1h0m1-2h0m0 2h0m1-1h0m1-1h0m6 4h0m2-1h0m1-1h0m2-1h0m-72 9h0m33 0h0m2-3h0m1 0h0m1-1h0m0 4h0m1 0h0m0-1h0m3-2h0m0-1h0m1 0h0m0-1h0m5 4h0m2 0h0m1-1h0m5-3h0m3 4h0m4-2h0m5 3h0m6-4h0m0 1h0m-73 4h0m28 4h0m1-1h0m0 2h0m1 0h0m0-3h0m1-2h0m2 2h0m1 0h0m2-2h0m9 0h0m2 5h0m5-4h0m1 1h0m2-1h0m3 4h0m1-1h0m1 0h0m3-2h0m2-2h0m1 0h0m-75 8h0m1-1h0m31 4h0m0-1h0m1 0h0m1 0h0m1-3h0m2 0h0m5 2h0m2-1h0m0-1h0m2 0h0m1 4h0m0-5h0m3 4h0m1-1h0m0-1h0m1 1h0m1-1h0m2-2h0m1 5h0m1 0h0m1-1h0m1-1h0m1 0h0m1 0h0m1-2h0m-71 9h0m1 0h0m1-1h0m2-2h0m30 4h0m0-1h0m2 1h0m0-2h0m2 0h0m0-2h0m5 4h0m0-1h0m2-1h0m2-1h0m4 2h0m2-3h0m0 2h0m0-1h0m1 0h0m2 3h0m1 0h0m2-2h0m1-1h0m1-1h0m0 1h0m2-2h0m1 1h0m-35 9h0m0-1h0m1 2h0m1-1h0m0-2h0m1-1h0m1 1h0m0-2h0m6 4h0m3-3h0m1 4h0m1 0h0m-19 5h0m1-3h0m4-1h0m2 5h0m0-1h0m1-1h0m2-2h0m0 1h0m6 0h0m1-1h0m0-1h0m1 5h0m3-2h0m-27 8h0m1 0h0m1-2h0m1-1h0m0-1h0m5 3h0m1-1h0m1-1h0m1-1h0m1-1h0m1 4h0m2-1h0m1-1h0m1 3h0m0-5h0m4 2h0m1-2h0m0 1h0m1-1h0m-26 9h0m0-1h0m5 3h0m2-2h0m1-3h0m2 5h0m0-5h0m1 4h0m1-1h0m0-1h0m1-1h0m1 3h0m3-1h0m2-3h0m1 0h0m-25 7h0m1-1h0m3 4h0m0 1h0m1 0h0m0-1h0m3 1h0m2-2h0m1 0h0m1-2h0m1 3h0m1-1h0m3-2h0m-14 5h0m4 0h0m1 0h0m3 0h0m0 1h0m3 0h0m1 2h0m0-1h0m3-1h0m3 4h0m2-2h0m0-1h0m1 0h0m3-1h0m0 1h0m1 0h0m1 2h0m2 1h0m-21 6h0m1 0h0m9-3h0m1 2h0m2-4h0m0 2h0m1 0h0m1 1h0m1 1h0m1-4h0m2 2h0m2 2h0m1-3h0m0-1h0m0 4h0m2-2h0m0-1h0m1 2h0m1 1h0m-25 4h0m0-1h0m0-1h0m1 1h0m1 2h0m1 0h0m0 2h0m0-1h0m1 1h0m9-4h0m1 2h0m0-1h0m1 2h0m1 1h0m1-5h0m1 1h0m2 2h0m1 2h0m2-4h0m1 2h0m1-1h0m1 2h0m1-4h0m0 4h0m1-3h0m2 1h0m1 2h0m1 1h0m-64 6h0m37-5h0m2 4h0m0-1h0m0-1h0m1 2h0m1 1h0m1 0h0m10-2h0m0 2h0m4-3h0m1 0h0m0 1h0m3-3h0m1 1h0m1 1h0m1 2h0m1 1h0m0-1h0m3-2h0m3 2h0m-67 2h0m40 1h0m2 3h0m1 0h0m7-4h0m3 3h0m1 1h0m3-3h0m0-1h0m1 2h0m0-1h0m1 1h0m1 2h0m4-3h0m1 1h0m2 2h0m6-1h0m-26 7h0m9-4h0m1 2h0m1 1h0m1 2h0m3-5h0m1 0h0m4 5h0m3-4h0m1 2h0m1 0h0m1 2h0m2-5h0m1 0h0m1 0h0m2 3h0m1 1h0m2 1h0m-67 2h0m1 1h0m1 2h0m2 1h0m30-5h0m1 1h0m2 3h0m0-1h0m0-1h0m10 0h0m1 1h0m0-1h0m1 1h0m1 2h0m1 0h0m1-5h0m1 0h0m2 1h0m2 3h0m1 0h0m3-4h0m3 3h0m1 1h0m2-4h0m3 2h0m1 2h0m1 0h0m1 1h0m-68 1h0m1 2h0m1 0h0m1 1h0m2 2h0m29-5h0m1 1h0m2 0h0m2 4h0m9-3h0m0 1h0m6-3h0m2 2h0m0-1h0m1 1h0m0 2h0m1 0h0m1 0h0m5-1h0m1-1h0m1 1h0m4-2h0m1 0h0m1 1h0m1 1h0m0 1h0m1 0h0m1 1h0m-67 2h0m1 2h0m1-1h0m30-2h0m2 2h0m1 1h0m1 1h0m1 1h0m8-4h0m3 3h0m4-4h0m1 0h0m1 2h0m0-1h0m1 1h0m1 1h0m4-3h0m1 0h0m4 4h0m1 1h0m1 0h0m3-3h0m4 3h0m-67 3h0m0-1h0m3 3h0m1 1h0m28-3h0m1 0h0m1 2h0m1 1h0m0-1h0m10-3h0m2 3h0m2 1h0m6-3h0m6-2h0m0 1h0m3 2h0m1 0h0m4-1h0m2 1h0m1 1h0m-67 3h0m0-1h0m2 2h0m1 2h0m0-1h0m1 1h0m2 1h0m25-5h0m1 1h0m1 1h0m0-1h0m2 3h0m9-4h0m1 0h0m2 2h0m0 1h0m2 1h0m6-4h0m1 1h0m2 3h0m1 0h0m0 1h0m1 0h0m3-5h0m2 1h0m0 1h0m2 2h0m2-4h0m-63 6h0m2 2h0m1 1h0m1 0h0m0 1h0m26-4h0m1 1h0m0-1h0m2 2h0m0 1h0m3 2h0m10-3h0m1 1h0m1 1h0m2 1h0m5-5h0m1 2h0m0-1h0m2 2h0m-52 3h0m1 0h0m1 1h0m1 1h0m0 1h0m2 1h0m0 1h0m25-5h0m1 1h0m1 1h0m0-1h0m2 3h0m1 0h0m9-4h0m1 1h0m0-1h0m1 2h0m3 3h0m-42 1h0m1 1h0m1 0h0m0 2h0m1 0h0m1 1h0m0-1h0m2 2h0m23-5h0m1 2h0m0-2h0m2 3h0m1 2h0m0-1h0m1 1h0m9-5h0m-37 6h0m1 1h0m0-1h0m1 1h0m2 1h0m1 2h0m23-4h0m-20 7h0m4 3h0" stroke="#999" stroke-width="4.6" stroke-linecap="round" stroke-opacity="0.85"/>
<path d="M196.3 1431.7L203.3 1428.9L210.3 1427.7L217.3 1428.8L224.3 1429.9L231.4 1431.1L238.4 1432.5L245.4 1433.8L252.4 1434.6L259.5 1435.5L266.5 1436.4L273.5 1437.3L280.5 1438.2L287.5 1438.9L294.6 1439.8L301.6 1440.7L308.6 1441.6L315.6 1442.5L322.7 1443.4L329.7 1444.3L336.7 1445.2L343.7 1446.2L350.7 1447.9L357.8 1449.9L364.8 1451.9L371.8 1453.8L378.8 1455.8L385.9 1457.7L392.9 1459.7L399.9 1461.6L399.9 1468.1L392.9 1468.1L385.9 1468.1L378.8 1468.1L371.8 1468.1L364.8 1468.1L357.8 1468.1L350.7 1468.1L343.7 1468.0L336.7 1467.9L329.7 1467.8L322.7 1467.7L315.6 1467.6L308.6 1467.5L301.6 1467.4L294.6 1467.2L287.5 1467.1L280.5 1467.0L273.5 1466.2L266.5 1465.3L259.5 1464.4L252.4 1463.6L245.4 1462.7L238.4 1459.9L231.4 1455.7L224.3 1451.5L217.3 1447.5L210.3 1444.0L203.3 1440.5L196.3 1437.0Z" fill="#3A7CC6" fill-opacity="0.92"/>
<path d="M224 1366h0m-17 2h0m33 5h0m-30 4h0m22 0h0m32 1h0m40 14h0m-113 11h0m21-4h0m87 3h0m-98 2h0m42 1h0m23 2h0m-67 7h0m41 1h0m37 0h0m-81 4h0m33-2h0m16 3h0m28-1h0m-60 4h0m2 2h0m28 0h0m84 2h0m-133 3h0m9 3h0m4-5h0m2 2h0m1 2h0m2-3h0m8 4h0m13-4h0m-27 9h0m6 1h0m19-5h0m6 3h0m8 1h0m3-3h0m2 1h0m26-2h0m2 5h0m35-3h0m-101 6h0m2-2h0m7 0h0m17 1h0m4 0h0m4 3h0m4-2h0m12 0h0m13 2h0m1-3h0m10 0h0m9 0h0m-69 10h0m17-4h0m1 4h0m1-4h0m0-1h0m2 1h0m14 1h0m11-2h0m16 5h0m21-5h0m2 4h0m8-2h0m13 0h0m42 1h0m-127 3h0m1 1h0m6 0h0m3 4h0m4-1h0m9-3h0m20 1h0m18 1h0m40 1h0m3-4h0m3 5h0m11-1h0m2-2h0m13 0h0m15 3h0m5-1h0m-148 5h0m9-3h0m2 1h0m5-1h0m2 0h0m1 5h0m4-4h0m1 3h0m2-2h0m4 2h0m2 0h0m1-1h0m8 1h0m1-4h0m6 4h0m5-1h0m2 1h0m1-1h0m0-3h0m10 5h0m4-1h0m13 1h0m1-4h0m0 2h0m1 1h0m16 0h0m18-2h0m2 3h0m26-2h0m-114 3h0m25 0h0m0 2h0m9-1h0m23 2h0m2-1h0m3 0h0m7 1h0m15-1h0m6 0h0m5 0h0m8 0h0m6-2h0m1 1h0m3 0h0m16 1h0" stroke="#3A7CC6" stroke-width="7.8" stroke-linecap="round" stroke-opacity="0.5"/>
<path d="M227 1371h0m-47 5h0m22-1h0m46 6h0m20 4h0m-38 10h0m3-2h0m4 4h0m-36 4h0m1-3h0m10 16h0m26 1h0m22-2h0m-54 7h0m12-2h0m9-2h0m17 3h0m95-3h0m-140 7h0m7 0h0m4 4h0m23 0h0m39-3h0m-64 7h0m7-1h0m2-1h0m18 1h0m10 3h0m28-5h0m-82 6h0m13 1h0m5 1h0m0 2h0m0-3h0m2 3h0m7 0h0m14 1h0m0-1h0m7-2h0m9 1h0m60 1h0m4-2h0m5 2h0m57-1h0m-154 5h0m11-2h0m3 4h0m72 0h0m9-2h0m34 1h0m-122 3h0m2 0h0m1 1h0m7 0h0m11 4h0m10 0h0m32 0h0m1-3h0m6-1h0m5 4h0m21 0h0m-94 2h0m3 0h0m4 4h0m17-4h0m2 3h0m9-3h0m14 2h0m7-2h0m0 4h0m11-1h0m3-3h0m1 4h0m1-4h0m0 1h0m2 1h0m32-1h0m3-2h0m12 4h0m31-2h0m-130 6h0m8 2h0m7-3h0m3 4h0m1-2h0m4 1h0m5 0h0m4-2h0m2 1h0m1 2h0m5-3h0m2 3h0m2 0h0m3 0h0m26-2h0m1 2h0m1 0h0m0-3h0m9 2h0m8-3h0m8 2h0m3 2h0m9-3h0m5 2h0m38-2h0m-134 4h0m7 1h0m1-1h0m9 2h0m8 0h0m1-1h0m8 1h0m4-1h0m1 1h0m11 0h0m7-1h0m1 0h0m1-1h0m4 1h0m1 1h0m6 0h0m2-2h0m9 2h0m2-2h0m15 1h0m2 2h0m7-1h0m6 1h0" stroke="#3A7CC6" stroke-width="7.8" stroke-linecap="round" stroke-opacity="0.5"/>
<path d="M223 1366h0m-49 14h0m75 2h0m46 8h0m-69 3h0m77 0h0m-109 11h0m17 6h0m21 2h0m55 0h0m-93 8h0m10-3h0m1 2h0m2 2h0m3-5h0m11 5h0m24 0h0m-46 2h0m3 2h0m6 1h0m2-4h0m9 3h0m6-1h0m1 3h0m10-1h0m0-4h0m-32 11h0m16-4h0m3-1h0m1 2h0m4 0h0m65-1h0m2 2h0m-81 4h0m35 1h0m2 3h0m1 0h0m2 0h0m9-1h0m17-2h0m4 2h0m15-1h0m-83 4h0m0 2h0m4-3h0m4 5h0m4-5h0m12 1h0m5 4h0m6-3h0m14 2h0m18-4h0m9 4h0m25 1h0m4-2h0m28 2h0m29 0h0m15-5h0m-167 11h0m11 0h0m2 0h0m9 0h0m10-2h0m2 0h0m4-2h0m1-1h0m1 2h0m1-1h0m22 4h0m23-4h0m2 1h0m-84 4h0m3 2h0m2-1h0m2 1h0m3 2h0m7 1h0m1 0h0m2-2h0m0-3h0m1 2h0m8-2h0m31 5h0m0-4h0m6 1h0m22 3h0m6-1h0m31-1h0m5 0h0m9-3h0m25 3h0m11 1h0m-151 5h0m12 2h0m3 0h0m6-1h0m10-2h0m4-1h0m6 3h0m4-3h0m4-1h0m1 1h0m1 3h0m5-3h0m2 3h0m11-1h0m14 0h0m0 2h0m0-3h0m1 0h0m0 3h0m12-1h0m22 0h0m10-1h0m1 0h0m-107 3h0m6 0h0m8 1h0m6 0h0m28 0h0m4 0h0m6-1h0m9 3h0m30 0h0m5-2h0m12 0h0m3 2h0m6 0h0m16-3h0" stroke="#3A7CC6" stroke-width="7.8" stroke-linecap="round" stroke-opacity="0.5"/>
<path d="M177.8 1545.1L185.0 1541.4L192.2 1537.9L199.4 1536.3L206.5 1534.7L213.7 1534.4L220.9 1534.4L228.1 1534.4L235.3 1533.9L242.5 1533.0L249.7 1532.1L256.8 1531.3L264.0 1530.4L271.2 1529.5L278.4 1528.7L285.6 1527.8L292.8 1527.0L299.9 1526.3L307.1 1525.5L314.3 1524.8L321.5 1524.0L328.7 1523.3L335.9 1522.5L343.0 1521.7L350.2 1519.5L357.4 1516.8L364.6 1514.1L371.8 1511.5L379.0 1508.8L386.1 1506.1L386.1 1494.9L379.0 1495.0L371.8 1495.2L364.6 1495.3L357.4 1495.5L350.2 1495.6L343.0 1495.7L335.9 1495.9L328.7 1496.0L321.5 1496.2L314.3 1496.3L307.1 1496.5L299.9 1496.6L292.8 1496.7L285.6 1496.9L278.4 1497.1L271.2 1497.4L264.0 1497.7L256.8 1498.1L249.7 1498.4L242.5 1498.7L235.3 1499.1L228.1 1500.1L220.9 1502.3L213.7 1504.4L206.5 1508.0L199.4 1518.2L192.2 1528.4L185.0 1536.2L177.8 1543.7Z" fill="#E8202A" fill-opacity="0.92"/>
<path d="M270 1499h0m30-1h0m9 1h0m10-1h0m6 1h0m5-2h0m6 0h0m5 2h0m14-2h0m1-1h0m6 1h0m1 2h0m4 0h0m1-3h0m2 2h0m3-1h0m7 2h0m5-2h0m2 2h0m16-3h0m32 3h0m-216 5h0m4-1h0m3 2h0m1 0h0m8-3h0m1-1h0m1-1h0m2 1h0m6 3h0m0-1h0m4-3h0m2 4h0m3-3h0m1-1h0m1 0h0m2 4h0m3-3h0m1 4h0m5-5h0m1 5h0m1-2h0m9 1h0m11-2h0m2 3h0m7-2h0m0-1h0m6 1h0m5-1h0m10-2h0m2 2h0m0-1h0m3 1h0m2 3h0m1-4h0m5 3h0m10-1h0m2-1h0m1 3h0m1-3h0m1-2h0m2 1h0m0-1h0m12 3h0m4-2h0m10 1h0m1-1h0m3 0h0m3 0h0m11 1h0m6 2h0m7-1h0m20-3h0m8 3h0m0-2h0m3 2h0m-229 7h0m7-4h0m2 5h0m1-3h0m7 0h0m0 3h0m1-4h0m5 1h0m9 1h0m1-2h0m7-1h0m1 3h0m4-3h0m0 4h0m3-3h0m5 0h0m0 4h0m0-5h0m8 5h0m1-1h0m4-3h0m8 3h0m1-2h0m1 1h0m1 0h0m1 0h0m3-3h0m1 2h0m8-1h0m0 3h0m1-3h0m8 0h0m5 1h0m1 1h0m1-1h0m8-2h0m5 1h0m2 1h0m3 3h0m1-4h0m8 1h0m2 0h0m2-2h0m2 1h0m14 3h0m2-4h0m2 4h0m13-4h0m8 0h0m12 2h0m5 2h0m7-3h0m-205 7h0m1 0h0m1-1h0m2 0h0m10 1h0m8 1h0m2 2h0m0-3h0m3 0h0m6 0h0m1-2h0m1 3h0m6-3h0m3 3h0m3-3h0m2 5h0m2-2h0m9-3h0m0 2h0m1 1h0m3-1h0m1 3h0m2-3h0m1-1h0m3-1h0m8 2h0m6-2h0m11 2h0m8-2h0m5 1h0m6 2h0m1-3h0m12 3h0m6-1h0m8 2h0m6 0h0m4-4h0m10 4h0m22-4h0m2 0h0m-188 7h0m1-1h0m17 3h0m1-1h0m2-2h0m2 5h0m8-4h0m9 2h0m8-2h0m8 2h0m5 1h0m4 1h0m1-2h0m7-2h0m9 0h0m8 2h0m1 1h0m4-3h0m5 1h0m3 2h0m11 0h0m2 0h0m5 0h0m10 1h0m20-3h0m12-1h0m23 4h0m14-4h0m-209 10h0m4-2h0m3 0h0m3-3h0m2 2h0m5 2h0m2 0h0m2 1h0m1-4h0m6 0h0m1 3h0m4-1h0m0-1h0m3-2h0m13 0h0m21 0h0m3 1h0m12 0h0m29 2h0m-118 7h0m4-2h0m4-1h0m8-1h0m19 2h0m7 2h0m11-2h0m6 1h0m8-1h0m4 3h0m15-3h0m3 2h0m9-2h0m2-1h0m3 2h0m24 2h0m-127 3h0m1-2h0m15 2h0m1 2h0m2-3h0m37 0h0m6 4h0m6-5h0m13 0h0m18 1h0m18 0h0m-104 8h0m8-1h0m19-1h0m2-1h0m1 2h0m35 1h0m20 1h0m4-4h0m25 2h0m-132 4h0m8 1h0m3 0h0m17-1h0m27 2h0m26 0h0m33 1h0m-107 8h0m60-5h0m20 2h0m47-2h0m-130 8h0m4 0h0m2 1h0m53-1h0m10 1h0m-79 4h0m2 1h0m6-1h0m6 0h0m0-1h0m3 5h0m1 0h0m-10 3h0m11-1h0m0-1h0m2 3h0m1 1h0m6-4h0m-44 6h0m1 1h0m26-1h0m15 0h0m23 5h0m37-5h0m-90 11h0m1 0h0m10-2h0m11-2h0m3 4h0m138-4h0m-161 5h0m4 3h0m2 2h0m22-1h0m30-4h0m20 3h0m-71 3h0m1 1h0m2 3h0m7-4h0m14 0h0m-17 7h0m3 2h0m20-2h0m-24 7h0m11 1h0m3 3h0m1 2h0m2 1h0m0-1h0m-9 4h0m12 0h0m1 0h0m2 0h0m0 3h0m3 2h0m110-5h0m-108 7h0m2 1h0m3 3h0m5 5h0m1 1h0m1 0h0m5 6h0m1 0h0m1 1h0m2 1h0m2 2h0m1 2h0m3 3h0m2 1h0m4 4h0m0 1h0m3 1h0" stroke="#E8202A" stroke-width="7.8" stroke-linecap="round" stroke-opacity="0.5"/>
<path d="M281 1499h0m6-1h0m1 1h0m2 0h0m10 0h0m11-2h0m2 2h0m2 0h0m2-1h0m2 1h0m4-2h0m3 1h0m16 1h0m1 0h0m4 0h0m6-2h0m8 2h0m8-1h0m1-2h0m11 0h0m1 0h0m6 0h0m3 3h0m1-2h0m7 0h0m28 0h0m4 1h0m14-1h0m1 1h0m-221 5h0m1 2h0m1 0h0m3 0h0m1-4h0m3 3h0m1 0h0m3-3h0m3 3h0m2-3h0m5-1h0m2 3h0m1-1h0m0-1h0m1-1h0m1 5h0m2-5h0m4 5h0m3-1h0m4-1h0m2-2h0m7-1h0m2 4h0m2-1h0m0 2h0m2-4h0m4 0h0m1 3h0m2-3h0m7-1h0m1 3h0m3 1h0m3 1h0m15-4h0m6 1h0m1 3h0m10-4h0m2 0h0m8 3h0m1-2h0m8-1h0m3 1h0m4 0h0m3-2h0m12 3h0m1-2h0m0 2h0m2-1h0m1-1h0m1 4h0m7-1h0m6 1h0m3-3h0m1-2h0m4 3h0m1 1h0m0-3h0m1-1h0m27 3h0m14 1h0m-235 6h0m2 0h0m3 1h0m0-5h0m10 2h0m0-1h0m6 2h0m0-3h0m0 4h0m13-2h0m0-1h0m1 3h0m5-3h0m7 4h0m1-4h0m10 1h0m7-2h0m17 1h0m7-1h0m0 4h0m1-3h0m4-1h0m1 1h0m1 0h0m3-1h0m4 5h0m1-4h0m1 3h0m1 0h0m3-2h0m1-2h0m3 4h0m1-4h0m1 0h0m2 3h0m1 2h0m0-5h0m6 0h0m8 5h0m0-3h0m4 1h0m8 0h0m3 0h0m15 1h0m1-1h0m33-3h0m22 4h0m-226 7h0m1 0h0m11-4h0m1 0h0m3 0h0m4-1h0m13 1h0m8 2h0m7 0h0m3-1h0m2-2h0m1 3h0m8-3h0m2 4h0m5-2h0m13-1h0m11 2h0m2-3h0m11 3h0m3 0h0m3 2h0m3-3h0m3 1h0m21 0h0m6-3h0m2 2h0m19 0h0m19 1h0m2-3h0m11 5h0m9-4h0m-208 6h0m2 0h0m0-1h0m8 5h0m1 0h0m4-2h0m1-1h0m14 0h0m14-2h0m7 4h0m2-1h0m9 2h0m9-1h0m1-3h0m4 3h0m0-3h0m9 4h0m2-2h0m18 2h0m12-2h0m16 0h0m4-3h0m3 3h0m8 0h0m4 0h0m11-2h0m-151 10h0m0-3h0m14 2h0m2-4h0m1 0h0m6 4h0m6-2h0m0 3h0m1-1h0m4-2h0m2 1h0m2 0h0m2-1h0m6-2h0m3 4h0m7-1h0m2-1h0m6 2h0m19-2h0m7 2h0m2-1h0m7 2h0m0-2h0m1-3h0m21 3h0m9 1h0m23-2h0m30 3h0m13-5h0m-214 7h0m4 3h0m0-3h0m5 2h0m6 0h0m21 1h0m7-3h0m14 1h0m35 0h0m38-2h0m1 0h0m5 0h0m4 0h0m6 3h0m70-1h0m-210 7h0m2 1h0m40-1h0m15 1h0m21 0h0m17-4h0m1 5h0m14-3h0m2-2h0m40 0h0m19 1h0m49-1h0m-200 6h0m18 2h0m14 2h0m-64 3h0m32 2h0m17-2h0m48 4h0m8 0h0m-81 2h0m10-1h0m5 1h0m20 1h0m0 2h0m90-2h0m-147 6h0m2 3h0m6-2h0m10-3h0m8 5h0m5-3h0m12 2h0m-54 2h0m11 2h0m31 2h0m12 0h0m10-3h0m-80 10h0m37-3h0m21 3h0m111-5h0m-166 8h0m1 2h0m24-2h0m0-1h0m0-1h0m12 0h0m-29 10h0m0-1h0m22-3h0m1 1h0m1 2h0m7-1h0m19-2h0m13 1h0m2 2h0m6-2h0m-41 8h0m1 0h0m1 1h0m-22 2h0m3 3h0m1 1h0m19-4h0m3 3h0m2 2h0m0-1h0m147-2h0m-174 7h0m7-2h0m0 1h0m2 1h0m21 0h0m43-3h0m-70 6h0m1 1h0m3 4h0m7-3h0m2 1h0m1 2h0m2 2h0m6 5h0m4 3h0m5 5h0m0-1h0m5 5h0m1 2h0m5 4h0m3 3h0m24 0h0m-19 4h0m1 2h0m1 0h0m2 1h0m3 4h0m1 0h0m1 1h0m26 1h0m-23 2h0m4 3h0" stroke="#E8202A" stroke-width="7.8" stroke-linecap="round" stroke-opacity="0.5"/>
<path d="M254 1499h0m6 0h0m21 0h0m2-1h0m4 1h0m7-1h0m3 1h0m1-1h0m9 0h0m3 0h0m10 0h0m1 0h0m5 0h0m18 1h0m5 0h0m2-1h0m1 0h0m2 0h0m6-1h0m0 1h0m10 1h0m14 0h0m5 0h0m6-1h0m32 1h0m16 0h0m-223 5h0m2 1h0m6 0h0m1 0h0m1-2h0m1 1h0m1-1h0m8-1h0m4 3h0m3-2h0m1-2h0m0-1h0m4 1h0m3 3h0m2 1h0m3-3h0m1 1h0m1-1h0m5 0h0m2-2h0m2 1h0m1 4h0m2-2h0m6 1h0m1 1h0m2-3h0m6 3h0m0-1h0m8-1h0m1-3h0m2 1h0m7 1h0m2 2h0m0-3h0m5 3h0m0-1h0m5-1h0m2-1h0m0 4h0m5 0h0m4-3h0m0 2h0m3-3h0m1-1h0m3 3h0m4-1h0m5-1h0m1 1h0m2 1h0m8-2h0m1 4h0m3-3h0m11 3h0m7-2h0m5-2h0m2 2h0m5-1h0m7 3h0m25-3h0m7-2h0m17 3h0m63 1h0m-299 4h0m10 3h0m5-1h0m0-2h0m4-2h0m1 0h0m16 0h0m1 1h0m1-1h0m2 5h0m2-3h0m3 0h0m9-1h0m3-1h0m4 5h0m12-2h0m2 0h0m6-2h0m1 1h0m1 2h0m1-4h0m8 1h0m3 0h0m9 4h0m4-5h0m4 5h0m5-1h0m2-1h0m1 0h0m12-3h0m4 1h0m4 4h0m5-2h0m2-3h0m1 3h0m9-2h0m5 0h0m19 2h0m12 1h0m6-4h0m12 3h0m-215 4h0m14-1h0m1 0h0m1 3h0m5-2h0m3 2h0m4 2h0m0-5h0m0 2h0m1 1h0m13-2h0m2 4h0m9-2h0m4 0h0m1 0h0m0-1h0m4 0h0m0 3h0m0-5h0m4 3h0m6-1h0m2-2h0m4 2h0m6 0h0m4 3h0m4-3h0m6-1h0m1 1h0m5 2h0m0 1h0m4-1h0m2 1h0m4 0h0m0-1h0m1-3h0m14 0h0m9-1h0m2 2h0m3 3h0m4 0h0m3-1h0m10-2h0m24 3h0m5-5h0m53 2h0m-250 7h0m9-1h0m1 2h0m1-2h0m1 2h0m22-4h0m1 2h0m6 0h0m1 2h0m14-1h0m5 1h0m14 0h0m14-1h0m9 0h0m4 2h0m1-2h0m57 1h0m20 0h0m16-3h0m-196 8h0m1 0h0m3-3h0m3 4h0m14 0h0m2 0h0m14 1h0m2-5h0m11 3h0m28 0h0m4 0h0m3-2h0m5 3h0m8-3h0m-107 10h0m25-5h0m13 2h0m2 2h0m10-3h0m4 0h0m4 4h0m13-4h0m20 4h0m31-4h0m11-1h0m36 5h0m24-2h0m38-3h0m-232 8h0m2 1h0m2 2h0m9-3h0m2 3h0m1-4h0m14-1h0m1 3h0m10-3h0m13 2h0m1 1h0m9-3h0m0 3h0m43 1h0m1-1h0m10-2h0m17 3h0m64 1h0m-200 2h0m7 1h0m31 0h0m2-1h0m16 0h0m9 3h0m5-4h0m50 1h0m40 0h0m-152 5h0m1 4h0m16-3h0m5 1h0m8 0h0m32-2h0m12 0h0m11 3h0m7 0h0m6-3h0m18 4h0m-125 5h0m3-2h0m29 4h0m0-1h0m37 1h0m34-5h0m-102 7h0m1 1h0m1 1h0m43-1h0m17 0h0m55-1h0m-126 6h0m5 4h0m4 0h0m5-4h0m1 2h0m1 1h0m0-1h0m1 1h0m38-1h0m166 1h0m-237 7h0m21-5h0m1 1h0m13 0h0m4 4h0m6 0h0m19 0h0m1-2h0m41-3h0m-105 6h0m5 4h0m21-3h0m5 4h0m39 0h0m3-4h0m4 0h0m-69 7h0m3 2h0m2 1h0m23-1h0m11-1h0m-31 5h0m1 1h0m42-2h0m-11 10h0m28-5h0m-50 6h0m6 5h0m99-5h0m-96 8h0m2 1h0m3 3h0m0 1h0m-1 6h0m3 1h0m8 2h0m2 0h0m0 6h0m2-2h0m1 0h0m6 5h0m5 5h0m3 2h0m5 5h0m1 1h0m1 1h0m0-1h0m2 3h0m3 2h0m3 2h0m1 2h0m0-1h0m27 24h0" stroke="#E8202A" stroke-width="7.8" stroke-linecap="round" stroke-opacity="0.5"/>
</g>
<line x1="59.8" y1="1482.7" x2="535.5" y2="1482.7" stroke="#C0504D" stroke-width="1.3" />
<rect x="59.8" y="1353.4" width="475.7" height="340.5999999999999" fill="none" stroke="#7a7a7a" stroke-width="1.2"/>
<line x1="124.7" y1="1694.0" x2="124.7" y2="1698.0" stroke="#333" stroke-width="1.2" />
<line x1="262.3" y1="1694.0" x2="262.3" y2="1698.0" stroke="#333" stroke-width="1.2" />
<line x1="399.9" y1="1694.0" x2="399.9" y2="1698.0" stroke="#333" stroke-width="1.2" />
<line x1="55.8" y1="1395.5" x2="59.8" y2="1395.5" stroke="#333" stroke-width="1.2" />
<line x1="55.8" y1="1482.7" x2="59.8" y2="1482.7" stroke="#333" stroke-width="1.2" />
<line x1="55.8" y1="1569.9" x2="59.8" y2="1569.9" stroke="#333" stroke-width="1.2" />
<line x1="55.8" y1="1657.0" x2="59.8" y2="1657.0" stroke="#333" stroke-width="1.2" />
<text x="49.4" y="1395.5" font-size="17" text-anchor="middle" fill="#111" transform="rotate(-90 49.4 1395.5)">5</text>
<text x="49.4" y="1482.7" font-size="17" text-anchor="middle" fill="#111" transform="rotate(-90 49.4 1482.7)">0</text>
<text x="49.4" y="1569.9" font-size="17" text-anchor="middle" fill="#111" transform="rotate(-90 49.4 1569.9)">-5</text>
<text x="49.4" y="1657.0" font-size="17" text-anchor="middle" fill="#111" transform="rotate(-90 49.4 1657.0)">-10</text>
<text x="125.0" y="1717.4" font-size="15.8" text-anchor="middle" fill="#111">0</text>
<text x="262.5" y="1717.4" font-size="15.8" text-anchor="middle" fill="#111">5</text>
<text x="400.0" y="1717.4" font-size="15.8" text-anchor="middle" fill="#111">10</text>
<text x="316.4" y="1735.5" font-size="21" text-anchor="middle" fill="#111">log(baseMean)</text>
<text x="25.7" y="1521.5" font-size="20.8" text-anchor="middle" fill="#111" transform="rotate(-90 25.7 1521.5)">log2FoldChange</text>
<text x="525.6" y="1394.7" font-size="17.9" text-anchor="end" fill="#2E3C7C">381 increased (Log<tspan font-size="11.5" dy="4">2</tspan><tspan dy="-4">FC &gt; 1)</tspan></text>
<text x="525.6" y="1422.8" font-size="17.9" text-anchor="end" fill="#111">adj. <tspan font-style="italic">p-value</tspan> &lt; 0.05</text>
<text x="524" y="1674.9" font-size="17.9" text-anchor="end" fill="#7A1E26">885 decreased (Log<tspan font-size="11.5" dy="4">2</tspan><tspan dy="-4">FC &lt; -1)</tspan></text>
</g>
<g id="pf">
<text x="606.0" y="910.0" font-size="29" font-weight="bold">f</text>
<line x1="700.8" y1="943.9" x2="700.8" y2="1211.6" stroke="#111" stroke-width="2.3" />
<line x1="689.3" y1="1210.5" x2="890.0" y2="1210.5" stroke="#111" stroke-width="2.3" />
<line x1="689.3" y1="996.5" x2="700.8" y2="996.5" stroke="#111" stroke-width="2.3" />
<line x1="689.3" y1="1049.9" x2="700.8" y2="1049.9" stroke="#111" stroke-width="2.3" />
<line x1="689.3" y1="1103.3" x2="700.8" y2="1103.3" stroke="#111" stroke-width="2.3" />
<line x1="689.3" y1="1156.9" x2="700.8" y2="1156.9" stroke="#111" stroke-width="2.3" />
<line x1="689.3" y1="1210.5" x2="700.8" y2="1210.5" stroke="#111" stroke-width="2.3" />
<line x1="689.3" y1="957.7" x2="700.8" y2="957.7" stroke="#111" stroke-width="2.3" />
<text x="679.3" y="951.1" font-size="20" text-anchor="end" fill="#111">100</text>
<text x="679.3" y="1003.7" font-size="20" text-anchor="end" fill="#111">80</text>
<text x="679.3" y="1057.1" font-size="20" text-anchor="end" fill="#111">60</text>
<text x="679.3" y="1110.5" font-size="20" text-anchor="end" fill="#111">40</text>
<text x="679.3" y="1164.1" font-size="20" text-anchor="end" fill="#111">20</text>
<text x="679.3" y="1217.7" font-size="20" text-anchor="end" fill="#111">0</text>
<line x1="753.9" y1="1210.5" x2="753.9" y2="1221.0" stroke="#111" stroke-width="2.3" />
<line x1="835.8" y1="1210.5" x2="835.8" y2="1221.0" stroke="#111" stroke-width="2.3" />
<rect x="729.65" y="985.4499999999999" width="50.09999999999998" height="225.05000000000004" fill="#fff" stroke="#111" stroke-width="2.3"/>
<rect x="810.85" y="1173.5500000000002" width="49.899999999999935" height="36.94999999999991" fill="#fff" stroke="#111" stroke-width="2.3"/>
<text x="650.5" y="1080.5" font-size="16.6" text-anchor="middle" fill="#111" transform="rotate(-90 650.5 1080.5)">RPKM</text>
<line x1="956.1" y1="942.7" x2="956.1" y2="1209.3" stroke="#111" stroke-width="2.3" />
<line x1="944.6" y1="1208.2" x2="1144.7" y2="1208.2" stroke="#111" stroke-width="2.3" />
<line x1="944.6" y1="1030.4" x2="956.1" y2="1030.4" stroke="#111" stroke-width="2.3" />
<line x1="944.6" y1="1119.3" x2="956.1" y2="1119.3" stroke="#111" stroke-width="2.3" />
<line x1="944.6" y1="1208.2" x2="956.1" y2="1208.2" stroke="#111" stroke-width="2.3" />
<line x1="944.6" y1="957.2" x2="956.1" y2="957.2" stroke="#111" stroke-width="2.3" />
<text x="934.6" y="948.7" font-size="20" text-anchor="end" fill="#111">15</text>
<text x="934.6" y="1037.6" font-size="20" text-anchor="end" fill="#111">10</text>
<text x="934.6" y="1126.5" font-size="20" text-anchor="end" fill="#111">5</text>
<text x="934.6" y="1215.4" font-size="20" text-anchor="end" fill="#111">0</text>
<line x1="1009.6" y1="1208.2" x2="1009.6" y2="1218.7" stroke="#111" stroke-width="2.3" />
<line x1="1090.9" y1="1208.2" x2="1090.9" y2="1218.7" stroke="#111" stroke-width="2.3" />
<rect x="985.4499999999999" y="1011.9499999999999" width="49.600000000000094" height="196.25000000000009" fill="#fff" stroke="#111" stroke-width="2.3"/>
<rect x="1066.8500000000001" y="1102.45" width="48.99999999999996" height="105.75000000000009" fill="#fff" stroke="#111" stroke-width="2.3"/>
<text x="919.0" y="1080.5" font-size="16.6" text-anchor="middle" fill="#111" transform="rotate(-90 919.0 1080.5)">RPKM</text>
<line x1="744.6" y1="982.0" x2="765.4" y2="982.0" stroke="#111" stroke-width="1.8" />
<line x1="825.0" y1="1171.0" x2="846.0" y2="1171.0" stroke="#111" stroke-width="1.8" />
<g fill="#111">
<circle cx="745.8" cy="985.9" r="4.2"/>
<circle cx="763" cy="982" r="4.2"/>
<circle cx="827.8" cy="1173.5" r="4.2"/>
<circle cx="845" cy="1169.6" r="4.2"/>
<circle cx="1009.6" cy="1005.7" r="4.2"/>
<circle cx="1009.6" cy="1015" r="4.2"/>
<circle cx="1090.9" cy="1092.8" r="4.2"/>
<circle cx="1090.9" cy="1107.3" r="4.2"/>
</g>
<line x1="996.5" y1="1003.2" x2="1023.5" y2="1003.2" stroke="#111" stroke-width="1.8" />
<line x1="996.5" y1="1017.0" x2="1023.5" y2="1017.0" stroke="#111" stroke-width="1.8" />
<line x1="1009.6" y1="1003.2" x2="1009.6" y2="1017.0" stroke="#111" stroke-width="1.8" />
<line x1="1077.7" y1="1089.7" x2="1104.3" y2="1089.7" stroke="#111" stroke-width="1.8" />
<line x1="1077.7" y1="1110.0" x2="1104.3" y2="1110.0" stroke="#111" stroke-width="1.8" />
<line x1="1090.9" y1="1089.7" x2="1090.9" y2="1110.0" stroke="#111" stroke-width="1.8" />
<text x="755.0" y="1010.8" font-size="20.3" text-anchor="middle" fill="#111">85.4</text>
<text x="755.0" y="1027.0" font-size="20.3" text-anchor="middle" fill="#111">84.1</text>
<text x="835.8" y="1191.3" font-size="20.3" text-anchor="middle" fill="#111">15.0</text>
<text x="835.8" y="1206.6" font-size="20.3" text-anchor="middle" fill="#111">14.0</text>
<text x="1010.8" y="1039.7" font-size="20.3" text-anchor="middle" fill="#111">11.4</text>
<text x="1010.8" y="1056.5" font-size="20.3" text-anchor="middle" fill="#111">10.9</text>
<text x="1091.0" y="1128.5" font-size="20.3" text-anchor="middle" fill="#111">6.5</text>
<text x="1091.0" y="1145.2" font-size="20.3" text-anchor="middle" fill="#111">5.7</text>
<text x="752.7" y="1240.5" font-size="19.3" text-anchor="middle" fill="#111">WT</text>
<text x="834.2" y="1240.5" font-size="19.3" text-anchor="middle" fill="#111">GKO</text>
<text x="1007.4" y="1238.2" font-size="19.3" text-anchor="middle" fill="#111">WT</text>
<text x="1088.7" y="1238.2" font-size="19.3" text-anchor="middle" fill="#111">GKO</text>
<text x="780.0" y="933.5" font-size="17.8" text-anchor="middle" fill="#111" font-style="italic">PDGFRA</text>
<text x="1038.5" y="932.3" font-size="17.8" text-anchor="middle" fill="#111" font-style="italic">PRRX1</text>
<text x="710" y="958.9" font-size="17.6" fill="#111">adj. p-value <tspan font-style="italic">7.22e-239</tspan></text>
<text x="966.5" y="954.2" font-size="17.6" fill="#111">adj. p-value <tspan font-style="italic">6.77e-282</tspan></text>
</g>
<g id="ph">
<text x="548.6" y="1354.5" font-size="29" font-weight="bold">h</text>
<text x="584.0" y="1367.5" font-size="23.5" textLength="262.6" lengthAdjust="spacingAndGlyphs">Interaction weights/strength</text>
<path d="M628 1440 C612 1428 596 1418 598 1404 C600 1394 612 1394 619 1402 C626 1412 630 1426 628 1440Z" fill="#5B93CF" fill-opacity="0.72" stroke="#5B93CF" stroke-width="3" stroke-opacity="0.72"/>
<path d="M830 1544 C845 1536 862 1532 872 1536 C880 1540 878 1552 868 1553 C856 1554 842 1550 830 1544Z" fill="#E8414A" fill-opacity="0.62" stroke="#E8414A" stroke-width="3" stroke-opacity="0.65"/>
<path d="M627 1650 C620 1658 610 1668 606 1675 C604 1680 610 1681 614 1677 C620 1670 625 1660 627 1650Z" fill="#5DB866" fill-opacity="0.7" stroke="#5DB866" stroke-width="2.5" stroke-opacity="0.7"/>
<path d="M628.5 1448.3L630.5 1450.2L633.4 1452.3L636.7 1454.6L640.5 1457.2L644.7 1459.9L649.1 1462.8L653.7 1465.8L658.3 1468.7L662.9 1471.7L667.4 1474.6L671.6 1477.4L675.4 1480.0L679.1 1482.5L682.6 1485.0L686.2 1487.6L689.7 1490.1L693.2 1492.7L696.7 1495.3L700.3 1497.9L703.9 1500.4L707.5 1502.9L711.1 1505.3L714.9 1507.6L718.6 1509.8L722.3 1511.9L725.9 1513.8L729.4 1515.6L733.0 1517.4L736.5 1519.0L740.0 1520.6L743.6 1522.2L747.3 1523.7L751.1 1525.2L755.1 1526.7L759.2 1528.2L763.5 1529.8L768.2 1531.4L773.5 1533.1L779.1 1534.9L784.9 1536.6L790.8 1538.4L796.7 1540.1L802.5 1541.7L808.0 1543.1L813.0 1544.4L817.5 1545.5L821.4 1546.4L824.5 1546.8L827.5 1537.2L824.8 1535.7L821.1 1534.2L816.8 1532.5L811.9 1530.6L806.6 1528.7L801.1 1526.7L795.3 1524.6L789.6 1522.5L784.0 1520.4L778.7 1518.4L773.7 1516.4L769.3 1514.6L765.3 1512.9L761.4 1511.2L757.7 1509.5L754.2 1507.9L750.8 1506.3L747.4 1504.7L744.2 1503.1L740.9 1501.4L737.7 1499.7L734.4 1498.0L731.0 1496.1L727.6 1494.2L724.2 1492.2L720.8 1490.1L717.3 1487.9L713.9 1485.7L710.4 1483.3L706.8 1480.9L703.2 1478.5L699.6 1476.0L695.8 1473.5L692.0 1471.1L688.1 1468.6L684.2 1466.2L680.0 1463.8L675.5 1461.2L670.8 1458.6L666.0 1455.9L661.1 1453.3L656.3 1450.7L651.6 1448.2L647.2 1445.9L643.1 1443.8L639.4 1442.0L636.2 1440.6L633.5 1439.7Z" fill="#E8414A" fill-opacity="0.72"/>
<path d="M631.6 1445.3L634.5 1446.5L638.4 1447.9L642.9 1449.5L648.0 1451.3L653.5 1453.2L659.3 1455.2L665.2 1457.3L671.2 1459.4L677.0 1461.4L682.6 1463.4L687.8 1465.2L692.4 1466.9L696.6 1468.5L700.6 1470.0L704.3 1471.5L708.0 1472.9L711.5 1474.2L714.9 1475.6L718.2 1477.0L721.5 1478.3L724.8 1479.7L728.1 1481.2L731.5 1482.7L735.0 1484.3L738.6 1486.0L742.2 1487.7L745.8 1489.3L749.3 1491.0L752.9 1492.7L756.4 1494.4L759.9 1496.2L763.4 1498.1L767.0 1500.1L770.5 1502.1L774.0 1504.3L777.5 1506.6L781.2 1509.3L785.2 1512.3L789.3 1515.6L793.6 1519.1L797.9 1522.7L802.1 1526.4L806.2 1529.9L810.1 1533.4L813.7 1536.5L816.9 1539.3L819.7 1541.6L822.0 1543.4L828.0 1536.6L826.0 1534.6L823.4 1532.1L820.4 1529.1L816.9 1525.8L813.1 1522.3L809.1 1518.5L804.9 1514.7L800.6 1510.9L796.3 1507.1L792.1 1503.6L788.0 1500.3L784.1 1497.4L780.3 1494.7L776.6 1492.3L772.9 1490.0L769.1 1487.9L765.5 1485.8L761.8 1483.9L758.1 1482.0L754.5 1480.2L750.8 1478.5L747.2 1476.8L743.6 1475.1L740.0 1473.5L736.4 1471.8L732.9 1470.2L729.5 1468.7L726.1 1467.3L722.6 1465.9L719.2 1464.6L715.7 1463.3L712.1 1461.9L708.4 1460.6L704.5 1459.2L700.5 1457.8L696.2 1456.3L691.5 1454.6L686.2 1452.9L680.6 1451.0L674.7 1449.1L668.6 1447.1L662.6 1445.2L656.7 1443.4L651.2 1441.6L646.0 1440.1L641.4 1438.7L637.5 1437.5L634.4 1436.7Z" fill="#5B93CF" fill-opacity="0.72"/>
<path d="M623.0 1445.5L622.6 1447.4L622.0 1449.7L621.5 1452.5L620.8 1455.5L620.1 1458.9L619.4 1462.5L618.7 1466.4L618.0 1470.3L617.3 1474.5L616.6 1478.6L616.0 1482.9L615.4 1487.1L614.9 1491.3L614.4 1495.8L613.9 1500.4L613.4 1505.1L612.9 1510.0L612.4 1515.0L612.0 1520.0L611.6 1525.1L611.3 1530.2L611.1 1535.2L611.0 1540.3L610.9 1545.2L610.9 1550.1L611.1 1555.1L611.3 1560.2L611.6 1565.3L612.0 1570.3L612.4 1575.3L612.9 1580.3L613.3 1585.2L613.9 1590.0L614.4 1594.6L614.9 1599.1L615.4 1603.4L616.0 1607.7L616.7 1612.1L617.4 1616.4L618.1 1620.6L618.9 1624.8L619.7 1628.7L620.4 1632.5L621.2 1636.0L621.9 1639.2L622.5 1642.1L623.0 1644.5L623.5 1646.5L629.5 1645.5L629.2 1643.4L628.9 1640.9L628.4 1638.0L627.8 1634.8L627.2 1631.2L626.6 1627.5L625.9 1623.5L625.2 1619.4L624.6 1615.2L624.0 1611.0L623.4 1606.7L623.0 1602.6L622.5 1598.3L622.0 1593.8L621.6 1589.2L621.1 1584.4L620.7 1579.6L620.3 1574.7L619.9 1569.7L619.6 1564.8L619.3 1559.8L619.1 1554.9L618.9 1550.0L618.9 1545.2L618.9 1540.4L619.1 1535.5L619.3 1530.6L619.6 1525.6L619.9 1520.6L620.3 1515.7L620.7 1510.7L621.1 1505.9L621.6 1501.2L622.1 1496.6L622.5 1492.2L623.0 1487.9L623.4 1483.8L623.9 1479.7L624.5 1475.6L625.1 1471.5L625.7 1467.6L626.3 1463.8L626.9 1460.1L627.5 1456.8L628.0 1453.7L628.4 1450.9L628.8 1448.5L629.0 1446.5Z" fill="#5DB866" fill-opacity="0.72"/>
<path d="M627.3 1450.6L627.5 1453.2L627.9 1456.4L628.5 1460.3L629.1 1464.5L629.8 1469.2L630.6 1474.1L631.4 1479.1L632.1 1484.1L632.8 1489.1L633.5 1493.9L634.1 1498.5L634.6 1502.6L635.0 1506.5L635.4 1510.3L635.7 1514.0L636.1 1517.6L636.3 1521.1L636.6 1524.5L636.8 1528.0L637.0 1531.4L637.1 1534.7L637.1 1538.1L637.1 1541.6L637.1 1545.0L636.9 1548.4L636.6 1551.8L636.3 1555.1L635.9 1558.5L635.5 1561.8L635.0 1565.2L634.5 1568.7L633.9 1572.3L633.4 1575.9L632.8 1579.8L632.3 1583.7L631.8 1587.9L631.3 1592.3L630.7 1597.2L630.1 1602.4L629.5 1607.9L628.9 1613.4L628.2 1618.9L627.6 1624.2L627.1 1629.3L626.6 1634.0L626.2 1638.2L625.9 1641.7L625.8 1644.6L632.8 1645.4L633.4 1642.7L634.0 1639.2L634.7 1635.1L635.4 1630.4L636.2 1625.3L637.0 1620.0L637.8 1614.5L638.6 1609.0L639.3 1603.6L640.1 1598.4L640.8 1593.5L641.4 1589.1L642.0 1585.1L642.7 1581.3L643.3 1577.5L644.0 1573.9L644.6 1570.3L645.2 1566.8L645.7 1563.3L646.3 1559.8L646.7 1556.3L647.1 1552.7L647.4 1549.1L647.5 1545.4L647.6 1541.7L647.6 1538.0L647.5 1534.5L647.4 1530.9L647.2 1527.3L646.9 1523.7L646.5 1520.2L646.2 1516.5L645.7 1512.9L645.3 1509.1L644.8 1505.3L644.2 1501.4L643.6 1497.2L642.9 1492.5L642.1 1487.7L641.2 1482.6L640.2 1477.6L639.2 1472.5L638.3 1467.7L637.4 1463.1L636.5 1458.8L635.7 1455.1L634.9 1451.9L634.3 1449.4Z" fill="#5B93CF" fill-opacity="0.72"/>
<path d="M630.4 1648.7L633.0 1646.8L636.2 1644.2L639.9 1641.2L644.1 1637.8L648.6 1634.1L653.4 1630.2L658.3 1626.2L663.2 1622.2L668.2 1618.3L672.9 1614.6L677.4 1611.2L681.5 1608.1L685.4 1605.2L689.2 1602.4L692.9 1599.7L696.5 1597.1L700.1 1594.6L703.6 1592.2L707.1 1589.8L710.5 1587.6L714.0 1585.5L717.5 1583.4L720.9 1581.5L724.4 1579.7L727.9 1578.0L731.3 1576.6L734.6 1575.2L737.9 1574.0L741.2 1572.9L744.6 1571.9L748.0 1570.9L751.6 1569.8L755.2 1568.8L759.0 1567.7L763.0 1566.5L767.2 1565.2L771.8 1563.8L776.9 1562.2L782.3 1560.6L788.0 1558.8L793.8 1557.1L799.6 1555.4L805.3 1553.7L810.6 1552.1L815.6 1550.6L820.0 1549.3L823.7 1548.1L826.6 1547.2L825.4 1542.8L822.4 1543.6L818.7 1544.6L814.2 1545.8L809.2 1547.2L803.8 1548.7L798.2 1550.3L792.3 1552.0L786.5 1553.6L780.8 1555.3L775.3 1556.9L770.2 1558.4L765.6 1559.8L761.4 1561.0L757.4 1562.1L753.6 1563.2L750.0 1564.2L746.4 1565.2L742.9 1566.2L739.4 1567.3L736.0 1568.4L732.5 1569.6L729.0 1571.0L725.4 1572.6L721.8 1574.3L718.1 1576.2L714.5 1578.2L710.9 1580.3L707.3 1582.6L703.8 1584.9L700.2 1587.3L696.7 1589.8L693.1 1592.4L689.4 1595.0L685.7 1597.8L682.0 1600.6L678.1 1603.5L674.0 1606.7L669.5 1610.2L664.7 1614.0L659.8 1618.0L654.9 1622.1L650.0 1626.2L645.3 1630.1L640.8 1633.9L636.7 1637.4L633.1 1640.5L630.0 1643.1L627.6 1645.3Z" fill="#5DB866" fill-opacity="0.72"/>
<path d="M631.6 1654.2L634.1 1653.7L637.3 1652.9L641.0 1651.8L645.1 1650.5L649.6 1649.0L654.3 1647.5L659.1 1645.9L664.0 1644.2L668.9 1642.6L673.5 1641.1L678.0 1639.6L682.0 1638.3L685.8 1637.1L689.5 1636.0L693.2 1635.0L696.8 1633.9L700.4 1632.9L704.0 1631.9L707.6 1630.9L711.2 1629.8L714.9 1628.6L718.6 1627.3L722.3 1625.9L726.0 1624.3L729.7 1622.7L733.2 1621.2L736.6 1619.6L740.1 1618.0L743.6 1616.3L747.1 1614.4L750.7 1612.5L754.3 1610.4L758.1 1608.1L762.0 1605.6L766.0 1602.9L770.3 1599.9L774.9 1596.5L780.1 1592.6L785.5 1588.2L791.2 1583.5L797.0 1578.7L802.7 1573.9L808.3 1569.1L813.5 1564.5L818.4 1560.3L822.6 1556.5L826.2 1553.2L828.8 1550.5L823.2 1543.5L819.9 1545.5L816.0 1548.4L811.4 1551.9L806.3 1555.8L800.9 1560.1L795.1 1564.5L789.2 1569.1L783.3 1573.6L777.6 1577.9L772.1 1582.0L767.0 1585.6L762.5 1588.7L758.4 1591.3L754.5 1593.7L750.8 1595.9L747.2 1597.8L743.7 1599.7L740.4 1601.4L737.1 1603.0L733.8 1604.5L730.5 1606.0L727.1 1607.5L723.7 1609.0L720.2 1610.5L716.7 1611.9L713.4 1613.2L710.0 1614.5L706.6 1615.6L703.2 1616.8L699.7 1617.9L696.2 1619.0L692.6 1620.1L689.0 1621.3L685.3 1622.6L681.4 1623.9L677.6 1625.3L673.5 1626.9L669.1 1628.6L664.4 1630.4L659.7 1632.3L654.9 1634.2L650.1 1636.1L645.5 1638.0L641.2 1639.8L637.2 1641.5L633.7 1643.1L630.7 1644.5L628.4 1645.8Z" fill="#E8414A" fill-opacity="0.72"/>
<circle cx="627.3" cy="1437.9" r="10.5" fill="#2D78C2"/>
<circle cx="829.3" cy="1543.8" r="10.5" fill="#E8222B"/>
<circle cx="627.3" cy="1649" r="4.5" fill="#3BAA4A"/>
<text x="597.6" y="1412.0" font-size="17.3" fill="#111">0.6</text>
<text x="682.0" y="1491.9" font-size="17.3" fill="#111">0.8</text>
<text x="750.5" y="1500.5" font-size="17.3" fill="#111">0.5</text>
<text x="606.0" y="1519.8" font-size="17.3" fill="#111">0.4</text>
<text x="627.3" y="1585.6" font-size="17.3" fill="#111">0.4</text>
<text x="739.0" y="1577.0" font-size="17.3" fill="#111">0.2</text>
<text x="690.5" y="1630.4" font-size="17.3" fill="#111">0.5</text>
<text x="858.7" y="1551.0" font-size="17.3" fill="#111">0.4</text>
<text x="600.5" y="1683.7" font-size="17.3" fill="#111">0.4</text>
<text x="638.0" y="1429.8" font-size="20.6" fill="#3A78B2">Epidermis</text>
<text x="819.8" y="1571.2" font-size="20.5" fill="#B0304E">Dermis</text>
<text x="633.7" y="1670.7" font-size="20.8" fill="#2E9A5C">Cartilage</text>
</g>
<g id="pi">
<text x="893.0" y="1356.3" font-size="29" font-weight="bold">i</text>
<line x1="957.4" y1="1344.0" x2="957.4" y2="1681.0" stroke="#111" stroke-width="1.6" />
<line x1="956.6" y1="1680.2" x2="1188.0" y2="1680.2" stroke="#111" stroke-width="1.6" />
<line x1="954.0" y1="1663.7" x2="957.4" y2="1663.7" stroke="#111" stroke-width="1.2" />
<text x="948.6" y="1670.2" font-size="18.5" text-anchor="end" fill="#111">0</text>
<line x1="954.0" y1="1591.2" x2="957.4" y2="1591.2" stroke="#111" stroke-width="1.2" />
<text x="948.6" y="1597.7" font-size="18.5" text-anchor="end" fill="#111">1</text>
<line x1="954.0" y1="1518.7" x2="957.4" y2="1518.7" stroke="#111" stroke-width="1.2" />
<text x="948.6" y="1525.2" font-size="18.5" text-anchor="end" fill="#111">2</text>
<line x1="954.0" y1="1446.2" x2="957.4" y2="1446.2" stroke="#111" stroke-width="1.2" />
<text x="948.6" y="1452.7" font-size="18.5" text-anchor="end" fill="#111">3</text>
<line x1="954.0" y1="1373.7" x2="957.4" y2="1373.7" stroke="#111" stroke-width="1.2" />
<text x="948.6" y="1380.2" font-size="18.5" text-anchor="end" fill="#111">4</text>
<rect x="985.7" y="1357" width="68.6" height="310" fill="#1570B9"/>
<rect x="1090.8" y="1433.1" width="69.2" height="233.9" fill="#EC1E26"/>
<rect x="1091.8" y="1434.1" width="67.2" height="231.9" fill="none" stroke="#F04A2A" stroke-width="2" stroke-opacity="0.6"/>
<text x="1017.3" y="1381.0" font-size="19.5" text-anchor="middle" fill="#1a1a2a">4.182</text>
<text x="1122.8" y="1456.5" font-size="19.5" text-anchor="middle" fill="#2a1a1a">3.139</text>
<line x1="1020.0" y1="1680.2" x2="1020.0" y2="1684.0" stroke="#111" stroke-width="1.2" />
<line x1="1125.4" y1="1680.2" x2="1125.4" y2="1684.0" stroke="#111" stroke-width="1.2" />
<text x="1016.5" y="1705.0" font-size="18.7" text-anchor="middle" fill="#111">WT</text>
<text x="1120.0" y="1705.0" font-size="18.7" text-anchor="middle" fill="#111">GKO</text>
<text x="928.5" y="1505.8" font-size="18" text-anchor="middle" fill="#111" transform="rotate(-90 928.5 1505.8)">Interaction strength</text>
</g>
<defs>
<filter id="fWs" x="0" y="0" width="1" height="1" color-interpolation-filters="sRGB"><feTurbulence type="fractalNoise" baseFrequency="0.06 0.16" numOctaves="3" seed="7"/><feColorMatrix type="matrix" values="0 0 0 0 0.97  0 0 0 0 0.88  0 0 0 0 0.93  3.6 0 0 0 -1.95"/></filter>
<filter id="fWs2" x="0" y="0" width="1" height="1" color-interpolation-filters="sRGB"><feTurbulence type="fractalNoise" baseFrequency="0.08 0.2" numOctaves="3" seed="21"/><feColorMatrix type="matrix" values="0 0 0 0 0.94  0 0 0 0 0.87  0 0 0 0 0.93  4.0 0 0 0 -2.0"/></filter>
<filter id="fPk" x="0" y="0" width="1" height="1" color-interpolation-filters="sRGB"><feTurbulence type="fractalNoise" baseFrequency="0.03 0.07" numOctaves="2" seed="11"/><feColorMatrix type="matrix" values="0 0 0 0 0.86  0 0 0 0 0.27  0 0 0 0 0.52  3.0 0 0 0 -1.4"/></filter>
<filter id="fSc" x="0" y="0" width="1" height="1" color-interpolation-filters="sRGB"><feTurbulence type="fractalNoise" baseFrequency="0.006 0.16" numOctaves="2" seed="5"/><feColorMatrix type="matrix" values="0 0 0 0 0.97  0 0 0 0 0.93  0 0 0 0 0.96  5.0 0 0 0 -2.6"/></filter>
<filter id="fPu" x="0" y="0" width="1" height="1" color-interpolation-filters="sRGB"><feTurbulence type="fractalNoise" baseFrequency="0.12 0.12" numOctaves="2" seed="9"/><feColorMatrix type="matrix" values="0 0 0 0 0.40  0 0 0 0 0.16  0 0 0 0 0.50  3.0 0 0 0 -1.3"/></filter>
<filter id="fRn" x="0" y="0" width="1" height="1" color-interpolation-filters="sRGB"><feTurbulence type="fractalNoise" baseFrequency="0.35" numOctaves="2" seed="3"/><feColorMatrix type="matrix" values="0 0 0 0 0.5  0 0 0 0 0.1  0 0 0 0 0.14  2.4 0 0 0 -0.95"/></filter>
<filter id="fMn" x="0" y="0" width="1" height="1" color-interpolation-filters="sRGB"><feTurbulence type="fractalNoise" baseFrequency="0.4" numOctaves="2" seed="13"/><feColorMatrix type="matrix" values="0 0 0 0 0.85  0 0 0 0 0.25  0 0 0 0 0.85  3.2 0 0 0 -1.25"/></filter>
<filter id="fBl" x="-20%" y="-20%" width="140%" height="140%"><feGaussianBlur stdDeviation="1.6"/></filter>
<filter id="fBl2" x="-20%" y="-20%" width="140%" height="140%"><feGaussianBlur stdDeviation="3"/></filter>
<filter id="fBl1" x="-20%" y="-20%" width="140%" height="140%"><feGaussianBlur stdDeviation="0.7"/></filter>
</defs>
<g id="pj">
<text x="249.0" y="1802.7" font-size="25.2" fill="#111">WT NHK</text>
<text x="796.0" y="1803.0" font-size="25.2" fill="#111">GKO NHK</text>
<text x="9.5" y="1837.6" font-size="29" font-weight="bold">j</text>
<clipPath id="cW"><rect x="54.3" y="1812" width="530.7" height="342"/></clipPath>
<g clip-path="url(#cW)">
<rect x="54.3" y="1812" width="530.7" height="342" fill="#ECE6EA"/>
<circle cx="230" cy="1830" r="9" fill="none" stroke="#d9d3d8" stroke-width="2.5"/>
<circle cx="410" cy="1852" r="10" fill="none" stroke="#d9d3d8" stroke-width="2.5"/>
<circle cx="96" cy="1860" r="12" fill="none" stroke="#d9d3d8" stroke-width="2.5"/>
<circle cx="170" cy="1900" r="8" fill="none" stroke="#d9d3d8" stroke-width="2.5"/>
<circle cx="355" cy="1895" r="8" fill="none" stroke="#d9d3d8" stroke-width="2.5"/>
<rect x="54.3" y="1960" width="530.7" height="194" fill="#EA80AA"/>
<rect x="54.3" y="1960" width="530.7" height="194" filter="url(#fPk)"/>
<rect x="54.3" y="1960" width="530.7" height="194" filter="url(#fWs)" opacity="0.85"/>
<rect x="54.3" y="2050" width="530.7" height="104" filter="url(#fWs2)" opacity="0.85"/>
<path d="M54.0 2141.0L57.5 2141.0L62.2 2140.9L67.7 2140.9L73.9 2140.9L80.4 2140.8L87.1 2140.6L93.7 2140.4L100.0 2140.0L106.1 2139.4L112.2 2138.5L118.5 2137.5L124.8 2136.4L131.1 2135.4L137.4 2134.6L143.7 2134.1L150.0 2134.0L156.2 2134.4L162.3 2135.2L168.3 2136.4L174.4 2137.7L180.5 2139.1L186.8 2140.5L193.3 2141.9L200.0 2143.0L207.0 2144.0L214.3 2144.9L221.8 2145.8L229.4 2146.7L237.1 2147.5L244.8 2148.4L252.4 2149.2L260.0 2150.0L267.9 2150.8L276.4 2151.7L285.1 2152.6L293.8 2153.4L301.9 2154.2L309.2 2154.9L315.4 2155.5L320.0 2156.0L320.0 2160.0L54.0 2160.0Z" fill="#DCD8DA"/>
<path d="M54.0 2141.0L57.5 2141.0L62.2 2140.9L67.7 2140.9L73.9 2140.9L80.4 2140.8L87.1 2140.6L93.7 2140.4L100.0 2140.0L106.1 2139.4L112.2 2138.5L118.5 2137.5L124.8 2136.4L131.1 2135.4L137.4 2134.6L143.7 2134.1L150.0 2134.0L156.2 2134.4L162.3 2135.2L168.3 2136.4L174.4 2137.7L180.5 2139.1L186.8 2140.5L193.3 2141.9L200.0 2143.0L207.0 2144.0L214.3 2144.9L221.8 2145.8L229.4 2146.7L237.1 2147.5L244.8 2148.4L252.4 2149.2L260.0 2150.0L267.9 2150.8L276.4 2151.7L285.1 2152.6L293.8 2153.4L301.9 2154.2L309.2 2154.9L315.4 2155.5L320.0 2156.0" fill="none" stroke="#8E4A9C" stroke-width="3"/>
<path d="M300 2128 Q330 2124 370 2130 L372 2136 Q330 2132 300 2134Z" fill="#d8d0d6" opacity="0.8"/>
<path d="M54.0 1947.0L61.4 1946.9L71.2 1946.8L82.8 1946.6L95.8 1946.4L109.5 1946.2L123.5 1946.1L137.2 1946.0L150.0 1946.0L162.6 1946.1L175.7 1946.3L189.0 1946.6L202.2 1946.9L215.3 1947.2L227.7 1947.5L239.4 1947.8L250.0 1948.0L259.3 1948.2L267.6 1948.3L275.0 1948.4L281.9 1948.5L288.5 1948.6L295.2 1948.7L302.3 1948.8L310.0 1949.0L318.3 1949.2L326.8 1949.4L335.5 1949.6L344.4 1949.8L353.3 1950.1L362.3 1950.3L371.2 1950.6L380.0 1951.0L388.8 1951.4L397.5 1951.9L406.2 1952.4L415.0 1952.9L423.8 1953.4L432.5 1954.0L441.2 1954.5L450.0 1955.0L458.8 1955.5L467.6 1956.0L476.5 1956.5L485.3 1956.9L494.1 1957.4L502.9 1957.9L511.5 1958.5L520.0 1959.0L528.8 1959.6L538.1 1960.3L547.6 1961.0L556.9 1961.8L565.6 1962.4L573.4 1963.1L580.0 1963.6L585.0 1964.0L586.0 2024.0L585.5 2024.4L584.9 2025.1L584.1 2025.8L583.3 2026.6L582.4 2027.4L581.6 2028.1L580.7 2028.7L580.0 2029.0L579.3 2029.1L578.7 2029.1L578.1 2029.0L577.6 2028.8L577.0 2028.4L576.4 2028.0L575.7 2027.5L575.0 2027.0L574.2 2026.4L573.4 2025.6L572.6 2024.8L571.7 2023.9L570.8 2023.0L569.9 2022.0L568.9 2021.0L568.0 2020.0L567.2 2018.9L566.6 2017.8L566.0 2016.5L565.4 2015.2L564.7 2014.0L563.6 2012.9L562.1 2011.9L560.0 2011.0L557.3 2010.3L554.0 2009.8L550.4 2009.4L546.4 2009.1L542.2 2008.8L538.0 2008.5L533.9 2008.3L530.0 2008.0L526.1 2007.7L522.1 2007.3L518.0 2007.0L514.0 2006.6L510.1 2006.3L506.4 2006.1L503.0 2006.0L500.0 2006.0L497.4 2006.1L495.2 2006.2L493.3 2006.5L491.6 2006.8L490.1 2007.1L488.7 2007.6L487.4 2008.3L486.0 2009.0L484.7 2009.9L483.5 2011.1L482.5 2012.3L481.5 2013.7L480.6 2015.1L479.7 2016.5L478.9 2017.8L478.0 2019.0L477.1 2020.2L476.3 2021.4L475.5 2022.7L474.7 2023.9L473.9 2025.0L473.2 2025.9L472.4 2026.6L471.6 2027.0L470.8 2027.1L470.0 2027.0L469.2 2026.6L468.3 2026.1L467.5 2025.4L466.7 2024.6L465.8 2023.8L465.0 2023.0L464.2 2022.1L463.3 2021.1L462.4 2019.9L461.6 2018.8L460.7 2017.5L459.8 2016.3L458.9 2015.1L458.0 2014.0L457.2 2012.9L456.6 2011.8L456.0 2010.7L455.4 2009.6L454.7 2008.6L453.6 2007.6L452.1 2006.8L450.0 2006.0L447.3 2005.4L444.0 2004.9L440.4 2004.6L436.4 2004.3L432.2 2004.1L428.0 2003.8L423.9 2003.4L420.0 2003.0L416.2 2002.5L412.5 2001.9L408.8 2001.3L405.0 2000.6L401.2 2000.0L397.5 1999.3L393.8 1998.6L390.0 1998.0L386.2 1997.4L382.5 1996.7L378.8 1996.0L375.0 1995.4L371.2 1994.7L367.5 1994.1L363.8 1993.5L360.0 1993.0L356.2 1992.5L352.5 1992.1L348.8 1991.7L345.0 1991.3L341.2 1991.0L337.5 1990.6L333.8 1990.3L330.0 1990.0L326.1 1989.7L322.0 1989.3L317.9 1988.9L313.8 1988.5L309.8 1988.2L306.1 1988.0L302.8 1987.9L300.0 1988.0L297.8 1988.2L296.0 1988.6L294.6 1989.1L293.5 1989.6L292.6 1990.3L291.8 1991.1L290.9 1992.0L290.0 1993.0L289.1 1994.2L288.3 1995.6L287.5 1997.2L286.9 1998.9L286.2 2000.6L285.5 2002.2L284.8 2003.7L284.0 2005.0L283.1 2006.2L282.2 2007.4L281.2 2008.6L280.2 2009.7L279.2 2010.6L278.2 2011.4L277.1 2011.8L276.0 2012.0L274.8 2011.8L273.6 2011.4L272.3 2010.7L271.0 2009.8L269.7 2008.7L268.4 2007.5L267.2 2006.3L266.0 2005.0L264.9 2003.7L263.9 2002.2L262.9 2000.6L261.9 1998.9L260.9 1997.2L260.0 1995.5L259.0 1993.7L258.0 1992.0L257.2 1990.2L256.8 1988.4L256.4 1986.5L256.0 1984.6L255.3 1982.7L254.2 1981.0L252.5 1979.4L250.0 1978.0L246.5 1976.8L242.2 1975.7L237.3 1974.7L232.0 1973.9L226.4 1973.2L220.8 1972.6L215.2 1972.2L210.0 1972.0L204.8 1972.0L199.2 1972.1L193.6 1972.3L188.0 1972.8L182.7 1973.3L177.8 1974.1L173.5 1975.0L170.0 1976.0L167.4 1977.3L165.7 1978.8L164.5 1980.4L163.8 1982.2L163.4 1984.2L163.0 1986.1L162.6 1988.1L162.0 1990.0L161.2 1992.0L160.6 1994.1L160.0 1996.2L159.4 1998.4L158.9 2000.6L158.3 2002.6L157.7 2004.4L157.0 2006.0L156.2 2007.4L155.4 2008.6L154.6 2009.7L153.7 2010.7L152.8 2011.5L151.9 2012.2L150.9 2012.7L150.0 2013.0L149.0 2013.2L148.0 2013.1L147.0 2012.9L146.0 2012.6L145.0 2012.1L144.0 2011.5L143.0 2010.8L142.0 2010.0L141.1 2009.1L140.2 2008.1L139.3 2007.0L138.4 2005.8L137.6 2004.4L136.7 2003.0L135.9 2001.5L135.0 2000.0L134.1 1998.3L133.3 1996.5L132.4 1994.6L131.6 1992.6L130.7 1990.6L129.8 1988.6L128.9 1986.7L128.0 1985.0L127.2 1983.4L126.6 1981.7L126.0 1980.1L125.4 1978.6L124.7 1977.1L123.6 1975.9L122.1 1974.8L120.0 1974.0L117.3 1973.4L114.2 1973.1L110.6 1973.0L106.8 1973.1L102.7 1973.2L98.4 1973.5L94.2 1973.7L90.0 1974.0L85.5 1974.3L80.6 1974.8L75.4 1975.4L70.1 1976.0L65.1 1976.6L60.6 1977.2L56.8 1977.7L54.0 1978.0Z" fill="#9C58AA"/>
<clipPath id="cEpW"><path d="M54.0 1947.0L61.4 1946.9L71.2 1946.8L82.8 1946.6L95.8 1946.4L109.5 1946.2L123.5 1946.1L137.2 1946.0L150.0 1946.0L162.6 1946.1L175.7 1946.3L189.0 1946.6L202.2 1946.9L215.3 1947.2L227.7 1947.5L239.4 1947.8L250.0 1948.0L259.3 1948.2L267.6 1948.3L275.0 1948.4L281.9 1948.5L288.5 1948.6L295.2 1948.7L302.3 1948.8L310.0 1949.0L318.3 1949.2L326.8 1949.4L335.5 1949.6L344.4 1949.8L353.3 1950.1L362.3 1950.3L371.2 1950.6L380.0 1951.0L388.8 1951.4L397.5 1951.9L406.2 1952.4L415.0 1952.9L423.8 1953.4L432.5 1954.0L441.2 1954.5L450.0 1955.0L458.8 1955.5L467.6 1956.0L476.5 1956.5L485.3 1956.9L494.1 1957.4L502.9 1957.9L511.5 1958.5L520.0 1959.0L528.8 1959.6L538.1 1960.3L547.6 1961.0L556.9 1961.8L565.6 1962.4L573.4 1963.1L580.0 1963.6L585.0 1964.0L586.0 2024.0L585.5 2024.4L584.9 2025.1L584.1 2025.8L583.3 2026.6L582.4 2027.4L581.6 2028.1L580.7 2028.7L580.0 2029.0L579.3 2029.1L578.7 2029.1L578.1 2029.0L577.6 2028.8L577.0 2028.4L576.4 2028.0L575.7 2027.5L575.0 2027.0L574.2 2026.4L573.4 2025.6L572.6 2024.8L571.7 2023.9L570.8 2023.0L569.9 2022.0L568.9 2021.0L568.0 2020.0L567.2 2018.9L566.6 2017.8L566.0 2016.5L565.4 2015.2L564.7 2014.0L563.6 2012.9L562.1 2011.9L560.0 2011.0L557.3 2010.3L554.0 2009.8L550.4 2009.4L546.4 2009.1L542.2 2008.8L538.0 2008.5L533.9 2008.3L530.0 2008.0L526.1 2007.7L522.1 2007.3L518.0 2007.0L514.0 2006.6L510.1 2006.3L506.4 2006.1L503.0 2006.0L500.0 2006.0L497.4 2006.1L495.2 2006.2L493.3 2006.5L491.6 2006.8L490.1 2007.1L488.7 2007.6L487.4 2008.3L486.0 2009.0L484.7 2009.9L483.5 2011.1L482.5 2012.3L481.5 2013.7L480.6 2015.1L479.7 2016.5L478.9 2017.8L478.0 2019.0L477.1 2020.2L476.3 2021.4L475.5 2022.7L474.7 2023.9L473.9 2025.0L473.2 2025.9L472.4 2026.6L471.6 2027.0L470.8 2027.1L470.0 2027.0L469.2 2026.6L468.3 2026.1L467.5 2025.4L466.7 2024.6L465.8 2023.8L465.0 2023.0L464.2 2022.1L463.3 2021.1L462.4 2019.9L461.6 2018.8L460.7 2017.5L459.8 2016.3L458.9 2015.1L458.0 2014.0L457.2 2012.9L456.6 2011.8L456.0 2010.7L455.4 2009.6L454.7 2008.6L453.6 2007.6L452.1 2006.8L450.0 2006.0L447.3 2005.4L444.0 2004.9L440.4 2004.6L436.4 2004.3L432.2 2004.1L428.0 2003.8L423.9 2003.4L420.0 2003.0L416.2 2002.5L412.5 2001.9L408.8 2001.3L405.0 2000.6L401.2 2000.0L397.5 1999.3L393.8 1998.6L390.0 1998.0L386.2 1997.4L382.5 1996.7L378.8 1996.0L375.0 1995.4L371.2 1994.7L367.5 1994.1L363.8 1993.5L360.0 1993.0L356.2 1992.5L352.5 1992.1L348.8 1991.7L345.0 1991.3L341.2 1991.0L337.5 1990.6L333.8 1990.3L330.0 1990.0L326.1 1989.7L322.0 1989.3L317.9 1988.9L313.8 1988.5L309.8 1988.2L306.1 1988.0L302.8 1987.9L300.0 1988.0L297.8 1988.2L296.0 1988.6L294.6 1989.1L293.5 1989.6L292.6 1990.3L291.8 1991.1L290.9 1992.0L290.0 1993.0L289.1 1994.2L288.3 1995.6L287.5 1997.2L286.9 1998.9L286.2 2000.6L285.5 2002.2L284.8 2003.7L284.0 2005.0L283.1 2006.2L282.2 2007.4L281.2 2008.6L280.2 2009.7L279.2 2010.6L278.2 2011.4L277.1 2011.8L276.0 2012.0L274.8 2011.8L273.6 2011.4L272.3 2010.7L271.0 2009.8L269.7 2008.7L268.4 2007.5L267.2 2006.3L266.0 2005.0L264.9 2003.7L263.9 2002.2L262.9 2000.6L261.9 1998.9L260.9 1997.2L260.0 1995.5L259.0 1993.7L258.0 1992.0L257.2 1990.2L256.8 1988.4L256.4 1986.5L256.0 1984.6L255.3 1982.7L254.2 1981.0L252.5 1979.4L250.0 1978.0L246.5 1976.8L242.2 1975.7L237.3 1974.7L232.0 1973.9L226.4 1973.2L220.8 1972.6L215.2 1972.2L210.0 1972.0L204.8 1972.0L199.2 1972.1L193.6 1972.3L188.0 1972.8L182.7 1973.3L177.8 1974.1L173.5 1975.0L170.0 1976.0L167.4 1977.3L165.7 1978.8L164.5 1980.4L163.8 1982.2L163.4 1984.2L163.0 1986.1L162.6 1988.1L162.0 1990.0L161.2 1992.0L160.6 1994.1L160.0 1996.2L159.4 1998.4L158.9 2000.6L158.3 2002.6L157.7 2004.4L157.0 2006.0L156.2 2007.4L155.4 2008.6L154.6 2009.7L153.7 2010.7L152.8 2011.5L151.9 2012.2L150.9 2012.7L150.0 2013.0L149.0 2013.2L148.0 2013.1L147.0 2012.9L146.0 2012.6L145.0 2012.1L144.0 2011.5L143.0 2010.8L142.0 2010.0L141.1 2009.1L140.2 2008.1L139.3 2007.0L138.4 2005.8L137.6 2004.4L136.7 2003.0L135.9 2001.5L135.0 2000.0L134.1 1998.3L133.3 1996.5L132.4 1994.6L131.6 1992.6L130.7 1990.6L129.8 1988.6L128.9 1986.7L128.0 1985.0L127.2 1983.4L126.6 1981.7L126.0 1980.1L125.4 1978.6L124.7 1977.1L123.6 1975.9L122.1 1974.8L120.0 1974.0L117.3 1973.4L114.2 1973.1L110.6 1973.0L106.8 1973.1L102.7 1973.2L98.4 1973.5L94.2 1973.7L90.0 1974.0L85.5 1974.3L80.6 1974.8L75.4 1975.4L70.1 1976.0L65.1 1976.6L60.6 1977.2L56.8 1977.7L54.0 1978.0Z"/></clipPath>
<rect x="54.3" y="1940" width="530.7" height="95" filter="url(#fPu)" clip-path="url(#cEpW)" opacity="0.6"/>
<ellipse cx="98" cy="1972" rx="20" ry="5" fill="#c98ac0" opacity="0.6"/>
<ellipse cx="335" cy="1972" rx="14" ry="8" fill="#d89cc8" opacity="0.6"/>
<path d="M54.0 1893.0L58.4 1893.0L64.2 1893.0L71.2 1893.0L78.9 1893.1L87.0 1893.1L95.1 1893.1L102.9 1893.0L110.0 1893.0L116.3 1893.0L122.0 1892.9L127.4 1892.9L132.9 1892.9L138.6 1892.8L144.8 1892.6L151.9 1892.4L160.0 1892.0L169.4 1891.5L179.9 1890.8L191.3 1890.0L203.1 1889.1L215.2 1888.2L227.3 1887.4L239.0 1886.6L250.0 1886.0L260.7 1885.6L271.4 1885.3L282.1 1885.2L292.5 1885.1L302.6 1884.9L312.3 1884.7L321.5 1884.2L330.0 1883.5L337.8 1882.5L344.8 1881.2L351.4 1879.8L357.5 1878.2L363.3 1876.6L368.9 1875.0L374.4 1873.4L380.0 1872.0L385.3 1870.6L390.2 1869.2L394.9 1867.8L399.4 1866.4L404.0 1865.0L408.8 1863.8L414.1 1862.6L420.0 1861.6L426.5 1860.7L433.6 1860.0L441.0 1859.4L448.8 1858.9L456.6 1858.4L464.5 1857.9L472.4 1857.5L480.0 1857.0L487.6 1856.5L495.4 1856.2L503.2 1855.8L510.9 1855.5L518.6 1855.1L526.1 1854.7L533.2 1854.2L540.0 1853.5L546.7 1852.6L553.4 1851.5L560.0 1850.3L566.2 1849.0L572.1 1847.8L577.3 1846.6L581.6 1845.7L585.0 1845.0L585.0 1964.0L580.0 1963.6L573.4 1963.1L565.6 1962.4L556.9 1961.8L547.6 1961.0L538.1 1960.3L528.8 1959.6L520.0 1959.0L511.5 1958.5L502.9 1957.9L494.1 1957.4L485.3 1956.9L476.5 1956.5L467.6 1956.0L458.8 1955.5L450.0 1955.0L441.2 1954.5L432.5 1954.0L423.8 1953.4L415.0 1952.9L406.2 1952.4L397.5 1951.9L388.8 1951.4L380.0 1951.0L371.2 1950.6L362.3 1950.3L353.3 1950.1L344.4 1949.8L335.5 1949.6L326.8 1949.4L318.3 1949.2L310.0 1949.0L302.3 1948.8L295.2 1948.7L288.5 1948.6L281.9 1948.5L275.0 1948.4L267.6 1948.3L259.3 1948.2L250.0 1948.0L239.4 1947.8L227.7 1947.5L215.3 1947.2L202.2 1946.9L189.0 1946.6L175.7 1946.3L162.6 1946.1L150.0 1946.0L137.2 1946.0L123.5 1946.1L109.5 1946.2L95.8 1946.4L82.8 1946.6L71.2 1946.8L61.4 1946.9L54.0 1947.0Z" fill="#E070AA"/>
<clipPath id="cScW"><path d="M54.0 1893.0L58.4 1893.0L64.2 1893.0L71.2 1893.0L78.9 1893.1L87.0 1893.1L95.1 1893.1L102.9 1893.0L110.0 1893.0L116.3 1893.0L122.0 1892.9L127.4 1892.9L132.9 1892.9L138.6 1892.8L144.8 1892.6L151.9 1892.4L160.0 1892.0L169.4 1891.5L179.9 1890.8L191.3 1890.0L203.1 1889.1L215.2 1888.2L227.3 1887.4L239.0 1886.6L250.0 1886.0L260.7 1885.6L271.4 1885.3L282.1 1885.2L292.5 1885.1L302.6 1884.9L312.3 1884.7L321.5 1884.2L330.0 1883.5L337.8 1882.5L344.8 1881.2L351.4 1879.8L357.5 1878.2L363.3 1876.6L368.9 1875.0L374.4 1873.4L380.0 1872.0L385.3 1870.6L390.2 1869.2L394.9 1867.8L399.4 1866.4L404.0 1865.0L408.8 1863.8L414.1 1862.6L420.0 1861.6L426.5 1860.7L433.6 1860.0L441.0 1859.4L448.8 1858.9L456.6 1858.4L464.5 1857.9L472.4 1857.5L480.0 1857.0L487.6 1856.5L495.4 1856.2L503.2 1855.8L510.9 1855.5L518.6 1855.1L526.1 1854.7L533.2 1854.2L540.0 1853.5L546.7 1852.6L553.4 1851.5L560.0 1850.3L566.2 1849.0L572.1 1847.8L577.3 1846.6L581.6 1845.7L585.0 1845.0L585.0 1964.0L580.0 1963.6L573.4 1963.1L565.6 1962.4L556.9 1961.8L547.6 1961.0L538.1 1960.3L528.8 1959.6L520.0 1959.0L511.5 1958.5L502.9 1957.9L494.1 1957.4L485.3 1956.9L476.5 1956.5L467.6 1956.0L458.8 1955.5L450.0 1955.0L441.2 1954.5L432.5 1954.0L423.8 1953.4L415.0 1952.9L406.2 1952.4L397.5 1951.9L388.8 1951.4L380.0 1951.0L371.2 1950.6L362.3 1950.3L353.3 1950.1L344.4 1949.8L335.5 1949.6L326.8 1949.4L318.3 1949.2L310.0 1949.0L302.3 1948.8L295.2 1948.7L288.5 1948.6L281.9 1948.5L275.0 1948.4L267.6 1948.3L259.3 1948.2L250.0 1948.0L239.4 1947.8L227.7 1947.5L215.3 1947.2L202.2 1946.9L189.0 1946.6L175.7 1946.3L162.6 1946.1L150.0 1946.0L137.2 1946.0L123.5 1946.1L109.5 1946.2L95.8 1946.4L82.8 1946.6L71.2 1946.8L61.4 1946.9L54.0 1947.0Z"/></clipPath>
<rect x="54.3" y="1840" width="530.7" height="130" filter="url(#fSc)" clip-path="url(#cScW)"/>
<path d="M54 1894.3L63 1893.9L72 1893.5L81 1893.1L90 1893.0L99 1893.0L108 1893.1L117 1893.3L126 1893.5L135 1893.8L144 1894.0L153 1894.2L162 1894.1L171 1893.5L180 1892.7L189 1891.8L198 1890.8L207 1889.8L216 1888.8L225 1887.9L234 1887.2L243 1886.6M270 1886.5L279 1886.7L288 1886.8L297 1886.8L306 1886.7L315 1886.4L324 1885.9L333 1884.7M351 1879.8L360 1877.4L369 1875.1L378 1872.9L387 1870.7L396 1868.7L405 1866.7L414 1864.9L423 1863.6L432 1863.3L441 1862.9L450 1862.3L459 1861.6M486 1858.7L495 1857.8L504 1856.9L513 1856.1L522 1855.5L531 1855.1L540 1854.8L549 1853.5L558 1852.3L567 1851.1L576 1849.8L585 1848.4M54 1902.0L63 1901.7L72 1901.3L81 1901.0L90 1900.6L99 1900.2L108 1899.8L117 1899.3L126 1898.9L135 1898.5L144 1898.1L153 1897.9L162 1897.7L171 1897.2L180 1896.9M207 1896.3L216 1896.1L225 1896.0L234 1895.9L243 1895.8L252 1895.7L261 1895.8L270 1895.8L279 1895.7L288 1895.6L297 1895.3L306 1895.0L315 1894.7L324 1894.2L333 1893.2L342 1891.2L351 1889.1L360 1886.9L369 1884.8L378 1882.7L387 1880.5L396 1878.2L405 1876.1M432 1871.9L441 1871.5L450 1871.1L459 1870.8L468 1870.6L477 1870.4L486 1870.4L495 1870.4L504 1870.4L513 1870.4L522 1870.3L531 1870.2L540 1870.1L549 1868.9L558 1867.6M54 1907.6L63 1908.4L72 1909.0L81 1909.3L90 1909.3L99 1908.9L108 1908.3L117 1907.4L126 1906.4L135 1905.6L144 1905.1L153 1904.9L162 1905.0L171 1905.2L180 1905.6L189 1906.0L198 1906.3L207 1906.3L216 1906.0L225 1905.4L234 1904.5M252 1902.3L261 1901.4L270 1900.7L279 1900.4L288 1900.4L297 1900.7L306 1901.2L315 1901.9L324 1902.5L333 1902.4L342 1901.2L351 1899.7L360 1897.8M387 1891.2L396 1889.0L405 1887.2L414 1885.6L423 1884.9L432 1885.1L441 1885.5L450 1886.0L459 1886.2L468 1886.2L477 1885.8L486 1885.2L495 1884.4L504 1883.4L513 1882.3L522 1881.4L531 1880.8L540 1880.6L549 1879.8M54 1913.8L63 1913.8L72 1913.9L81 1914.1L90 1914.4L99 1914.7L108 1915.0L117 1915.0L126 1914.9L135 1914.6L144 1914.2L153 1913.8L162 1913.3L171 1912.7L180 1912.3L189 1912.0L198 1911.8L207 1911.8L216 1911.8L225 1911.9L234 1911.9L243 1911.8L252 1911.6L261 1911.4M279 1910.6L288 1910.1L297 1909.7L306 1909.4L315 1909.2L324 1909.3L333 1909.1L342 1908.3L351 1907.5L360 1906.6M378 1904.7L387 1903.4L396 1902.0L405 1900.5L414 1898.9L423 1897.7L432 1897.3L441 1897.0M477 1897.1L486 1897.3L495 1897.4L504 1897.4L513 1897.2L522 1896.9L531 1896.6L540 1896.2L549 1895.1L558 1894.1L567 1893.3L576 1892.6L585 1892.0M54 1919.6L63 1919.3L72 1919.2L81 1919.1L90 1919.0L99 1919.0L108 1919.1L117 1919.2L126 1919.3L135 1919.5L144 1919.7L153 1919.9M189 1920.7L198 1920.7L207 1920.8L216 1920.7L225 1920.6L234 1920.5L243 1920.2L252 1920.0L261 1919.8L270 1919.5L279 1919.2L288 1918.8L297 1918.4L306 1918.0L315 1917.6L324 1917.3M351 1914.4L360 1913.3L369 1912.3L378 1911.4L387 1910.5L396 1909.7L405 1909.0L414 1908.3L423 1908.0L432 1908.2L441 1908.4L450 1908.7M468 1909.3L477 1909.5L486 1909.9L495 1910.2L504 1910.4L513 1910.6L522 1910.8L531 1910.9L540 1911.0L549 1910.5L558 1909.9L567 1909.3L576 1908.6L585 1907.8M54 1928.1L63 1927.9L72 1927.7L81 1927.3L90 1926.9L99 1926.4L108 1926.0L117 1925.7L126 1925.4L135 1925.2L144 1925.2L153 1925.4M171 1925.9L180 1926.2L189 1926.4L198 1926.6L207 1926.6L216 1926.6L225 1926.3L234 1926.0L243 1925.6L252 1925.1L261 1924.7L270 1924.4L279 1924.1L288 1924.0L297 1923.9L306 1924.0M342 1924.6L351 1924.4L360 1924.0L369 1923.6L378 1923.0L387 1922.3L396 1921.5L405 1920.7L414 1919.8L423 1919.0L432 1918.8L441 1918.6M477 1919.1L486 1919.5L495 1920.0L504 1920.5L513 1921.0L522 1921.4L531 1921.8L540 1922.0L549 1921.7L558 1921.3L567 1920.7L576 1920.2L585 1919.6M54 1934.5L63 1934.6L72 1934.5L81 1934.1L90 1933.6L99 1933.0L108 1932.3L117 1931.6L126 1931.0L135 1930.6L144 1930.4M180 1931.9L189 1932.5L198 1933.1L207 1933.5L216 1933.7L225 1933.6L234 1933.4L243 1933.0L252 1932.4L261 1931.8L270 1931.2L279 1930.8L288 1930.5L297 1930.4L306 1930.5L315 1930.9L324 1931.5L333 1932.0L342 1932.3L351 1932.5L360 1932.6L369 1932.5L378 1932.3M405 1930.5L414 1929.6L423 1928.9L432 1928.6L441 1928.4L450 1928.4L459 1928.6L468 1929.1L477 1929.7L486 1930.5L495 1931.4L504 1932.2L513 1933.0L522 1933.6L531 1934.1L540 1934.3L549 1934.1L558 1933.6L567 1933.1L576 1932.6L585 1932.1M54 1939.3L63 1939.1L72 1938.8L81 1938.3L90 1937.9L99 1937.4L108 1937.1L117 1936.9L126 1936.8L135 1936.8L144 1937.0L153 1937.3L162 1937.8L171 1938.2L180 1938.5L189 1938.6L198 1938.6L207 1938.5L216 1938.2M243 1937.3L252 1937.2L261 1937.2L270 1937.4L279 1937.8L288 1938.2L297 1938.7L306 1939.1L315 1939.5L324 1939.8L333 1939.9L342 1939.6L351 1939.2L360 1938.7L369 1938.2L378 1937.8L387 1937.6L396 1937.5L405 1937.6L414 1937.9L423 1938.4L432 1939.1L441 1939.8M468 1941.3L477 1941.5L486 1941.6L495 1941.6L504 1941.5L513 1941.5L522 1941.6L531 1942.0L540 1942.5L549 1943.0L558 1943.6L567 1944.2L576 1944.9L585 1945.6" fill="none" stroke="#8E3C84" stroke-width="0.9" opacity="0.45"/>
<path d="M54.0 1947.0L61.4 1946.9L71.2 1946.8L82.8 1946.6L95.8 1946.4L109.5 1946.2L123.5 1946.1L137.2 1946.0L150.0 1946.0L162.6 1946.1L175.7 1946.3L189.0 1946.6L202.2 1946.9L215.3 1947.2L227.7 1947.5L239.4 1947.8L250.0 1948.0L259.3 1948.2L267.6 1948.3L275.0 1948.4L281.9 1948.5L288.5 1948.6L295.2 1948.7L302.3 1948.8L310.0 1949.0L318.3 1949.2L326.8 1949.4L335.5 1949.6L344.4 1949.8L353.3 1950.1L362.3 1950.3L371.2 1950.6L380.0 1951.0L388.8 1951.4L397.5 1951.9L406.2 1952.4L415.0 1952.9L423.8 1953.4L432.5 1954.0L441.2 1954.5L450.0 1955.0L458.8 1955.5L467.6 1956.0L476.5 1956.5L485.3 1956.9L494.1 1957.4L502.9 1957.9L511.5 1958.5L520.0 1959.0L528.8 1959.6L538.1 1960.3L547.6 1961.0L556.9 1961.8L565.6 1962.4L573.4 1963.1L580.0 1963.6L585.0 1964.0" fill="none" stroke="#D8306E" stroke-width="4"/>
<path d="M54.0 1942.0L61.4 1941.9L71.2 1941.8L82.8 1941.6L95.8 1941.4L109.5 1941.2L123.5 1941.1L137.2 1941.0L150.0 1941.0L162.6 1941.1L175.7 1941.3L189.0 1941.6L202.2 1941.9L215.3 1942.2L227.7 1942.5L239.4 1942.8L250.0 1943.0L259.3 1943.2L267.6 1943.3L275.0 1943.4L281.9 1943.5L288.5 1943.6L295.2 1943.7L302.3 1943.8L310.0 1944.0L318.3 1944.2L326.8 1944.4L335.5 1944.6L344.4 1944.8L353.3 1945.1L362.3 1945.3L371.2 1945.6L380.0 1946.0L388.8 1946.4L397.5 1946.9L406.2 1947.4L415.0 1947.9L423.8 1948.4L432.5 1949.0L441.2 1949.5L450.0 1950.0L458.8 1950.5L467.6 1951.0L476.5 1951.5L485.3 1951.9L494.1 1952.4L502.9 1952.9L511.5 1953.5L520.0 1954.0L528.8 1954.6L538.1 1955.3L547.6 1956.0L556.9 1956.8L565.6 1957.4L573.4 1958.1L580.0 1958.6L585.0 1959.0" fill="none" stroke="#E45C97" stroke-width="3"/>
<path d="M54 1818 Q90 1812 120 1822 Q140 1826 150 1834 Q120 1836 90 1830 Q70 1828 54 1832Z" fill="#DC86B4" opacity="0.7"/>
<path d="M54 1838 Q90 1836 130 1842 Q150 1846 158 1852 Q120 1852 90 1846 Q70 1846 54 1852Z" fill="#DC86B4" opacity="0.7"/>
<path d="M105 1862 Q118 1860 125 1872 Q115 1870 105 1866Z" fill="#DC86B4" opacity="0.7"/>
<path d="M92 1880 Q110 1878 128 1884 Q110 1886 92 1884Z" fill="#DC86B4" opacity="0.7"/>
<path d="M170 1878 Q200 1870 230 1872 Q210 1878 180 1882Z" fill="#DC86B4" opacity="0.7"/>
</g>
<g stroke="#111" stroke-width="1.6"><line x1="480.4" y1="1828" x2="541.5" y2="1828"/><line x1="480.4" y1="1824" x2="480.4" y2="1832"/><line x1="541.5" y1="1824" x2="541.5" y2="1832"/></g>
<text x="489.0" y="1824.6" font-size="11.5" fill="#111" font-weight="bold">100 µm</text>
<clipPath id="cG"><rect x="609.2" y="1812.4" width="534.3" height="342.1999999999998"/></clipPath>
<g clip-path="url(#cG)">
<rect x="609.2" y="1812.4" width="534.3" height="342.1999999999998" fill="#E7E4E7"/>
<circle cx="675" cy="1830" r="7" fill="none" stroke="#d6d2d6" stroke-width="2.5"/>
<circle cx="746" cy="1846" r="10" fill="none" stroke="#d6d2d6" stroke-width="2.5"/>
<circle cx="830" cy="1843" r="12" fill="none" stroke="#d6d2d6" stroke-width="2.5"/>
<circle cx="918" cy="1853" r="13" fill="none" stroke="#d6d2d6" stroke-width="2.5"/>
<circle cx="1006" cy="1862" r="6" fill="none" stroke="#d6d2d6" stroke-width="2.5"/>
<circle cx="1040" cy="1838" r="9" fill="none" stroke="#d6d2d6" stroke-width="2.5"/>
<path d="M609.0 2084.0L612.1 2084.4L616.2 2085.0L621.0 2085.6L626.4 2086.4L632.2 2087.2L638.2 2088.1L644.2 2089.0L650.0 2090.0L655.9 2091.1L662.1 2092.4L668.5 2093.8L675.1 2095.2L681.6 2096.6L688.0 2097.9L694.2 2099.1L700.0 2100.0L705.3 2100.8L710.2 2101.5L714.9 2102.1L719.4 2102.6L724.0 2102.9L728.8 2103.1L734.1 2103.2L740.0 2103.0L746.5 2102.6L753.4 2102.0L760.6 2101.1L768.1 2100.1L775.9 2099.1L783.8 2098.0L791.9 2096.9L800.0 2096.0L808.3 2095.0L817.0 2094.0L826.0 2092.9L835.0 2091.8L844.0 2090.8L853.0 2090.0L861.7 2089.3L870.0 2089.0L877.9 2089.0L885.5 2089.2L892.8 2089.7L900.0 2090.4L907.2 2091.1L914.5 2091.8L922.1 2092.5L930.0 2093.0L938.3 2093.4L946.8 2093.8L955.5 2094.1L964.4 2094.4L973.3 2094.8L982.3 2095.1L991.2 2095.5L1000.0 2096.0L1008.7 2096.5L1017.4 2097.1L1026.1 2097.7L1034.8 2098.4L1043.5 2099.0L1052.3 2099.7L1061.1 2100.4L1070.0 2101.0L1079.5 2101.7L1089.8 2102.4L1100.4 2103.1L1110.9 2103.8L1120.8 2104.5L1129.8 2105.1L1137.3 2105.6L1143.0 2106.0L1150.0 2160.0L600.0 2160.0Z" fill="#DBDBD7"/>
<clipPath id="cDG"><path d="M609.0 1930.0L653.8 1930.0L717.5 1930.0L793.6 1930.0L876.0 1930.0L958.4 1930.0L1034.5 1930.0L1098.2 1930.0L1143.0 1930.0L1143.0 2106.0L1137.3 2105.6L1129.8 2105.1L1120.8 2104.5L1110.9 2103.8L1100.4 2103.1L1089.8 2102.4L1079.5 2101.7L1070.0 2101.0L1061.1 2100.4L1052.3 2099.7L1043.5 2099.0L1034.8 2098.4L1026.1 2097.7L1017.4 2097.1L1008.7 2096.5L1000.0 2096.0L991.2 2095.5L982.3 2095.1L973.3 2094.8L964.4 2094.4L955.5 2094.1L946.8 2093.8L938.3 2093.4L930.0 2093.0L922.1 2092.5L914.5 2091.8L907.2 2091.1L900.0 2090.4L892.8 2089.7L885.5 2089.2L877.9 2089.0L870.0 2089.0L861.7 2089.3L853.0 2090.0L844.0 2090.8L835.0 2091.8L826.0 2092.9L817.0 2094.0L808.3 2095.0L800.0 2096.0L791.9 2096.9L783.8 2098.0L775.9 2099.1L768.1 2100.1L760.6 2101.1L753.4 2102.0L746.5 2102.6L740.0 2103.0L734.1 2103.2L728.8 2103.1L724.0 2102.9L719.4 2102.6L714.9 2102.1L710.2 2101.5L705.3 2100.8L700.0 2100.0L694.2 2099.1L688.0 2097.9L681.6 2096.6L675.1 2095.2L668.5 2093.8L662.1 2092.4L655.9 2091.1L650.0 2090.0L644.2 2089.0L638.2 2088.1L632.2 2087.2L626.4 2086.4L621.0 2085.6L616.2 2085.0L612.1 2084.4L609.0 2084.0Z"/></clipPath>
<path d="M609.0 1930.0L653.8 1930.0L717.5 1930.0L793.6 1930.0L876.0 1930.0L958.4 1930.0L1034.5 1930.0L1098.2 1930.0L1143.0 1930.0L1143.0 2106.0L1137.3 2105.6L1129.8 2105.1L1120.8 2104.5L1110.9 2103.8L1100.4 2103.1L1089.8 2102.4L1079.5 2101.7L1070.0 2101.0L1061.1 2100.4L1052.3 2099.7L1043.5 2099.0L1034.8 2098.4L1026.1 2097.7L1017.4 2097.1L1008.7 2096.5L1000.0 2096.0L991.2 2095.5L982.3 2095.1L973.3 2094.8L964.4 2094.4L955.5 2094.1L946.8 2093.8L938.3 2093.4L930.0 2093.0L922.1 2092.5L914.5 2091.8L907.2 2091.1L900.0 2090.4L892.8 2089.7L885.5 2089.2L877.9 2089.0L870.0 2089.0L861.7 2089.3L853.0 2090.0L844.0 2090.8L835.0 2091.8L826.0 2092.9L817.0 2094.0L808.3 2095.0L800.0 2096.0L791.9 2096.9L783.8 2098.0L775.9 2099.1L768.1 2100.1L760.6 2101.1L753.4 2102.0L746.5 2102.6L740.0 2103.0L734.1 2103.2L728.8 2103.1L724.0 2102.9L719.4 2102.6L714.9 2102.1L710.2 2101.5L705.3 2100.8L700.0 2100.0L694.2 2099.1L688.0 2097.9L681.6 2096.6L675.1 2095.2L668.5 2093.8L662.1 2092.4L655.9 2091.1L650.0 2090.0L644.2 2089.0L638.2 2088.1L632.2 2087.2L626.4 2086.4L621.0 2085.6L616.2 2085.0L612.1 2084.4L609.0 2084.0Z" fill="#EF9ABC"/>
<rect x="609.2" y="1930" width="534.3" height="180" filter="url(#fPk)" clip-path="url(#cDG)" opacity="0.8"/>
<rect x="609.2" y="1930" width="534.3" height="180" filter="url(#fWs)" clip-path="url(#cDG)"/>
<rect x="609.2" y="2000" width="534.3" height="110" filter="url(#fWs2)" clip-path="url(#cDG)" opacity="0.8"/>
<path d="M609.0 2084.0L612.1 2084.4L616.2 2085.0L621.0 2085.6L626.4 2086.4L632.2 2087.2L638.2 2088.1L644.2 2089.0L650.0 2090.0L655.9 2091.1L662.1 2092.4L668.5 2093.8L675.1 2095.2L681.6 2096.6L688.0 2097.9L694.2 2099.1L700.0 2100.0L705.3 2100.8L710.2 2101.5L714.9 2102.1L719.4 2102.6L724.0 2102.9L728.8 2103.1L734.1 2103.2L740.0 2103.0L746.5 2102.6L753.4 2102.0L760.6 2101.1L768.1 2100.1L775.9 2099.1L783.8 2098.0L791.9 2096.9L800.0 2096.0L808.3 2095.0L817.0 2094.0L826.0 2092.9L835.0 2091.8L844.0 2090.8L853.0 2090.0L861.7 2089.3L870.0 2089.0L877.9 2089.0L885.5 2089.2L892.8 2089.7L900.0 2090.4L907.2 2091.1L914.5 2091.8L922.1 2092.5L930.0 2093.0L938.3 2093.4L946.8 2093.8L955.5 2094.1L964.4 2094.4L973.3 2094.8L982.3 2095.1L991.2 2095.5L1000.0 2096.0L1008.7 2096.5L1017.4 2097.1L1026.1 2097.7L1034.8 2098.4L1043.5 2099.0L1052.3 2099.7L1061.1 2100.4L1070.0 2101.0L1079.5 2101.7L1089.8 2102.4L1100.4 2103.1L1110.9 2103.8L1120.8 2104.5L1129.8 2105.1L1137.3 2105.6L1143.0 2106.0" fill="none" stroke="#8A3C92" stroke-width="3.2"/>
<ellipse cx="770" cy="2063" rx="11" ry="6" fill="#8a3c8a" transform="rotate(30 770 2063)"/>
<ellipse cx="725" cy="2038" rx="4" ry="2" fill="#6a2a7a"/>
<path d="M609.0 1919.0L616.0 1919.1L625.1 1919.2L636.1 1919.3L648.2 1919.4L661.2 1919.6L674.5 1919.7L687.6 1919.9L700.0 1920.0L712.2 1920.1L724.8 1920.3L737.7 1920.4L750.7 1920.5L763.6 1920.7L776.2 1920.8L788.4 1920.9L800.0 1921.0L811.0 1921.1L821.4 1921.2L831.5 1921.4L841.2 1921.5L850.9 1921.6L860.5 1921.6L870.1 1921.6L880.0 1921.6L889.9 1921.5L899.8 1921.3L909.6 1921.1L919.4 1920.9L929.3 1920.7L939.3 1920.4L949.5 1920.2L960.0 1920.0L970.8 1919.8L981.7 1919.7L992.9 1919.6L1004.2 1919.5L1015.6 1919.3L1027.1 1919.2L1038.5 1919.1L1050.0 1919.0L1062.1 1918.9L1075.2 1918.7L1088.7 1918.6L1102.1 1918.4L1114.8 1918.3L1126.2 1918.2L1135.8 1918.1L1143.0 1918.0L1143.0 1938.0L1138.7 1938.2L1132.6 1938.5L1125.3 1938.8L1117.4 1939.2L1109.4 1939.7L1101.8 1940.3L1095.2 1941.0L1090.0 1942.0L1086.3 1943.4L1083.6 1945.2L1081.6 1947.3L1080.1 1949.4L1079.0 1951.5L1077.9 1953.2L1076.6 1954.5L1075.0 1955.0L1073.2 1954.7L1071.6 1953.8L1070.0 1952.3L1068.4 1950.6L1066.7 1948.7L1064.8 1946.8L1062.6 1945.2L1060.0 1944.0L1057.1 1943.1L1053.9 1942.4L1050.5 1941.7L1046.9 1941.2L1043.0 1940.8L1038.9 1940.4L1034.6 1940.2L1030.0 1940.0L1024.9 1939.9L1019.0 1939.9L1012.7 1940.0L1006.2 1940.2L1000.0 1940.5L994.1 1940.9L989.1 1941.4L985.0 1942.0L982.1 1942.8L980.2 1944.0L978.9 1945.4L978.1 1946.8L977.6 1948.1L977.0 1949.1L976.2 1949.8L975.0 1950.0L973.5 1949.5L972.1 1948.5L970.6 1947.0L969.1 1945.4L967.3 1943.7L965.3 1942.1L962.9 1940.8L960.0 1940.0L956.4 1939.6L952.1 1939.5L947.2 1939.5L942.2 1939.8L937.2 1940.1L932.5 1940.7L928.3 1941.3L925.0 1942.0L922.6 1943.0L920.7 1944.4L919.4 1946.0L918.4 1947.8L917.7 1949.4L916.9 1950.7L916.1 1951.7L915.0 1952.0L913.9 1951.7L913.1 1950.7L912.3 1949.4L911.6 1947.8L910.6 1946.0L909.3 1944.4L907.4 1943.0L905.0 1942.0L901.9 1941.3L898.1 1940.8L893.9 1940.5L889.4 1940.2L884.6 1940.1L879.7 1940.0L874.8 1940.0L870.0 1940.0L865.1 1940.0L859.8 1940.1L854.3 1940.2L848.8 1940.4L843.4 1940.7L838.4 1941.1L833.8 1941.5L830.0 1942.0L826.9 1942.6L824.4 1943.2L822.3 1943.8L820.6 1944.6L819.1 1945.4L817.7 1946.4L816.4 1947.6L815.0 1949.0L813.6 1950.6L812.3 1952.5L811.1 1954.6L810.1 1956.9L809.0 1959.2L808.0 1961.5L807.0 1963.8L806.0 1966.0L805.0 1968.4L803.9 1971.0L802.9 1973.9L801.9 1976.6L801.0 1979.1L800.0 1981.1L799.0 1982.5L798.0 1983.0L797.0 1982.5L796.0 1981.2L795.0 1979.2L794.0 1976.8L793.0 1974.1L792.0 1971.3L791.0 1968.5L790.0 1966.0L789.1 1963.6L788.3 1961.0L787.6 1958.3L786.9 1955.6L786.0 1952.9L785.0 1950.4L783.7 1948.0L782.0 1946.0L780.0 1944.2L777.7 1942.6L775.1 1941.2L772.4 1939.9L769.5 1938.7L766.4 1937.7L763.2 1936.8L760.0 1936.0L756.6 1935.4L753.1 1934.9L749.3 1934.6L745.5 1934.4L741.6 1934.3L737.7 1934.2L733.8 1934.1L730.0 1934.0L726.2 1933.8L722.5 1933.6L718.7 1933.4L714.9 1933.2L711.1 1933.0L707.4 1932.9L703.7 1932.9L700.0 1933.0L696.3 1933.1L692.5 1933.4L688.7 1933.6L684.9 1933.9L681.2 1934.3L677.8 1934.8L674.7 1935.4L672.0 1936.0L669.7 1936.7L667.8 1937.5L666.2 1938.3L664.9 1939.2L663.7 1940.2L662.5 1941.3L661.3 1942.6L660.0 1944.0L658.7 1945.6L657.4 1947.3L656.1 1949.2L654.9 1951.2L653.7 1953.4L652.5 1955.5L651.2 1957.8L650.0 1960.0L648.8 1962.4L647.5 1965.0L646.2 1967.6L645.0 1970.4L643.8 1973.1L642.5 1975.6L641.2 1978.0L640.0 1980.0L638.8 1981.9L637.5 1983.6L636.2 1985.3L635.0 1986.8L633.8 1988.0L632.5 1989.0L631.2 1989.7L630.0 1990.0L628.7 1989.9L627.4 1989.4L626.1 1988.6L624.8 1987.5L623.5 1986.2L622.3 1984.8L621.1 1983.4L620.0 1982.0L619.0 1980.6L618.0 1979.0L617.0 1977.3L616.1 1975.5L615.3 1973.7L614.5 1971.8L613.7 1969.9L613.0 1968.0L612.3 1966.0L611.7 1963.8L611.1 1961.4L610.6 1959.1L610.1 1956.9L609.6 1954.9L609.3 1953.2L609.0 1952.0Z" fill="#94499E"/>
<clipPath id="cEpG"><path d="M609.0 1919.0L616.0 1919.1L625.1 1919.2L636.1 1919.3L648.2 1919.4L661.2 1919.6L674.5 1919.7L687.6 1919.9L700.0 1920.0L712.2 1920.1L724.8 1920.3L737.7 1920.4L750.7 1920.5L763.6 1920.7L776.2 1920.8L788.4 1920.9L800.0 1921.0L811.0 1921.1L821.4 1921.2L831.5 1921.4L841.2 1921.5L850.9 1921.6L860.5 1921.6L870.1 1921.6L880.0 1921.6L889.9 1921.5L899.8 1921.3L909.6 1921.1L919.4 1920.9L929.3 1920.7L939.3 1920.4L949.5 1920.2L960.0 1920.0L970.8 1919.8L981.7 1919.7L992.9 1919.6L1004.2 1919.5L1015.6 1919.3L1027.1 1919.2L1038.5 1919.1L1050.0 1919.0L1062.1 1918.9L1075.2 1918.7L1088.7 1918.6L1102.1 1918.4L1114.8 1918.3L1126.2 1918.2L1135.8 1918.1L1143.0 1918.0L1143.0 1938.0L1138.7 1938.2L1132.6 1938.5L1125.3 1938.8L1117.4 1939.2L1109.4 1939.7L1101.8 1940.3L1095.2 1941.0L1090.0 1942.0L1086.3 1943.4L1083.6 1945.2L1081.6 1947.3L1080.1 1949.4L1079.0 1951.5L1077.9 1953.2L1076.6 1954.5L1075.0 1955.0L1073.2 1954.7L1071.6 1953.8L1070.0 1952.3L1068.4 1950.6L1066.7 1948.7L1064.8 1946.8L1062.6 1945.2L1060.0 1944.0L1057.1 1943.1L1053.9 1942.4L1050.5 1941.7L1046.9 1941.2L1043.0 1940.8L1038.9 1940.4L1034.6 1940.2L1030.0 1940.0L1024.9 1939.9L1019.0 1939.9L1012.7 1940.0L1006.2 1940.2L1000.0 1940.5L994.1 1940.9L989.1 1941.4L985.0 1942.0L982.1 1942.8L980.2 1944.0L978.9 1945.4L978.1 1946.8L977.6 1948.1L977.0 1949.1L976.2 1949.8L975.0 1950.0L973.5 1949.5L972.1 1948.5L970.6 1947.0L969.1 1945.4L967.3 1943.7L965.3 1942.1L962.9 1940.8L960.0 1940.0L956.4 1939.6L952.1 1939.5L947.2 1939.5L942.2 1939.8L937.2 1940.1L932.5 1940.7L928.3 1941.3L925.0 1942.0L922.6 1943.0L920.7 1944.4L919.4 1946.0L918.4 1947.8L917.7 1949.4L916.9 1950.7L916.1 1951.7L915.0 1952.0L913.9 1951.7L913.1 1950.7L912.3 1949.4L911.6 1947.8L910.6 1946.0L909.3 1944.4L907.4 1943.0L905.0 1942.0L901.9 1941.3L898.1 1940.8L893.9 1940.5L889.4 1940.2L884.6 1940.1L879.7 1940.0L874.8 1940.0L870.0 1940.0L865.1 1940.0L859.8 1940.1L854.3 1940.2L848.8 1940.4L843.4 1940.7L838.4 1941.1L833.8 1941.5L830.0 1942.0L826.9 1942.6L824.4 1943.2L822.3 1943.8L820.6 1944.6L819.1 1945.4L817.7 1946.4L816.4 1947.6L815.0 1949.0L813.6 1950.6L812.3 1952.5L811.1 1954.6L810.1 1956.9L809.0 1959.2L808.0 1961.5L807.0 1963.8L806.0 1966.0L805.0 1968.4L803.9 1971.0L802.9 1973.9L801.9 1976.6L801.0 1979.1L800.0 1981.1L799.0 1982.5L798.0 1983.0L797.0 1982.5L796.0 1981.2L795.0 1979.2L794.0 1976.8L793.0 1974.1L792.0 1971.3L791.0 1968.5L790.0 1966.0L789.1 1963.6L788.3 1961.0L787.6 1958.3L786.9 1955.6L786.0 1952.9L785.0 1950.4L783.7 1948.0L782.0 1946.0L780.0 1944.2L777.7 1942.6L775.1 1941.2L772.4 1939.9L769.5 1938.7L766.4 1937.7L763.2 1936.8L760.0 1936.0L756.6 1935.4L753.1 1934.9L749.3 1934.6L745.5 1934.4L741.6 1934.3L737.7 1934.2L733.8 1934.1L730.0 1934.0L726.2 1933.8L722.5 1933.6L718.7 1933.4L714.9 1933.2L711.1 1933.0L707.4 1932.9L703.7 1932.9L700.0 1933.0L696.3 1933.1L692.5 1933.4L688.7 1933.6L684.9 1933.9L681.2 1934.3L677.8 1934.8L674.7 1935.4L672.0 1936.0L669.7 1936.7L667.8 1937.5L666.2 1938.3L664.9 1939.2L663.7 1940.2L662.5 1941.3L661.3 1942.6L660.0 1944.0L658.7 1945.6L657.4 1947.3L656.1 1949.2L654.9 1951.2L653.7 1953.4L652.5 1955.5L651.2 1957.8L650.0 1960.0L648.8 1962.4L647.5 1965.0L646.2 1967.6L645.0 1970.4L643.8 1973.1L642.5 1975.6L641.2 1978.0L640.0 1980.0L638.8 1981.9L637.5 1983.6L636.2 1985.3L635.0 1986.8L633.8 1988.0L632.5 1989.0L631.2 1989.7L630.0 1990.0L628.7 1989.9L627.4 1989.4L626.1 1988.6L624.8 1987.5L623.5 1986.2L622.3 1984.8L621.1 1983.4L620.0 1982.0L619.0 1980.6L618.0 1979.0L617.0 1977.3L616.1 1975.5L615.3 1973.7L614.5 1971.8L613.7 1969.9L613.0 1968.0L612.3 1966.0L611.7 1963.8L611.1 1961.4L610.6 1959.1L610.1 1956.9L609.6 1954.9L609.3 1953.2L609.0 1952.0Z"/></clipPath>
<rect x="609.2" y="1915" width="534.3" height="80" filter="url(#fPu)" clip-path="url(#cEpG)" opacity="0.65"/>
<path d="M609.0 1868.5L616.0 1868.7L625.1 1869.0L636.1 1869.3L648.2 1869.6L661.2 1870.0L674.5 1870.4L687.6 1870.7L700.0 1871.0L712.2 1871.3L724.8 1871.5L737.7 1871.8L750.7 1872.0L763.6 1872.2L776.2 1872.5L788.4 1872.7L800.0 1873.0L811.0 1873.3L821.4 1873.6L831.5 1873.9L841.2 1874.2L850.9 1874.5L860.5 1874.8L870.1 1875.1L880.0 1875.4L889.9 1875.7L899.8 1875.9L909.6 1876.2L919.4 1876.4L929.3 1876.7L939.3 1877.1L949.5 1877.5L960.0 1878.0L971.0 1878.7L982.7 1879.6L994.8 1880.6L1006.9 1881.6L1018.7 1882.6L1030.1 1883.5L1040.6 1884.2L1050.0 1884.6L1058.2 1884.7L1065.5 1884.6L1072.0 1884.2L1077.9 1883.8L1083.5 1883.3L1088.9 1882.8L1094.4 1882.3L1100.0 1882.0L1106.0 1881.8L1112.2 1881.6L1118.5 1881.5L1124.6 1881.3L1130.3 1881.2L1135.4 1881.1L1139.7 1881.1L1143.0 1881.0L1143.0 1918.0L1135.8 1918.1L1126.2 1918.2L1114.8 1918.3L1102.1 1918.4L1088.7 1918.6L1075.2 1918.7L1062.1 1918.9L1050.0 1919.0L1038.5 1919.1L1027.1 1919.2L1015.6 1919.3L1004.2 1919.5L992.9 1919.6L981.7 1919.7L970.8 1919.8L960.0 1920.0L949.5 1920.2L939.3 1920.4L929.3 1920.7L919.4 1920.9L909.6 1921.1L899.8 1921.3L889.9 1921.5L880.0 1921.6L870.1 1921.6L860.5 1921.6L850.9 1921.6L841.2 1921.5L831.5 1921.4L821.4 1921.2L811.0 1921.1L800.0 1921.0L788.4 1920.9L776.2 1920.8L763.6 1920.7L750.7 1920.5L737.7 1920.4L724.8 1920.3L712.2 1920.1L700.0 1920.0L687.6 1919.9L674.5 1919.7L661.2 1919.6L648.2 1919.4L636.1 1919.3L625.1 1919.2L616.0 1919.1L609.0 1919.0Z" fill="#E04E8E"/>
<clipPath id="cScG"><path d="M609.0 1868.5L616.0 1868.7L625.1 1869.0L636.1 1869.3L648.2 1869.6L661.2 1870.0L674.5 1870.4L687.6 1870.7L700.0 1871.0L712.2 1871.3L724.8 1871.5L737.7 1871.8L750.7 1872.0L763.6 1872.2L776.2 1872.5L788.4 1872.7L800.0 1873.0L811.0 1873.3L821.4 1873.6L831.5 1873.9L841.2 1874.2L850.9 1874.5L860.5 1874.8L870.1 1875.1L880.0 1875.4L889.9 1875.7L899.8 1875.9L909.6 1876.2L919.4 1876.4L929.3 1876.7L939.3 1877.1L949.5 1877.5L960.0 1878.0L971.0 1878.7L982.7 1879.6L994.8 1880.6L1006.9 1881.6L1018.7 1882.6L1030.1 1883.5L1040.6 1884.2L1050.0 1884.6L1058.2 1884.7L1065.5 1884.6L1072.0 1884.2L1077.9 1883.8L1083.5 1883.3L1088.9 1882.8L1094.4 1882.3L1100.0 1882.0L1106.0 1881.8L1112.2 1881.6L1118.5 1881.5L1124.6 1881.3L1130.3 1881.2L1135.4 1881.1L1139.7 1881.1L1143.0 1881.0L1143.0 1918.0L1135.8 1918.1L1126.2 1918.2L1114.8 1918.3L1102.1 1918.4L1088.7 1918.6L1075.2 1918.7L1062.1 1918.9L1050.0 1919.0L1038.5 1919.1L1027.1 1919.2L1015.6 1919.3L1004.2 1919.5L992.9 1919.6L981.7 1919.7L970.8 1919.8L960.0 1920.0L949.5 1920.2L939.3 1920.4L929.3 1920.7L919.4 1920.9L909.6 1921.1L899.8 1921.3L889.9 1921.5L880.0 1921.6L870.1 1921.6L860.5 1921.6L850.9 1921.6L841.2 1921.5L831.5 1921.4L821.4 1921.2L811.0 1921.1L800.0 1921.0L788.4 1920.9L776.2 1920.8L763.6 1920.7L750.7 1920.5L737.7 1920.4L724.8 1920.3L712.2 1920.1L700.0 1920.0L687.6 1919.9L674.5 1919.7L661.2 1919.6L648.2 1919.4L636.1 1919.3L625.1 1919.2L616.0 1919.1L609.0 1919.0Z"/></clipPath>
<rect x="609.2" y="1860" width="534.3" height="70" filter="url(#fSc)" clip-path="url(#cScG)" opacity="0.9"/>
<path d="M609 1876.5L618 1876.7L627 1876.6L636 1876.4L645 1876.1L654 1875.8L663 1875.4L672 1875.0L681 1874.8L690 1874.8L700 1874.9L709 1875.2L718 1875.7L727 1876.3L736 1877.0L745 1877.8L754 1878.6L763 1879.3M781 1880.3L790 1880.5L799 1880.5L808 1880.4L817 1880.2L826 1879.9L835 1879.5L844 1879.2L853 1878.9L862 1878.8L871 1878.8L881 1879.0L890 1879.5L899 1880.1L908 1880.8L917 1881.6L926 1882.5L935 1883.3L944 1884.0L953 1884.6L962 1885.1L971 1885.6L980 1886.0L989 1886.1M1007 1886.2L1016 1886.1L1025 1886.1L1034 1886.2L1043 1886.5L1052 1886.7L1062 1886.3L1071 1886.2L1080 1886.2L1089 1886.3L1098 1886.5L1107 1886.8M609 1883.7L618 1883.7L627 1883.8L636 1883.8L645 1883.9L654 1884.0L663 1884.1L672 1884.2L681 1884.4L690 1884.6M727 1885.6L736 1885.9L745 1886.2L754 1886.5L763 1886.8L772 1887.2L781 1887.5L790 1887.8L799 1888.0L808 1888.3L817 1888.6M844 1889.3L853 1889.4L862 1889.5L871 1889.6L881 1889.7L890 1889.7L899 1889.7L908 1889.7L917 1889.7L926 1889.7L935 1889.7L944 1889.7L953 1889.7L962 1889.9L971 1890.3L980 1890.7L989 1891.2L998 1891.6L1007 1892.2L1016 1892.7M1034 1893.9L1043 1894.5L1052 1894.8L1062 1894.6L1071 1894.4L1080 1894.2L1089 1894.0L1098 1893.8L1107 1893.6L1116 1893.5L1125 1893.3L1134 1893.1M609 1894.3L618 1893.8L627 1893.1L636 1892.5L645 1892.0L654 1891.7L663 1891.7L672 1892.1L681 1892.8M709 1895.7L718 1896.5L727 1896.9L736 1897.1L745 1896.9L754 1896.4L763 1895.8L772 1895.1L781 1894.5L790 1894.1L799 1894.0L808 1894.3L817 1894.9L826 1895.7L835 1896.7L844 1897.7L853 1898.6L862 1899.2M890 1898.9L899 1898.3L908 1897.5L917 1896.8L926 1896.2L935 1896.0L944 1896.0L953 1896.4L962 1897.2L971 1898.2L980 1899.4L989 1900.4L998 1901.2L1007 1901.8L1016 1901.9L1025 1901.8L1034 1901.4L1043 1900.9L1052 1900.2M1089 1898.0L1098 1898.3L1107 1898.8L1116 1899.5L1125 1900.2L1134 1900.6L1143 1900.8M609 1901.2L618 1901.8L627 1902.2L636 1902.5L645 1902.5L654 1902.4L663 1902.1L672 1901.7L681 1901.4L690 1901.2L700 1901.2M718 1901.7L727 1902.2L736 1902.8L745 1903.4L754 1903.9L763 1904.3L772 1904.5L781 1904.5L790 1904.3L799 1904.0L808 1903.7L817 1903.4L826 1903.2L835 1903.1M871 1904.8L881 1905.4L890 1905.8L899 1906.0L908 1906.1L917 1906.0L926 1905.7L935 1905.2L944 1904.7L953 1904.2M989 1904.5L998 1905.1L1007 1905.7L1016 1906.4L1025 1907.0L1034 1907.4L1043 1907.7L1052 1907.6L1062 1907.1L1071 1906.4L1080 1905.7L1089 1905.0L1098 1904.4M1116 1904.0L1125 1904.0L1134 1904.3L1143 1904.6M609 1908.3L618 1908.7L627 1909.1L636 1909.5L645 1909.9L654 1910.3L663 1910.5L672 1910.6L681 1910.6L690 1910.5L700 1910.4L709 1910.2L718 1910.0L727 1909.9L736 1909.8L745 1909.9L754 1910.1L763 1910.4L772 1910.7L781 1911.1L790 1911.6M808 1912.2L817 1912.4L826 1912.5L835 1912.5L844 1912.4L853 1912.2L862 1912.0L871 1911.8M899 1911.4L908 1911.4L917 1911.5L926 1911.6L935 1911.9L944 1912.1L953 1912.2L962 1912.4L971 1912.5L980 1912.5L989 1912.4L998 1912.2L1007 1912.0M1034 1911.3L1043 1911.3L1052 1911.3L1062 1911.2L1071 1911.2L1080 1911.3L1089 1911.5L1098 1911.6L1107 1911.7L1116 1911.7L1125 1911.7L1134 1911.5L1143 1911.2" fill="none" stroke="#8E3C84" stroke-width="0.9" opacity="0.45"/>
<path d="M609.0 1919.0L616.0 1919.1L625.1 1919.2L636.1 1919.3L648.2 1919.4L661.2 1919.6L674.5 1919.7L687.6 1919.9L700.0 1920.0L712.2 1920.1L724.8 1920.3L737.7 1920.4L750.7 1920.5L763.6 1920.7L776.2 1920.8L788.4 1920.9L800.0 1921.0L811.0 1921.1L821.4 1921.2L831.5 1921.4L841.2 1921.5L850.9 1921.6L860.5 1921.6L870.1 1921.6L880.0 1921.6L889.9 1921.5L899.8 1921.3L909.6 1921.1L919.4 1920.9L929.3 1920.7L939.3 1920.4L949.5 1920.2L960.0 1920.0L970.8 1919.8L981.7 1919.7L992.9 1919.6L1004.2 1919.5L1015.6 1919.3L1027.1 1919.2L1038.5 1919.1L1050.0 1919.0L1062.1 1918.9L1075.2 1918.7L1088.7 1918.6L1102.1 1918.4L1114.8 1918.3L1126.2 1918.2L1135.8 1918.1L1143.0 1918.0" fill="none" stroke="#D42E72" stroke-width="4"/>
<path d="M609.0 1868.5L616.0 1868.7L625.1 1869.0L636.1 1869.3L648.2 1869.6L661.2 1870.0L674.5 1870.4L687.6 1870.7L700.0 1871.0L712.2 1871.3L724.8 1871.5L737.7 1871.8L750.7 1872.0L763.6 1872.2L776.2 1872.5L788.4 1872.7L800.0 1873.0L811.0 1873.3L821.4 1873.6L831.5 1873.9L841.2 1874.2L850.9 1874.5L860.5 1874.8L870.1 1875.1L880.0 1875.4L889.9 1875.7L899.8 1875.9L909.6 1876.2L919.4 1876.4L929.3 1876.7L939.3 1877.1L949.5 1877.5L960.0 1878.0L971.0 1878.7L982.7 1879.6L994.8 1880.6L1006.9 1881.6L1018.7 1882.6L1030.1 1883.5L1040.6 1884.2L1050.0 1884.6L1058.2 1884.7L1065.5 1884.6L1072.0 1884.2L1077.9 1883.8L1083.5 1883.3L1088.9 1882.8L1094.4 1882.3L1100.0 1882.0L1106.0 1881.8L1112.2 1881.6L1118.5 1881.5L1124.6 1881.3L1130.3 1881.2L1135.4 1881.1L1139.7 1881.1L1143.0 1881.0" fill="none" stroke="#C43A7E" stroke-width="2"/>
</g>
<g stroke="#111" stroke-width="1.6"><line x1="629.5" y1="1850.7" x2="691.9" y2="1850.7"/><line x1="629.5" y1="1846.7" x2="629.5" y2="1854.7"/><line x1="691.9" y1="1846.7" x2="691.9" y2="1854.7"/></g>
<text x="638.0" y="1847.7" font-size="11.5" fill="#111" font-weight="bold">100 µm</text>
<clipPath id="cFW"><rect x="54.3" y="2177" width="530.7" height="327.8000000000002"/></clipPath>
<g clip-path="url(#cFW)">
<rect x="54.3" y="2177" width="530.7" height="327.8000000000002" fill="#0A0407"/>
<clipPath id="cFWe"><path d="M52.3 2175.0L587.0 2175.0L587.0 2302.0L586.0 2302.0L584.8 2302.2L583.2 2302.4L581.4 2302.6L579.3 2302.9L577.1 2303.3L574.9 2303.9L572.8 2304.8L570.9 2306.0L569.2 2307.5L567.5 2309.2L565.8 2311.2L564.1 2313.3L562.5 2315.7L560.9 2318.3L559.3 2321.0L557.6 2324.0L555.9 2327.3L554.3 2330.9L552.6 2334.8L550.9 2338.9L549.2 2343.1L547.5 2347.2L545.9 2351.2L544.2 2355.0L542.6 2358.7L541.0 2362.4L539.4 2366.0L537.8 2369.6L536.2 2373.1L534.5 2376.3L532.8 2379.3L530.9 2382.0L529.0 2384.4L527.0 2386.5L525.0 2388.5L522.8 2390.2L520.6 2391.7L518.3 2393.0L515.8 2394.1L513.1 2395.0L510.2 2395.6L507.0 2396.0L503.7 2396.1L500.3 2396.1L496.7 2395.9L493.2 2395.6L489.7 2395.3L486.3 2395.0L483.0 2394.6L479.6 2394.0L476.3 2393.2L472.9 2392.4L469.6 2391.7L466.3 2391.2L462.9 2390.9L459.6 2391.0L456.3 2391.5L452.9 2392.5L449.6 2393.6L446.2 2395.0L442.9 2396.4L439.6 2397.8L436.2 2399.0L432.9 2400.0L429.5 2400.8L426.0 2401.7L422.5 2402.4L419.0 2403.1L415.6 2403.7L412.2 2404.0L409.1 2404.2L406.2 2404.0L403.5 2403.5L401.1 2402.7L398.9 2401.7L396.7 2400.5L394.7 2399.2L392.6 2397.8L390.6 2396.4L388.4 2395.0L386.1 2393.5L383.8 2391.8L381.5 2390.0L379.2 2388.2L377.0 2386.5L374.7 2384.9L372.6 2383.8L370.6 2383.0L368.7 2382.6L367.0 2382.6L365.4 2382.8L363.9 2383.2L362.4 2383.8L360.8 2384.7L359.1 2385.8L357.2 2387.0L355.2 2388.6L353.2 2390.7L351.0 2393.1L348.9 2395.6L346.6 2398.2L344.3 2400.5L341.9 2402.5L339.4 2404.0L336.8 2405.0L334.0 2405.7L331.2 2406.2L328.2 2406.4L325.3 2406.5L322.5 2406.4L319.7 2406.2L317.1 2406.0L314.6 2405.7L312.1 2405.4L309.6 2405.0L307.2 2404.5L305.0 2403.8L302.9 2402.8L301.0 2401.6L299.3 2400.0L297.9 2397.9L296.9 2395.2L296.0 2392.1L295.3 2388.9L294.7 2385.6L294.1 2382.6L293.5 2380.0L292.7 2378.0L291.9 2376.6L291.2 2375.5L290.5 2374.7L289.8 2374.1L289.0 2373.8L288.1 2373.7L287.2 2373.8L286.0 2374.0L284.7 2374.4L283.2 2375.0L281.7 2375.8L280.0 2376.8L278.2 2377.9L276.4 2379.2L274.5 2380.5L272.6 2382.0L270.6 2383.7L268.5 2385.7L266.2 2387.9L264.0 2390.2L261.7 2392.5L259.4 2394.7L257.1 2396.5L254.8 2398.0L252.6 2399.2L250.4 2400.1L248.1 2401.0L245.9 2401.6L243.7 2402.0L241.4 2402.2L239.2 2402.2L237.0 2402.0L234.7 2401.6L232.4 2400.9L230.1 2400.1L227.8 2399.0L225.6 2397.8L223.3 2396.3L221.2 2394.7L219.2 2393.0L217.3 2391.0L215.4 2388.6L213.7 2386.0L211.9 2383.2L210.3 2380.5L208.7 2377.8L207.2 2375.2L205.8 2373.0L204.5 2370.9L203.4 2368.9L202.3 2367.0L201.3 2365.1L200.4 2363.5L199.3 2362.0L198.2 2360.9L196.9 2360.0L195.5 2359.5L194.0 2359.2L192.4 2359.3L190.8 2359.5L189.1 2359.9L187.3 2360.5L185.5 2361.2L183.6 2362.0L181.7 2362.8L179.7 2363.6L177.7 2364.6L175.5 2365.7L173.3 2367.0L171.0 2368.6L168.5 2370.6L165.8 2373.0L162.9 2376.0L159.8 2379.7L156.6 2383.8L153.2 2388.2L149.8 2392.6L146.2 2396.8L142.6 2400.7L139.0 2404.0L135.3 2406.9L131.3 2409.5L127.3 2412.0L123.2 2414.2L119.1 2416.1L115.2 2417.8L111.4 2419.1L107.9 2420.0L104.6 2420.4L101.5 2420.3L98.5 2419.8L95.6 2419.1L92.9 2418.2L90.3 2417.3L87.9 2416.5L85.6 2416.0L83.5 2415.6L81.7 2415.2L80.2 2414.8L78.7 2414.4L77.2 2414.2L75.7 2414.2L74.1 2414.4L72.3 2415.0L70.2 2416.0L67.7 2417.6L65.2 2419.4L62.6 2421.4L60.1 2423.5L57.8 2425.3L55.9 2426.9L54.5 2428.0L52.3 2428.0Z"/></clipPath>
<g clip-path="url(#cFWe)">
<linearGradient id="cFWg" x1="0" y1="2177" x2="0" y2="2417" gradientUnits="userSpaceOnUse"><stop offset="0" stop-color="#2A0F14"/><stop offset="0.5" stop-color="#1E0C10"/><stop offset="0.8" stop-color="#221024"/><stop offset="1" stop-color="#2E1034"/></linearGradient>
<rect x="54.3" y="2177" width="530.7" height="327.8000000000002" fill="url(#cFWg)"/>
<rect x="54.3" y="2177" width="530.7" height="327.8000000000002" filter="url(#fRn)" opacity="0.45"/>
<path d="M54.5 2428.0L55.9 2426.9L57.8 2425.3L60.1 2423.5L62.6 2421.4L65.2 2419.4L67.7 2417.6L70.2 2416.0L72.3 2415.0L74.1 2414.4L75.7 2414.2L77.2 2414.2L78.7 2414.4L80.2 2414.8L81.7 2415.2L83.5 2415.6L85.6 2416.0L87.9 2416.5L90.3 2417.3L92.9 2418.2L95.6 2419.1L98.5 2419.8L101.5 2420.3L104.6 2420.4L107.9 2420.0L111.4 2419.1L115.2 2417.8L119.1 2416.1L123.2 2414.2L127.3 2412.0L131.3 2409.5L135.3 2406.9L139.0 2404.0L142.6 2400.7L146.2 2396.8L149.8 2392.6L153.2 2388.2L156.6 2383.8L159.8 2379.7L162.9 2376.0L165.8 2373.0L168.5 2370.6L171.0 2368.6L173.3 2367.0L175.5 2365.7L177.7 2364.6L179.7 2363.6L181.7 2362.8L183.6 2362.0L185.5 2361.2L187.3 2360.5L189.1 2359.9L190.8 2359.5L192.4 2359.3L194.0 2359.2L195.5 2359.5L196.9 2360.0L198.2 2360.9L199.3 2362.0L200.4 2363.5L201.3 2365.1L202.3 2367.0L203.4 2368.9L204.5 2370.9L205.8 2373.0L207.2 2375.2L208.7 2377.8L210.3 2380.5L211.9 2383.2L213.7 2386.0L215.4 2388.6L217.3 2391.0L219.2 2393.0L221.2 2394.7L223.3 2396.3L225.6 2397.8L227.8 2399.0L230.1 2400.1L232.4 2400.9L234.7 2401.6L237.0 2402.0L239.2 2402.2L241.4 2402.2L243.7 2402.0L245.9 2401.6L248.1 2401.0L250.4 2400.1L252.6 2399.2L254.8 2398.0L257.1 2396.5L259.4 2394.7L261.7 2392.5L264.0 2390.2L266.2 2387.9L268.5 2385.7L270.6 2383.7L272.6 2382.0L274.5 2380.5L276.4 2379.2L278.2 2377.9L280.0 2376.8L281.7 2375.8L283.2 2375.0L284.7 2374.4L286.0 2374.0L287.2 2373.8L288.1 2373.7L289.0 2373.8L289.8 2374.1L290.5 2374.7L291.2 2375.5L291.9 2376.6L292.7 2378.0L293.5 2380.0L294.1 2382.6L294.7 2385.6L295.3 2388.9L296.0 2392.1L296.9 2395.2L297.9 2397.9L299.3 2400.0L301.0 2401.6L302.9 2402.8L305.0 2403.8L307.2 2404.5L309.6 2405.0L312.1 2405.4L314.6 2405.7L317.1 2406.0L319.7 2406.2L322.5 2406.4L325.3 2406.5L328.2 2406.4L331.2 2406.2L334.0 2405.7L336.8 2405.0L339.4 2404.0L341.9 2402.5L344.3 2400.5L346.6 2398.2L348.9 2395.6L351.0 2393.1L353.2 2390.7L355.2 2388.6L357.2 2387.0L359.1 2385.8L360.8 2384.7L362.4 2383.8L363.9 2383.2L365.4 2382.8L367.0 2382.6L368.7 2382.6L370.6 2383.0L372.6 2383.8L374.7 2384.9L377.0 2386.5L379.2 2388.2L381.5 2390.0L383.8 2391.8L386.1 2393.5L388.4 2395.0L390.6 2396.4L392.6 2397.8L394.7 2399.2L396.7 2400.5L398.9 2401.7L401.1 2402.7L403.5 2403.5L406.2 2404.0L409.1 2404.2L412.2 2404.0L415.6 2403.7L419.0 2403.1L422.5 2402.4L426.0 2401.7L429.5 2400.8L432.9 2400.0L436.2 2399.0L439.6 2397.8L442.9 2396.4L446.2 2395.0L449.6 2393.6L452.9 2392.5L456.3 2391.5L459.6 2391.0L462.9 2390.9L466.3 2391.2L469.6 2391.7L472.9 2392.4L476.3 2393.2L479.6 2394.0L483.0 2394.6L486.3 2395.0L489.7 2395.3L493.2 2395.6L496.7 2395.9L500.3 2396.1L503.7 2396.1L507.0 2396.0L510.2 2395.6L513.1 2395.0L515.8 2394.1L518.3 2393.0L520.6 2391.7L522.8 2390.2L525.0 2388.5L527.0 2386.5L529.0 2384.4L530.9 2382.0L532.8 2379.3L534.5 2376.3L536.2 2373.1L537.8 2369.6L539.4 2366.0L541.0 2362.4L542.6 2358.7L544.2 2355.0L545.9 2351.2L547.5 2347.2L549.2 2343.1L550.9 2338.9L552.6 2334.8L554.3 2330.9L555.9 2327.3L557.6 2324.0L559.3 2321.0L560.9 2318.3L562.5 2315.7L564.1 2313.3L565.8 2311.2L567.5 2309.2L569.2 2307.5L570.9 2306.0L572.8 2304.8L574.9 2303.9L577.1 2303.3L579.3 2302.9L581.4 2302.6L583.2 2302.4L584.8 2302.2L586.0 2302.0L586.0 2252.0L584.8 2252.2L583.2 2252.4L581.4 2252.6L579.3 2252.9L577.1 2253.3L574.9 2253.9L572.8 2254.8L570.9 2256.0L569.2 2257.5L567.5 2259.2L565.8 2261.2L564.1 2263.3L562.5 2265.7L560.9 2268.3L559.3 2271.0L557.6 2274.0L555.9 2277.3L554.3 2280.9L552.6 2284.8L550.9 2288.9L549.2 2293.1L547.5 2297.2L545.9 2301.2L544.2 2305.0L542.6 2308.7L541.0 2312.4L539.4 2316.0L537.8 2319.6L536.2 2323.1L534.5 2326.3L532.8 2329.3L530.9 2332.0L529.0 2334.4L527.0 2336.5L525.0 2338.5L522.8 2340.2L520.6 2341.7L518.3 2343.0L515.8 2344.1L513.1 2345.0L510.2 2345.6L507.0 2346.0L503.7 2346.1L500.3 2346.1L496.7 2345.9L493.2 2345.6L489.7 2345.3L486.3 2345.0L483.0 2344.6L479.6 2344.0L476.3 2343.2L472.9 2342.4L469.6 2341.7L466.3 2341.2L462.9 2340.9L459.6 2341.0L456.3 2341.5L452.9 2342.5L449.6 2343.6L446.2 2345.0L442.9 2346.4L439.6 2347.8L436.2 2349.0L432.9 2350.0L429.5 2350.8L426.0 2351.7L422.5 2352.4L419.0 2353.1L415.6 2353.7L412.2 2354.0L409.1 2354.2L406.2 2354.0L403.5 2353.5L401.1 2352.7L398.9 2351.7L396.7 2350.5L394.7 2349.2L392.6 2347.8L390.6 2346.4L388.4 2345.0L386.1 2343.5L383.8 2341.8L381.5 2340.0L379.2 2338.2L377.0 2336.5L374.7 2334.9L372.6 2333.8L370.6 2333.0L368.7 2332.6L367.0 2332.6L365.4 2332.8L363.9 2333.2L362.4 2333.8L360.8 2334.7L359.1 2335.8L357.2 2337.0L355.2 2338.6L353.2 2340.7L351.0 2343.1L348.9 2345.6L346.6 2348.2L344.3 2350.5L341.9 2352.5L339.4 2354.0L336.8 2355.0L334.0 2355.7L331.2 2356.2L328.2 2356.4L325.3 2356.5L322.5 2356.4L319.7 2356.2L317.1 2356.0L314.6 2355.7L312.1 2355.4L309.6 2355.0L307.2 2354.5L305.0 2353.8L302.9 2352.8L301.0 2351.6L299.3 2350.0L297.9 2347.9L296.9 2345.2L296.0 2342.1L295.3 2338.9L294.7 2335.6L294.1 2332.6L293.5 2330.0L292.7 2328.0L291.9 2326.6L291.2 2325.5L290.5 2324.7L289.8 2324.1L289.0 2323.8L288.1 2323.7L287.2 2323.8L286.0 2324.0L284.7 2324.4L283.2 2325.0L281.7 2325.8L280.0 2326.8L278.2 2327.9L276.4 2329.2L274.5 2330.5L272.6 2332.0L270.6 2333.7L268.5 2335.7L266.2 2337.9L264.0 2340.2L261.7 2342.5L259.4 2344.7L257.1 2346.5L254.8 2348.0L252.6 2349.2L250.4 2350.1L248.1 2351.0L245.9 2351.6L243.7 2352.0L241.4 2352.2L239.2 2352.2L237.0 2352.0L234.7 2351.6L232.4 2350.9L230.1 2350.1L227.8 2349.0L225.6 2347.8L223.3 2346.3L221.2 2344.7L219.2 2343.0L217.3 2341.0L215.4 2338.6L213.7 2336.0L211.9 2333.2L210.3 2330.5L208.7 2327.8L207.2 2325.2L205.8 2323.0L204.5 2320.9L203.4 2318.9L202.3 2317.0L201.3 2315.1L200.4 2313.5L199.3 2312.0L198.2 2310.9L196.9 2310.0L195.5 2309.5L194.0 2309.2L192.4 2309.3L190.8 2309.5L189.1 2309.9L187.3 2310.5L185.5 2311.2L183.6 2312.0L181.7 2312.8L179.7 2313.6L177.7 2314.6L175.5 2315.7L173.3 2317.0L171.0 2318.6L168.5 2320.6L165.8 2323.0L162.9 2326.0L159.8 2329.7L156.6 2333.8L153.2 2338.2L149.8 2342.6L146.2 2346.8L142.6 2350.7L139.0 2354.0L135.3 2356.9L131.3 2359.5L127.3 2362.0L123.2 2364.2L119.1 2366.1L115.2 2367.8L111.4 2369.1L107.9 2370.0L104.6 2370.4L101.5 2370.3L98.5 2369.8L95.6 2369.1L92.9 2368.2L90.3 2367.3L87.9 2366.5L85.6 2366.0L83.5 2365.6L81.7 2365.2L80.2 2364.8L78.7 2364.4L77.2 2364.2L75.7 2364.2L74.1 2364.4L72.3 2365.0L70.2 2366.0L67.7 2367.6L65.2 2369.4L62.6 2371.4L60.1 2373.5L57.8 2375.3L55.9 2376.9L54.5 2378.0Z" fill="#6E2680" opacity="0.6" filter="url(#fBl2)"/>
<mask id="cFWm"><path d="M54.5 2428.0L55.9 2426.9L57.8 2425.3L60.1 2423.5L62.6 2421.4L65.2 2419.4L67.7 2417.6L70.2 2416.0L72.3 2415.0L74.1 2414.4L75.7 2414.2L77.2 2414.2L78.7 2414.4L80.2 2414.8L81.7 2415.2L83.5 2415.6L85.6 2416.0L87.9 2416.5L90.3 2417.3L92.9 2418.2L95.6 2419.1L98.5 2419.8L101.5 2420.3L104.6 2420.4L107.9 2420.0L111.4 2419.1L115.2 2417.8L119.1 2416.1L123.2 2414.2L127.3 2412.0L131.3 2409.5L135.3 2406.9L139.0 2404.0L142.6 2400.7L146.2 2396.8L149.8 2392.6L153.2 2388.2L156.6 2383.8L159.8 2379.7L162.9 2376.0L165.8 2373.0L168.5 2370.6L171.0 2368.6L173.3 2367.0L175.5 2365.7L177.7 2364.6L179.7 2363.6L181.7 2362.8L183.6 2362.0L185.5 2361.2L187.3 2360.5L189.1 2359.9L190.8 2359.5L192.4 2359.3L194.0 2359.2L195.5 2359.5L196.9 2360.0L198.2 2360.9L199.3 2362.0L200.4 2363.5L201.3 2365.1L202.3 2367.0L203.4 2368.9L204.5 2370.9L205.8 2373.0L207.2 2375.2L208.7 2377.8L210.3 2380.5L211.9 2383.2L213.7 2386.0L215.4 2388.6L217.3 2391.0L219.2 2393.0L221.2 2394.7L223.3 2396.3L225.6 2397.8L227.8 2399.0L230.1 2400.1L232.4 2400.9L234.7 2401.6L237.0 2402.0L239.2 2402.2L241.4 2402.2L243.7 2402.0L245.9 2401.6L248.1 2401.0L250.4 2400.1L252.6 2399.2L254.8 2398.0L257.1 2396.5L259.4 2394.7L261.7 2392.5L264.0 2390.2L266.2 2387.9L268.5 2385.7L270.6 2383.7L272.6 2382.0L274.5 2380.5L276.4 2379.2L278.2 2377.9L280.0 2376.8L281.7 2375.8L283.2 2375.0L284.7 2374.4L286.0 2374.0L287.2 2373.8L288.1 2373.7L289.0 2373.8L289.8 2374.1L290.5 2374.7L291.2 2375.5L291.9 2376.6L292.7 2378.0L293.5 2380.0L294.1 2382.6L294.7 2385.6L295.3 2388.9L296.0 2392.1L296.9 2395.2L297.9 2397.9L299.3 2400.0L301.0 2401.6L302.9 2402.8L305.0 2403.8L307.2 2404.5L309.6 2405.0L312.1 2405.4L314.6 2405.7L317.1 2406.0L319.7 2406.2L322.5 2406.4L325.3 2406.5L328.2 2406.4L331.2 2406.2L334.0 2405.7L336.8 2405.0L339.4 2404.0L341.9 2402.5L344.3 2400.5L346.6 2398.2L348.9 2395.6L351.0 2393.1L353.2 2390.7L355.2 2388.6L357.2 2387.0L359.1 2385.8L360.8 2384.7L362.4 2383.8L363.9 2383.2L365.4 2382.8L367.0 2382.6L368.7 2382.6L370.6 2383.0L372.6 2383.8L374.7 2384.9L377.0 2386.5L379.2 2388.2L381.5 2390.0L383.8 2391.8L386.1 2393.5L388.4 2395.0L390.6 2396.4L392.6 2397.8L394.7 2399.2L396.7 2400.5L398.9 2401.7L401.1 2402.7L403.5 2403.5L406.2 2404.0L409.1 2404.2L412.2 2404.0L415.6 2403.7L419.0 2403.1L422.5 2402.4L426.0 2401.7L429.5 2400.8L432.9 2400.0L436.2 2399.0L439.6 2397.8L442.9 2396.4L446.2 2395.0L449.6 2393.6L452.9 2392.5L456.3 2391.5L459.6 2391.0L462.9 2390.9L466.3 2391.2L469.6 2391.7L472.9 2392.4L476.3 2393.2L479.6 2394.0L483.0 2394.6L486.3 2395.0L489.7 2395.3L493.2 2395.6L496.7 2395.9L500.3 2396.1L503.7 2396.1L507.0 2396.0L510.2 2395.6L513.1 2395.0L515.8 2394.1L518.3 2393.0L520.6 2391.7L522.8 2390.2L525.0 2388.5L527.0 2386.5L529.0 2384.4L530.9 2382.0L532.8 2379.3L534.5 2376.3L536.2 2373.1L537.8 2369.6L539.4 2366.0L541.0 2362.4L542.6 2358.7L544.2 2355.0L545.9 2351.2L547.5 2347.2L549.2 2343.1L550.9 2338.9L552.6 2334.8L554.3 2330.9L555.9 2327.3L557.6 2324.0L559.3 2321.0L560.9 2318.3L562.5 2315.7L564.1 2313.3L565.8 2311.2L567.5 2309.2L569.2 2307.5L570.9 2306.0L572.8 2304.8L574.9 2303.9L577.1 2303.3L579.3 2302.9L581.4 2302.6L583.2 2302.4L584.8 2302.2L586.0 2302.0L586.0 2252.0L584.8 2252.2L583.2 2252.4L581.4 2252.6L579.3 2252.9L577.1 2253.3L574.9 2253.9L572.8 2254.8L570.9 2256.0L569.2 2257.5L567.5 2259.2L565.8 2261.2L564.1 2263.3L562.5 2265.7L560.9 2268.3L559.3 2271.0L557.6 2274.0L555.9 2277.3L554.3 2280.9L552.6 2284.8L550.9 2288.9L549.2 2293.1L547.5 2297.2L545.9 2301.2L544.2 2305.0L542.6 2308.7L541.0 2312.4L539.4 2316.0L537.8 2319.6L536.2 2323.1L534.5 2326.3L532.8 2329.3L530.9 2332.0L529.0 2334.4L527.0 2336.5L525.0 2338.5L522.8 2340.2L520.6 2341.7L518.3 2343.0L515.8 2344.1L513.1 2345.0L510.2 2345.6L507.0 2346.0L503.7 2346.1L500.3 2346.1L496.7 2345.9L493.2 2345.6L489.7 2345.3L486.3 2345.0L483.0 2344.6L479.6 2344.0L476.3 2343.2L472.9 2342.4L469.6 2341.7L466.3 2341.2L462.9 2340.9L459.6 2341.0L456.3 2341.5L452.9 2342.5L449.6 2343.6L446.2 2345.0L442.9 2346.4L439.6 2347.8L436.2 2349.0L432.9 2350.0L429.5 2350.8L426.0 2351.7L422.5 2352.4L419.0 2353.1L415.6 2353.7L412.2 2354.0L409.1 2354.2L406.2 2354.0L403.5 2353.5L401.1 2352.7L398.9 2351.7L396.7 2350.5L394.7 2349.2L392.6 2347.8L390.6 2346.4L388.4 2345.0L386.1 2343.5L383.8 2341.8L381.5 2340.0L379.2 2338.2L377.0 2336.5L374.7 2334.9L372.6 2333.8L370.6 2333.0L368.7 2332.6L367.0 2332.6L365.4 2332.8L363.9 2333.2L362.4 2333.8L360.8 2334.7L359.1 2335.8L357.2 2337.0L355.2 2338.6L353.2 2340.7L351.0 2343.1L348.9 2345.6L346.6 2348.2L344.3 2350.5L341.9 2352.5L339.4 2354.0L336.8 2355.0L334.0 2355.7L331.2 2356.2L328.2 2356.4L325.3 2356.5L322.5 2356.4L319.7 2356.2L317.1 2356.0L314.6 2355.7L312.1 2355.4L309.6 2355.0L307.2 2354.5L305.0 2353.8L302.9 2352.8L301.0 2351.6L299.3 2350.0L297.9 2347.9L296.9 2345.2L296.0 2342.1L295.3 2338.9L294.7 2335.6L294.1 2332.6L293.5 2330.0L292.7 2328.0L291.9 2326.6L291.2 2325.5L290.5 2324.7L289.8 2324.1L289.0 2323.8L288.1 2323.7L287.2 2323.8L286.0 2324.0L284.7 2324.4L283.2 2325.0L281.7 2325.8L280.0 2326.8L278.2 2327.9L276.4 2329.2L274.5 2330.5L272.6 2332.0L270.6 2333.7L268.5 2335.7L266.2 2337.9L264.0 2340.2L261.7 2342.5L259.4 2344.7L257.1 2346.5L254.8 2348.0L252.6 2349.2L250.4 2350.1L248.1 2351.0L245.9 2351.6L243.7 2352.0L241.4 2352.2L239.2 2352.2L237.0 2352.0L234.7 2351.6L232.4 2350.9L230.1 2350.1L227.8 2349.0L225.6 2347.8L223.3 2346.3L221.2 2344.7L219.2 2343.0L217.3 2341.0L215.4 2338.6L213.7 2336.0L211.9 2333.2L210.3 2330.5L208.7 2327.8L207.2 2325.2L205.8 2323.0L204.5 2320.9L203.4 2318.9L202.3 2317.0L201.3 2315.1L200.4 2313.5L199.3 2312.0L198.2 2310.9L196.9 2310.0L195.5 2309.5L194.0 2309.2L192.4 2309.3L190.8 2309.5L189.1 2309.9L187.3 2310.5L185.5 2311.2L183.6 2312.0L181.7 2312.8L179.7 2313.6L177.7 2314.6L175.5 2315.7L173.3 2317.0L171.0 2318.6L168.5 2320.6L165.8 2323.0L162.9 2326.0L159.8 2329.7L156.6 2333.8L153.2 2338.2L149.8 2342.6L146.2 2346.8L142.6 2350.7L139.0 2354.0L135.3 2356.9L131.3 2359.5L127.3 2362.0L123.2 2364.2L119.1 2366.1L115.2 2367.8L111.4 2369.1L107.9 2370.0L104.6 2370.4L101.5 2370.3L98.5 2369.8L95.6 2369.1L92.9 2368.2L90.3 2367.3L87.9 2366.5L85.6 2366.0L83.5 2365.6L81.7 2365.2L80.2 2364.8L78.7 2364.4L77.2 2364.2L75.7 2364.2L74.1 2364.4L72.3 2365.0L70.2 2366.0L67.7 2367.6L65.2 2369.4L62.6 2371.4L60.1 2373.5L57.8 2375.3L55.9 2376.9L54.5 2378.0Z" fill="#fff" filter="url(#fBl2)"/></mask>
<rect x="54.3" y="2177" width="530.7" height="327.8000000000002" filter="url(#fMn)" mask="url(#cFWm)" opacity="0.45"/>
<g fill="#060203" opacity="0.8" filter="url(#fBl)"><ellipse cx="497" cy="2316" rx="10" ry="5"/><ellipse cx="571" cy="2316" rx="13" ry="9"/><ellipse cx="420" cy="2225" rx="14" ry="6"/><ellipse cx="388" cy="2313" rx="12" ry="7"/><ellipse cx="583" cy="2295" rx="13" ry="7"/><ellipse cx="584" cy="2402" rx="10" ry="6"/><ellipse cx="512" cy="2362" rx="12" ry="7"/><ellipse cx="261" cy="2212" rx="12" ry="5"/><ellipse cx="200" cy="2330" rx="8" ry="8"/><ellipse cx="93" cy="2300" rx="11" ry="6"/><ellipse cx="562" cy="2259" rx="11" ry="8"/><ellipse cx="403" cy="2269" rx="9" ry="9"/><ellipse cx="367" cy="2313" rx="12" ry="6"/><ellipse cx="352" cy="2309" rx="11" ry="6"/><ellipse cx="431" cy="2198" rx="10" ry="5"/><ellipse cx="451" cy="2295" rx="11" ry="5"/><ellipse cx="289" cy="2232" rx="10" ry="7"/><ellipse cx="429" cy="2359" rx="10" ry="8"/><ellipse cx="325" cy="2333" rx="10" ry="9"/><ellipse cx="406" cy="2225" rx="11" ry="8"/><ellipse cx="468" cy="2280" rx="10" ry="7"/><ellipse cx="442" cy="2296" rx="9" ry="7"/><ellipse cx="458" cy="2388" rx="14" ry="6"/><ellipse cx="482" cy="2337" rx="14" ry="7"/><ellipse cx="511" cy="2295" rx="10" ry="9"/><ellipse cx="205" cy="2252" rx="8" ry="5"/><ellipse cx="236" cy="2243" rx="12" ry="5"/><ellipse cx="527" cy="2366" rx="13" ry="8"/><ellipse cx="403" cy="2354" rx="13" ry="8"/><ellipse cx="198" cy="2396" rx="14" ry="8"/><ellipse cx="380" cy="2320" rx="12" ry="9"/><ellipse cx="218" cy="2272" rx="10" ry="8"/><ellipse cx="72" cy="2273" rx="10" ry="7"/><ellipse cx="356" cy="2237" rx="13" ry="7"/><ellipse cx="563" cy="2391" rx="10" ry="6"/><ellipse cx="383" cy="2271" rx="9" ry="6"/><ellipse cx="153" cy="2277" rx="13" ry="7"/><ellipse cx="79" cy="2355" rx="13" ry="9"/><ellipse cx="276" cy="2248" rx="14" ry="7"/><ellipse cx="351" cy="2403" rx="13" ry="9"/><ellipse cx="542" cy="2342" rx="10" ry="6"/><ellipse cx="450" cy="2311" rx="9" ry="8"/><ellipse cx="103" cy="2372" rx="13" ry="9"/><ellipse cx="201" cy="2188" rx="11" ry="9"/><ellipse cx="557" cy="2262" rx="10" ry="9"/><ellipse cx="489" cy="2393" rx="13" ry="7"/><ellipse cx="128" cy="2300" rx="9" ry="8"/><ellipse cx="430" cy="2313" rx="10" ry="8"/><ellipse cx="286" cy="2282" rx="12" ry="7"/><ellipse cx="170" cy="2348" rx="9" ry="8"/><ellipse cx="206" cy="2294" rx="12" ry="7"/><ellipse cx="314" cy="2202" rx="13" ry="7"/><ellipse cx="347" cy="2227" rx="12" ry="5"/><ellipse cx="149" cy="2337" rx="12" ry="7"/><ellipse cx="174" cy="2399" rx="8" ry="6"/><ellipse cx="473" cy="2357" rx="12" ry="7"/><ellipse cx="238" cy="2218" rx="12" ry="7"/><ellipse cx="465" cy="2218" rx="10" ry="7"/><ellipse cx="287" cy="2188" rx="11" ry="5"/><ellipse cx="63" cy="2231" rx="9" ry="8"/><ellipse cx="426" cy="2360" rx="13" ry="9"/><ellipse cx="293" cy="2378" rx="12" ry="8"/><ellipse cx="144" cy="2379" rx="12" ry="7"/><ellipse cx="207" cy="2240" rx="12" ry="8"/><ellipse cx="477" cy="2186" rx="13" ry="7"/><ellipse cx="170" cy="2346" rx="13" ry="9"/><ellipse cx="298" cy="2320" rx="14" ry="7"/><ellipse cx="120" cy="2347" rx="13" ry="7"/><ellipse cx="301" cy="2234" rx="14" ry="9"/><ellipse cx="78" cy="2214" rx="11" ry="7"/><ellipse cx="379" cy="2369" rx="7" ry="10"/><ellipse cx="516" cy="2370" rx="7" ry="15"/><ellipse cx="478" cy="2372" rx="9" ry="15"/><ellipse cx="274" cy="2366" rx="9" ry="12"/><ellipse cx="165" cy="2357" rx="8" ry="10"/><ellipse cx="479" cy="2373" rx="7" ry="14"/><ellipse cx="576" cy="2284" rx="9" ry="12"/><ellipse cx="326" cy="2385" rx="9" ry="11"/><ellipse cx="339" cy="2390" rx="9" ry="12"/><ellipse cx="287" cy="2356" rx="7" ry="11"/><ellipse cx="289" cy="2346" rx="9" ry="12"/><ellipse cx="133" cy="2383" rx="9" ry="15"/><ellipse cx="123" cy="2399" rx="8" ry="15"/><ellipse cx="433" cy="2370" rx="10" ry="15"/><ellipse cx="126" cy="2393" rx="9" ry="15"/><ellipse cx="426" cy="2374" rx="9" ry="14"/><ellipse cx="265" cy="2372" rx="8" ry="11"/><ellipse cx="315" cy="2388" rx="7" ry="16"/><ellipse cx="331" cy="2380" rx="9" ry="14"/><ellipse cx="332" cy="2380" rx="7" ry="12"/><ellipse cx="500" cy="2369" rx="6" ry="15"/><ellipse cx="194" cy="2336" rx="7" ry="10"/><ellipse cx="517" cy="2368" rx="6" ry="15"/></g>
<defs><path id="cFWp0" d="M581 2248l10 3M604 2248l-7 -4M11 2253l41 -11M212 2427l6 2M48 2426l20 9M408 2250l20 -2M320 2253l31 -7M351 2246l-0 -0M347 2432l-1 -0M267 2422l19 -12M184 2420l21 -3M305 2335l-4 -0M335 2346l-0 0M311 2319l-14 13M334 2326l8 -2M342 2323l19 13M427 2367l-0 -17M427 2350l-19 1M435 2372l1 1M405 2373l3 -3M435 2372l21 -16M430 2335l26 -8M430 2335l2 6M455 2355l11 -10M500 2240l-21 20M548 2252l-8 -0M519 2332l-5 -12M519 2332l5 2M444 2437l-12 18M468 2247l-30 7M457 2325l23 -6M488 2324l26 -4M295 2244l16 9M510 2200l-16 12M393 2213l5 2M363 2354l7 5M365 2363l-8 6M334 2360l-0 -0M352 2385l-3 -14M458 2374l9 -4M457 2357l15 7M467 2370l5 -7M420 2381l-6 8M414 2389l8 3M421 2392l-2 8M313 2390l-7 -1M313 2390l6 7M84 2244l-4 8M311 2212l-20 -7M284 2329l4 -17M284 2329l13 3M311 2319l-1 -2M285 2352l-3 -8M286 2367l6 -13M299 2334l-17 10M289 2377l16 12M374 2358l11 -17M361 2337l17 -3M430 2335l-11 -9M408 2351l-12 -9M419 2326l-24 16M387 2360l-13 -2M387 2360l6 -0M386 2340l10 2M506 2373l5 -6M503 2361l8 5M531 2346l-19 6M512 2352l12 8M523 2422l2 0M514 2427l1 10M508 2441l7 -4M265 2228l-22 -5M275 2251l-1 3M315 2368l13 9M318 2363l-3 5M313 2390l8 -6M341 2389l-15 -8M341 2392l-1 2M319 2397l15 2M504 2396l-3 3M474 2363l4 -0M474 2363l2 -21M478 2363l-1 0M475 2342l5 -4M494 2343l1 1M467 2370l10 6M489 2373l-11 -10M503 2361l6 -9M509 2352l-14 -8M469 2335l11 3M519 2332l-25 10M488 2324l-6 14M509 2352l3 -0M387 2395l19 -6M414 2389l-8 -0M367 2387l10 4M387 2360l-0 16M148 2415l23 -8M156 2248l11 -2M321 2313l15 -4M310 2317l11 -4M344 2320l-2 -4M342 2316l-6 -6M302 2312l5 -5M378 2324l4 4M378 2324l1 -18M382 2328l28 -6M406 2313l3 8M378 2334l5 -6M357 2318l-12 2M342 2316l13 -8M357 2318l11 -9M609 2349l-28 -4M549 2352l15 4M506 2373l10 6M495 2401l-5 6M500 2399l-5 3M429 2410l31 4M465 2385l7 2M476 2385l-5 1M493 2379l3 -3M516 2379l-12 -1M497 2375l-0 0M563 2388l-5 0M586 2376l3 6"/></defs>
<use href="#cFWp0" stroke="#2E9A3A" stroke-width="3.2" fill="none" opacity="0.16" filter="url(#fBl1)"/>
<use href="#cFWp0" stroke="#4AD656" stroke-width="1.5" fill="none" stroke-dasharray="2 0.9" opacity="0.32"/>
<defs><path id="cFWp1" d="M596 2257l-18 5M578 2262l-2 0M588 2275l-12 -12M563 2258l2 2M596 2257l-5 -6M565 2261l11 2M54 2378l-12 12M42 2390l21 10M51 2405l12 -5M62 2377l8 24M69 2400l-6 -0M49 2317l-6 12M43 2329l-24 5M49 2317l3 -1M-3 2358l27 -2M53 2341l-34 -7M63 2376l-2 1M63 2376l-13 -19M51 2357l-26 -1M175 2324l19 -3M175 2330l23 4M198 2334l-5 -13M198 2354l-13 -9M185 2346l16 -11M201 2335l2 0M214 2348l-11 -13M225 2314l19 12M225 2314l-21 -4M244 2326l-14 2M204 2310l16 18M229 2328l-10 0M238 2364l-8 -0M238 2364l22 7M260 2371l-0 11M408 2250l-13 7M400 2272l28 -24M400 2272l-1 -0M399 2272l-3 -15M364 2276l0 -8M364 2276l-9 7M350 2266l-10 1M350 2266l14 3M329 2274l15 11M329 2274l11 -7M364 2268l0 0M340 2267l-20 -14M244 2400l13 -15M257 2385l-35 -3M231 2395l-9 -13M53 2341l-1 -5M43 2329l3 1M53 2316l22 11M46 2330l28 -3M74 2308l-5 1M70 2344l-7 10M64 2354l16 9M98 2355l-0 3M53 2341l17 3M51 2357l13 -3M63 2376l12 -1M75 2375l4 -11M128 2343l2 17M130 2360l25 2M155 2362l-1 -12M115 2336l6 -16M115 2336l-33 -4M84 2325l-3 5M84 2325l23 -7M106 2317l14 3M82 2332l-1 -2M81 2330l-0 -1M121 2341l-6 -5M121 2341l-23 13M77 2342l5 -9M79 2308l5 16M79 2308l-5 -0M74 2328l6 2M51 2336l30 -5M129 2360l-25 1M108 2376l12 -0M121 2341l6 1M130 2360l-1 0M98 2357l6 4M82 2307l-3 2M108 2376l-9 5M89 2380l10 0M89 2380l-15 21M220 2350l9 4M229 2354l1 -1M203 2335l17 -7M252 2329l-6 13M246 2343l-7 6M239 2348l-9 5M238 2364l24 -7M260 2371l13 -5M273 2366l-11 -10M239 2348l24 8M265 2353l-3 3M231 2364l-1 -10M506 2270l1 -6M506 2270l18 0M523 2271l-17 -6M495 2279l10 3M529 2271l-6 -0M529 2271l-3 3M498 2260l8 4M498 2260l11 -6M507 2264l11 -2M479 2259l-1 0M479 2259l19 1M495 2279l-3 -0M492 2279l-15 -18M478 2260l-1 2M530 2264l-12 -2M530 2264l1 6M531 2270l-2 1M541 2252l-11 12M547 2319l-4 11M542 2331l2 1M588 2275l-13 6M565 2261l-7 12M575 2281l-17 -8M548 2252l15 7M531 2270l20 4M558 2273l-7 2M541 2318l-27 2M537 2347l-6 -1M478 2260l-3 -2M475 2258l-37 -4M438 2254l0 0M448 2309l15 -1M498 2298l-5 6M498 2298l6 -2M504 2296l13 10M493 2304l0 1M494 2305l18 7M463 2308l10 -9M472 2299l21 5M541 2318l-1 -1M541 2316l-15 -10M518 2306l-1 0M518 2306l5 -9M504 2296l6 -4M510 2292l13 5M492 2279l-12 7M480 2286l18 12M505 2282l6 5M510 2292l0 -5M526 2274l6 12M511 2287l21 -1M208 2262l-6 -16M215 2263l2 -18M228 2247l5 7M249 2259l24 2M249 2259l-5 -4M244 2255l3 -2M247 2253l27 1M273 2254l-1 8M139 2396l-23 2M116 2398l-3 9M193 2311l3 0M198 2334l3 1M195 2311l5 -1M137 2315l7 3M132 2342l6 -4M138 2339l6 -20M170 2316l-25 3M140 2395l-1 1M116 2398l-3 -1M113 2397l-14 -16M155 2362l1 1M151 2383l0 -9M151 2383l-10 8M128 2379l12 -6M151 2373l-11 -0M137 2370l3 4M257 2385l3 -2M221 2370l-1 0M260 2383l-1 -1M218 2379l3 -8M221 2371l-1 -0M104 2253l-23 0M79 2254l2 -1M63 2254l15 -0M82 2307l17 1M137 2315l-0 -1M137 2314l-2 -4M106 2317l-4 -9M108 2306l-6 3M102 2309l-3 -1M113 2408l1 -1M113 2408l-13 3M100 2411l5 5M322 2276l-1 1M322 2276l7 -2M321 2281l0 -4M321 2281l13 14M344 2285l-5 11M153 2350l15 -6M156 2362l3 1M151 2373l9 -9M158 2364l2 1M219 2370l-23 -2M185 2346l-3 1M267 2352l18 -0M267 2352l2 -12M269 2340l13 5M265 2353l2 -1M284 2329l-23 2M400 2272l6 5M399 2272l-35 -3M376 2286l30 -9M360 2293l15 -0M376 2286l-1 7M425 2278l7 -26M425 2278l-10 3M541 2316l-3 -10M525 2306l3 -0M528 2305l10 1M523 2297l13 -2M528 2305l8 -10M537 2347l3 3M308 2256l-11 -1M308 2256l-5 8M311 2254l-3 2M305 2268l17 8M305 2268l-2 -4M274 2263l-1 -2M274 2263l3 -0M384 2254l-3 0M176 2311l-4 -5M137 2314l25 -10M145 2318l-1 -0M161 2304l11 2M193 2311l-6 -11M201 2310l-12 -14M187 2299l2 -3M172 2306l2 -6M187 2299l-13 1M209 2304l-16 -15M174 2300l-1 -3M274 2263l-3 7M271 2271l16 6M321 2277l-29 6M153 2334l15 6M145 2337l23 6M168 2340l0 4M138 2339l8 -1M168 2344l-0 -1M174 2346l1 0M167 2246l12 11M179 2257l6 -5M132 2245l-0 18M135 2309l0 -5M161 2304l-11 -9M97 2411l-20 -7M77 2404l1 -0M321 2313l-4 -8M317 2305l19 2M336 2309l-1 -3M307 2307l6 -2M307 2307l-12 -12M315 2296l-6 -3M297 2292l-3 2M288 2312l-17 -7M334 2295l-18 1M321 2281l-11 12M292 2283l5 9M166 2366l7 -13M160 2365l6 1M175 2346l-2 6M380 2306l27 8M348 2298l7 9M348 2298l1 -0M349 2298l23 9M367 2309l4 -2M341 2298l7 -0M360 2293l-12 5M375 2293l6 4M423 2299l-6 4M417 2303l-4 2M381 2298l9 -2M414 2281l-0 1M448 2309l-4 -4M436 2317l-19 -14M444 2305l-6 -3M542 2318l9 -15M563 2312l-9 -9M536 2295l4 -1M544 2300l-4 -6M575 2281l0 11M550 2274l-6 15M575 2292l-31 -2M532 2286l10 4M540 2294l2 -4M544 2289l-2 1M576 2293l-1 2M554 2303l21 -9M575 2292l1 1M540 2350l1 1M530 2380l-1 -11M539 2364l-9 3M529 2369l2 -2M444 2293l0 -1M444 2292l16 -6M444 2294l17 -2M471 2287l-5 -2M467 2285l-6 0M416 2284l28 9M440 2284l4 8M440 2284l20 2M472 2299l-2 -10M469 2265l-7 6M460 2276l7 10M425 2278l14 -4M439 2274l21 1M448 2267l-7 4M448 2267l1 -4M439 2274l3 -3M462 2271l-14 -4M469 2265l-20 -1M438 2254l2 2M232 2301l25 6M232 2301l-5 -2M265 2304l-2 -13M256 2284l6 7M227 2299l-0 -5M248 2326l9 -19M209 2304l18 -5M271 2304l-6 -1M291 2283l-29 8M224 2279l31 -0M247 2274l8 4M247 2274l-7 -9M255 2278l4 -3M259 2275l-12 -11M240 2265l7 -1M231 2266l16 8M255 2279l0 -1M271 2271l-12 5M249 2259l-2 6"/></defs>
<use href="#cFWp1" stroke="#2E9A3A" stroke-width="3.2" fill="none" opacity="0.27" filter="url(#fBl1)"/>
<use href="#cFWp1" stroke="#4AD656" stroke-width="1.5" fill="none" stroke-dasharray="2 0.9" opacity="0.54"/>
<defs><path id="cFWp2" d="M43 2278l-2 -12M41 2266l-9 -8M33 2258l-21 -5M33 2258l26 -7M62 2258l-21 9M62 2258l2 -4M74 2308l-21 -17M69 2309l-23 -12M53 2291l-7 6M43 2299l3 -2M62 2258l5 21M43 2278l14 4M67 2279l-10 4M82 2307l2 -8M53 2291l4 -5M84 2299l-26 -13M57 2286l0 -4M208 2262l7 1M221 2264l-7 -1M221 2264l11 -9M91 2271l22 -4M91 2271l-13 -17M114 2267l-10 -14M82 2277l-15 2M82 2277l9 -6M82 2277l19 14M84 2299l16 -7M100 2292l2 -1M100 2292l-1 16M189 2296l4 -8M179 2281l6 3M179 2281l-2 -6M177 2275l-0 -12M186 2283l5 1M208 2263l-14 21M208 2263l-30 -0M194 2283l-3 1M178 2262l-1 1M173 2297l13 -14M193 2289l-2 -5M221 2264l1 1M222 2265l2 15M208 2262l-0 0M218 2283l5 -4M218 2283l-24 0M178 2262l1 -5M156 2252l9 10M156 2252l-24 10M165 2261l-28 5M138 2266l-6 -2M132 2262l-1 2M177 2263l-11 -1M177 2275l-35 -4M142 2271l-5 -5M114 2267l4 1M118 2267l14 -3M112 2291l0 1M112 2291l8 -5M113 2292l22 12M120 2286l9 0M129 2286l18 9M135 2304l13 -9M101 2291l11 1M108 2306l5 -14M118 2267l2 19M167 2283l-14 11M167 2283l-22 -4M146 2279l-0 0M146 2279l3 16M153 2294l-3 1M149 2295l2 -0M173 2297l-20 -3M179 2281l-12 2M142 2271l4 8M129 2286l16 -7M148 2295l1 -0M218 2283l8 11M231 2266l-9 -1M231 2266l10 -1"/></defs>
<use href="#cFWp2" stroke="#2E9A3A" stroke-width="3.2" fill="none" opacity="0.41" filter="url(#fBl1)"/>
<use href="#cFWp2" stroke="#4AD656" stroke-width="1.5" fill="none" stroke-dasharray="2 0.9" opacity="0.81"/>
<g opacity="0.82" filter="url(#fBl1)"><ellipse cx="260" cy="2357" rx="7.4" ry="4.8" fill="#7050C0" transform="rotate(-31 260 2357)"/><ellipse cx="238" cy="2377" rx="6.1" ry="6.0" fill="#5C56CC" transform="rotate(35 238 2377)"/><ellipse cx="354" cy="2315" rx="7.7" ry="5.6" fill="#5C56CC" transform="rotate(-10 354 2315)"/><ellipse cx="96" cy="2181" rx="8.0" ry="4.2" fill="#7050C0" transform="rotate(-8 96 2181)"/><ellipse cx="313" cy="2361" rx="8.1" ry="5.0" fill="#5C56CC" transform="rotate(-37 313 2361)"/><ellipse cx="470" cy="2381" rx="8.0" ry="5.9" fill="#7050C0" transform="rotate(34 470 2381)"/><ellipse cx="450" cy="2364" rx="8.4" ry="4.1" fill="#7050C0" transform="rotate(-33 450 2364)"/><ellipse cx="179" cy="2244" rx="7.6" ry="4.3" fill="#5C56CC" transform="rotate(-2 179 2244)"/><ellipse cx="365" cy="2346" rx="7.9" ry="4.7" fill="#5C56CC" transform="rotate(-18 365 2346)"/><ellipse cx="68" cy="2405" rx="8.0" ry="5.8" fill="#7050C0" transform="rotate(-33 68 2405)"/><ellipse cx="284" cy="2351" rx="5.6" ry="4.6" fill="#5C56CC" transform="rotate(-33 284 2351)"/><ellipse cx="502" cy="2223" rx="7.4" ry="4.8" fill="#5C56CC" transform="rotate(36 502 2223)"/><ellipse cx="429" cy="2356" rx="6.1" ry="5.5" fill="#7050C0" transform="rotate(9 429 2356)"/><ellipse cx="552" cy="2183" rx="6.3" ry="5.1" fill="#7050C0" transform="rotate(-5 552 2183)"/><ellipse cx="460" cy="2186" rx="8.3" ry="5.4" fill="#7050C0" transform="rotate(-5 460 2186)"/><ellipse cx="193" cy="2342" rx="6.5" ry="4.5" fill="#5C56CC" transform="rotate(35 193 2342)"/><ellipse cx="165" cy="2247" rx="6.9" ry="5.8" fill="#7050C0" transform="rotate(-26 165 2247)"/><ellipse cx="310" cy="2388" rx="6.3" ry="5.9" fill="#7050C0" transform="rotate(-16 310 2388)"/><ellipse cx="553" cy="2290" rx="5.7" ry="4.8" fill="#5C56CC" transform="rotate(-33 553 2290)"/><ellipse cx="81" cy="2230" rx="5.5" ry="4.8" fill="#5C56CC" transform="rotate(5 81 2230)"/><ellipse cx="195" cy="2300" rx="7.4" ry="5.3" fill="#5C56CC" transform="rotate(13 195 2300)"/><ellipse cx="239" cy="2332" rx="6.0" ry="4.2" fill="#7050C0" transform="rotate(4 239 2332)"/><ellipse cx="371" cy="2257" rx="8.4" ry="5.0" fill="#7050C0" transform="rotate(9 371 2257)"/><ellipse cx="519" cy="2370" rx="7.4" ry="4.2" fill="#5C56CC" transform="rotate(38 519 2370)"/><ellipse cx="530" cy="2260" rx="8.0" ry="4.5" fill="#7050C0" transform="rotate(34 530 2260)"/><ellipse cx="457" cy="2313" rx="7.2" ry="4.5" fill="#5C56CC" transform="rotate(24 457 2313)"/><ellipse cx="322" cy="2357" rx="8.4" ry="4.0" fill="#7050C0" transform="rotate(-21 322 2357)"/><ellipse cx="228" cy="2381" rx="6.8" ry="4.9" fill="#5C56CC" transform="rotate(-5 228 2381)"/><ellipse cx="255" cy="2358" rx="5.5" ry="5.2" fill="#5C56CC" transform="rotate(-28 255 2358)"/><ellipse cx="242" cy="2387" rx="6.6" ry="4.8" fill="#7050C0" transform="rotate(-6 242 2387)"/><ellipse cx="338" cy="2270" rx="5.8" ry="4.2" fill="#7050C0" transform="rotate(39 338 2270)"/><ellipse cx="237" cy="2362" rx="6.3" ry="4.6" fill="#5C56CC" transform="rotate(-11 237 2362)"/><ellipse cx="373" cy="2360" rx="7.0" ry="5.5" fill="#7050C0" transform="rotate(-17 373 2360)"/><ellipse cx="570" cy="2274" rx="7.2" ry="5.2" fill="#5C56CC" transform="rotate(-39 570 2274)"/><ellipse cx="214" cy="2323" rx="7.3" ry="4.0" fill="#5C56CC" transform="rotate(-31 214 2323)"/><ellipse cx="97" cy="2370" rx="5.8" ry="4.6" fill="#5C56CC" transform="rotate(26 97 2370)"/><ellipse cx="87" cy="2291" rx="7.3" ry="5.5" fill="#5C56CC" transform="rotate(-15 87 2291)"/><ellipse cx="267" cy="2226" rx="7.5" ry="4.8" fill="#7050C0" transform="rotate(24 267 2226)"/><ellipse cx="555" cy="2278" rx="7.3" ry="5.0" fill="#5C56CC" transform="rotate(-26 555 2278)"/><ellipse cx="325" cy="2383" rx="7.7" ry="4.9" fill="#5C56CC" transform="rotate(19 325 2383)"/><ellipse cx="156" cy="2244" rx="8.5" ry="4.0" fill="#5C56CC" transform="rotate(28 156 2244)"/><ellipse cx="178" cy="2314" rx="7.3" ry="5.1" fill="#5C56CC" transform="rotate(17 178 2314)"/><ellipse cx="229" cy="2385" rx="6.3" ry="4.2" fill="#5C56CC" transform="rotate(9 229 2385)"/><ellipse cx="426" cy="2356" rx="6.1" ry="4.8" fill="#5C56CC" transform="rotate(-10 426 2356)"/><ellipse cx="122" cy="2353" rx="8.3" ry="5.3" fill="#5C56CC" transform="rotate(12 122 2353)"/><ellipse cx="413" cy="2383" rx="7.6" ry="4.6" fill="#7050C0" transform="rotate(-8 413 2383)"/><ellipse cx="100" cy="2235" rx="6.8" ry="4.0" fill="#5C56CC" transform="rotate(13 100 2235)"/><ellipse cx="511" cy="2325" rx="6.5" ry="5.1" fill="#5C56CC" transform="rotate(-20 511 2325)"/><ellipse cx="440" cy="2380" rx="7.5" ry="5.9" fill="#7050C0" transform="rotate(-39 440 2380)"/><ellipse cx="415" cy="2202" rx="7.1" ry="5.1" fill="#5C56CC" transform="rotate(-29 415 2202)"/><ellipse cx="225" cy="2203" rx="5.9" ry="5.1" fill="#5C56CC" transform="rotate(25 225 2203)"/><ellipse cx="115" cy="2396" rx="7.2" ry="5.9" fill="#7050C0" transform="rotate(-40 115 2396)"/><ellipse cx="331" cy="2373" rx="6.9" ry="5.4" fill="#5C56CC" transform="rotate(-5 331 2373)"/><ellipse cx="339" cy="2372" rx="6.7" ry="5.8" fill="#7050C0" transform="rotate(32 339 2372)"/><ellipse cx="531" cy="2238" rx="6.4" ry="5.2" fill="#5C56CC" transform="rotate(18 531 2238)"/><ellipse cx="121" cy="2400" rx="7.2" ry="4.7" fill="#5C56CC" transform="rotate(-36 121 2400)"/><ellipse cx="425" cy="2378" rx="8.4" ry="5.6" fill="#5C56CC" transform="rotate(-33 425 2378)"/><ellipse cx="340" cy="2326" rx="7.4" ry="5.9" fill="#5C56CC" transform="rotate(-2 340 2326)"/><ellipse cx="327" cy="2362" rx="5.7" ry="4.9" fill="#5C56CC" transform="rotate(29 327 2362)"/><ellipse cx="276" cy="2346" rx="5.8" ry="5.3" fill="#5C56CC" transform="rotate(15 276 2346)"/><ellipse cx="302" cy="2372" rx="7.8" ry="5.1" fill="#7050C0" transform="rotate(-0 302 2372)"/><ellipse cx="58" cy="2380" rx="6.7" ry="4.2" fill="#5C56CC" transform="rotate(-29 58 2380)"/><ellipse cx="444" cy="2206" rx="6.3" ry="5.3" fill="#5C56CC" transform="rotate(38 444 2206)"/><ellipse cx="476" cy="2319" rx="5.7" ry="5.8" fill="#5C56CC" transform="rotate(34 476 2319)"/><ellipse cx="503" cy="2329" rx="5.9" ry="4.7" fill="#7050C0" transform="rotate(14 503 2329)"/><ellipse cx="530" cy="2332" rx="8.3" ry="4.8" fill="#5C56CC" transform="rotate(-34 530 2332)"/><ellipse cx="573" cy="2248" rx="7.2" ry="5.2" fill="#5C56CC" transform="rotate(-36 573 2248)"/><ellipse cx="533" cy="2232" rx="6.0" ry="4.3" fill="#5C56CC" transform="rotate(-34 533 2232)"/><ellipse cx="341" cy="2384" rx="6.5" ry="4.9" fill="#5C56CC" transform="rotate(1 341 2384)"/><ellipse cx="187" cy="2336" rx="6.6" ry="5.5" fill="#5C56CC" transform="rotate(1 187 2336)"/><ellipse cx="251" cy="2358" rx="8.4" ry="4.8" fill="#5C56CC" transform="rotate(13 251 2358)"/><ellipse cx="215" cy="2366" rx="7.6" ry="4.1" fill="#5C56CC" transform="rotate(19 215 2366)"/><ellipse cx="209" cy="2364" rx="6.1" ry="5.1" fill="#7050C0" transform="rotate(-31 209 2364)"/><ellipse cx="433" cy="2261" rx="6.5" ry="5.0" fill="#5C56CC" transform="rotate(-21 433 2261)"/><ellipse cx="265" cy="2303" rx="5.9" ry="5.3" fill="#5C56CC" transform="rotate(-29 265 2303)"/><ellipse cx="423" cy="2342" rx="7.5" ry="4.6" fill="#7050C0" transform="rotate(-0 423 2342)"/><ellipse cx="521" cy="2258" rx="5.8" ry="4.8" fill="#5C56CC" transform="rotate(-16 521 2258)"/><ellipse cx="138" cy="2378" rx="6.3" ry="4.2" fill="#5C56CC" transform="rotate(-26 138 2378)"/><ellipse cx="87" cy="2190" rx="8.2" ry="5.8" fill="#5C56CC" transform="rotate(14 87 2190)"/><ellipse cx="363" cy="2342" rx="8.1" ry="4.3" fill="#5C56CC" transform="rotate(29 363 2342)"/><ellipse cx="478" cy="2354" rx="7.5" ry="4.6" fill="#5C56CC" transform="rotate(29 478 2354)"/><ellipse cx="103" cy="2276" rx="7.4" ry="5.7" fill="#7050C0" transform="rotate(-31 103 2276)"/><ellipse cx="461" cy="2369" rx="7.1" ry="4.5" fill="#5C56CC" transform="rotate(36 461 2369)"/><ellipse cx="274" cy="2346" rx="6.3" ry="5.2" fill="#5C56CC" transform="rotate(-2 274 2346)"/><ellipse cx="498" cy="2306" rx="8.1" ry="4.7" fill="#5C56CC" transform="rotate(-37 498 2306)"/><ellipse cx="442" cy="2346" rx="6.9" ry="4.3" fill="#5C56CC" transform="rotate(9 442 2346)"/><ellipse cx="111" cy="2376" rx="8.2" ry="4.5" fill="#7050C0" transform="rotate(30 111 2376)"/><ellipse cx="323" cy="2188" rx="7.6" ry="5.5" fill="#5C56CC" transform="rotate(13 323 2188)"/><ellipse cx="124" cy="2232" rx="7.3" ry="5.6" fill="#7050C0" transform="rotate(13 124 2232)"/><ellipse cx="354" cy="2350" rx="5.6" ry="5.3" fill="#5C56CC" transform="rotate(9 354 2350)"/><ellipse cx="231" cy="2388" rx="5.9" ry="4.5" fill="#5C56CC" transform="rotate(-16 231 2388)"/><ellipse cx="161" cy="2335" rx="7.7" ry="4.6" fill="#7050C0" transform="rotate(35 161 2335)"/><ellipse cx="109" cy="2264" rx="6.5" ry="5.4" fill="#5C56CC" transform="rotate(35 109 2264)"/><ellipse cx="481" cy="2378" rx="8.0" ry="4.4" fill="#5C56CC" transform="rotate(9 481 2378)"/><ellipse cx="182" cy="2217" rx="7.4" ry="5.8" fill="#5C56CC" transform="rotate(-12 182 2217)"/><ellipse cx="524" cy="2302" rx="6.1" ry="6.0" fill="#5C56CC" transform="rotate(-18 524 2302)"/><ellipse cx="201" cy="2236" rx="5.8" ry="4.4" fill="#5C56CC" transform="rotate(24 201 2236)"/><ellipse cx="278" cy="2362" rx="5.7" ry="5.6" fill="#7050C0" transform="rotate(-4 278 2362)"/><ellipse cx="255" cy="2302" rx="7.5" ry="5.1" fill="#5C56CC" transform="rotate(11 255 2302)"/><ellipse cx="555" cy="2249" rx="6.1" ry="5.6" fill="#5C56CC" transform="rotate(-14 555 2249)"/></g>
</g>
<path d="M54.5 2428.0L55.9 2426.9L57.8 2425.3L60.1 2423.5L62.6 2421.4L65.2 2419.4L67.7 2417.6L70.2 2416.0L72.3 2415.0L74.1 2414.4L75.7 2414.2L77.2 2414.2L78.7 2414.4L80.2 2414.8L81.7 2415.2L83.5 2415.6L85.6 2416.0L87.9 2416.5L90.3 2417.3L92.9 2418.2L95.6 2419.1L98.5 2419.8L101.5 2420.3L104.6 2420.4L107.9 2420.0L111.4 2419.1L115.2 2417.8L119.1 2416.1L123.2 2414.2L127.3 2412.0L131.3 2409.5L135.3 2406.9L139.0 2404.0L142.6 2400.7L146.2 2396.8L149.8 2392.6L153.2 2388.2L156.6 2383.8L159.8 2379.7L162.9 2376.0L165.8 2373.0L168.5 2370.6L171.0 2368.6L173.3 2367.0L175.5 2365.7L177.7 2364.6L179.7 2363.6L181.7 2362.8L183.6 2362.0L185.5 2361.2L187.3 2360.5L189.1 2359.9L190.8 2359.5L192.4 2359.3L194.0 2359.2L195.5 2359.5L196.9 2360.0L198.2 2360.9L199.3 2362.0L200.4 2363.5L201.3 2365.1L202.3 2367.0L203.4 2368.9L204.5 2370.9L205.8 2373.0L207.2 2375.2L208.7 2377.8L210.3 2380.5L211.9 2383.2L213.7 2386.0L215.4 2388.6L217.3 2391.0L219.2 2393.0L221.2 2394.7L223.3 2396.3L225.6 2397.8L227.8 2399.0L230.1 2400.1L232.4 2400.9L234.7 2401.6L237.0 2402.0L239.2 2402.2L241.4 2402.2L243.7 2402.0L245.9 2401.6L248.1 2401.0L250.4 2400.1L252.6 2399.2L254.8 2398.0L257.1 2396.5L259.4 2394.7L261.7 2392.5L264.0 2390.2L266.2 2387.9L268.5 2385.7L270.6 2383.7L272.6 2382.0L274.5 2380.5L276.4 2379.2L278.2 2377.9L280.0 2376.8L281.7 2375.8L283.2 2375.0L284.7 2374.4L286.0 2374.0L287.2 2373.8L288.1 2373.7L289.0 2373.8L289.8 2374.1L290.5 2374.7L291.2 2375.5L291.9 2376.6L292.7 2378.0L293.5 2380.0L294.1 2382.6L294.7 2385.6L295.3 2388.9L296.0 2392.1L296.9 2395.2L297.9 2397.9L299.3 2400.0L301.0 2401.6L302.9 2402.8L305.0 2403.8L307.2 2404.5L309.6 2405.0L312.1 2405.4L314.6 2405.7L317.1 2406.0L319.7 2406.2L322.5 2406.4L325.3 2406.5L328.2 2406.4L331.2 2406.2L334.0 2405.7L336.8 2405.0L339.4 2404.0L341.9 2402.5L344.3 2400.5L346.6 2398.2L348.9 2395.6L351.0 2393.1L353.2 2390.7L355.2 2388.6L357.2 2387.0L359.1 2385.8L360.8 2384.7L362.4 2383.8L363.9 2383.2L365.4 2382.8L367.0 2382.6L368.7 2382.6L370.6 2383.0L372.6 2383.8L374.7 2384.9L377.0 2386.5L379.2 2388.2L381.5 2390.0L383.8 2391.8L386.1 2393.5L388.4 2395.0L390.6 2396.4L392.6 2397.8L394.7 2399.2L396.7 2400.5L398.9 2401.7L401.1 2402.7L403.5 2403.5L406.2 2404.0L409.1 2404.2L412.2 2404.0L415.6 2403.7L419.0 2403.1L422.5 2402.4L426.0 2401.7L429.5 2400.8L432.9 2400.0L436.2 2399.0L439.6 2397.8L442.9 2396.4L446.2 2395.0L449.6 2393.6L452.9 2392.5L456.3 2391.5L459.6 2391.0L462.9 2390.9L466.3 2391.2L469.6 2391.7L472.9 2392.4L476.3 2393.2L479.6 2394.0L483.0 2394.6L486.3 2395.0L489.7 2395.3L493.2 2395.6L496.7 2395.9L500.3 2396.1L503.7 2396.1L507.0 2396.0L510.2 2395.6L513.1 2395.0L515.8 2394.1L518.3 2393.0L520.6 2391.7L522.8 2390.2L525.0 2388.5L527.0 2386.5L529.0 2384.4L530.9 2382.0L532.8 2379.3L534.5 2376.3L536.2 2373.1L537.8 2369.6L539.4 2366.0L541.0 2362.4L542.6 2358.7L544.2 2355.0L545.9 2351.2L547.5 2347.2L549.2 2343.1L550.9 2338.9L552.6 2334.8L554.3 2330.9L555.9 2327.3L557.6 2324.0L559.3 2321.0L560.9 2318.3L562.5 2315.7L564.1 2313.3L565.8 2311.2L567.5 2309.2L569.2 2307.5L570.9 2306.0L572.8 2304.8L574.9 2303.9L577.1 2303.3L579.3 2302.9L581.4 2302.6L583.2 2302.4L584.8 2302.2L586.0 2302.0" fill="none" stroke="#9C2A9C" stroke-width="18" opacity="0.5" filter="url(#fBl2)"/>
<mask id="cFWb"><path d="M54.5 2428.0L55.9 2426.9L57.8 2425.3L60.1 2423.5L62.6 2421.4L65.2 2419.4L67.7 2417.6L70.2 2416.0L72.3 2415.0L74.1 2414.4L75.7 2414.2L77.2 2414.2L78.7 2414.4L80.2 2414.8L81.7 2415.2L83.5 2415.6L85.6 2416.0L87.9 2416.5L90.3 2417.3L92.9 2418.2L95.6 2419.1L98.5 2419.8L101.5 2420.3L104.6 2420.4L107.9 2420.0L111.4 2419.1L115.2 2417.8L119.1 2416.1L123.2 2414.2L127.3 2412.0L131.3 2409.5L135.3 2406.9L139.0 2404.0L142.6 2400.7L146.2 2396.8L149.8 2392.6L153.2 2388.2L156.6 2383.8L159.8 2379.7L162.9 2376.0L165.8 2373.0L168.5 2370.6L171.0 2368.6L173.3 2367.0L175.5 2365.7L177.7 2364.6L179.7 2363.6L181.7 2362.8L183.6 2362.0L185.5 2361.2L187.3 2360.5L189.1 2359.9L190.8 2359.5L192.4 2359.3L194.0 2359.2L195.5 2359.5L196.9 2360.0L198.2 2360.9L199.3 2362.0L200.4 2363.5L201.3 2365.1L202.3 2367.0L203.4 2368.9L204.5 2370.9L205.8 2373.0L207.2 2375.2L208.7 2377.8L210.3 2380.5L211.9 2383.2L213.7 2386.0L215.4 2388.6L217.3 2391.0L219.2 2393.0L221.2 2394.7L223.3 2396.3L225.6 2397.8L227.8 2399.0L230.1 2400.1L232.4 2400.9L234.7 2401.6L237.0 2402.0L239.2 2402.2L241.4 2402.2L243.7 2402.0L245.9 2401.6L248.1 2401.0L250.4 2400.1L252.6 2399.2L254.8 2398.0L257.1 2396.5L259.4 2394.7L261.7 2392.5L264.0 2390.2L266.2 2387.9L268.5 2385.7L270.6 2383.7L272.6 2382.0L274.5 2380.5L276.4 2379.2L278.2 2377.9L280.0 2376.8L281.7 2375.8L283.2 2375.0L284.7 2374.4L286.0 2374.0L287.2 2373.8L288.1 2373.7L289.0 2373.8L289.8 2374.1L290.5 2374.7L291.2 2375.5L291.9 2376.6L292.7 2378.0L293.5 2380.0L294.1 2382.6L294.7 2385.6L295.3 2388.9L296.0 2392.1L296.9 2395.2L297.9 2397.9L299.3 2400.0L301.0 2401.6L302.9 2402.8L305.0 2403.8L307.2 2404.5L309.6 2405.0L312.1 2405.4L314.6 2405.7L317.1 2406.0L319.7 2406.2L322.5 2406.4L325.3 2406.5L328.2 2406.4L331.2 2406.2L334.0 2405.7L336.8 2405.0L339.4 2404.0L341.9 2402.5L344.3 2400.5L346.6 2398.2L348.9 2395.6L351.0 2393.1L353.2 2390.7L355.2 2388.6L357.2 2387.0L359.1 2385.8L360.8 2384.7L362.4 2383.8L363.9 2383.2L365.4 2382.8L367.0 2382.6L368.7 2382.6L370.6 2383.0L372.6 2383.8L374.7 2384.9L377.0 2386.5L379.2 2388.2L381.5 2390.0L383.8 2391.8L386.1 2393.5L388.4 2395.0L390.6 2396.4L392.6 2397.8L394.7 2399.2L396.7 2400.5L398.9 2401.7L401.1 2402.7L403.5 2403.5L406.2 2404.0L409.1 2404.2L412.2 2404.0L415.6 2403.7L419.0 2403.1L422.5 2402.4L426.0 2401.7L429.5 2400.8L432.9 2400.0L436.2 2399.0L439.6 2397.8L442.9 2396.4L446.2 2395.0L449.6 2393.6L452.9 2392.5L456.3 2391.5L459.6 2391.0L462.9 2390.9L466.3 2391.2L469.6 2391.7L472.9 2392.4L476.3 2393.2L479.6 2394.0L483.0 2394.6L486.3 2395.0L489.7 2395.3L493.2 2395.6L496.7 2395.9L500.3 2396.1L503.7 2396.1L507.0 2396.0L510.2 2395.6L513.1 2395.0L515.8 2394.1L518.3 2393.0L520.6 2391.7L522.8 2390.2L525.0 2388.5L527.0 2386.5L529.0 2384.4L530.9 2382.0L532.8 2379.3L534.5 2376.3L536.2 2373.1L537.8 2369.6L539.4 2366.0L541.0 2362.4L542.6 2358.7L544.2 2355.0L545.9 2351.2L547.5 2347.2L549.2 2343.1L550.9 2338.9L552.6 2334.8L554.3 2330.9L555.9 2327.3L557.6 2324.0L559.3 2321.0L560.9 2318.3L562.5 2315.7L564.1 2313.3L565.8 2311.2L567.5 2309.2L569.2 2307.5L570.9 2306.0L572.8 2304.8L574.9 2303.9L577.1 2303.3L579.3 2302.9L581.4 2302.6L583.2 2302.4L584.8 2302.2L586.0 2302.0" fill="none" stroke="#fff" stroke-width="9" filter="url(#fBl)"/></mask>
<path d="M54.5 2428.0L55.9 2426.9L57.8 2425.3L60.1 2423.5L62.6 2421.4L65.2 2419.4L67.7 2417.6L70.2 2416.0L72.3 2415.0L74.1 2414.4L75.7 2414.2L77.2 2414.2L78.7 2414.4L80.2 2414.8L81.7 2415.2L83.5 2415.6L85.6 2416.0L87.9 2416.5L90.3 2417.3L92.9 2418.2L95.6 2419.1L98.5 2419.8L101.5 2420.3L104.6 2420.4L107.9 2420.0L111.4 2419.1L115.2 2417.8L119.1 2416.1L123.2 2414.2L127.3 2412.0L131.3 2409.5L135.3 2406.9L139.0 2404.0L142.6 2400.7L146.2 2396.8L149.8 2392.6L153.2 2388.2L156.6 2383.8L159.8 2379.7L162.9 2376.0L165.8 2373.0L168.5 2370.6L171.0 2368.6L173.3 2367.0L175.5 2365.7L177.7 2364.6L179.7 2363.6L181.7 2362.8L183.6 2362.0L185.5 2361.2L187.3 2360.5L189.1 2359.9L190.8 2359.5L192.4 2359.3L194.0 2359.2L195.5 2359.5L196.9 2360.0L198.2 2360.9L199.3 2362.0L200.4 2363.5L201.3 2365.1L202.3 2367.0L203.4 2368.9L204.5 2370.9L205.8 2373.0L207.2 2375.2L208.7 2377.8L210.3 2380.5L211.9 2383.2L213.7 2386.0L215.4 2388.6L217.3 2391.0L219.2 2393.0L221.2 2394.7L223.3 2396.3L225.6 2397.8L227.8 2399.0L230.1 2400.1L232.4 2400.9L234.7 2401.6L237.0 2402.0L239.2 2402.2L241.4 2402.2L243.7 2402.0L245.9 2401.6L248.1 2401.0L250.4 2400.1L252.6 2399.2L254.8 2398.0L257.1 2396.5L259.4 2394.7L261.7 2392.5L264.0 2390.2L266.2 2387.9L268.5 2385.7L270.6 2383.7L272.6 2382.0L274.5 2380.5L276.4 2379.2L278.2 2377.9L280.0 2376.8L281.7 2375.8L283.2 2375.0L284.7 2374.4L286.0 2374.0L287.2 2373.8L288.1 2373.7L289.0 2373.8L289.8 2374.1L290.5 2374.7L291.2 2375.5L291.9 2376.6L292.7 2378.0L293.5 2380.0L294.1 2382.6L294.7 2385.6L295.3 2388.9L296.0 2392.1L296.9 2395.2L297.9 2397.9L299.3 2400.0L301.0 2401.6L302.9 2402.8L305.0 2403.8L307.2 2404.5L309.6 2405.0L312.1 2405.4L314.6 2405.7L317.1 2406.0L319.7 2406.2L322.5 2406.4L325.3 2406.5L328.2 2406.4L331.2 2406.2L334.0 2405.7L336.8 2405.0L339.4 2404.0L341.9 2402.5L344.3 2400.5L346.6 2398.2L348.9 2395.6L351.0 2393.1L353.2 2390.7L355.2 2388.6L357.2 2387.0L359.1 2385.8L360.8 2384.7L362.4 2383.8L363.9 2383.2L365.4 2382.8L367.0 2382.6L368.7 2382.6L370.6 2383.0L372.6 2383.8L374.7 2384.9L377.0 2386.5L379.2 2388.2L381.5 2390.0L383.8 2391.8L386.1 2393.5L388.4 2395.0L390.6 2396.4L392.6 2397.8L394.7 2399.2L396.7 2400.5L398.9 2401.7L401.1 2402.7L403.5 2403.5L406.2 2404.0L409.1 2404.2L412.2 2404.0L415.6 2403.7L419.0 2403.1L422.5 2402.4L426.0 2401.7L429.5 2400.8L432.9 2400.0L436.2 2399.0L439.6 2397.8L442.9 2396.4L446.2 2395.0L449.6 2393.6L452.9 2392.5L456.3 2391.5L459.6 2391.0L462.9 2390.9L466.3 2391.2L469.6 2391.7L472.9 2392.4L476.3 2393.2L479.6 2394.0L483.0 2394.6L486.3 2395.0L489.7 2395.3L493.2 2395.6L496.7 2395.9L500.3 2396.1L503.7 2396.1L507.0 2396.0L510.2 2395.6L513.1 2395.0L515.8 2394.1L518.3 2393.0L520.6 2391.7L522.8 2390.2L525.0 2388.5L527.0 2386.5L529.0 2384.4L530.9 2382.0L532.8 2379.3L534.5 2376.3L536.2 2373.1L537.8 2369.6L539.4 2366.0L541.0 2362.4L542.6 2358.7L544.2 2355.0L545.9 2351.2L547.5 2347.2L549.2 2343.1L550.9 2338.9L552.6 2334.8L554.3 2330.9L555.9 2327.3L557.6 2324.0L559.3 2321.0L560.9 2318.3L562.5 2315.7L564.1 2313.3L565.8 2311.2L567.5 2309.2L569.2 2307.5L570.9 2306.0L572.8 2304.8L574.9 2303.9L577.1 2303.3L579.3 2302.9L581.4 2302.6L583.2 2302.4L584.8 2302.2L586.0 2302.0" fill="none" stroke="#B436B8" stroke-width="8" opacity="0.65" filter="url(#fBl)"/>
<rect x="54.3" y="2177" width="530.7" height="327.8000000000002" filter="url(#fMn)" mask="url(#cFWb)"/>
</g>
<clipPath id="cFG"><rect x="609.2" y="2177.3" width="534.0" height="326.89999999999964"/></clipPath>
<g clip-path="url(#cFG)">
<rect x="609.2" y="2177.3" width="534.0" height="326.89999999999964" fill="#0A0407"/>
<clipPath id="cFGe"><path d="M607.2 2175.3L1145.2 2175.3L1145.2 2397.1L1143.0 2397.1L1139.9 2397.5L1135.6 2398.0L1130.6 2398.7L1125.0 2399.4L1119.2 2400.1L1113.5 2400.8L1108.2 2401.2L1103.6 2401.5L1099.7 2401.5L1096.0 2401.4L1092.7 2401.1L1089.5 2400.7L1086.4 2400.3L1083.3 2399.9L1080.2 2399.5L1076.9 2399.3L1073.6 2399.2L1070.2 2399.1L1066.9 2399.0L1063.6 2399.0L1060.2 2399.0L1056.9 2399.1L1053.5 2399.2L1050.2 2399.3L1046.8 2399.6L1043.3 2400.1L1039.8 2400.6L1036.3 2401.2L1032.9 2401.7L1029.5 2402.0L1026.4 2402.0L1023.5 2401.5L1020.8 2400.5L1018.2 2399.2L1015.8 2397.5L1013.5 2395.5L1011.3 2393.5L1009.3 2391.6L1007.4 2389.8L1005.7 2388.2L1004.2 2386.7L1002.8 2385.1L1001.7 2383.6L1000.7 2382.1L999.7 2380.8L998.8 2379.9L997.9 2379.3L996.8 2379.3L995.7 2379.9L994.8 2380.9L993.9 2382.4L992.9 2384.1L991.9 2386.1L990.8 2388.3L989.4 2390.5L987.9 2392.6L986.1 2395.0L984.1 2397.9L981.9 2401.0L979.6 2404.2L977.2 2407.2L974.8 2409.7L972.4 2411.6L970.1 2412.7L968.0 2412.7L966.1 2411.8L964.2 2410.2L962.3 2408.2L960.3 2406.1L958.0 2404.1L955.4 2402.5L952.3 2401.5L948.8 2401.1L944.9 2401.1L940.6 2401.3L936.2 2401.8L931.5 2402.3L926.6 2402.8L921.7 2403.3L916.7 2403.7L911.5 2404.0L905.9 2404.4L900.0 2404.8L894.1 2405.1L888.2 2405.5L882.5 2405.7L877.1 2405.9L872.1 2406.0L867.5 2406.0L863.3 2405.8L859.3 2405.7L855.4 2405.4L851.7 2405.1L848.1 2404.7L844.6 2404.2L841.0 2403.7L837.4 2403.1L833.9 2402.4L830.5 2401.6L827.1 2400.8L823.8 2399.9L820.6 2399.0L817.4 2398.1L814.3 2397.1L811.3 2396.0L808.3 2394.7L805.4 2393.3L802.6 2392.0L799.8 2390.7L797.2 2389.5L794.5 2388.7L792.0 2388.2L789.6 2388.1L787.4 2388.2L785.4 2388.6L783.4 2389.1L781.3 2389.9L779.2 2390.7L776.8 2391.6L774.2 2392.6L771.3 2393.7L768.2 2395.1L764.8 2396.7L761.4 2398.3L757.9 2399.9L754.4 2401.4L750.9 2402.7L747.5 2403.7L744.2 2404.5L740.8 2405.2L737.5 2405.7L734.2 2406.1L730.8 2406.4L727.5 2406.4L724.1 2406.3L720.8 2406.0L717.4 2405.4L714.0 2404.6L710.6 2403.6L707.1 2402.5L703.7 2401.2L700.4 2399.8L697.1 2398.4L694.0 2397.0L691.0 2395.5L688.0 2393.8L685.1 2392.0L682.3 2390.2L679.6 2388.4L676.9 2386.7L674.3 2385.1L671.8 2383.7L669.4 2382.4L667.1 2381.1L665.0 2379.9L662.9 2378.8L660.8 2377.9L658.7 2377.3L656.4 2376.9L654.0 2377.0L651.4 2377.5L648.7 2378.5L646.0 2379.9L643.1 2381.5L640.3 2383.2L637.4 2385.0L634.5 2386.7L631.7 2388.2L628.8 2389.7L625.6 2391.2L622.4 2392.9L619.2 2394.4L616.2 2396.0L613.5 2397.3L611.2 2398.4L609.5 2399.3L607.2 2399.3Z"/></clipPath>
<g clip-path="url(#cFGe)">
<linearGradient id="cFGg" x1="0" y1="2177.3" x2="0" y2="2417.3" gradientUnits="userSpaceOnUse"><stop offset="0" stop-color="#2A0F14"/><stop offset="0.5" stop-color="#1E0C10"/><stop offset="0.8" stop-color="#221024"/><stop offset="1" stop-color="#2E1034"/></linearGradient>
<rect x="609.2" y="2177.3" width="534.0" height="326.89999999999964" fill="url(#cFGg)"/>
<rect x="609.2" y="2177.3" width="534.0" height="326.89999999999964" filter="url(#fRn)" opacity="0.45"/>
<path d="M609.5 2399.3L611.2 2398.4L613.5 2397.3L616.2 2396.0L619.2 2394.4L622.4 2392.9L625.6 2391.2L628.8 2389.7L631.7 2388.2L634.5 2386.7L637.4 2385.0L640.3 2383.2L643.1 2381.5L646.0 2379.9L648.7 2378.5L651.4 2377.5L654.0 2377.0L656.4 2376.9L658.7 2377.3L660.8 2377.9L662.9 2378.8L665.0 2379.9L667.1 2381.1L669.4 2382.4L671.8 2383.7L674.3 2385.1L676.9 2386.7L679.6 2388.4L682.3 2390.2L685.1 2392.0L688.0 2393.8L691.0 2395.5L694.0 2397.0L697.1 2398.4L700.4 2399.8L703.7 2401.2L707.1 2402.5L710.6 2403.6L714.0 2404.6L717.4 2405.4L720.8 2406.0L724.1 2406.3L727.5 2406.4L730.8 2406.4L734.2 2406.1L737.5 2405.7L740.8 2405.2L744.2 2404.5L747.5 2403.7L750.9 2402.7L754.4 2401.4L757.9 2399.9L761.4 2398.3L764.8 2396.7L768.2 2395.1L771.3 2393.7L774.2 2392.6L776.8 2391.6L779.2 2390.7L781.3 2389.9L783.4 2389.1L785.4 2388.6L787.4 2388.2L789.6 2388.1L792.0 2388.2L794.5 2388.7L797.2 2389.5L799.8 2390.7L802.6 2392.0L805.4 2393.3L808.3 2394.7L811.3 2396.0L814.3 2397.1L817.4 2398.1L820.6 2399.0L823.8 2399.9L827.1 2400.8L830.5 2401.6L833.9 2402.4L837.4 2403.1L841.0 2403.7L844.6 2404.2L848.1 2404.7L851.7 2405.1L855.4 2405.4L859.3 2405.7L863.3 2405.8L867.5 2406.0L872.1 2406.0L877.1 2405.9L882.5 2405.7L888.2 2405.5L894.1 2405.1L900.0 2404.8L905.9 2404.4L911.5 2404.0L916.7 2403.7L921.7 2403.3L926.6 2402.8L931.5 2402.3L936.2 2401.8L940.6 2401.3L944.9 2401.1L948.8 2401.1L952.3 2401.5L955.4 2402.5L958.0 2404.1L960.3 2406.1L962.3 2408.2L964.2 2410.2L966.1 2411.8L968.0 2412.7L970.1 2412.7L972.4 2411.6L974.8 2409.7L977.2 2407.2L979.6 2404.2L981.9 2401.0L984.1 2397.9L986.1 2395.0L987.9 2392.6L989.4 2390.5L990.8 2388.3L991.9 2386.1L992.9 2384.1L993.9 2382.4L994.8 2380.9L995.7 2379.9L996.8 2379.3L997.9 2379.3L998.8 2379.9L999.7 2380.8L1000.7 2382.1L1001.7 2383.6L1002.8 2385.1L1004.2 2386.7L1005.7 2388.2L1007.4 2389.8L1009.3 2391.6L1011.3 2393.5L1013.5 2395.5L1015.8 2397.5L1018.2 2399.2L1020.8 2400.5L1023.5 2401.5L1026.4 2402.0L1029.5 2402.0L1032.9 2401.7L1036.3 2401.2L1039.8 2400.6L1043.3 2400.1L1046.8 2399.6L1050.2 2399.3L1053.5 2399.2L1056.9 2399.1L1060.2 2399.0L1063.6 2399.0L1066.9 2399.0L1070.2 2399.1L1073.6 2399.2L1076.9 2399.3L1080.2 2399.5L1083.3 2399.9L1086.4 2400.3L1089.5 2400.7L1092.7 2401.1L1096.0 2401.4L1099.7 2401.5L1103.6 2401.5L1108.2 2401.2L1113.5 2400.8L1119.2 2400.1L1125.0 2399.4L1130.6 2398.7L1135.6 2398.0L1139.9 2397.5L1143.0 2397.1L1143.0 2347.1L1139.9 2347.5L1135.6 2348.0L1130.6 2348.7L1125.0 2349.4L1119.2 2350.1L1113.5 2350.8L1108.2 2351.2L1103.6 2351.5L1099.7 2351.5L1096.0 2351.4L1092.7 2351.1L1089.5 2350.7L1086.4 2350.3L1083.3 2349.9L1080.2 2349.5L1076.9 2349.3L1073.6 2349.2L1070.2 2349.1L1066.9 2349.0L1063.6 2349.0L1060.2 2349.0L1056.9 2349.1L1053.5 2349.2L1050.2 2349.3L1046.8 2349.6L1043.3 2350.1L1039.8 2350.6L1036.3 2351.2L1032.9 2351.7L1029.5 2352.0L1026.4 2352.0L1023.5 2351.5L1020.8 2350.5L1018.2 2349.2L1015.8 2347.5L1013.5 2345.5L1011.3 2343.5L1009.3 2341.6L1007.4 2339.8L1005.7 2338.2L1004.2 2336.7L1002.8 2335.1L1001.7 2333.6L1000.7 2332.1L999.7 2330.8L998.8 2329.9L997.9 2329.3L996.8 2329.3L995.7 2329.9L994.8 2330.9L993.9 2332.4L992.9 2334.1L991.9 2336.1L990.8 2338.3L989.4 2340.5L987.9 2342.6L986.1 2345.0L984.1 2347.9L981.9 2351.0L979.6 2354.2L977.2 2357.2L974.8 2359.7L972.4 2361.6L970.1 2362.7L968.0 2362.7L966.1 2361.8L964.2 2360.2L962.3 2358.2L960.3 2356.1L958.0 2354.1L955.4 2352.5L952.3 2351.5L948.8 2351.1L944.9 2351.1L940.6 2351.3L936.2 2351.8L931.5 2352.3L926.6 2352.8L921.7 2353.3L916.7 2353.7L911.5 2354.0L905.9 2354.4L900.0 2354.8L894.1 2355.1L888.2 2355.5L882.5 2355.7L877.1 2355.9L872.1 2356.0L867.5 2356.0L863.3 2355.8L859.3 2355.7L855.4 2355.4L851.7 2355.1L848.1 2354.7L844.6 2354.2L841.0 2353.7L837.4 2353.1L833.9 2352.4L830.5 2351.6L827.1 2350.8L823.8 2349.9L820.6 2349.0L817.4 2348.1L814.3 2347.1L811.3 2346.0L808.3 2344.7L805.4 2343.3L802.6 2342.0L799.8 2340.7L797.2 2339.5L794.5 2338.7L792.0 2338.2L789.6 2338.1L787.4 2338.2L785.4 2338.6L783.4 2339.1L781.3 2339.9L779.2 2340.7L776.8 2341.6L774.2 2342.6L771.3 2343.7L768.2 2345.1L764.8 2346.7L761.4 2348.3L757.9 2349.9L754.4 2351.4L750.9 2352.7L747.5 2353.7L744.2 2354.5L740.8 2355.2L737.5 2355.7L734.2 2356.1L730.8 2356.4L727.5 2356.4L724.1 2356.3L720.8 2356.0L717.4 2355.4L714.0 2354.6L710.6 2353.6L707.1 2352.5L703.7 2351.2L700.4 2349.8L697.1 2348.4L694.0 2347.0L691.0 2345.5L688.0 2343.8L685.1 2342.0L682.3 2340.2L679.6 2338.4L676.9 2336.7L674.3 2335.1L671.8 2333.7L669.4 2332.4L667.1 2331.1L665.0 2329.9L662.9 2328.8L660.8 2327.9L658.7 2327.3L656.4 2326.9L654.0 2327.0L651.4 2327.5L648.7 2328.5L646.0 2329.9L643.1 2331.5L640.3 2333.2L637.4 2335.0L634.5 2336.7L631.7 2338.2L628.8 2339.7L625.6 2341.2L622.4 2342.9L619.2 2344.4L616.2 2346.0L613.5 2347.3L611.2 2348.4L609.5 2349.3Z" fill="#6E2680" opacity="0.6" filter="url(#fBl2)"/>
<mask id="cFGm"><path d="M609.5 2399.3L611.2 2398.4L613.5 2397.3L616.2 2396.0L619.2 2394.4L622.4 2392.9L625.6 2391.2L628.8 2389.7L631.7 2388.2L634.5 2386.7L637.4 2385.0L640.3 2383.2L643.1 2381.5L646.0 2379.9L648.7 2378.5L651.4 2377.5L654.0 2377.0L656.4 2376.9L658.7 2377.3L660.8 2377.9L662.9 2378.8L665.0 2379.9L667.1 2381.1L669.4 2382.4L671.8 2383.7L674.3 2385.1L676.9 2386.7L679.6 2388.4L682.3 2390.2L685.1 2392.0L688.0 2393.8L691.0 2395.5L694.0 2397.0L697.1 2398.4L700.4 2399.8L703.7 2401.2L707.1 2402.5L710.6 2403.6L714.0 2404.6L717.4 2405.4L720.8 2406.0L724.1 2406.3L727.5 2406.4L730.8 2406.4L734.2 2406.1L737.5 2405.7L740.8 2405.2L744.2 2404.5L747.5 2403.7L750.9 2402.7L754.4 2401.4L757.9 2399.9L761.4 2398.3L764.8 2396.7L768.2 2395.1L771.3 2393.7L774.2 2392.6L776.8 2391.6L779.2 2390.7L781.3 2389.9L783.4 2389.1L785.4 2388.6L787.4 2388.2L789.6 2388.1L792.0 2388.2L794.5 2388.7L797.2 2389.5L799.8 2390.7L802.6 2392.0L805.4 2393.3L808.3 2394.7L811.3 2396.0L814.3 2397.1L817.4 2398.1L820.6 2399.0L823.8 2399.9L827.1 2400.8L830.5 2401.6L833.9 2402.4L837.4 2403.1L841.0 2403.7L844.6 2404.2L848.1 2404.7L851.7 2405.1L855.4 2405.4L859.3 2405.7L863.3 2405.8L867.5 2406.0L872.1 2406.0L877.1 2405.9L882.5 2405.7L888.2 2405.5L894.1 2405.1L900.0 2404.8L905.9 2404.4L911.5 2404.0L916.7 2403.7L921.7 2403.3L926.6 2402.8L931.5 2402.3L936.2 2401.8L940.6 2401.3L944.9 2401.1L948.8 2401.1L952.3 2401.5L955.4 2402.5L958.0 2404.1L960.3 2406.1L962.3 2408.2L964.2 2410.2L966.1 2411.8L968.0 2412.7L970.1 2412.7L972.4 2411.6L974.8 2409.7L977.2 2407.2L979.6 2404.2L981.9 2401.0L984.1 2397.9L986.1 2395.0L987.9 2392.6L989.4 2390.5L990.8 2388.3L991.9 2386.1L992.9 2384.1L993.9 2382.4L994.8 2380.9L995.7 2379.9L996.8 2379.3L997.9 2379.3L998.8 2379.9L999.7 2380.8L1000.7 2382.1L1001.7 2383.6L1002.8 2385.1L1004.2 2386.7L1005.7 2388.2L1007.4 2389.8L1009.3 2391.6L1011.3 2393.5L1013.5 2395.5L1015.8 2397.5L1018.2 2399.2L1020.8 2400.5L1023.5 2401.5L1026.4 2402.0L1029.5 2402.0L1032.9 2401.7L1036.3 2401.2L1039.8 2400.6L1043.3 2400.1L1046.8 2399.6L1050.2 2399.3L1053.5 2399.2L1056.9 2399.1L1060.2 2399.0L1063.6 2399.0L1066.9 2399.0L1070.2 2399.1L1073.6 2399.2L1076.9 2399.3L1080.2 2399.5L1083.3 2399.9L1086.4 2400.3L1089.5 2400.7L1092.7 2401.1L1096.0 2401.4L1099.7 2401.5L1103.6 2401.5L1108.2 2401.2L1113.5 2400.8L1119.2 2400.1L1125.0 2399.4L1130.6 2398.7L1135.6 2398.0L1139.9 2397.5L1143.0 2397.1L1143.0 2347.1L1139.9 2347.5L1135.6 2348.0L1130.6 2348.7L1125.0 2349.4L1119.2 2350.1L1113.5 2350.8L1108.2 2351.2L1103.6 2351.5L1099.7 2351.5L1096.0 2351.4L1092.7 2351.1L1089.5 2350.7L1086.4 2350.3L1083.3 2349.9L1080.2 2349.5L1076.9 2349.3L1073.6 2349.2L1070.2 2349.1L1066.9 2349.0L1063.6 2349.0L1060.2 2349.0L1056.9 2349.1L1053.5 2349.2L1050.2 2349.3L1046.8 2349.6L1043.3 2350.1L1039.8 2350.6L1036.3 2351.2L1032.9 2351.7L1029.5 2352.0L1026.4 2352.0L1023.5 2351.5L1020.8 2350.5L1018.2 2349.2L1015.8 2347.5L1013.5 2345.5L1011.3 2343.5L1009.3 2341.6L1007.4 2339.8L1005.7 2338.2L1004.2 2336.7L1002.8 2335.1L1001.7 2333.6L1000.7 2332.1L999.7 2330.8L998.8 2329.9L997.9 2329.3L996.8 2329.3L995.7 2329.9L994.8 2330.9L993.9 2332.4L992.9 2334.1L991.9 2336.1L990.8 2338.3L989.4 2340.5L987.9 2342.6L986.1 2345.0L984.1 2347.9L981.9 2351.0L979.6 2354.2L977.2 2357.2L974.8 2359.7L972.4 2361.6L970.1 2362.7L968.0 2362.7L966.1 2361.8L964.2 2360.2L962.3 2358.2L960.3 2356.1L958.0 2354.1L955.4 2352.5L952.3 2351.5L948.8 2351.1L944.9 2351.1L940.6 2351.3L936.2 2351.8L931.5 2352.3L926.6 2352.8L921.7 2353.3L916.7 2353.7L911.5 2354.0L905.9 2354.4L900.0 2354.8L894.1 2355.1L888.2 2355.5L882.5 2355.7L877.1 2355.9L872.1 2356.0L867.5 2356.0L863.3 2355.8L859.3 2355.7L855.4 2355.4L851.7 2355.1L848.1 2354.7L844.6 2354.2L841.0 2353.7L837.4 2353.1L833.9 2352.4L830.5 2351.6L827.1 2350.8L823.8 2349.9L820.6 2349.0L817.4 2348.1L814.3 2347.1L811.3 2346.0L808.3 2344.7L805.4 2343.3L802.6 2342.0L799.8 2340.7L797.2 2339.5L794.5 2338.7L792.0 2338.2L789.6 2338.1L787.4 2338.2L785.4 2338.6L783.4 2339.1L781.3 2339.9L779.2 2340.7L776.8 2341.6L774.2 2342.6L771.3 2343.7L768.2 2345.1L764.8 2346.7L761.4 2348.3L757.9 2349.9L754.4 2351.4L750.9 2352.7L747.5 2353.7L744.2 2354.5L740.8 2355.2L737.5 2355.7L734.2 2356.1L730.8 2356.4L727.5 2356.4L724.1 2356.3L720.8 2356.0L717.4 2355.4L714.0 2354.6L710.6 2353.6L707.1 2352.5L703.7 2351.2L700.4 2349.8L697.1 2348.4L694.0 2347.0L691.0 2345.5L688.0 2343.8L685.1 2342.0L682.3 2340.2L679.6 2338.4L676.9 2336.7L674.3 2335.1L671.8 2333.7L669.4 2332.4L667.1 2331.1L665.0 2329.9L662.9 2328.8L660.8 2327.9L658.7 2327.3L656.4 2326.9L654.0 2327.0L651.4 2327.5L648.7 2328.5L646.0 2329.9L643.1 2331.5L640.3 2333.2L637.4 2335.0L634.5 2336.7L631.7 2338.2L628.8 2339.7L625.6 2341.2L622.4 2342.9L619.2 2344.4L616.2 2346.0L613.5 2347.3L611.2 2348.4L609.5 2349.3Z" fill="#fff" filter="url(#fBl2)"/></mask>
<rect x="609.2" y="2177.3" width="534.0" height="326.89999999999964" filter="url(#fMn)" mask="url(#cFGm)" opacity="0.45"/>
<g fill="#060203" opacity="0.8" filter="url(#fBl)"><ellipse cx="1113" cy="2263" rx="13" ry="7"/><ellipse cx="766" cy="2390" rx="13" ry="6"/><ellipse cx="1129" cy="2233" rx="13" ry="8"/><ellipse cx="861" cy="2189" rx="13" ry="7"/><ellipse cx="818" cy="2262" rx="12" ry="6"/><ellipse cx="880" cy="2266" rx="8" ry="6"/><ellipse cx="1058" cy="2366" rx="12" ry="7"/><ellipse cx="1127" cy="2371" rx="9" ry="7"/><ellipse cx="1120" cy="2359" rx="10" ry="7"/><ellipse cx="886" cy="2385" rx="12" ry="7"/><ellipse cx="856" cy="2203" rx="11" ry="6"/><ellipse cx="659" cy="2203" rx="9" ry="8"/><ellipse cx="705" cy="2310" rx="12" ry="9"/><ellipse cx="854" cy="2357" rx="8" ry="8"/><ellipse cx="1133" cy="2193" rx="13" ry="6"/><ellipse cx="970" cy="2188" rx="8" ry="6"/><ellipse cx="1091" cy="2358" rx="12" ry="8"/><ellipse cx="766" cy="2301" rx="11" ry="9"/><ellipse cx="852" cy="2350" rx="10" ry="9"/><ellipse cx="1064" cy="2405" rx="9" ry="8"/><ellipse cx="864" cy="2297" rx="11" ry="5"/><ellipse cx="1080" cy="2318" rx="9" ry="8"/><ellipse cx="670" cy="2268" rx="12" ry="7"/><ellipse cx="644" cy="2322" rx="10" ry="7"/><ellipse cx="696" cy="2224" rx="14" ry="7"/><ellipse cx="923" cy="2358" rx="10" ry="6"/><ellipse cx="933" cy="2273" rx="10" ry="5"/><ellipse cx="834" cy="2194" rx="13" ry="6"/><ellipse cx="991" cy="2315" rx="11" ry="6"/><ellipse cx="626" cy="2330" rx="9" ry="6"/><ellipse cx="1121" cy="2267" rx="10" ry="8"/><ellipse cx="753" cy="2265" rx="10" ry="8"/><ellipse cx="650" cy="2268" rx="14" ry="8"/><ellipse cx="863" cy="2247" rx="8" ry="9"/><ellipse cx="1101" cy="2402" rx="11" ry="7"/><ellipse cx="764" cy="2369" rx="11" ry="6"/><ellipse cx="767" cy="2262" rx="12" ry="8"/><ellipse cx="665" cy="2391" rx="13" ry="8"/><ellipse cx="715" cy="2214" rx="12" ry="9"/><ellipse cx="794" cy="2205" rx="10" ry="8"/><ellipse cx="1049" cy="2235" rx="9" ry="7"/><ellipse cx="780" cy="2374" rx="11" ry="6"/><ellipse cx="839" cy="2232" rx="12" ry="9"/><ellipse cx="934" cy="2236" rx="13" ry="6"/><ellipse cx="656" cy="2217" rx="10" ry="8"/><ellipse cx="730" cy="2380" rx="6" ry="15"/><ellipse cx="991" cy="2372" rx="6" ry="12"/><ellipse cx="705" cy="2377" rx="8" ry="13"/><ellipse cx="761" cy="2369" rx="6" ry="14"/><ellipse cx="893" cy="2375" rx="10" ry="13"/><ellipse cx="848" cy="2385" rx="7" ry="14"/><ellipse cx="1083" cy="2378" rx="10" ry="11"/><ellipse cx="752" cy="2373" rx="10" ry="13"/><ellipse cx="903" cy="2385" rx="6" ry="12"/><ellipse cx="1135" cy="2376" rx="9" ry="11"/><ellipse cx="1001" cy="2359" rx="10" ry="12"/><ellipse cx="858" cy="2387" rx="9" ry="10"/><ellipse cx="1000" cy="2353" rx="7" ry="12"/><ellipse cx="794" cy="2361" rx="7" ry="15"/><ellipse cx="659" cy="2363" rx="9" ry="10"/></g>
<defs><path id="cFGp0" d="M602 2427l-1 5M1124 2163l3 -5M1118 2191l-0 0M1058 2485l26 -43M633 2413l-8 -4M1141 2207l-6 3M596 2209l-2 14M1150 2477l-40 -36M1100 2203l12 4M1100 2203l-6 7M1095 2210l12 7M971 2204l-16 -4M958 2193l20 3M960 2216l34 -5M906 2178l-4 3M924 2477l-24 -44M1100 2417l19 -8M633 2404l6 -11M633 2413l12 -3M673 2404l-17 2M679 2407l-5 -2M608 2405l14 1M927 2224l-18 -10M909 2214l-11 4M927 2224l1 0M844 2207l9 -10M889 2220l-21 -0M718 2161l-8 6M758 2204l-8 2M1004 2421l1 8M1045 2422l-13 -7M1152 2410l-5 -5M1146 2396l2 9M962 2179l21 1M1055 2220l-2 2M1089 2212l-3 9M1022 2221l31 0M723 2213l6 5M955 2199l-17 11M827 2209l17 -1M759 2213l-16 6M924 2145l0 -0M665 2151l18 9M680 2387l8 -3M1032 2197l3 -21M1052 2189l-18 -14M1008 2219l6 0M1022 2221l-0 0M775 2222l-4 -4M771 2218l-14 5M771 2217l-0 1M836 2226l-9 -10M775 2222l12 2M783 2211l7 12M929 2192l-1 -9M916 2160l10 13M675 2203l-5 -3M691 2184l-21 12M783 2461l-6 -28M1004 2421l-1 -1M1001 2403l-19 -2M987 2415l14 -12M676 2173l-6 -1M599 2162l27 -20M637 2219l14 -8M724 2406l25 1M853 2413l-28 4M781 2405l-3 -10M759 2405l11 -10M742 2431l12 -8M790 2408l-1 6M1029 2412l-5 -2M827 2399l-9 -6M790 2408l3 -1M637 2187l7 -5M638 2169l8 5M637 2187l-14 8M594 2205l20 -6M614 2199l2 3M607 2181l6 10"/></defs>
<use href="#cFGp0" stroke="#2E9A3A" stroke-width="3.2" fill="none" opacity="0.17" filter="url(#fBl1)"/>
<use href="#cFGp0" stroke="#4AD656" stroke-width="1.5" fill="none" stroke-dasharray="2 0.9" opacity="0.35"/>
<defs><path id="cFGp1" d="M1102 2234l13 14M1102 2234l-20 6M1081 2242l4 8M1120 2249l5 -0M1120 2249l-6 -1M1102 2234l3 -3M1125 2248l-0 -23M1113 2227l12 -1M1145 2233l2 13M1148 2247l-2 1M1145 2247l-20 1M608 2219l-13 4M594 2223l-7 6M922 2245l1 -1M922 2245l-25 3M897 2248l-3 -8M923 2244l-16 -8M935 2233l-7 -7M937 2241l-3 -8M1204 2227l-23 0M894 2240l-7 -2M886 2238l2 -18M710 2234l-1 2M710 2234l-14 -6M696 2228l-28 6M922 2245l-4 13M918 2258l15 -2M937 2241l1 0M938 2242l2 2M940 2243l-7 12M981 2252l25 -1M981 2252l-1 12M1006 2251l4 6M961 2244l11 -3M961 2244l1 9M972 2241l4 6M958 2255l4 -2M948 2246l3 6M948 2246l13 -3M668 2234l-6 -4M1011 2257l12 -1M884 2400l-32 -2M1089 2396l-0 -3M989 2233l-18 -2M967 2228l3 2M973 2239l28 2M1001 2241l-11 -8M973 2239l-1 2M940 2243l8 3M1006 2251l-1 -8M980 2249l24 -7M980 2249l-4 -3M1004 2242l-0 -0M1001 2229l3 13M1004 2242l0 -0M1052 2224l17 6M1070 2231l1 -5M1070 2237l-12 1M1057 2238l-9 -5M1081 2240l-11 -3M710 2234l4 -2M709 2236l1 2M714 2232l25 6M741 2239l-3 -2M714 2232l15 -14M952 2253l-6 3M933 2256l6 2M939 2257l6 -2M836 2226l0 9M836 2234l8 4M749 2226l1 -3M918 2258l-6 4M939 2258l-0 -1M897 2248l-0 9M1057 2238l-8 8M1066 2250l-14 -4M1046 2255l-2 -8M1046 2255l1 0M1049 2245l-5 2M1053 2247l8 8M1066 2250l-2 5M1065 2384l25 7M1092 2389l-2 1M1049 2387l16 -3M1049 2387l-22 -8M1027 2379l0 -0M1027 2379l5 -13M1089 2393l1 -2M1053 2397l-3 -10M1100 2389l-8 1M1004 2241l4 -2M1023 2256l9 -9M1013 2244l20 3M1032 2246l1 -1M603 2231l17 -5M623 2223l1 0M860 2236l12 3M873 2239l-1 -0M880 2256l-2 -4M896 2257l-17 -1M844 2238l-3 13M872 2239l-6 11M873 2239l5 13M770 2224l-13 -1M749 2222l4 1M753 2223l4 -0M763 2239l-8 2M749 2226l7 15M768 2236l-5 4M836 2234l-7 0M829 2234l-15 -8M768 2236l2 -0M770 2224l3 9M773 2233l-2 3M773 2233l14 -9M800 2224l-3 1M797 2225l-7 -1M939 2258l7 11M945 2256l6 12M958 2255l8 11M847 2383l26 0M877 2379l-3 4M852 2396l-5 -12M852 2396l21 -10M873 2385l1 -2M891 2401l4 -9M905 2385l0 5M905 2385l17 2M921 2404l1 -18M978 2370l1 -1M964 2356l15 12M1048 2232l-10 -1M1025 2225l14 6M1033 2246l-2 -4M1039 2232l-7 10M1013 2244l13 -5M1032 2242l-6 -3M662 2230l-4 -1M640 2239l13 -10M658 2229l-5 -0M652 2229l-18 -7M883 2398l-9 -12M883 2398l1 -9M885 2389l-10 -2M884 2400l-1 -2M852 2398l-0 -0M852 2396l-1 2M873 2385l1 1M893 2381l-2 -2M893 2381l3 2M890 2379l29 -7M896 2383l5 1M901 2384l20 -10M921 2373l-2 -2M877 2379l8 -3M885 2377l5 2M885 2389l8 -8M895 2393l1 -10M917 2367l2 5M885 2376l0 0M905 2385l-4 -1M922 2387l8 -7M930 2379l-9 -6M1023 2382l4 -2M1023 2382l-2 12M973 2380l-33 1M945 2372l-8 7M946 2361l-7 -2M946 2371l-1 1M930 2379l7 -0M950 2392l0 5M973 2380l3 0M950 2392l25 -13M978 2370l-1 10M977 2380l-1 0M979 2369l3 -1M823 2382l-5 10M1010 2239l13 -9M1010 2239l14 -1M1024 2238l-1 -8M1008 2239l1 -1M1025 2239l-1 -1M771 2235l10 3M781 2238l3 10M976 2397l-6 -2M970 2395l8 -15M978 2380l15 6M980 2401l-4 -4M951 2398l20 -3M977 2380l1 0M1023 2382l-31 4M809 2247l-13 -0M809 2247l4 -8M813 2238l-15 -5M813 2251l-4 -4M829 2234l-16 4M781 2238l13 -2M797 2225l1 9"/></defs>
<use href="#cFGp1" stroke="#2E9A3A" stroke-width="3.2" fill="none" opacity="0.30" filter="url(#fBl1)"/>
<use href="#cFGp1" stroke="#4AD656" stroke-width="1.5" fill="none" stroke-dasharray="2 0.9" opacity="0.60"/>
<defs><path id="cFGp2" d="M584 2275l28 -6M584 2275l11 4M595 2278l17 -10M603 2283l13 -5M603 2283l-8 -5M616 2267l-4 2M616 2267l0 12M1114 2248l-18 10M1096 2258l-11 -7M597 2399l25 -15M597 2399l-24 -14M572 2385l-1 -0M590 2292l6 7M590 2292l13 -6M603 2286l13 7M616 2294l-6 5M596 2299l14 -0M606 2243l-27 12M606 2243l-3 -11M616 2267l2 -4M618 2263l-39 -8M603 2286l0 -3M668 2311l11 2M668 2311l3 -16M679 2313l16 -15M671 2295l16 -4M688 2291l7 7M626 2384l8 -17M626 2384l-2 -0M624 2384l-11 -8M613 2376l11 -16M634 2367l-2 -4M624 2360l8 2M602 2371l-31 13M602 2371l11 5M621 2384l3 -1M1229 2265l-19 4M1168 2299l-6 -8M610 2329l-8 15M603 2344l-39 3M556 2347l7 -0M603 2344l7 1M609 2345l10 7M620 2352l0 6M624 2360l-4 -2M632 2363l12 -5M633 2347l8 2M633 2347l-14 5M644 2358l-3 -8M620 2359l-0 -1M653 2370l2 -0M634 2367l19 3M657 2369l2 -12M657 2369l-1 1M644 2358l15 0M668 2311l-11 2M671 2295l-13 1M659 2296l-10 6M648 2302l9 11M616 2294l1 -0M610 2299l1 5M617 2294l18 7M635 2301l2 1M637 2302l-9 8M611 2304l17 6M634 2318l-6 -3M634 2318l23 -5M648 2302l-12 0M658 2313l-1 1M628 2310l-1 5M709 2236l-34 9M668 2234l7 11M637 2292l-7 -7M637 2292l15 -2M652 2290l-6 -12M632 2282l-1 2M632 2282l14 -5M646 2278l1 0M617 2294l13 -9M635 2301l2 -9M659 2296l-7 -6M689 2288l-1 3M689 2288l-31 -9M658 2279l-12 -1M616 2278l15 4M980 2264l18 1M999 2266l5 -1M1004 2264l7 -7M850 2277l-5 8M850 2277l10 6M845 2285l11 1M859 2284l-3 2M833 2305l17 -1M833 2305l-6 -12M850 2291l-14 -2M850 2291l2 8M852 2300l-1 3M827 2292l1 -3M851 2303l-1 1M828 2290l7 -1M845 2285l-9 4M856 2286l-1 4M855 2290l-5 1M860 2292l-4 -2M860 2292l-8 8M1169 2340l-8 -11M1161 2329l0 -17M1168 2299l-5 3M1162 2303l-6 7M1161 2311l-5 -1M1162 2303l-9 -10M1162 2291l-8 1M1153 2292l0 -0M1120 2249l0 10M1096 2258l1 9M1096 2266l12 -0M1120 2259l-12 7M1012 2268l26 -2M1012 2268l-8 -4M1038 2266l-2 -5M1023 2256l13 6M1156 2342l-10 -2M1156 2342l-6 10M1143 2355l7 -3M1143 2355l-19 -2M1124 2353l-5 -2M1119 2351l27 -11M1155 2368l1 1M1155 2368l1 -5M1143 2355l-7 4M1150 2352l6 11M1136 2360l4 11M1140 2371l15 -2M1169 2379l-13 -10M1169 2340l-13 2M602 2369l-19 -12M602 2369l16 -10M618 2360l-34 -2M602 2371l-0 -2M620 2359l-3 1M556 2347l28 11M611 2324l1 -4M612 2319l-18 -6M594 2313l-9 -1M494 2340l-21 -2M610 2329l1 -1M611 2328l-0 -4M611 2304l-17 9M627 2315l-16 4M596 2299l-12 14M611 2328l8 3M634 2318l4 7M638 2325l-19 6M618 2263l9 -2M606 2243l10 1M627 2261l0 -10M616 2244l11 7M711 2238l5 2M716 2240l27 1M742 2241l-1 -2M761 2262l-16 17M761 2262l1 0M746 2279l9 2M755 2281l18 -3M773 2279l-12 -17M786 2286l31 -12M786 2286l-13 -7M787 2267l-13 12M787 2267l23 1M810 2268l7 5M850 2277l-5 -13M828 2290l-11 -16M845 2264l-28 9M786 2286l-0 1M786 2286l30 7M817 2294l11 -1M817 2273l0 0M860 2292l16 1M851 2303l25 -6M876 2297l0 -4M870 2283l9 6M870 2283l-11 1M876 2293l3 -4M939 2258l-14 11M925 2269l-13 -7M896 2257l7 5M912 2262l-8 0M702 2301l-5 -2M702 2301l-1 16M697 2299l-4 18M701 2316l-7 1M679 2313l4 6M697 2299l-2 -1M694 2317l-10 3M1157 2310l-6 0M1153 2292l-10 15M1143 2307l7 3M1119 2302l-12 -2M1119 2302l3 3M1107 2300l-21 3M1104 2316l-17 -13M1104 2316l17 -8M1122 2305l-2 3M1148 2288l1 2M1148 2288l-26 -1M1149 2290l-7 2M1142 2292l-20 -2M1122 2291l-1 -4M1153 2292l-5 -2M1157 2273l-11 7M1146 2279l2 9M1125 2280l20 -1M1125 2280l-5 4M1120 2285l1 2M1143 2307l-11 -2M1133 2305l9 -13M1119 2302l3 -11M1133 2305l-11 -0M1139 2261l-5 1M1139 2261l10 8M1134 2262l-11 9M1149 2269l-26 2M1123 2271l-0 -0M1145 2247l-7 14M1120 2259l13 3M1157 2273l-8 -3M1109 2266l14 5M1125 2280l-2 -9M1120 2285l-16 -2M1107 2300l-2 -2M1104 2283l1 15M1048 2255l12 -1M1064 2256l-4 -1M1065 2384l5 -19M1092 2389l-6 -23M1086 2366l-8 -1M1079 2365l-8 1M1032 2366l5 -3M1037 2363l8 -2M1045 2361l25 5M1064 2321l-27 -21M1064 2321l-18 4M1037 2300l-2 1M1035 2301l8 24M1046 2325l-3 -0M1035 2301l-21 8M1035 2326l8 -1M1035 2326l-19 -5M1015 2321l-1 -12M1120 2373l13 -14M1120 2373l-14 -10M1106 2364l25 -4M1133 2360l-3 -0M1100 2389l22 -14M1121 2374l-1 -1M1104 2363l2 1M1104 2363l-17 3M1104 2363l5 -11M1124 2353l6 6M1119 2351l-11 1M1136 2360l-3 0M1108 2352l-3 -4M1146 2340l-10 -5M1136 2335l-7 -1M1106 2348l24 -14M1104 2316l-2 2M1102 2318l1 10M1126 2318l-6 -11M1126 2318l-8 11M1102 2328l16 2M1126 2395l-1 -20M1142 2394l3 -9M1145 2385l-15 -10M1125 2375l6 0M1121 2374l3 1M1169 2379l-24 6M1140 2371l-9 4M657 2369l18 3M675 2372l-1 4M674 2376l13 7M684 2391l9 -7M692 2384l-4 -0M631 2340l-1 -4M631 2340l-15 2M630 2336l-9 -3M616 2342l6 -9M633 2347l0 -5M609 2345l6 -3M634 2342l-3 -2M619 2331l2 2M661 2322l-1 1M661 2322l22 -2M660 2323l6 7M666 2330l12 -4M683 2321l-5 6M657 2313l3 9M683 2320l0 -1M683 2320l-0 0M638 2325l5 3M630 2336l12 -6M643 2328l-1 2M660 2323l-16 4M643 2328l2 -0M666 2330l0 6M644 2328l22 8M634 2342l14 -3M642 2330l6 9M641 2349l18 -6M648 2339l11 4M1036 2261l10 -6M639 2244l1 -5M639 2244l-12 6M616 2244l8 -7M640 2239l-16 -3M627 2261l12 3M639 2244l14 5M653 2249l-14 15M658 2279l17 -9M646 2278l-2 -12M675 2270l-11 -7M664 2263l-20 3M639 2264l5 3M689 2288l0 -0M689 2288l-5 -13M675 2270l4 1M679 2271l5 3M689 2288l25 -8M714 2280l-7 -10M706 2270l-17 2M684 2275l5 -3M723 2267l21 -5M723 2267l-0 -0M723 2266l19 -12M741 2254l6 5M747 2259l-3 3M761 2262l-14 -3M734 2278l12 1M734 2278l11 -17M711 2238l-1 2M710 2240l2 12M716 2240l12 11M728 2251l-16 2M720 2265l2 2M720 2265l1 -5M740 2252l-5 -0M740 2252l2 2M734 2252l-13 7M730 2279l4 12M730 2279l-3 -0M716 2280l4 18M716 2280l11 -1M720 2298l14 -7M734 2278l-4 1M746 2297l9 -10M746 2297l-12 -6M755 2281l0 6M723 2267l4 12M702 2301l12 2M714 2280l2 -0M714 2303l6 -5M704 2264l2 6M704 2264l16 1M853 2264l27 -7M853 2264l-4 -0M849 2263l17 -14M870 2272l25 -0M870 2272l-16 -8M894 2271l9 -9M870 2272l0 12M845 2264l2 -1M847 2263l2 0M840 2251l7 12M787 2267l-8 -8M774 2279l-0 -0M762 2262l11 -4M773 2258l6 2M763 2239l12 12M755 2241l-10 3M774 2253l1 -1M774 2253l-29 -7M745 2245l1 -2M742 2241l3 2M740 2252l5 -7M773 2258l2 -5M728 2251l7 2M1007 2290l-32 9M1007 2290l1 16M1008 2307l-25 -2M983 2305l-8 -5M980 2264l-10 3M999 2266l-1 16M997 2282l-25 5M973 2287l-2 -19M952 2268l-5 1M952 2268l15 -1M925 2269l8 5M946 2269l-13 5M966 2267l4 1M894 2271l3 10M933 2274l-0 5M932 2279l-17 6M916 2285l-18 -3M879 2289l11 -3M890 2286l7 -5M711 2325l1 -2M711 2325l-21 -0M701 2316l7 2M689 2324l-6 -4M707 2318l4 4M714 2303l2 1M707 2318l9 -14M843 2373l34 6M843 2373l-1 1M847 2383l-5 -8M1152 2322l-3 -11M1152 2322l-13 4M1150 2311l-12 10M1139 2326l-1 -5M1161 2329l-9 -7M1151 2310l-1 1M1136 2335l3 -9M1126 2318l12 2M1118 2330l11 4M1102 2318l-28 -4M1073 2313l2 -10M1087 2303l-6 -1M1075 2303l5 -1M1105 2298l-15 -9M1081 2302l9 -14M1104 2283l-14 -3M1090 2288l0 -8M1096 2266l-11 7M1085 2273l1 4M1086 2277l4 3M1064 2321l9 -8M1064 2321l-0 -0M1037 2300l3 -4M1075 2303l-22 -8M1040 2296l13 -1M1086 2277l-27 13M1053 2295l5 -5M1013 2362l-20 1M1013 2362l-7 -9M1007 2352l-16 -2M991 2351l3 12M946 2361l18 -5M1013 2362l18 5M994 2362l-12 5M1054 2270l21 -0M1054 2270l1 -9M1054 2261l11 -4M1075 2270l-5 -12M1069 2258l-4 -2M1085 2273l-11 -3M1051 2271l7 20M1051 2271l2 -1M1038 2266l5 4M1048 2255l7 5M1043 2271l8 -0M1064 2256l1 1M1085 2250l-16 8M1037 2341l-7 -3M1037 2341l-12 9M1030 2338l-16 4M1024 2350l-11 -9M1054 2345l-2 1M1054 2345l-8 -20M1052 2346l-15 -6M1035 2326l-5 12M1037 2363l-13 -13M1045 2361l6 -15M1007 2352l6 -11M1013 2341l0 0M1015 2321l-1 0M1014 2309l-6 -2M981 2313l2 -8M981 2313l19 11M1000 2324l15 -3M1013 2341l-2 -1M1015 2321l-4 19M1093 2341l-1 -8M1093 2341l-12 6M1092 2333l-18 -4M1074 2329l-19 16M1055 2345l25 2M1106 2348l-13 -7M1102 2328l-11 5M1079 2365l2 -18M1064 2321l10 8M1054 2345l1 -0M711 2325l2 4M689 2324l2 10M713 2329l-1 6M712 2335l-8 4M704 2339l-13 -4M678 2326l2 10M691 2335l-11 1M666 2336l2 4M680 2336l-12 4M705 2394l0 -9M723 2406l8 -13M731 2393l-17 -11M706 2384l8 -3M692 2384l13 0M706 2384l-0 -0M661 2343l7 -3M661 2343l2 13M663 2356l15 3M676 2344l-8 -4M676 2344l7 13M678 2359l5 -2M659 2343l2 0M668 2340l-0 1M659 2358l3 -1M675 2372l3 -2M679 2371l-1 -12M704 2339l-2 8M702 2347l-26 -3M675 2246l-0 0M675 2246l-22 3M676 2248l-1 4M676 2248l21 4M675 2252l12 10M687 2262l11 2M698 2252l7 3M705 2256l-0 -1M705 2256l-2 7M703 2263l-5 1M675 2246l1 2M664 2263l12 -11M710 2240l-12 12M679 2271l8 -9M689 2272l9 -8M712 2252l-7 3M722 2259l-17 -3M704 2264l-1 -1M840 2251l-28 -1M810 2268l-5 -9M805 2260l7 -9M778 2260l18 -2M805 2260l-9 -3M935 2297l37 -1M935 2297l6 -13M941 2284l30 5M972 2295l-2 -7M973 2287l-2 2M932 2279l9 5M1013 2285l-6 5M1013 2285l-15 -4M975 2299l-1 -0M974 2299l-2 -3M876 2297l4 4M890 2286l14 14M880 2301l24 -1M850 2304l19 11M868 2315l7 1M875 2316l5 -14M880 2301l-0 1M916 2285l1 18M904 2300l13 3M971 2324l-20 -1M971 2324l10 -11M974 2299l-33 14M951 2322l-10 -10M846 2324l8 6M846 2324l1 -5M847 2319l4 -0M851 2319l8 9M859 2327l-5 3M835 2328l11 -3M835 2328l7 8M843 2335l11 -3M853 2332l1 -2M833 2305l-6 6M827 2311l20 8M868 2315l-17 4M875 2316l2 1M876 2317l2 4M878 2321l-19 6M774 2350l26 -4M774 2350l-14 -8M813 2343l-13 4M813 2343l-8 -17M755 2344l-14 4M755 2344l4 -2M718 2336l23 12M718 2336l35 -7M759 2342l-6 -13M749 2302l4 1M749 2302l-21 6M752 2303l5 20M728 2308l2 7M730 2315l15 8M745 2324l8 2M753 2326l5 -3M746 2297l3 4M755 2287l18 10M762 2301l10 -5M762 2301l-10 1M716 2304l12 4M712 2323l18 -7M713 2329l32 -5M718 2336l-6 -1M753 2329l-0 -3M731 2393l9 -8M751 2393l-11 -8M714 2382l17 -7M731 2375l8 2M739 2377l2 8M798 2360l22 2M798 2360l-21 5M777 2365l-1 4M776 2368l25 5M820 2362l-19 11M813 2343l2 1M800 2346l-2 13M815 2344l7 18M822 2361l-2 1M774 2350l3 14M755 2344l-0 19M754 2363l18 8M772 2370l4 -2M759 2342l1 0M751 2393l13 -5M768 2374l3 6M768 2374l-29 3M765 2389l6 -8M1041 2273l-3 21M1041 2273l-22 4M1037 2294l-22 -9M1019 2277l-4 8M1043 2271l-2 2M1040 2296l-3 -2M1012 2268l7 8M1013 2285l2 -0M917 2367l-17 -9M885 2376l10 -17M895 2359l5 -1M939 2359l-22 7M986 2347l-20 2M986 2347l10 -7M996 2339l-7 -8M961 2344l5 5M961 2344l16 -15M977 2329l12 2M991 2351l-5 -4M964 2356l2 -7M1011 2340l-15 -1M1000 2324l-11 7M956 2343l5 1M956 2343l-29 2M927 2345l12 15M956 2343l-8 -15M971 2324l6 5M948 2328l3 -6M823 2382l20 -8M679 2371l10 1M683 2357l13 -2M696 2355l-7 16M705 2384l-10 -11M731 2375l-1 -2M730 2373l-26 -7M704 2366l-9 7M689 2371l6 1M775 2251l9 -4M797 2257l-5 -9M784 2248l8 0M902 2319l21 -13M902 2319l-6 -8M896 2312l3 -2M899 2310l19 -6M918 2304l5 2M923 2306l1 1M898 2325l5 -5M898 2325l23 -0M920 2325l10 -14M930 2311l-7 -4M876 2317l20 -6M898 2325l-11 4M887 2328l-9 -7M880 2302l19 8M917 2303l1 1M935 2297l-12 10M941 2312l-11 -2M931 2332l-11 -7M931 2332l-4 12M921 2325l-15 16M927 2345l-16 1M906 2341l5 4M920 2325l0 0M948 2328l-17 4M927 2345l-0 -0M887 2328l0 4M887 2332l18 9M900 2358l10 -12M853 2332l16 8M887 2332l-1 0M870 2340l17 -7M895 2359l-12 -2M886 2333l-4 24M762 2301l12 9M758 2323l15 -3M773 2320l1 -9M784 2293l5 4M784 2293l-7 2M777 2296l2 13M789 2297l-2 11M787 2308l-8 0M799 2300l-10 -3M799 2300l17 -7M786 2286l-2 7M773 2297l5 -1M774 2311l5 -2M802 2374l0 17M802 2374l-1 -1M801 2374l-13 13M823 2382l-21 -8M771 2380l13 7M772 2370l-4 4M801 2373l0 0M700 2354l1 1M700 2354l3 -6M701 2355l30 7M703 2349l36 1M739 2350l-3 9M736 2359l-4 4M696 2355l5 -1M704 2366l-3 -11M702 2347l1 2M730 2373l1 -10M741 2348l-2 2M754 2363l-19 -4M791 2248l4 -2M851 2348l-23 15M851 2348l11 1M862 2350l5 6M868 2355l-8 9M860 2364l-17 8M843 2372l-15 -9M837 2342l15 6M837 2342l-22 2M822 2361l7 2M843 2335l-6 7M870 2340l-7 10M883 2357l-15 -2M885 2376l-25 -12M843 2373l-0 -1M788 2309l0 13M788 2309l22 1M788 2321l17 5M805 2326l8 -5M813 2321l5 -7M810 2310l8 5M773 2320l15 1M787 2308l0 0M799 2300l10 9M805 2326l0 -0M835 2328l-22 -7M827 2311l-9 4"/></defs>
<use href="#cFGp2" stroke="#2E9A3A" stroke-width="3.2" fill="none" opacity="0.45" filter="url(#fBl1)"/>
<use href="#cFGp2" stroke="#4AD656" stroke-width="1.5" fill="none" stroke-dasharray="2 0.9" opacity="0.90"/>
<g opacity="0.82" filter="url(#fBl1)"><ellipse cx="804" cy="2288" rx="8.4" ry="4.2" fill="#7050C0" transform="rotate(37 804 2288)"/><ellipse cx="615" cy="2341" rx="7.3" ry="4.5" fill="#5C56CC" transform="rotate(29 615 2341)"/><ellipse cx="971" cy="2383" rx="8.1" ry="4.7" fill="#5C56CC" transform="rotate(14 971 2383)"/><ellipse cx="916" cy="2201" rx="7.9" ry="5.3" fill="#7050C0" transform="rotate(-24 916 2201)"/><ellipse cx="993" cy="2341" rx="7.6" ry="4.7" fill="#5C56CC" transform="rotate(36 993 2341)"/><ellipse cx="977" cy="2376" rx="5.7" ry="5.0" fill="#5C56CC" transform="rotate(-31 977 2376)"/><ellipse cx="1026" cy="2334" rx="6.5" ry="5.3" fill="#5C56CC" transform="rotate(-13 1026 2334)"/><ellipse cx="971" cy="2400" rx="8.3" ry="4.9" fill="#5C56CC" transform="rotate(0 971 2400)"/><ellipse cx="1126" cy="2386" rx="6.0" ry="4.4" fill="#5C56CC" transform="rotate(3 1126 2386)"/><ellipse cx="1077" cy="2267" rx="5.9" ry="5.0" fill="#7050C0" transform="rotate(-5 1077 2267)"/><ellipse cx="1139" cy="2381" rx="8.1" ry="5.8" fill="#5C56CC" transform="rotate(-40 1139 2381)"/><ellipse cx="662" cy="2340" rx="8.3" ry="4.8" fill="#7050C0" transform="rotate(33 662 2340)"/><ellipse cx="784" cy="2340" rx="7.0" ry="5.0" fill="#5C56CC" transform="rotate(16 784 2340)"/><ellipse cx="923" cy="2359" rx="6.5" ry="5.6" fill="#7050C0" transform="rotate(28 923 2359)"/><ellipse cx="649" cy="2365" rx="8.1" ry="5.6" fill="#5C56CC" transform="rotate(-11 649 2365)"/><ellipse cx="752" cy="2385" rx="7.2" ry="5.3" fill="#7050C0" transform="rotate(-17 752 2385)"/><ellipse cx="1037" cy="2226" rx="8.0" ry="5.1" fill="#5C56CC" transform="rotate(-31 1037 2226)"/><ellipse cx="905" cy="2215" rx="6.9" ry="5.1" fill="#7050C0" transform="rotate(-13 905 2215)"/><ellipse cx="939" cy="2211" rx="7.4" ry="5.5" fill="#7050C0" transform="rotate(15 939 2211)"/><ellipse cx="731" cy="2265" rx="8.2" ry="5.4" fill="#5C56CC" transform="rotate(26 731 2265)"/><ellipse cx="806" cy="2377" rx="7.2" ry="4.2" fill="#5C56CC" transform="rotate(-19 806 2377)"/><ellipse cx="1113" cy="2254" rx="5.9" ry="4.4" fill="#5C56CC" transform="rotate(-10 1113 2254)"/><ellipse cx="715" cy="2390" rx="6.6" ry="4.1" fill="#5C56CC" transform="rotate(3 715 2390)"/><ellipse cx="774" cy="2358" rx="5.5" ry="4.3" fill="#7050C0" transform="rotate(-30 774 2358)"/><ellipse cx="677" cy="2327" rx="7.8" ry="4.9" fill="#5C56CC" transform="rotate(28 677 2327)"/><ellipse cx="762" cy="2381" rx="8.0" ry="5.2" fill="#5C56CC" transform="rotate(-40 762 2381)"/><ellipse cx="851" cy="2191" rx="6.9" ry="4.2" fill="#5C56CC" transform="rotate(-31 851 2191)"/><ellipse cx="1093" cy="2364" rx="8.3" ry="5.5" fill="#5C56CC" transform="rotate(-6 1093 2364)"/><ellipse cx="1096" cy="2356" rx="6.6" ry="4.4" fill="#7050C0" transform="rotate(31 1096 2356)"/><ellipse cx="758" cy="2355" rx="8.3" ry="4.4" fill="#5C56CC" transform="rotate(7 758 2355)"/><ellipse cx="854" cy="2366" rx="8.0" ry="5.2" fill="#5C56CC" transform="rotate(-29 854 2366)"/><ellipse cx="958" cy="2358" rx="8.0" ry="5.1" fill="#5C56CC" transform="rotate(34 958 2358)"/><ellipse cx="1053" cy="2242" rx="7.4" ry="4.6" fill="#5C56CC" transform="rotate(-15 1053 2242)"/><ellipse cx="1129" cy="2376" rx="7.8" ry="5.2" fill="#5C56CC" transform="rotate(5 1129 2376)"/><ellipse cx="907" cy="2367" rx="5.6" ry="6.0" fill="#5C56CC" transform="rotate(26 907 2367)"/><ellipse cx="643" cy="2303" rx="7.3" ry="5.9" fill="#7050C0" transform="rotate(-31 643 2303)"/><ellipse cx="741" cy="2354" rx="6.6" ry="4.8" fill="#7050C0" transform="rotate(12 741 2354)"/><ellipse cx="873" cy="2380" rx="5.5" ry="4.9" fill="#5C56CC" transform="rotate(-25 873 2380)"/><ellipse cx="794" cy="2223" rx="6.3" ry="4.9" fill="#7050C0" transform="rotate(-38 794 2223)"/><ellipse cx="792" cy="2358" rx="5.8" ry="4.8" fill="#5C56CC" transform="rotate(-3 792 2358)"/><ellipse cx="681" cy="2360" rx="7.7" ry="5.7" fill="#7050C0" transform="rotate(-35 681 2360)"/><ellipse cx="839" cy="2361" rx="7.4" ry="5.2" fill="#7050C0" transform="rotate(-18 839 2361)"/><ellipse cx="1119" cy="2389" rx="8.0" ry="5.0" fill="#5C56CC" transform="rotate(3 1119 2389)"/><ellipse cx="770" cy="2346" rx="7.3" ry="5.9" fill="#7050C0" transform="rotate(39 770 2346)"/><ellipse cx="1112" cy="2349" rx="8.4" ry="4.3" fill="#5C56CC" transform="rotate(3 1112 2349)"/><ellipse cx="817" cy="2347" rx="6.6" ry="5.0" fill="#5C56CC" transform="rotate(-16 817 2347)"/><ellipse cx="765" cy="2341" rx="8.2" ry="4.6" fill="#5C56CC" transform="rotate(-37 765 2341)"/><ellipse cx="770" cy="2353" rx="7.7" ry="5.0" fill="#5C56CC" transform="rotate(9 770 2353)"/><ellipse cx="760" cy="2348" rx="8.1" ry="4.9" fill="#7050C0" transform="rotate(-29 760 2348)"/><ellipse cx="894" cy="2354" rx="6.1" ry="4.1" fill="#7050C0" transform="rotate(15 894 2354)"/><ellipse cx="908" cy="2392" rx="5.6" ry="5.6" fill="#5C56CC" transform="rotate(20 908 2392)"/><ellipse cx="1078" cy="2348" rx="6.9" ry="5.0" fill="#7050C0" transform="rotate(18 1078 2348)"/><ellipse cx="681" cy="2364" rx="5.6" ry="5.0" fill="#5C56CC" transform="rotate(15 681 2364)"/><ellipse cx="898" cy="2224" rx="7.4" ry="5.9" fill="#5C56CC" transform="rotate(20 898 2224)"/><ellipse cx="1090" cy="2368" rx="6.0" ry="5.9" fill="#7050C0" transform="rotate(-37 1090 2368)"/><ellipse cx="1137" cy="2234" rx="7.8" ry="4.2" fill="#7050C0" transform="rotate(-21 1137 2234)"/><ellipse cx="721" cy="2352" rx="8.1" ry="4.9" fill="#5C56CC" transform="rotate(19 721 2352)"/><ellipse cx="1103" cy="2347" rx="8.3" ry="4.8" fill="#7050C0" transform="rotate(-16 1103 2347)"/><ellipse cx="902" cy="2238" rx="8.5" ry="4.5" fill="#5C56CC" transform="rotate(-4 902 2238)"/><ellipse cx="650" cy="2220" rx="8.4" ry="5.8" fill="#5C56CC" transform="rotate(-13 650 2220)"/><ellipse cx="1129" cy="2379" rx="7.6" ry="4.7" fill="#7050C0" transform="rotate(40 1129 2379)"/><ellipse cx="1098" cy="2320" rx="6.1" ry="4.6" fill="#5C56CC" transform="rotate(-20 1098 2320)"/><ellipse cx="906" cy="2384" rx="5.5" ry="5.2" fill="#5C56CC" transform="rotate(8 906 2384)"/><ellipse cx="1093" cy="2192" rx="7.5" ry="6.0" fill="#5C56CC" transform="rotate(-38 1093 2192)"/><ellipse cx="844" cy="2258" rx="6.3" ry="5.4" fill="#5C56CC" transform="rotate(-32 844 2258)"/><ellipse cx="822" cy="2379" rx="7.6" ry="4.6" fill="#5C56CC" transform="rotate(-13 822 2379)"/><ellipse cx="796" cy="2339" rx="8.4" ry="4.5" fill="#7050C0" transform="rotate(-31 796 2339)"/><ellipse cx="750" cy="2269" rx="6.3" ry="4.4" fill="#5C56CC" transform="rotate(9 750 2269)"/><ellipse cx="808" cy="2376" rx="5.5" ry="5.3" fill="#7050C0" transform="rotate(-16 808 2376)"/><ellipse cx="837" cy="2308" rx="7.5" ry="5.8" fill="#5C56CC" transform="rotate(-9 837 2308)"/><ellipse cx="789" cy="2293" rx="6.5" ry="4.0" fill="#7050C0" transform="rotate(-7 789 2293)"/><ellipse cx="709" cy="2342" rx="7.4" ry="4.1" fill="#5C56CC" transform="rotate(11 709 2342)"/><ellipse cx="717" cy="2264" rx="5.6" ry="4.4" fill="#5C56CC" transform="rotate(-38 717 2264)"/><ellipse cx="718" cy="2353" rx="7.9" ry="5.1" fill="#5C56CC" transform="rotate(-37 718 2353)"/><ellipse cx="789" cy="2337" rx="6.9" ry="4.4" fill="#7050C0" transform="rotate(7 789 2337)"/><ellipse cx="682" cy="2361" rx="8.3" ry="5.7" fill="#7050C0" transform="rotate(-14 682 2361)"/><ellipse cx="645" cy="2268" rx="6.8" ry="4.1" fill="#7050C0" transform="rotate(10 645 2268)"/><ellipse cx="641" cy="2328" rx="5.7" ry="5.8" fill="#5C56CC" transform="rotate(-30 641 2328)"/><ellipse cx="1029" cy="2258" rx="7.8" ry="5.5" fill="#5C56CC" transform="rotate(-35 1029 2258)"/><ellipse cx="962" cy="2360" rx="8.2" ry="4.3" fill="#5C56CC" transform="rotate(38 962 2360)"/><ellipse cx="847" cy="2190" rx="7.8" ry="5.9" fill="#5C56CC" transform="rotate(38 847 2190)"/><ellipse cx="849" cy="2388" rx="5.7" ry="5.8" fill="#5C56CC" transform="rotate(-33 849 2388)"/><ellipse cx="1142" cy="2368" rx="8.3" ry="5.1" fill="#5C56CC" transform="rotate(-13 1142 2368)"/><ellipse cx="991" cy="2351" rx="6.9" ry="5.4" fill="#5C56CC" transform="rotate(4 991 2351)"/><ellipse cx="938" cy="2353" rx="6.9" ry="5.7" fill="#5C56CC" transform="rotate(-36 938 2353)"/><ellipse cx="752" cy="2361" rx="6.4" ry="5.2" fill="#7050C0" transform="rotate(37 752 2361)"/><ellipse cx="1047" cy="2321" rx="6.9" ry="4.3" fill="#5C56CC" transform="rotate(4 1047 2321)"/><ellipse cx="799" cy="2180" rx="6.8" ry="5.2" fill="#7050C0" transform="rotate(22 799 2180)"/><ellipse cx="874" cy="2363" rx="7.6" ry="4.2" fill="#7050C0" transform="rotate(-8 874 2363)"/><ellipse cx="1013" cy="2317" rx="7.8" ry="5.9" fill="#7050C0" transform="rotate(-10 1013 2317)"/><ellipse cx="983" cy="2258" rx="7.8" ry="5.5" fill="#7050C0" transform="rotate(-21 983 2258)"/><ellipse cx="762" cy="2313" rx="8.2" ry="4.5" fill="#7050C0" transform="rotate(15 762 2313)"/><ellipse cx="962" cy="2288" rx="7.1" ry="4.2" fill="#7050C0" transform="rotate(-7 962 2288)"/><ellipse cx="794" cy="2373" rx="5.8" ry="5.1" fill="#5C56CC" transform="rotate(11 794 2373)"/><ellipse cx="1046" cy="2368" rx="8.4" ry="4.9" fill="#5C56CC" transform="rotate(23 1046 2368)"/><ellipse cx="926" cy="2357" rx="7.9" ry="4.3" fill="#5C56CC" transform="rotate(-8 926 2357)"/><ellipse cx="929" cy="2351" rx="5.5" ry="5.3" fill="#7050C0" transform="rotate(28 929 2351)"/><ellipse cx="774" cy="2361" rx="6.6" ry="5.4" fill="#5C56CC" transform="rotate(-29 774 2361)"/><ellipse cx="970" cy="2369" rx="6.4" ry="5.5" fill="#7050C0" transform="rotate(32 970 2369)"/><ellipse cx="1028" cy="2388" rx="6.6" ry="4.8" fill="#5C56CC" transform="rotate(-36 1028 2388)"/></g>
</g>
<path d="M609.5 2399.3L611.2 2398.4L613.5 2397.3L616.2 2396.0L619.2 2394.4L622.4 2392.9L625.6 2391.2L628.8 2389.7L631.7 2388.2L634.5 2386.7L637.4 2385.0L640.3 2383.2L643.1 2381.5L646.0 2379.9L648.7 2378.5L651.4 2377.5L654.0 2377.0L656.4 2376.9L658.7 2377.3L660.8 2377.9L662.9 2378.8L665.0 2379.9L667.1 2381.1L669.4 2382.4L671.8 2383.7L674.3 2385.1L676.9 2386.7L679.6 2388.4L682.3 2390.2L685.1 2392.0L688.0 2393.8L691.0 2395.5L694.0 2397.0L697.1 2398.4L700.4 2399.8L703.7 2401.2L707.1 2402.5L710.6 2403.6L714.0 2404.6L717.4 2405.4L720.8 2406.0L724.1 2406.3L727.5 2406.4L730.8 2406.4L734.2 2406.1L737.5 2405.7L740.8 2405.2L744.2 2404.5L747.5 2403.7L750.9 2402.7L754.4 2401.4L757.9 2399.9L761.4 2398.3L764.8 2396.7L768.2 2395.1L771.3 2393.7L774.2 2392.6L776.8 2391.6L779.2 2390.7L781.3 2389.9L783.4 2389.1L785.4 2388.6L787.4 2388.2L789.6 2388.1L792.0 2388.2L794.5 2388.7L797.2 2389.5L799.8 2390.7L802.6 2392.0L805.4 2393.3L808.3 2394.7L811.3 2396.0L814.3 2397.1L817.4 2398.1L820.6 2399.0L823.8 2399.9L827.1 2400.8L830.5 2401.6L833.9 2402.4L837.4 2403.1L841.0 2403.7L844.6 2404.2L848.1 2404.7L851.7 2405.1L855.4 2405.4L859.3 2405.7L863.3 2405.8L867.5 2406.0L872.1 2406.0L877.1 2405.9L882.5 2405.7L888.2 2405.5L894.1 2405.1L900.0 2404.8L905.9 2404.4L911.5 2404.0L916.7 2403.7L921.7 2403.3L926.6 2402.8L931.5 2402.3L936.2 2401.8L940.6 2401.3L944.9 2401.1L948.8 2401.1L952.3 2401.5L955.4 2402.5L958.0 2404.1L960.3 2406.1L962.3 2408.2L964.2 2410.2L966.1 2411.8L968.0 2412.7L970.1 2412.7L972.4 2411.6L974.8 2409.7L977.2 2407.2L979.6 2404.2L981.9 2401.0L984.1 2397.9L986.1 2395.0L987.9 2392.6L989.4 2390.5L990.8 2388.3L991.9 2386.1L992.9 2384.1L993.9 2382.4L994.8 2380.9L995.7 2379.9L996.8 2379.3L997.9 2379.3L998.8 2379.9L999.7 2380.8L1000.7 2382.1L1001.7 2383.6L1002.8 2385.1L1004.2 2386.7L1005.7 2388.2L1007.4 2389.8L1009.3 2391.6L1011.3 2393.5L1013.5 2395.5L1015.8 2397.5L1018.2 2399.2L1020.8 2400.5L1023.5 2401.5L1026.4 2402.0L1029.5 2402.0L1032.9 2401.7L1036.3 2401.2L1039.8 2400.6L1043.3 2400.1L1046.8 2399.6L1050.2 2399.3L1053.5 2399.2L1056.9 2399.1L1060.2 2399.0L1063.6 2399.0L1066.9 2399.0L1070.2 2399.1L1073.6 2399.2L1076.9 2399.3L1080.2 2399.5L1083.3 2399.9L1086.4 2400.3L1089.5 2400.7L1092.7 2401.1L1096.0 2401.4L1099.7 2401.5L1103.6 2401.5L1108.2 2401.2L1113.5 2400.8L1119.2 2400.1L1125.0 2399.4L1130.6 2398.7L1135.6 2398.0L1139.9 2397.5L1143.0 2397.1" fill="none" stroke="#9C2A9C" stroke-width="18" opacity="0.5" filter="url(#fBl2)"/>
<mask id="cFGb"><path d="M609.5 2399.3L611.2 2398.4L613.5 2397.3L616.2 2396.0L619.2 2394.4L622.4 2392.9L625.6 2391.2L628.8 2389.7L631.7 2388.2L634.5 2386.7L637.4 2385.0L640.3 2383.2L643.1 2381.5L646.0 2379.9L648.7 2378.5L651.4 2377.5L654.0 2377.0L656.4 2376.9L658.7 2377.3L660.8 2377.9L662.9 2378.8L665.0 2379.9L667.1 2381.1L669.4 2382.4L671.8 2383.7L674.3 2385.1L676.9 2386.7L679.6 2388.4L682.3 2390.2L685.1 2392.0L688.0 2393.8L691.0 2395.5L694.0 2397.0L697.1 2398.4L700.4 2399.8L703.7 2401.2L707.1 2402.5L710.6 2403.6L714.0 2404.6L717.4 2405.4L720.8 2406.0L724.1 2406.3L727.5 2406.4L730.8 2406.4L734.2 2406.1L737.5 2405.7L740.8 2405.2L744.2 2404.5L747.5 2403.7L750.9 2402.7L754.4 2401.4L757.9 2399.9L761.4 2398.3L764.8 2396.7L768.2 2395.1L771.3 2393.7L774.2 2392.6L776.8 2391.6L779.2 2390.7L781.3 2389.9L783.4 2389.1L785.4 2388.6L787.4 2388.2L789.6 2388.1L792.0 2388.2L794.5 2388.7L797.2 2389.5L799.8 2390.7L802.6 2392.0L805.4 2393.3L808.3 2394.7L811.3 2396.0L814.3 2397.1L817.4 2398.1L820.6 2399.0L823.8 2399.9L827.1 2400.8L830.5 2401.6L833.9 2402.4L837.4 2403.1L841.0 2403.7L844.6 2404.2L848.1 2404.7L851.7 2405.1L855.4 2405.4L859.3 2405.7L863.3 2405.8L867.5 2406.0L872.1 2406.0L877.1 2405.9L882.5 2405.7L888.2 2405.5L894.1 2405.1L900.0 2404.8L905.9 2404.4L911.5 2404.0L916.7 2403.7L921.7 2403.3L926.6 2402.8L931.5 2402.3L936.2 2401.8L940.6 2401.3L944.9 2401.1L948.8 2401.1L952.3 2401.5L955.4 2402.5L958.0 2404.1L960.3 2406.1L962.3 2408.2L964.2 2410.2L966.1 2411.8L968.0 2412.7L970.1 2412.7L972.4 2411.6L974.8 2409.7L977.2 2407.2L979.6 2404.2L981.9 2401.0L984.1 2397.9L986.1 2395.0L987.9 2392.6L989.4 2390.5L990.8 2388.3L991.9 2386.1L992.9 2384.1L993.9 2382.4L994.8 2380.9L995.7 2379.9L996.8 2379.3L997.9 2379.3L998.8 2379.9L999.7 2380.8L1000.7 2382.1L1001.7 2383.6L1002.8 2385.1L1004.2 2386.7L1005.7 2388.2L1007.4 2389.8L1009.3 2391.6L1011.3 2393.5L1013.5 2395.5L1015.8 2397.5L1018.2 2399.2L1020.8 2400.5L1023.5 2401.5L1026.4 2402.0L1029.5 2402.0L1032.9 2401.7L1036.3 2401.2L1039.8 2400.6L1043.3 2400.1L1046.8 2399.6L1050.2 2399.3L1053.5 2399.2L1056.9 2399.1L1060.2 2399.0L1063.6 2399.0L1066.9 2399.0L1070.2 2399.1L1073.6 2399.2L1076.9 2399.3L1080.2 2399.5L1083.3 2399.9L1086.4 2400.3L1089.5 2400.7L1092.7 2401.1L1096.0 2401.4L1099.7 2401.5L1103.6 2401.5L1108.2 2401.2L1113.5 2400.8L1119.2 2400.1L1125.0 2399.4L1130.6 2398.7L1135.6 2398.0L1139.9 2397.5L1143.0 2397.1" fill="none" stroke="#fff" stroke-width="9" filter="url(#fBl)"/></mask>
<path d="M609.5 2399.3L611.2 2398.4L613.5 2397.3L616.2 2396.0L619.2 2394.4L622.4 2392.9L625.6 2391.2L628.8 2389.7L631.7 2388.2L634.5 2386.7L637.4 2385.0L640.3 2383.2L643.1 2381.5L646.0 2379.9L648.7 2378.5L651.4 2377.5L654.0 2377.0L656.4 2376.9L658.7 2377.3L660.8 2377.9L662.9 2378.8L665.0 2379.9L667.1 2381.1L669.4 2382.4L671.8 2383.7L674.3 2385.1L676.9 2386.7L679.6 2388.4L682.3 2390.2L685.1 2392.0L688.0 2393.8L691.0 2395.5L694.0 2397.0L697.1 2398.4L700.4 2399.8L703.7 2401.2L707.1 2402.5L710.6 2403.6L714.0 2404.6L717.4 2405.4L720.8 2406.0L724.1 2406.3L727.5 2406.4L730.8 2406.4L734.2 2406.1L737.5 2405.7L740.8 2405.2L744.2 2404.5L747.5 2403.7L750.9 2402.7L754.4 2401.4L757.9 2399.9L761.4 2398.3L764.8 2396.7L768.2 2395.1L771.3 2393.7L774.2 2392.6L776.8 2391.6L779.2 2390.7L781.3 2389.9L783.4 2389.1L785.4 2388.6L787.4 2388.2L789.6 2388.1L792.0 2388.2L794.5 2388.7L797.2 2389.5L799.8 2390.7L802.6 2392.0L805.4 2393.3L808.3 2394.7L811.3 2396.0L814.3 2397.1L817.4 2398.1L820.6 2399.0L823.8 2399.9L827.1 2400.8L830.5 2401.6L833.9 2402.4L837.4 2403.1L841.0 2403.7L844.6 2404.2L848.1 2404.7L851.7 2405.1L855.4 2405.4L859.3 2405.7L863.3 2405.8L867.5 2406.0L872.1 2406.0L877.1 2405.9L882.5 2405.7L888.2 2405.5L894.1 2405.1L900.0 2404.8L905.9 2404.4L911.5 2404.0L916.7 2403.7L921.7 2403.3L926.6 2402.8L931.5 2402.3L936.2 2401.8L940.6 2401.3L944.9 2401.1L948.8 2401.1L952.3 2401.5L955.4 2402.5L958.0 2404.1L960.3 2406.1L962.3 2408.2L964.2 2410.2L966.1 2411.8L968.0 2412.7L970.1 2412.7L972.4 2411.6L974.8 2409.7L977.2 2407.2L979.6 2404.2L981.9 2401.0L984.1 2397.9L986.1 2395.0L987.9 2392.6L989.4 2390.5L990.8 2388.3L991.9 2386.1L992.9 2384.1L993.9 2382.4L994.8 2380.9L995.7 2379.9L996.8 2379.3L997.9 2379.3L998.8 2379.9L999.7 2380.8L1000.7 2382.1L1001.7 2383.6L1002.8 2385.1L1004.2 2386.7L1005.7 2388.2L1007.4 2389.8L1009.3 2391.6L1011.3 2393.5L1013.5 2395.5L1015.8 2397.5L1018.2 2399.2L1020.8 2400.5L1023.5 2401.5L1026.4 2402.0L1029.5 2402.0L1032.9 2401.7L1036.3 2401.2L1039.8 2400.6L1043.3 2400.1L1046.8 2399.6L1050.2 2399.3L1053.5 2399.2L1056.9 2399.1L1060.2 2399.0L1063.6 2399.0L1066.9 2399.0L1070.2 2399.1L1073.6 2399.2L1076.9 2399.3L1080.2 2399.5L1083.3 2399.9L1086.4 2400.3L1089.5 2400.7L1092.7 2401.1L1096.0 2401.4L1099.7 2401.5L1103.6 2401.5L1108.2 2401.2L1113.5 2400.8L1119.2 2400.1L1125.0 2399.4L1130.6 2398.7L1135.6 2398.0L1139.9 2397.5L1143.0 2397.1" fill="none" stroke="#B436B8" stroke-width="8" opacity="0.65" filter="url(#fBl)"/>
<rect x="609.2" y="2177.3" width="534.0" height="326.89999999999964" filter="url(#fMn)" mask="url(#cFGb)"/>
</g>
<circle cx="460" cy="2445" r="3" fill="#FF2A2A"/>
<circle cx="415" cy="2290" r="1.5" fill="#FF2A2A"/>
<circle cx="1021" cy="2277" r="2.5" fill="#FF2A2A"/>
<circle cx="878" cy="2345" r="3.5" fill="#FF2A2A"/>
<circle cx="940" cy="2361" r="2" fill="#FF2A2A"/>
<circle cx="715" cy="2438" r="2" fill="#FF2A2A"/>
<circle cx="1011" cy="2209" r="2" fill="#FF2A2A"/>
<circle cx="552" cy="2426" r="1.5" fill="#FF2A2A"/>
<text x="59.3" y="2497.3" font-size="23.4" fill="#E8323C" font-weight="bold">Gibbin</text>
<text x="183.6" y="2497.3" font-size="23.4" fill="#2FAE55" font-weight="bold">DSG3</text>
<text x="286.6" y="2497.3" font-size="23.4" fill="#E040A8" font-weight="bold">ITGA6</text>
<text x="529.0" y="2494.8" font-size="20.5" fill="#fff">50μm</text>
<line x1="530.5" y1="2499.8" x2="575.8" y2="2499.8" stroke="#fff" stroke-width="2" />
<text x="1087.6" y="2491.6" font-size="20.5" fill="#fff">50μm</text>
<line x1="1094.0" y1="2499.2" x2="1136.6" y2="2499.2" stroke="#fff" stroke-width="2" />
</g></svg></body></html>
